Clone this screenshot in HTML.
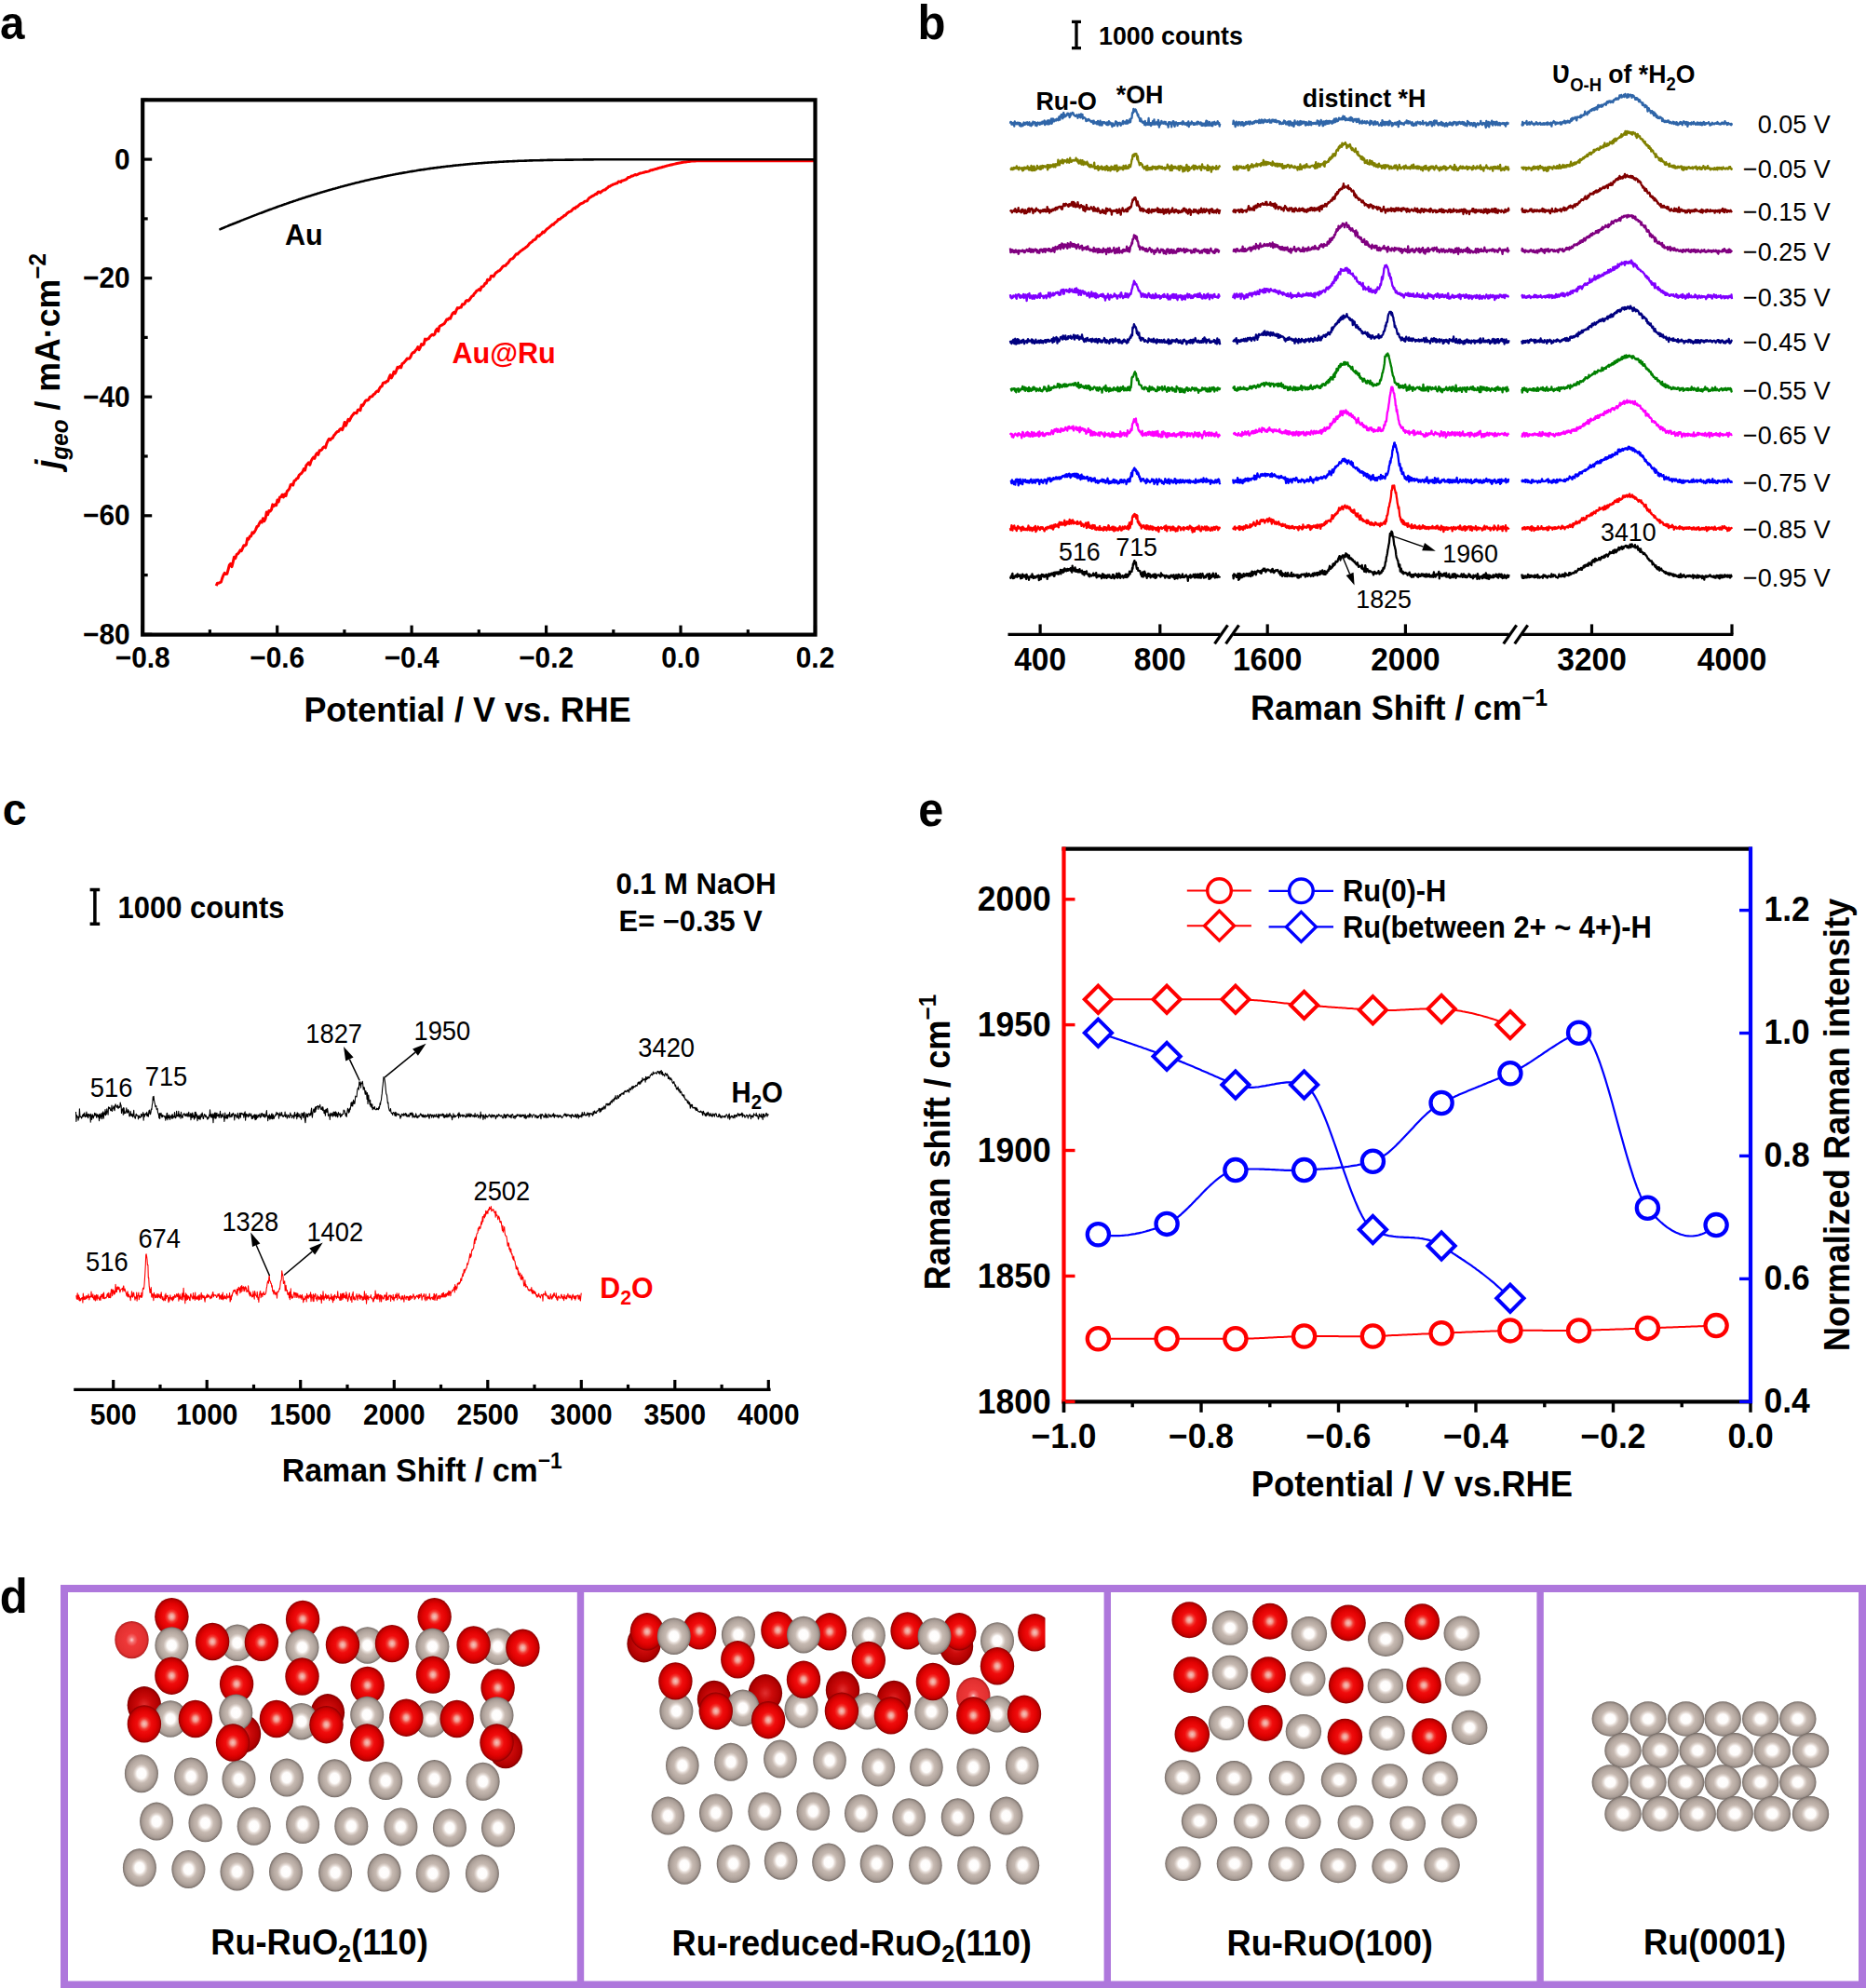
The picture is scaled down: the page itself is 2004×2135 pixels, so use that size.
<!DOCTYPE html>
<html><head><meta charset="utf-8"><title>Figure</title>
<style>html,body{margin:0;padding:0;background:#fff;} svg{display:block;}</style>
</head><body>
<svg width="2004" height="2135" viewBox="0 0 2004 2135" font-family="Liberation Sans, Arial, sans-serif">
<rect width="2004" height="2135" fill="#fff"/>
<defs>
<radialGradient id="gRu" cx="50%" cy="50%" r="50%">
<stop offset="0" stop-color="#ffffff"/><stop offset="0.27" stop-color="#fefcfb"/><stop offset="0.38" stop-color="#e2d8d2"/>
<stop offset="0.5" stop-color="#c6b9b1"/><stop offset="0.7" stop-color="#b8aba3"/><stop offset="0.86" stop-color="#a89c95"/><stop offset="0.95" stop-color="#8a7f79"/><stop offset="1" stop-color="#6e6560"/>
</radialGradient>
<radialGradient id="gRuB" cx="50%" cy="50%" r="50%">
<stop offset="0" stop-color="#f4f2f0"/><stop offset="0.3" stop-color="#e8e2de"/><stop offset="0.5" stop-color="#b8aea8"/>
<stop offset="0.85" stop-color="#9d938d"/><stop offset="1" stop-color="#736a66"/>
</radialGradient>
<radialGradient id="gO" cx="50%" cy="50%" r="50%">
<stop offset="0" stop-color="#f6c4bc"/><stop offset="0.14" stop-color="#f39a90"/><stop offset="0.28" stop-color="#f23a32"/><stop offset="0.42" stop-color="#f00c0c"/>
<stop offset="0.7" stop-color="#e00202"/><stop offset="0.88" stop-color="#c40000"/><stop offset="1" stop-color="#880000"/>
</radialGradient>
<radialGradient id="gOb" cx="50%" cy="50%" r="50%">
<stop offset="0" stop-color="#e03030"/><stop offset="0.4" stop-color="#cc0a0a"/><stop offset="0.85" stop-color="#b00000"/><stop offset="1" stop-color="#800000"/>
</radialGradient>
<radialGradient id="gOl" cx="50%" cy="50%" r="50%">
<stop offset="0" stop-color="#fbd0d0"/><stop offset="0.15" stop-color="#f47070"/><stop offset="0.35" stop-color="#ee3838"/>
<stop offset="0.85" stop-color="#e23030"/><stop offset="1" stop-color="#b02020"/>
</radialGradient>
<clipPath id="clipd2"><rect x="627" y="1710" width="495.5" height="420"/></clipPath>
</defs>
<ellipse cx="151.9" cy="1904.7" rx="18.0" ry="20.5" fill="url(#gRu)"/>
<ellipse cx="205.1" cy="1908.0" rx="18.0" ry="20.5" fill="url(#gRu)"/>
<ellipse cx="256.5" cy="1910.8" rx="18.0" ry="20.5" fill="url(#gRu)"/>
<ellipse cx="308.0" cy="1909.1" rx="18.0" ry="20.5" fill="url(#gRu)"/>
<ellipse cx="359.4" cy="1909.8" rx="18.0" ry="20.5" fill="url(#gRu)"/>
<ellipse cx="414.3" cy="1912.5" rx="18.0" ry="20.5" fill="url(#gRu)"/>
<ellipse cx="466.5" cy="1910.5" rx="18.0" ry="20.5" fill="url(#gRu)"/>
<ellipse cx="518.6" cy="1913.2" rx="18.0" ry="20.5" fill="url(#gRu)"/>
<ellipse cx="168.1" cy="1956.1" rx="18.0" ry="20.5" fill="url(#gRu)"/>
<ellipse cx="220.5" cy="1957.8" rx="18.0" ry="20.5" fill="url(#gRu)"/>
<ellipse cx="272.7" cy="1961.2" rx="18.0" ry="20.5" fill="url(#gRu)"/>
<ellipse cx="325.1" cy="1959.5" rx="18.0" ry="20.5" fill="url(#gRu)"/>
<ellipse cx="377.3" cy="1961.2" rx="18.0" ry="20.5" fill="url(#gRu)"/>
<ellipse cx="430.4" cy="1961.9" rx="18.0" ry="20.5" fill="url(#gRu)"/>
<ellipse cx="482.9" cy="1963.0" rx="18.0" ry="20.5" fill="url(#gRu)"/>
<ellipse cx="535.0" cy="1963.0" rx="18.0" ry="20.5" fill="url(#gRu)"/>
<ellipse cx="149.9" cy="2005.8" rx="18.0" ry="20.5" fill="url(#gRu)"/>
<ellipse cx="202.4" cy="2007.5" rx="18.0" ry="20.5" fill="url(#gRu)"/>
<ellipse cx="254.5" cy="2010.0" rx="18.0" ry="20.5" fill="url(#gRu)"/>
<ellipse cx="307.0" cy="2010.0" rx="18.0" ry="20.5" fill="url(#gRu)"/>
<ellipse cx="360.1" cy="2011.0" rx="18.0" ry="20.5" fill="url(#gRu)"/>
<ellipse cx="412.6" cy="2011.0" rx="18.0" ry="20.5" fill="url(#gRu)"/>
<ellipse cx="464.7" cy="2012.0" rx="18.0" ry="20.5" fill="url(#gRu)"/>
<ellipse cx="517.9" cy="2012.0" rx="18.0" ry="20.5" fill="url(#gRu)"/>
<ellipse cx="154.9" cy="1831.3" rx="18.2" ry="20.2" fill="url(#gOb)"/>
<ellipse cx="351.9" cy="1839.3" rx="18.2" ry="20.2" fill="url(#gOb)"/>
<ellipse cx="262.0" cy="1862.0" rx="18.2" ry="20.2" fill="url(#gOb)"/>
<ellipse cx="543.0" cy="1879.0" rx="18.2" ry="20.2" fill="url(#gOb)"/>
<ellipse cx="254.9" cy="1764.3" rx="18.0" ry="19.8" fill="url(#gRu)"/>
<ellipse cx="394.7" cy="1767.0" rx="18.0" ry="19.8" fill="url(#gRu)"/>
<ellipse cx="534.6" cy="1768.3" rx="18.0" ry="19.8" fill="url(#gRu)"/>
<ellipse cx="183.1" cy="1846.0" rx="18.0" ry="19.8" fill="url(#gRu)"/>
<ellipse cx="323.7" cy="1848.7" rx="18.0" ry="19.8" fill="url(#gRu)"/>
<ellipse cx="463.1" cy="1846.0" rx="18.0" ry="19.8" fill="url(#gRu)"/>
<ellipse cx="141.5" cy="1761.1" rx="18.2" ry="20.2" fill="url(#gOl)"/>
<ellipse cx="184.4" cy="1736.2" rx="18.2" ry="20.2" fill="url(#gO)"/>
<ellipse cx="466.6" cy="1736.2" rx="18.2" ry="20.2" fill="url(#gO)"/>
<ellipse cx="325.1" cy="1738.9" rx="18.2" ry="20.2" fill="url(#gO)"/>
<ellipse cx="228.1" cy="1763.0" rx="18.2" ry="20.2" fill="url(#gO)"/>
<ellipse cx="280.9" cy="1763.8" rx="18.2" ry="20.2" fill="url(#gO)"/>
<ellipse cx="421.0" cy="1765.1" rx="18.2" ry="20.2" fill="url(#gO)"/>
<ellipse cx="368.0" cy="1766.5" rx="18.2" ry="20.2" fill="url(#gO)"/>
<ellipse cx="508.6" cy="1766.5" rx="18.2" ry="20.2" fill="url(#gO)"/>
<ellipse cx="184.4" cy="1767.0" rx="18.0" ry="19.8" fill="url(#gRu)"/>
<ellipse cx="464.4" cy="1768.3" rx="18.0" ry="19.8" fill="url(#gRu)"/>
<ellipse cx="324.5" cy="1769.1" rx="18.0" ry="19.8" fill="url(#gRu)"/>
<ellipse cx="561.4" cy="1769.7" rx="18.2" ry="20.2" fill="url(#gO)"/>
<ellipse cx="465.0" cy="1798.6" rx="18.2" ry="20.2" fill="url(#gO)"/>
<ellipse cx="184.4" cy="1799.7" rx="18.2" ry="20.2" fill="url(#gO)"/>
<ellipse cx="324.5" cy="1800.5" rx="18.2" ry="20.2" fill="url(#gO)"/>
<ellipse cx="254.1" cy="1808.5" rx="18.2" ry="20.2" fill="url(#gO)"/>
<ellipse cx="394.7" cy="1809.9" rx="18.2" ry="20.2" fill="url(#gO)"/>
<ellipse cx="534.6" cy="1812.5" rx="18.2" ry="20.2" fill="url(#gO)"/>
<ellipse cx="253.3" cy="1839.3" rx="18.0" ry="19.8" fill="url(#gRu)"/>
<ellipse cx="394.2" cy="1841.5" rx="18.0" ry="19.8" fill="url(#gRu)"/>
<ellipse cx="533.5" cy="1842.0" rx="18.0" ry="19.8" fill="url(#gRu)"/>
<ellipse cx="436.3" cy="1844.7" rx="18.2" ry="20.2" fill="url(#gO)"/>
<ellipse cx="209.9" cy="1846.0" rx="18.2" ry="20.2" fill="url(#gO)"/>
<ellipse cx="296.9" cy="1846.0" rx="18.2" ry="20.2" fill="url(#gO)"/>
<ellipse cx="490.7" cy="1846.0" rx="18.2" ry="20.2" fill="url(#gO)"/>
<ellipse cx="154.9" cy="1851.4" rx="18.2" ry="20.2" fill="url(#gO)"/>
<ellipse cx="350.5" cy="1852.2" rx="18.2" ry="20.2" fill="url(#gO)"/>
<ellipse cx="250.0" cy="1871.5" rx="18.2" ry="20.2" fill="url(#gO)"/>
<ellipse cx="394.2" cy="1871.5" rx="18.2" ry="20.2" fill="url(#gO)"/>
<ellipse cx="533.5" cy="1871.5" rx="18.2" ry="20.2" fill="url(#gO)"/>
<g clip-path="url(#clipd2)">
<ellipse cx="732.8" cy="1896.1" rx="17.8" ry="20.5" fill="url(#gRu)"/>
<ellipse cx="784.9" cy="1892.2" rx="17.8" ry="20.5" fill="url(#gRu)"/>
<ellipse cx="837.9" cy="1889.0" rx="17.8" ry="20.5" fill="url(#gRu)"/>
<ellipse cx="891.0" cy="1890.6" rx="17.8" ry="20.5" fill="url(#gRu)"/>
<ellipse cx="943.4" cy="1898.0" rx="17.8" ry="20.5" fill="url(#gRu)"/>
<ellipse cx="994.9" cy="1898.0" rx="17.8" ry="20.5" fill="url(#gRu)"/>
<ellipse cx="1045.3" cy="1898.0" rx="17.8" ry="20.5" fill="url(#gRu)"/>
<ellipse cx="1097.7" cy="1896.1" rx="17.8" ry="20.5" fill="url(#gRu)"/>
<ellipse cx="717.4" cy="1950.1" rx="17.8" ry="20.5" fill="url(#gRu)"/>
<ellipse cx="768.8" cy="1946.9" rx="17.8" ry="20.5" fill="url(#gRu)"/>
<ellipse cx="821.2" cy="1945.3" rx="17.8" ry="20.5" fill="url(#gRu)"/>
<ellipse cx="873.3" cy="1945.3" rx="17.8" ry="20.5" fill="url(#gRu)"/>
<ellipse cx="924.8" cy="1947.5" rx="17.8" ry="20.5" fill="url(#gRu)"/>
<ellipse cx="976.2" cy="1951.7" rx="17.8" ry="20.5" fill="url(#gRu)"/>
<ellipse cx="1028.6" cy="1951.7" rx="17.8" ry="20.5" fill="url(#gRu)"/>
<ellipse cx="1080.7" cy="1950.1" rx="17.8" ry="20.5" fill="url(#gRu)"/>
<ellipse cx="735.0" cy="2003.2" rx="17.8" ry="20.5" fill="url(#gRu)"/>
<ellipse cx="787.5" cy="2001.5" rx="17.8" ry="20.5" fill="url(#gRu)"/>
<ellipse cx="838.6" cy="1998.3" rx="17.8" ry="20.5" fill="url(#gRu)"/>
<ellipse cx="890.0" cy="1999.9" rx="17.8" ry="20.5" fill="url(#gRu)"/>
<ellipse cx="941.5" cy="2001.5" rx="17.8" ry="20.5" fill="url(#gRu)"/>
<ellipse cx="993.9" cy="2003.2" rx="17.8" ry="20.5" fill="url(#gRu)"/>
<ellipse cx="1046.0" cy="2003.2" rx="17.8" ry="20.5" fill="url(#gRu)"/>
<ellipse cx="1098.4" cy="2003.2" rx="17.8" ry="20.5" fill="url(#gRu)"/>
<ellipse cx="691.6" cy="1765.2" rx="18.2" ry="20.2" fill="url(#gOb)"/>
<ellipse cx="1027.0" cy="1768.0" rx="18.2" ry="20.2" fill="url(#gOb)"/>
<ellipse cx="767.0" cy="1825.0" rx="18.2" ry="20.2" fill="url(#gOb)"/>
<ellipse cx="821.9" cy="1818.3" rx="18.2" ry="20.2" fill="url(#gOb)"/>
<ellipse cx="905.0" cy="1815.0" rx="18.2" ry="20.2" fill="url(#gOb)"/>
<ellipse cx="960.0" cy="1825.0" rx="18.2" ry="20.2" fill="url(#gOb)"/>
<ellipse cx="1045.3" cy="1821.5" rx="18.2" ry="20.2" fill="url(#gOl)"/>
<ellipse cx="792.9" cy="1755.6" rx="18.0" ry="19.8" fill="url(#gRu)"/>
<ellipse cx="932.8" cy="1756.2" rx="18.0" ry="19.8" fill="url(#gRu)"/>
<ellipse cx="1071.0" cy="1762.0" rx="18.0" ry="19.8" fill="url(#gRu)"/>
<ellipse cx="726.4" cy="1837.6" rx="18.0" ry="19.8" fill="url(#gRu)"/>
<ellipse cx="797.7" cy="1834.3" rx="18.0" ry="19.8" fill="url(#gRu)"/>
<ellipse cx="860.5" cy="1836.0" rx="18.0" ry="19.8" fill="url(#gRu)"/>
<ellipse cx="931.2" cy="1837.6" rx="18.0" ry="19.8" fill="url(#gRu)"/>
<ellipse cx="1000.3" cy="1838.2" rx="18.0" ry="19.8" fill="url(#gRu)"/>
<ellipse cx="1071.0" cy="1840.8" rx="18.0" ry="19.8" fill="url(#gRu)"/>
<ellipse cx="835.4" cy="1750.7" rx="18.2" ry="20.2" fill="url(#gO)"/>
<ellipse cx="751.1" cy="1751.4" rx="18.2" ry="20.2" fill="url(#gO)"/>
<ellipse cx="974.6" cy="1751.4" rx="18.2" ry="20.2" fill="url(#gO)"/>
<ellipse cx="694.9" cy="1752.3" rx="18.2" ry="20.2" fill="url(#gO)"/>
<ellipse cx="891.0" cy="1752.3" rx="18.2" ry="20.2" fill="url(#gO)"/>
<ellipse cx="1030.2" cy="1752.3" rx="18.2" ry="20.2" fill="url(#gO)"/>
<ellipse cx="1111.3" cy="1753.3" rx="18.2" ry="20.2" fill="url(#gO)"/>
<ellipse cx="863.0" cy="1755.6" rx="18.0" ry="19.8" fill="url(#gRu)"/>
<ellipse cx="723.8" cy="1757.2" rx="18.0" ry="19.8" fill="url(#gRu)"/>
<ellipse cx="1003.5" cy="1757.2" rx="18.0" ry="19.8" fill="url(#gRu)"/>
<ellipse cx="792.3" cy="1782.3" rx="18.2" ry="20.2" fill="url(#gO)"/>
<ellipse cx="932.8" cy="1782.9" rx="18.2" ry="20.2" fill="url(#gO)"/>
<ellipse cx="1071.0" cy="1789.3" rx="18.2" ry="20.2" fill="url(#gO)"/>
<ellipse cx="863.0" cy="1803.8" rx="18.2" ry="20.2" fill="url(#gO)"/>
<ellipse cx="725.4" cy="1805.4" rx="18.2" ry="20.2" fill="url(#gO)"/>
<ellipse cx="1001.9" cy="1806.0" rx="18.2" ry="20.2" fill="url(#gO)"/>
<ellipse cx="768.8" cy="1837.6" rx="18.2" ry="20.2" fill="url(#gO)"/>
<ellipse cx="903.9" cy="1837.6" rx="18.2" ry="20.2" fill="url(#gO)"/>
<ellipse cx="1100.0" cy="1840.8" rx="18.2" ry="20.2" fill="url(#gO)"/>
<ellipse cx="956.9" cy="1842.4" rx="18.2" ry="20.2" fill="url(#gO)"/>
<ellipse cx="1045.3" cy="1842.4" rx="18.2" ry="20.2" fill="url(#gO)"/>
<ellipse cx="825.1" cy="1847.2" rx="18.2" ry="20.2" fill="url(#gO)"/>
</g>
<ellipse cx="1270.0" cy="1908.9" rx="19.2" ry="18.6" fill="url(#gRu)"/>
<ellipse cx="1325.3" cy="1909.7" rx="19.2" ry="18.6" fill="url(#gRu)"/>
<ellipse cx="1381.9" cy="1909.7" rx="19.2" ry="18.6" fill="url(#gRu)"/>
<ellipse cx="1438.0" cy="1911.5" rx="19.2" ry="18.6" fill="url(#gRu)"/>
<ellipse cx="1492.5" cy="1912.8" rx="19.2" ry="18.6" fill="url(#gRu)"/>
<ellipse cx="1546.6" cy="1910.2" rx="19.2" ry="18.6" fill="url(#gRu)"/>
<ellipse cx="1288.0" cy="1955.8" rx="19.2" ry="18.6" fill="url(#gRu)"/>
<ellipse cx="1344.1" cy="1955.8" rx="19.2" ry="18.6" fill="url(#gRu)"/>
<ellipse cx="1399.4" cy="1956.5" rx="19.2" ry="18.6" fill="url(#gRu)"/>
<ellipse cx="1455.8" cy="1957.3" rx="19.2" ry="18.6" fill="url(#gRu)"/>
<ellipse cx="1511.8" cy="1958.3" rx="19.2" ry="18.6" fill="url(#gRu)"/>
<ellipse cx="1567.1" cy="1955.8" rx="19.2" ry="18.6" fill="url(#gRu)"/>
<ellipse cx="1270.5" cy="2001.5" rx="19.2" ry="18.6" fill="url(#gRu)"/>
<ellipse cx="1325.9" cy="2001.5" rx="19.2" ry="18.6" fill="url(#gRu)"/>
<ellipse cx="1381.4" cy="2002.0" rx="19.2" ry="18.6" fill="url(#gRu)"/>
<ellipse cx="1437.2" cy="2003.6" rx="19.2" ry="18.6" fill="url(#gRu)"/>
<ellipse cx="1492.5" cy="2004.1" rx="19.2" ry="18.6" fill="url(#gRu)"/>
<ellipse cx="1548.6" cy="2002.8" rx="19.2" ry="18.6" fill="url(#gRu)"/>
<ellipse cx="1321.0" cy="1748.2" rx="19.2" ry="18.6" fill="url(#gRu)"/>
<ellipse cx="1405.9" cy="1754.6" rx="19.2" ry="18.6" fill="url(#gRu)"/>
<ellipse cx="1488.2" cy="1760.3" rx="19.2" ry="18.6" fill="url(#gRu)"/>
<ellipse cx="1569.7" cy="1754.1" rx="19.2" ry="18.6" fill="url(#gRu)"/>
<ellipse cx="1321.0" cy="1796.3" rx="19.2" ry="18.6" fill="url(#gRu)"/>
<ellipse cx="1404.3" cy="1803.0" rx="19.2" ry="18.6" fill="url(#gRu)"/>
<ellipse cx="1487.9" cy="1810.7" rx="19.2" ry="18.6" fill="url(#gRu)"/>
<ellipse cx="1571.0" cy="1803.0" rx="19.2" ry="18.6" fill="url(#gRu)"/>
<ellipse cx="1317.1" cy="1850.5" rx="19.2" ry="18.6" fill="url(#gRu)"/>
<ellipse cx="1399.9" cy="1859.6" rx="19.2" ry="18.6" fill="url(#gRu)"/>
<ellipse cx="1489.5" cy="1861.4" rx="19.2" ry="18.6" fill="url(#gRu)"/>
<ellipse cx="1578.2" cy="1855.4" rx="19.2" ry="18.6" fill="url(#gRu)"/>
<ellipse cx="1277.2" cy="1739.7" rx="18.8" ry="19.5" fill="url(#gO)"/>
<ellipse cx="1363.9" cy="1741.2" rx="18.8" ry="19.5" fill="url(#gO)"/>
<ellipse cx="1448.0" cy="1743.0" rx="18.8" ry="19.5" fill="url(#gO)"/>
<ellipse cx="1527.3" cy="1741.7" rx="18.8" ry="19.5" fill="url(#gO)"/>
<ellipse cx="1279.0" cy="1798.8" rx="18.8" ry="19.5" fill="url(#gO)"/>
<ellipse cx="1362.1" cy="1798.8" rx="18.8" ry="19.5" fill="url(#gO)"/>
<ellipse cx="1445.7" cy="1809.9" rx="18.8" ry="19.5" fill="url(#gO)"/>
<ellipse cx="1529.1" cy="1809.9" rx="18.8" ry="19.5" fill="url(#gO)"/>
<ellipse cx="1280.3" cy="1862.6" rx="18.8" ry="19.5" fill="url(#gO)"/>
<ellipse cx="1358.8" cy="1850.5" rx="18.8" ry="19.5" fill="url(#gO)"/>
<ellipse cx="1444.4" cy="1865.2" rx="18.8" ry="19.5" fill="url(#gO)"/>
<ellipse cx="1535.0" cy="1864.7" rx="18.8" ry="19.5" fill="url(#gO)"/>
<ellipse cx="1729.3" cy="1846.0" rx="19.7" ry="18.8" fill="url(#gRu)"/>
<ellipse cx="1770.0" cy="1846.0" rx="19.7" ry="18.8" fill="url(#gRu)"/>
<ellipse cx="1810.6" cy="1846.0" rx="19.7" ry="18.8" fill="url(#gRu)"/>
<ellipse cx="1850.2" cy="1846.0" rx="19.7" ry="18.8" fill="url(#gRu)"/>
<ellipse cx="1890.7" cy="1846.0" rx="19.7" ry="18.8" fill="url(#gRu)"/>
<ellipse cx="1930.8" cy="1846.0" rx="19.7" ry="18.8" fill="url(#gRu)"/>
<ellipse cx="1743.0" cy="1879.9" rx="19.7" ry="18.8" fill="url(#gRu)"/>
<ellipse cx="1783.1" cy="1879.9" rx="19.7" ry="18.8" fill="url(#gRu)"/>
<ellipse cx="1823.2" cy="1879.9" rx="19.7" ry="18.8" fill="url(#gRu)"/>
<ellipse cx="1863.2" cy="1879.9" rx="19.7" ry="18.8" fill="url(#gRu)"/>
<ellipse cx="1903.3" cy="1879.9" rx="19.7" ry="18.8" fill="url(#gRu)"/>
<ellipse cx="1944.5" cy="1879.9" rx="19.7" ry="18.8" fill="url(#gRu)"/>
<ellipse cx="1729.3" cy="1914.0" rx="19.7" ry="18.8" fill="url(#gRu)"/>
<ellipse cx="1770.0" cy="1914.0" rx="19.7" ry="18.8" fill="url(#gRu)"/>
<ellipse cx="1810.6" cy="1914.0" rx="19.7" ry="18.8" fill="url(#gRu)"/>
<ellipse cx="1850.2" cy="1914.0" rx="19.7" ry="18.8" fill="url(#gRu)"/>
<ellipse cx="1890.7" cy="1914.0" rx="19.7" ry="18.8" fill="url(#gRu)"/>
<ellipse cx="1930.8" cy="1914.0" rx="19.7" ry="18.8" fill="url(#gRu)"/>
<ellipse cx="1743.0" cy="1947.9" rx="19.7" ry="18.8" fill="url(#gRu)"/>
<ellipse cx="1783.1" cy="1947.9" rx="19.7" ry="18.8" fill="url(#gRu)"/>
<ellipse cx="1823.2" cy="1947.9" rx="19.7" ry="18.8" fill="url(#gRu)"/>
<ellipse cx="1863.2" cy="1947.9" rx="19.7" ry="18.8" fill="url(#gRu)"/>
<ellipse cx="1903.3" cy="1947.9" rx="19.7" ry="18.8" fill="url(#gRu)"/>
<ellipse cx="1944.5" cy="1947.9" rx="19.7" ry="18.8" fill="url(#gRu)"/>
<rect x="69" y="1706" width="1931" height="425.5" fill="none" stroke="#AE77DC" stroke-width="8"/>
<line x1="623.5" y1="1706" x2="623.5" y2="2131" stroke="#AE77DC" stroke-width="7.4"/>
<line x1="1189.3" y1="1706" x2="1189.3" y2="2131" stroke="#AE77DC" stroke-width="7.4"/>
<line x1="1654.1" y1="1706" x2="1654.1" y2="2131" stroke="#AE77DC" stroke-width="7.4"/>
<text transform="translate(343.0,2099.2) scale(1.012,1.065)" font-size="35.8" font-weight="bold" text-anchor="middle">Ru-RuO<tspan font-size="25" dy="7">2</tspan><tspan dy="-7">(110)</tspan></text>
<text transform="translate(914.7,2099.6) scale(1.012,1.065)" font-size="35.8" font-weight="bold" text-anchor="middle">Ru-reduced-RuO<tspan font-size="25" dy="7">2</tspan><tspan dy="-7">(110)</tspan></text>
<text transform="translate(1428.2,2099.9) scale(1.012,1.065)" font-size="35.8" font-weight="bold" text-anchor="middle">Ru-RuO(100)</text>
<text transform="translate(1841.5,2099.0) scale(1.012,1.065)" font-size="35.8" font-weight="bold" text-anchor="middle">Ru(0001)</text>
<text transform="translate(-0.3,1732.2) scale(1.012,1.065)" font-size="48.5" font-weight="bold">d</text>
<polyline points="232.2,629.2 233.5,626.2 234.8,626.3 236.1,625.6 237.4,625.1 238.6,621.1 239.9,617.8 241.2,615.4 242.5,616.5 243.8,616.3 245.1,611.7 246.4,606.7 247.7,605.4 249.0,608.6 250.2,603.9 251.5,598.2 252.8,599.6 254.1,595.6 255.4,594.8 256.7,593.2 258.0,590.9 259.3,591.6 260.6,588.6 261.9,585.7 263.1,585.9 264.4,585.0 265.7,578.2 267.0,579.2 268.3,576.0 269.6,575.9 270.9,571.9 272.2,572.7 273.5,570.9 274.7,568.6 276.0,565.4 277.3,565.0 278.6,561.9 279.9,559.7 281.2,561.1 282.5,556.8 283.8,559.6 285.1,557.0 286.3,550.1 287.6,552.8 288.9,548.5 290.2,549.0 291.5,547.4 292.8,541.9 294.1,543.6 295.4,541.9 296.7,542.6 297.9,537.0 299.2,539.0 300.5,533.9 301.8,533.8 303.1,531.2 304.4,533.9 305.7,530.7 307.0,532.5 308.3,527.6 309.6,526.4 310.8,524.9 312.1,520.7 313.4,520.1 314.7,521.1 316.0,516.4 317.3,515.9 318.6,514.0 319.9,513.6 321.2,510.4 322.4,509.2 323.7,508.4 325.0,506.7 326.3,503.5 327.6,505.0 328.9,499.7 330.2,498.4 331.5,496.8 332.8,499.2 334.0,495.4 335.3,492.9 336.6,491.2 337.9,492.3 339.2,488.4 340.5,486.6 341.8,488.3 343.1,483.8 344.4,483.8 345.6,482.9 346.9,480.7 348.2,479.9 349.5,480.8 350.8,476.3 352.1,473.6 353.4,471.3 354.7,472.5 356.0,470.9 357.3,470.4 358.5,467.8 359.8,466.4 361.1,464.6 362.4,463.5 363.7,463.2 365.0,461.0 366.3,460.3 367.6,461.7 368.9,458.1 370.1,453.5 371.4,457.2 372.7,453.7 374.0,450.4 375.3,451.8 376.6,449.1 377.9,446.7 379.2,445.3 380.5,443.4 381.7,443.6 383.0,443.8 384.3,440.3 385.6,440.1 386.9,440.8 388.2,435.0 389.5,435.7 390.8,433.6 392.1,431.1 393.3,429.8 394.6,429.9 395.9,429.2 397.2,426.5 398.5,426.0 399.8,425.6 401.1,423.6 402.4,423.1 403.7,421.2 404.9,419.9 406.2,420.4 407.5,417.4 408.8,415.4 410.1,414.9 411.4,411.3 412.7,410.8 414.0,411.0 415.3,409.4 416.6,409.3 417.8,405.9 419.1,402.7 420.4,405.9 421.7,403.4 423.0,399.3 424.3,401.1 425.6,398.1 426.9,394.4 428.2,394.9 429.4,393.5 430.7,394.8 432.0,390.5 433.3,389.9 434.6,388.5 435.9,387.1 437.2,385.1 438.5,385.2 439.8,385.0 441.0,383.1 442.3,379.9 443.6,378.4 444.9,378.6 446.2,376.3 447.5,375.2 448.8,372.6 450.1,375.6 451.4,373.1 452.6,369.6 453.9,370.5 455.2,369.7 456.5,364.1 457.8,365.0 459.1,363.9 460.4,363.8 461.7,361.6 463.0,360.2 464.3,359.2 465.5,360.0 466.8,359.1 468.1,354.8 469.4,353.1 470.7,355.8 472.0,350.5 473.3,349.7 474.6,349.1 475.9,348.3 477.1,347.6 478.4,345.7 479.7,343.1 481.0,343.3 482.3,341.7 483.6,342.2 484.9,339.0 486.2,336.4 487.5,335.4 488.7,336.7 490.0,333.4 491.3,330.6 492.6,330.9 493.9,330.2 495.2,330.1 496.5,326.8 497.8,327.1 499.1,326.0 500.3,323.4 501.6,322.6 502.9,323.2 504.2,321.9 505.5,319.9 506.8,318.2 508.1,317.7 509.4,315.3 510.7,314.1 512.0,312.2 513.2,311.8 514.5,310.5 515.8,311.8 517.1,307.9 518.4,308.0 519.7,306.8 521.0,304.3 522.3,304.3 523.6,300.2 524.8,300.9 526.1,300.4 527.4,296.5 528.7,296.3 530.0,296.9 531.3,294.7 532.6,292.8 533.9,292.2 535.2,290.9 536.4,290.7 537.7,289.3 539.0,287.6 540.3,286.1 541.6,285.4 542.9,285.3 544.2,283.4 545.5,282.5 546.8,280.7 548.0,278.7 549.3,278.0 550.6,277.8 551.9,276.3 553.2,274.4 554.5,272.8 555.8,272.9 557.1,271.4 558.4,270.3 559.7,269.2 560.9,268.5 562.2,267.4 563.5,266.7 564.8,265.6 566.1,264.7 567.4,263.3 568.7,261.4 570.0,260.5 571.3,259.8 572.5,258.2 573.8,257.6 575.1,256.9 576.4,254.7 577.7,253.0 579.0,253.7 580.3,252.0 581.6,251.3 582.9,249.1 584.1,249.8 585.4,248.2 586.7,246.6 588.0,245.5 589.3,244.7 590.6,243.5 591.9,242.4 593.2,241.0 594.5,241.2 595.7,239.5 597.0,238.6 598.3,237.6 599.6,235.4 600.9,235.8 602.2,234.4 603.5,233.5 604.8,232.7 606.1,231.2 607.4,231.2 608.6,229.5 609.9,228.4 611.2,227.5 612.5,227.1 613.8,226.4 615.1,224.8 616.4,223.5 617.7,223.9 619.0,221.9 620.2,222.1 621.5,220.6 622.8,219.4 624.1,218.6 625.4,218.3 626.7,217.6 628.0,216.2 629.3,216.0 630.6,215.7 631.8,213.7 633.1,212.4 634.4,211.7 635.7,210.7 637.0,210.3 638.3,209.4 639.6,208.3 640.9,208.5 642.2,206.2 643.4,206.0 644.7,207.0 646.0,205.7 647.3,204.7 648.6,204.0 649.9,203.9 651.2,202.6 652.5,201.7 653.8,200.3 655.1,200.2 656.3,199.2 657.6,198.6 658.9,197.9 660.2,197.6 661.5,196.9 662.8,196.8 664.1,195.1 665.4,195.1 666.7,195.5 667.9,194.0 669.2,194.0 670.5,193.4 671.8,193.0 673.1,192.2 674.4,190.6 675.7,190.6 677.0,190.0 678.3,189.0 679.5,189.0 680.8,188.2 682.1,187.5 683.4,188.0 684.7,187.4 686.0,186.7 687.3,186.1 688.6,185.9 689.9,185.6 691.1,185.2 692.4,185.0 693.7,184.4 695.0,184.4 696.3,184.1 697.6,183.6 698.9,182.7 700.2,182.7 701.5,182.3 702.8,181.9 704.0,181.5 705.3,181.2 706.6,180.8 707.9,180.4 709.2,180.0 710.5,179.7 711.8,179.3 713.1,179.0 714.4,178.6 715.6,178.3 716.9,177.9 718.2,177.6 719.5,177.3 720.8,177.0 722.1,176.7 723.4,176.4 724.7,176.1 726.0,175.8 727.2,175.5 728.5,175.2 729.8,175.0 731.1,174.8 732.4,174.5 733.7,174.3 735.0,174.1 736.3,173.9 737.6,173.7 738.8,173.6 740.1,173.4 741.4,173.3 742.7,173.1 744.0,173.0 745.3,172.9 746.6,172.9 747.9,172.8 749.2,172.7 750.4,172.7 751.7,172.7 753.0,172.7 754.3,172.7 755.6,172.7 756.9,172.7 758.2,172.7 759.5,172.7 760.8,172.7 762.1,172.7 763.3,172.7 764.6,172.7 765.9,172.7 767.2,172.7 768.5,172.7 769.8,172.7 771.1,172.7 772.4,172.7 773.7,172.7 774.9,172.7 776.2,172.7 777.5,172.7 778.8,172.7 780.1,172.7 781.4,172.7 782.7,172.7 784.0,172.7 785.3,172.7 786.5,172.7 787.8,172.7 789.1,172.7 790.4,172.7 791.7,172.7 793.0,172.7 794.3,172.7 795.6,172.7 796.9,172.7 798.1,172.7 799.4,172.7 800.7,172.7 802.0,172.7 803.3,172.7 804.6,172.7 805.9,172.7 807.2,172.7 808.5,172.7 809.8,172.7 811.0,172.7 812.3,172.7 813.6,172.7 814.9,172.7 816.2,172.7 817.5,172.7 818.8,172.7 820.1,172.7 821.4,172.7 822.6,172.7 823.9,172.7 825.2,172.7 826.5,172.7 827.8,172.7 829.1,172.7 830.4,172.7 831.7,172.7 833.0,172.7 834.2,172.7 835.5,172.7 836.8,172.7 838.1,172.7 839.4,172.7 840.7,172.7 842.0,172.7 843.3,172.7 844.6,172.7 845.8,172.7 847.1,172.7 848.4,172.7 849.7,172.7 851.0,172.7 852.3,172.7 853.6,172.7 854.9,172.7 856.2,172.7 857.5,172.7 858.7,172.7 860.0,172.7 861.3,172.7 862.6,172.7 863.9,172.7 865.2,172.7 866.5,172.7 867.8,172.7 869.1,172.7 870.3,172.7 871.6,172.7 872.9,172.7 874.2,172.7 875.5,172.7" fill="none" stroke="#f00" stroke-width="3.0" stroke-linejoin="round"/>
<polyline points="235.4,246.6 236.7,246.1 238.0,245.5 239.2,245.0 240.5,244.5 241.8,243.9 243.1,243.4 244.4,242.9 245.7,242.3 246.9,241.8 248.2,241.3 249.5,240.8 250.8,240.2 252.1,239.7 253.4,239.2 254.6,238.7 255.9,238.2 257.2,237.7 258.5,237.1 259.8,236.6 261.1,236.1 262.3,235.6 263.6,235.1 264.9,234.6 266.2,234.1 267.5,233.6 268.8,233.1 270.0,232.6 271.3,232.1 272.6,231.6 273.9,231.1 275.2,230.6 276.4,230.1 277.7,229.6 279.0,229.1 280.3,228.7 281.6,228.2 282.9,227.7 284.1,227.2 285.4,226.7 286.7,226.3 288.0,225.8 289.3,225.3 290.6,224.8 291.8,224.4 293.1,223.9 294.4,223.4 295.7,223.0 297.0,222.5 298.3,222.0 299.5,221.6 300.8,221.1 302.1,220.7 303.4,220.2 304.7,219.8 306.0,219.3 307.2,218.9 308.5,218.4 309.8,218.0 311.1,217.5 312.4,217.1 313.6,216.7 314.9,216.2 316.2,215.8 317.5,215.4 318.8,214.9 320.1,214.5 321.3,214.1 322.6,213.7 323.9,213.3 325.2,212.8 326.5,212.4 327.8,212.0 329.0,211.6 330.3,211.2 331.6,210.8 332.9,210.4 334.2,210.0 335.5,209.6 336.7,209.2 338.0,208.8 339.3,208.4 340.6,208.0 341.9,207.6 343.2,207.2 344.4,206.8 345.7,206.4 347.0,206.1 348.3,205.7 349.6,205.3 350.8,204.9 352.1,204.6 353.4,204.2 354.7,203.8 356.0,203.5 357.3,203.1 358.5,202.7 359.8,202.4 361.1,202.0 362.4,201.7 363.7,201.3 365.0,201.0 366.2,200.6 367.5,200.3 368.8,199.9 370.1,199.6 371.4,199.2 372.7,198.9 373.9,198.6 375.2,198.2 376.5,197.9 377.8,197.6 379.1,197.2 380.4,196.9 381.6,196.6 382.9,196.3 384.2,196.0 385.5,195.7 386.8,195.3 388.0,195.0 389.3,194.7 390.6,194.4 391.9,194.1 393.2,193.8 394.5,193.5 395.7,193.2 397.0,192.9 398.3,192.6 399.6,192.3 400.9,192.1 402.2,191.8 403.4,191.5 404.7,191.2 406.0,190.9 407.3,190.7 408.6,190.4 409.9,190.1 411.1,189.9 412.4,189.6 413.7,189.3 415.0,189.1 416.3,188.8 417.6,188.5 418.8,188.3 420.1,188.0 421.4,187.8 422.7,187.5 424.0,187.3 425.2,187.0 426.5,186.8 427.8,186.6 429.1,186.3 430.4,186.1 431.7,185.9 432.9,185.6 434.2,185.4 435.5,185.2 436.8,185.0 438.1,184.7 439.4,184.5 440.6,184.3 441.9,184.1 443.2,183.9 444.5,183.7 445.8,183.5 447.1,183.3 448.3,183.0 449.6,182.8 450.9,182.6 452.2,182.4 453.5,182.3 454.8,182.1 456.0,181.9 457.3,181.7 458.6,181.5 459.9,181.3 461.2,181.1 462.4,180.9 463.7,180.8 465.0,180.6 466.3,180.4 467.6,180.3 468.9,180.1 470.1,179.9 471.4,179.7 472.7,179.6 474.0,179.4 475.3,179.3 476.6,179.1 477.8,179.0 479.1,178.8 480.4,178.6 481.7,178.5 483.0,178.4 484.3,178.2 485.5,178.1 486.8,177.9 488.1,177.8 489.4,177.6 490.7,177.5 492.0,177.4 493.2,177.2 494.5,177.1 495.8,177.0 497.1,176.9 498.4,176.7 499.6,176.6 500.9,176.5 502.2,176.4 503.5,176.3 504.8,176.1 506.1,176.0 507.3,175.9 508.6,175.8 509.9,175.7 511.2,175.6 512.5,175.5 513.8,175.4 515.0,175.3 516.3,175.2 517.6,175.1 518.9,175.0 520.2,174.9 521.5,174.8 522.7,174.7 524.0,174.6 525.3,174.5 526.6,174.5 527.9,174.4 529.2,174.3 530.4,174.2 531.7,174.1 533.0,174.1 534.3,174.0 535.6,173.9 536.8,173.8 538.1,173.8 539.4,173.7 540.7,173.6 542.0,173.5 543.3,173.5 544.5,173.4 545.8,173.4 547.1,173.3 548.4,173.2 549.7,173.2 551.0,173.1 552.2,173.1 553.5,173.0 554.8,173.0 556.1,172.9 557.4,172.8 558.7,172.8 559.9,172.7 561.2,172.7 562.5,172.7 563.8,172.6 565.1,172.6 566.4,172.5 567.6,172.5 568.9,172.4 570.2,172.4 571.5,172.4 572.8,172.3 574.1,172.3 575.3,172.3 576.6,172.2 577.9,172.2 579.2,172.2 580.5,172.1 581.7,172.1 583.0,172.1 584.3,172.0 585.6,172.0 586.9,172.0 588.2,171.9 589.4,171.9 590.7,171.9 592.0,171.9 593.3,171.9 594.6,171.8 595.9,171.8 597.1,171.8 598.4,171.8 599.7,171.7 601.0,171.7 602.3,171.7 603.6,171.7 604.8,171.7 606.1,171.7 607.4,171.6 608.7,171.6 610.0,171.6 611.3,171.6 612.5,171.6 613.8,171.6 615.1,171.6 616.4,171.5 617.7,171.5 618.9,171.5 620.2,171.5 621.5,171.5 622.8,171.5 624.1,171.5 625.4,171.5 626.6,171.4 627.9,171.4 629.2,171.4 630.5,171.4 631.8,171.4 633.1,171.4 634.3,171.4 635.6,171.4 636.9,171.4 638.2,171.3 639.5,171.3 640.8,171.3 642.0,171.3 643.3,171.3 644.6,171.3 645.9,171.3 647.2,171.3 648.5,171.3 649.7,171.3 651.0,171.3 652.3,171.3 653.6,171.3 654.9,171.3 656.1,171.2 657.4,171.2 658.7,171.2 660.0,171.2 661.3,171.2 662.6,171.2 663.8,171.2 665.1,171.2 666.4,171.2 667.7,171.2 669.0,171.2 670.3,171.2 671.5,171.2 672.8,171.2 674.1,171.2 675.4,171.2 676.7,171.2 678.0,171.2 679.2,171.2 680.5,171.2 681.8,171.2 683.1,171.2 684.4,171.2 685.7,171.2 686.9,171.2 688.2,171.2 689.5,171.2 690.8,171.2 692.1,171.2 693.3,171.2 694.6,171.2 695.9,171.2 697.2,171.2 698.5,171.2 699.8,171.2 701.0,171.2 702.3,171.2 703.6,171.2 704.9,171.2 706.2,171.2 707.5,171.2 708.7,171.2 710.0,171.2 711.3,171.2 712.6,171.2 713.9,171.2 715.2,171.2 716.4,171.2 717.7,171.2 719.0,171.2 720.3,171.2 721.6,171.2 722.9,171.2 724.1,171.2 725.4,171.2 726.7,171.2 728.0,171.2 729.3,171.2 730.5,171.2 731.8,171.2 733.1,171.2 734.4,171.2 735.7,171.2 737.0,171.2 738.2,171.2 739.5,171.2 740.8,171.2 742.1,171.2 743.4,171.2 744.7,171.2 745.9,171.2 747.2,171.2 748.5,171.2 749.8,171.2 751.1,171.2 752.4,171.2 753.6,171.2 754.9,171.2 756.2,171.2 757.5,171.2 758.8,171.2 760.1,171.2 761.3,171.2 762.6,171.2 763.9,171.2 765.2,171.2 766.5,171.2 767.7,171.2 769.0,171.2 770.3,171.2 771.6,171.2 772.9,171.2 774.2,171.2 775.4,171.2 776.7,171.2 778.0,171.2 779.3,171.2 780.6,171.2 781.9,171.2 783.1,171.2 784.4,171.2 785.7,171.2 787.0,171.2 788.3,171.2 789.6,171.2 790.8,171.2 792.1,171.2 793.4,171.2 794.7,171.2 796.0,171.2 797.3,171.2 798.5,171.2 799.8,171.2 801.1,171.2 802.4,171.2 803.7,171.2 804.9,171.2 806.2,171.2 807.5,171.2 808.8,171.2 810.1,171.2 811.4,171.2 812.6,171.2 813.9,171.2 815.2,171.2 816.5,171.2 817.8,171.2 819.1,171.2 820.3,171.2 821.6,171.2 822.9,171.2 824.2,171.2 825.5,171.2 826.8,171.2 828.0,171.2 829.3,171.2 830.6,171.2 831.9,171.2 833.2,171.2 834.5,171.2 835.7,171.2 837.0,171.2 838.3,171.2 839.6,171.2 840.9,171.2 842.1,171.2 843.4,171.2 844.7,171.2 846.0,171.2 847.3,171.2 848.6,171.2 849.8,171.2 851.1,171.2 852.4,171.2 853.7,171.2 855.0,171.2 856.3,171.2 857.5,171.2 858.8,171.2 860.1,171.2 861.4,171.2 862.7,171.2 864.0,171.2 865.2,171.2 866.5,171.2 867.8,171.2 869.1,171.2 870.4,171.2 871.7,171.2 872.9,171.2 874.2,171.2 875.5,171.2" fill="none" stroke="#000" stroke-width="2.6" stroke-linejoin="round"/>
<rect x="153.2" y="107.3" width="722.3" height="574.3" fill="none" stroke="#000" stroke-width="4.2"/>
<line x1="153.2" y1="681.6" x2="153.2" y2="671.6" stroke="#000" stroke-width="3.2"/>
<line x1="225.4" y1="681.6" x2="225.4" y2="676.1" stroke="#000" stroke-width="3.2"/>
<line x1="297.7" y1="681.6" x2="297.7" y2="671.6" stroke="#000" stroke-width="3.2"/>
<line x1="369.9" y1="681.6" x2="369.9" y2="676.1" stroke="#000" stroke-width="3.2"/>
<line x1="442.1" y1="681.6" x2="442.1" y2="671.6" stroke="#000" stroke-width="3.2"/>
<line x1="514.3" y1="681.6" x2="514.3" y2="676.1" stroke="#000" stroke-width="3.2"/>
<line x1="586.6" y1="681.6" x2="586.6" y2="671.6" stroke="#000" stroke-width="3.2"/>
<line x1="658.8" y1="681.6" x2="658.8" y2="676.1" stroke="#000" stroke-width="3.2"/>
<line x1="731.0" y1="681.6" x2="731.0" y2="671.6" stroke="#000" stroke-width="3.2"/>
<line x1="803.3" y1="681.6" x2="803.3" y2="676.1" stroke="#000" stroke-width="3.2"/>
<line x1="875.5" y1="681.6" x2="875.5" y2="671.6" stroke="#000" stroke-width="3.2"/>
<line x1="153.2" y1="681.3" x2="163.2" y2="681.3" stroke="#000" stroke-width="3.2"/>
<line x1="153.2" y1="617.6" x2="158.7" y2="617.6" stroke="#000" stroke-width="3.2"/>
<line x1="153.2" y1="553.8" x2="163.2" y2="553.8" stroke="#000" stroke-width="3.2"/>
<line x1="153.2" y1="490.0" x2="158.7" y2="490.0" stroke="#000" stroke-width="3.2"/>
<line x1="153.2" y1="426.2" x2="163.2" y2="426.2" stroke="#000" stroke-width="3.2"/>
<line x1="153.2" y1="362.4" x2="158.7" y2="362.4" stroke="#000" stroke-width="3.2"/>
<line x1="153.2" y1="298.7" x2="163.2" y2="298.7" stroke="#000" stroke-width="3.2"/>
<line x1="153.2" y1="234.9" x2="158.7" y2="234.9" stroke="#000" stroke-width="3.2"/>
<line x1="153.2" y1="171.1" x2="163.2" y2="171.1" stroke="#000" stroke-width="3.2"/>
<line x1="153.2" y1="107.3" x2="158.7" y2="107.3" stroke="#000" stroke-width="3.2"/>
<text transform="translate(153.2,717.2) scale(1.012,1.065)" font-size="29.5" font-weight="bold" text-anchor="middle">−0.8</text>
<text transform="translate(297.7,717.2) scale(1.012,1.065)" font-size="29.5" font-weight="bold" text-anchor="middle">−0.6</text>
<text transform="translate(442.1,717.2) scale(1.012,1.065)" font-size="29.5" font-weight="bold" text-anchor="middle">−0.4</text>
<text transform="translate(586.6,717.2) scale(1.012,1.065)" font-size="29.5" font-weight="bold" text-anchor="middle">−0.2</text>
<text transform="translate(731.0,717.2) scale(1.012,1.065)" font-size="29.5" font-weight="bold" text-anchor="middle">0.0</text>
<text transform="translate(875.5,717.2) scale(1.012,1.065)" font-size="29.5" font-weight="bold" text-anchor="middle">0.2</text>
<text transform="translate(139.6,691.9) scale(1.012,1.065)" font-size="29.5" font-weight="bold" text-anchor="end">−80</text>
<text transform="translate(139.6,564.4) scale(1.012,1.065)" font-size="29.5" font-weight="bold" text-anchor="end">−60</text>
<text transform="translate(139.6,436.8) scale(1.012,1.065)" font-size="29.5" font-weight="bold" text-anchor="end">−40</text>
<text transform="translate(139.6,309.3) scale(1.012,1.065)" font-size="29.5" font-weight="bold" text-anchor="end">−20</text>
<text transform="translate(139.6,181.7) scale(1.012,1.065)" font-size="29.5" font-weight="bold" text-anchor="end">0</text>
<text transform="translate(502.0,775.2) scale(1.012,1.065)" font-size="35.5" font-weight="bold" text-anchor="middle">Potential / V vs. RHE</text>
<text transform="translate(63.8,387.8) rotate(-90) scale(1.012,1.065)" text-anchor="middle" font-family="Liberation Sans, Arial, sans-serif" font-weight="bold" font-size="35.3"><tspan font-style="italic">j</tspan><tspan font-style="italic" font-size="24" dy="8.5">geo</tspan><tspan dy="-8.5"> / mA·cm</tspan><tspan font-size="24" dy="-14">−2</tspan></text>
<text transform="translate(306.0,262.9) scale(1.012,1.065)" font-size="30.2" font-weight="bold">Au</text>
<text transform="translate(485.5,389.9) scale(1.012,1.065)" font-size="30.2" font-weight="bold" fill="#f00">Au@Ru</text>
<text transform="translate(0.0,41.6) scale(1.012,1.065)" font-size="47" font-weight="bold">a</text>
<polyline points="1084.9,132.7 1085.4,130.8 1085.9,131.0 1086.4,133.5 1086.9,133.2 1087.4,133.6 1087.8,132.0 1088.3,132.9 1088.8,131.7 1089.3,135.5 1089.8,130.5 1090.3,132.9 1090.8,131.8 1091.3,133.0 1091.8,133.3 1092.3,132.1 1092.8,131.6 1093.2,133.1 1093.7,133.0 1094.2,131.8 1094.7,134.1 1095.2,135.0 1095.7,132.2 1096.2,133.8 1096.7,135.6 1097.2,134.0 1097.7,133.5 1098.2,134.5 1098.6,135.0 1099.1,132.7 1099.6,131.5 1100.1,133.1 1100.6,133.9 1101.1,132.2 1101.6,131.7 1102.1,133.2 1102.6,132.0 1103.1,131.3 1103.6,133.1 1104.0,134.0 1104.5,132.3 1105.0,132.4 1105.5,131.2 1106.0,134.6 1106.5,133.7 1107.0,134.0 1107.5,135.3 1108.0,132.6 1108.5,132.0 1109.0,133.8 1109.4,130.7 1109.9,131.5 1110.4,131.8 1110.9,132.1 1111.4,131.3 1111.9,134.6 1112.4,131.8 1112.9,131.8 1113.4,135.2 1113.9,132.1 1114.4,133.0 1114.8,131.5 1115.3,133.2 1115.8,132.6 1116.3,132.0 1116.8,133.8 1117.3,131.6 1117.8,132.6 1118.3,131.7 1118.8,133.1 1119.3,130.7 1119.8,131.4 1120.2,132.5 1120.7,131.2 1121.2,130.3 1121.7,129.4 1122.2,134.2 1122.7,130.6 1123.2,131.1 1123.7,131.9 1124.2,133.1 1124.7,129.7 1125.1,133.3 1125.6,130.5 1126.1,129.3 1126.6,133.4 1127.1,131.4 1127.6,132.7 1128.1,130.4 1128.6,128.4 1129.1,127.5 1129.6,132.8 1130.1,130.9 1130.5,128.9 1131.0,127.5 1131.5,129.0 1132.0,130.5 1132.5,128.7 1133.0,129.0 1133.5,129.1 1134.0,129.6 1134.5,127.8 1135.0,127.7 1135.5,128.0 1135.9,128.0 1136.4,129.3 1136.9,127.9 1137.4,125.3 1137.9,127.0 1138.4,128.6 1138.9,124.4 1139.4,125.3 1139.9,122.8 1140.4,125.5 1140.9,126.1 1141.3,127.3 1141.8,123.1 1142.3,121.0 1142.8,125.8 1143.3,125.3 1143.8,123.3 1144.3,125.2 1144.8,124.2 1145.3,124.2 1145.8,123.3 1146.3,121.8 1146.7,123.3 1147.2,121.8 1147.7,123.7 1148.2,122.5 1148.7,126.0 1149.2,125.0 1149.7,121.7 1150.2,123.7 1150.7,121.9 1151.2,122.0 1151.7,120.9 1152.1,121.7 1152.6,121.4 1153.1,123.1 1153.6,124.0 1154.1,124.2 1154.6,123.9 1155.1,124.9 1155.6,124.2 1156.1,123.7 1156.6,123.3 1157.1,124.4 1157.5,126.8 1158.0,124.3 1158.5,124.1 1159.0,123.0 1159.5,124.0 1160.0,125.9 1160.5,126.3 1161.0,122.5 1161.5,124.6 1162.0,123.2 1162.5,123.0 1162.9,127.5 1163.4,126.0 1163.9,126.1 1164.4,126.2 1164.9,126.5 1165.4,127.2 1165.9,127.5 1166.4,130.1 1166.9,128.4 1167.4,129.5 1167.9,128.4 1168.3,129.5 1168.8,128.1 1169.3,128.0 1169.8,128.9 1170.3,129.1 1170.8,129.6 1171.3,130.6 1171.8,130.3 1172.3,131.0 1172.8,129.9 1173.3,130.5 1173.7,129.9 1174.2,132.8 1174.7,129.7 1175.2,132.2 1175.7,132.3 1176.2,131.6 1176.7,132.2 1177.2,131.1 1177.7,132.5 1178.2,133.3 1178.7,133.0 1179.1,130.0 1179.6,131.9 1180.1,133.7 1180.6,132.1 1181.1,134.4 1181.6,129.6 1182.1,134.4 1182.6,131.6 1183.1,131.5 1183.6,134.5 1184.1,132.0 1184.5,131.0 1185.0,131.8 1185.5,132.1 1186.0,131.1 1186.5,132.3 1187.0,132.1 1187.5,132.8 1188.0,131.7 1188.5,134.0 1189.0,131.5 1189.5,133.4 1189.9,134.2 1190.4,132.1 1190.9,130.2 1191.4,131.3 1191.9,133.4 1192.4,131.7 1192.9,133.3 1193.4,132.9 1193.9,132.5 1194.4,136.0 1194.9,132.4 1195.3,134.2 1195.8,133.7 1196.3,134.8 1196.8,134.9 1197.3,134.0 1197.8,131.5 1198.3,130.2 1198.8,132.7 1199.3,131.1 1199.8,133.0 1200.2,135.4 1200.7,132.4 1201.2,132.0 1201.7,133.2 1202.2,132.2 1202.7,131.8 1203.2,133.8 1203.7,134.7 1204.2,132.9 1204.7,132.8 1205.2,133.0 1205.6,131.0 1206.1,129.9 1206.6,133.0 1207.1,131.4 1207.6,131.0 1208.1,131.3 1208.6,130.7 1209.1,132.8 1209.6,131.1 1210.1,129.1 1210.6,130.8 1211.0,132.7 1211.5,130.8 1212.0,129.6 1212.5,130.6 1213.0,131.5 1213.5,127.8 1214.0,131.1 1214.5,127.5 1215.0,126.9 1215.5,126.9 1216.0,121.6 1216.4,120.8 1216.9,121.1 1217.4,116.9 1217.9,117.5 1218.4,119.6 1218.9,118.2 1219.4,117.5 1219.9,118.0 1220.4,119.7 1220.9,121.1 1221.4,121.8 1221.8,124.0 1222.3,123.1 1222.8,125.7 1223.3,126.4 1223.8,126.9 1224.3,130.0 1224.8,130.2 1225.3,127.5 1225.8,129.7 1226.3,130.9 1226.8,130.3 1227.2,131.8 1227.7,130.9 1228.2,132.4 1228.7,131.2 1229.2,134.0 1229.7,129.9 1230.2,132.7 1230.7,134.3 1231.2,132.4 1231.7,132.6 1232.2,131.9 1232.6,133.8 1233.1,131.6 1233.6,127.0 1234.1,134.1 1234.6,131.8 1235.1,132.8 1235.6,132.1 1236.1,135.0 1236.6,134.1 1237.1,131.8 1237.6,132.5 1238.0,130.1 1238.5,133.5 1239.0,132.2 1239.5,128.3 1240.0,133.6 1240.5,133.8 1241.0,132.6 1241.5,132.6 1242.0,131.3 1242.5,132.4 1243.0,133.7 1243.4,132.3 1243.9,128.8 1244.4,130.8 1244.9,136.6 1245.4,132.8 1245.9,133.9 1246.4,131.7 1246.9,132.9 1247.4,129.8 1247.9,131.3 1248.4,131.4 1248.8,132.4 1249.3,132.7 1249.8,132.2 1250.3,130.8 1250.8,131.9 1251.3,133.2 1251.8,130.8 1252.3,132.4 1252.8,132.8 1253.3,133.8 1253.8,133.5 1254.2,133.6 1254.7,136.7 1255.2,131.2 1255.7,131.9 1256.2,133.0 1256.7,131.2 1257.2,132.1 1257.7,132.2 1258.2,136.3 1258.7,133.1 1259.2,131.9 1259.6,130.4 1260.1,130.1 1260.6,130.7 1261.1,134.4 1261.6,135.9 1262.1,131.9 1262.6,132.7 1263.1,131.3 1263.6,132.9 1264.1,132.4 1264.6,134.9 1265.0,132.1 1265.5,133.4 1266.0,132.2 1266.5,132.1 1267.0,132.9 1267.5,132.3 1268.0,132.8 1268.5,131.6 1269.0,132.0 1269.5,133.5 1270.0,133.6 1270.4,130.2 1270.9,132.9 1271.4,131.3 1271.9,132.2 1272.4,133.6 1272.9,133.8 1273.4,132.6 1273.9,132.4 1274.4,131.9 1274.9,134.6 1275.3,133.6 1275.8,132.9 1276.3,130.4 1276.8,136.2 1277.3,132.1 1277.8,133.5 1278.3,132.1 1278.8,133.5 1279.3,132.2 1279.8,130.5 1280.3,132.3 1280.7,132.1 1281.2,132.2 1281.7,133.9 1282.2,132.0 1282.7,133.1 1283.2,133.9 1283.7,132.8 1284.2,133.1 1284.7,131.7 1285.2,132.8 1285.7,133.5 1286.1,130.7 1286.6,131.3 1287.1,130.9 1287.6,131.9 1288.1,132.9 1288.6,133.4 1289.1,133.2 1289.6,131.4 1290.1,132.6 1290.6,134.9 1291.1,132.8 1291.5,134.8 1292.0,132.5 1292.5,134.5 1293.0,134.6 1293.5,132.6 1294.0,132.9 1294.5,135.2 1295.0,131.7 1295.5,129.6 1296.0,134.9 1296.5,130.1 1296.9,133.8 1297.4,133.5 1297.9,133.0 1298.4,134.9 1298.9,130.9 1299.4,132.1 1299.9,133.9 1300.4,133.2 1300.9,135.0 1301.4,133.3 1301.9,131.4 1302.3,135.3 1302.8,133.4 1303.3,132.6 1303.8,131.3 1304.3,130.8 1304.8,133.4 1305.3,133.9 1305.8,132.1 1306.3,133.3 1306.8,133.2 1307.3,131.2 1307.7,130.3 1308.2,132.4 1308.7,133.1 1309.2,132.0 1309.7,135.5 1310.2,132.8" fill="none" stroke="#2F65A8" stroke-width="2.3" stroke-linejoin="round"/>
<polyline points="1324.2,134.1 1324.7,129.6 1325.2,131.8 1325.7,132.6 1326.2,133.0 1326.7,136.0 1327.2,131.8 1327.7,130.6 1328.2,133.7 1328.7,131.8 1329.1,131.8 1329.6,134.7 1330.1,131.5 1330.6,130.9 1331.1,132.4 1331.6,132.7 1332.1,131.6 1332.6,134.6 1333.1,132.5 1333.6,131.2 1334.1,134.2 1334.6,131.2 1335.1,133.0 1335.6,135.2 1336.1,132.6 1336.6,133.7 1337.1,132.0 1337.6,133.9 1338.1,131.0 1338.5,133.2 1339.0,131.8 1339.5,133.0 1340.0,132.6 1340.5,130.6 1341.0,131.8 1341.5,132.5 1342.0,133.6 1342.5,130.4 1343.0,130.9 1343.5,132.2 1344.0,131.4 1344.5,133.0 1345.0,132.9 1345.5,132.6 1346.0,131.0 1346.5,131.0 1347.0,132.3 1347.4,130.3 1347.9,130.1 1348.4,130.9 1348.9,129.7 1349.4,131.3 1349.9,131.0 1350.4,130.2 1350.9,130.7 1351.4,129.6 1351.9,132.2 1352.4,128.6 1352.9,131.4 1353.4,130.6 1353.9,132.1 1354.4,129.4 1354.9,128.5 1355.4,128.7 1355.9,129.0 1356.4,132.0 1356.8,131.0 1357.3,130.5 1357.8,131.1 1358.3,128.4 1358.8,129.6 1359.3,129.8 1359.8,129.1 1360.3,131.0 1360.8,130.9 1361.3,130.9 1361.8,129.1 1362.3,129.3 1362.8,129.0 1363.3,128.4 1363.8,131.6 1364.3,130.6 1364.8,129.7 1365.3,131.7 1365.8,130.6 1366.2,128.7 1366.7,128.6 1367.2,128.7 1367.7,130.1 1368.2,130.5 1368.7,128.9 1369.2,130.8 1369.7,130.0 1370.2,128.7 1370.7,131.0 1371.2,131.4 1371.7,130.7 1372.2,130.0 1372.7,130.2 1373.2,130.7 1373.7,130.3 1374.2,133.1 1374.7,132.2 1375.1,131.0 1375.6,132.5 1376.1,133.1 1376.6,133.0 1377.1,132.7 1377.6,131.8 1378.1,132.9 1378.6,131.4 1379.1,129.5 1379.6,132.0 1380.1,130.2 1380.6,131.5 1381.1,133.4 1381.6,132.3 1382.1,133.3 1382.6,131.1 1383.1,133.6 1383.6,130.5 1384.1,131.5 1384.5,134.9 1385.0,131.3 1385.5,130.3 1386.0,133.4 1386.5,131.1 1387.0,134.7 1387.5,132.1 1388.0,134.6 1388.5,131.8 1389.0,134.8 1389.5,135.9 1390.0,132.0 1390.5,129.5 1391.0,133.3 1391.5,131.5 1392.0,132.4 1392.5,133.0 1393.0,131.8 1393.5,130.4 1393.9,134.2 1394.4,131.8 1394.9,132.1 1395.4,134.4 1395.9,130.5 1396.4,130.0 1396.9,133.8 1397.4,130.3 1397.9,132.5 1398.4,132.8 1398.9,130.6 1399.4,132.3 1399.9,132.2 1400.4,130.6 1400.9,130.9 1401.4,131.4 1401.9,134.4 1402.4,134.6 1402.9,131.1 1403.3,133.8 1403.8,132.4 1404.3,133.9 1404.8,132.8 1405.3,134.2 1405.8,130.4 1406.3,133.8 1406.8,132.7 1407.3,132.7 1407.8,130.9 1408.3,134.3 1408.8,132.5 1409.3,132.7 1409.8,131.8 1410.3,131.8 1410.8,133.0 1411.3,132.1 1411.8,132.9 1412.2,131.8 1412.7,132.5 1413.2,133.2 1413.7,132.4 1414.2,131.9 1414.7,129.4 1415.2,132.9 1415.7,131.9 1416.2,130.3 1416.7,134.9 1417.2,134.5 1417.7,133.7 1418.2,132.3 1418.7,128.9 1419.2,131.6 1419.7,130.5 1420.2,132.3 1420.7,135.2 1421.2,134.9 1421.6,130.5 1422.1,131.6 1422.6,133.5 1423.1,130.3 1423.6,133.7 1424.1,130.1 1424.6,129.6 1425.1,132.5 1425.6,132.8 1426.1,130.2 1426.6,132.7 1427.1,130.0 1427.6,132.6 1428.1,129.9 1428.6,130.8 1429.1,131.3 1429.6,131.8 1430.1,130.3 1430.6,132.9 1431.0,130.7 1431.5,130.7 1432.0,129.2 1432.5,131.6 1433.0,127.6 1433.5,130.1 1434.0,131.1 1434.5,127.7 1435.0,127.2 1435.5,129.5 1436.0,130.3 1436.5,128.9 1437.0,129.7 1437.5,129.1 1438.0,126.6 1438.5,128.0 1439.0,128.2 1439.5,127.8 1439.9,128.3 1440.4,127.0 1440.9,126.9 1441.4,128.4 1441.9,127.8 1442.4,124.7 1442.9,127.3 1443.4,128.0 1443.9,125.1 1444.4,127.8 1444.9,129.2 1445.4,127.0 1445.9,129.0 1446.4,128.5 1446.9,127.5 1447.4,128.2 1447.9,129.0 1448.4,128.8 1448.9,129.0 1449.3,126.7 1449.8,129.3 1450.3,129.2 1450.8,125.8 1451.3,129.3 1451.8,126.7 1452.3,127.1 1452.8,129.1 1453.3,130.8 1453.8,128.5 1454.3,128.3 1454.8,128.0 1455.3,129.3 1455.8,127.9 1456.3,127.8 1456.8,131.0 1457.3,127.9 1457.8,129.6 1458.3,130.7 1458.7,130.5 1459.2,127.7 1459.7,128.9 1460.2,132.6 1460.7,130.3 1461.2,130.7 1461.7,130.8 1462.2,131.3 1462.7,132.6 1463.2,129.7 1463.7,132.1 1464.2,131.4 1464.7,131.8 1465.2,132.0 1465.7,130.2 1466.2,130.7 1466.7,132.2 1467.2,132.6 1467.7,132.0 1468.1,130.2 1468.6,131.4 1469.1,131.3 1469.6,132.0 1470.1,132.0 1470.6,131.4 1471.1,134.2 1471.6,129.7 1472.1,132.9 1472.6,132.6 1473.1,130.2 1473.6,131.7 1474.1,131.9 1474.6,132.8 1475.1,134.1 1475.6,131.8 1476.1,130.5 1476.6,133.3 1477.0,130.4 1477.5,133.6 1478.0,133.1 1478.5,131.5 1479.0,132.2 1479.5,131.3 1480.0,133.2 1480.5,133.6 1481.0,134.7 1481.5,133.9 1482.0,133.7 1482.5,134.2 1483.0,132.0 1483.5,133.2 1484.0,135.0 1484.5,129.2 1485.0,133.5 1485.5,134.0 1486.0,130.8 1486.4,130.9 1486.9,133.9 1487.4,134.4 1487.9,133.8 1488.4,131.0 1488.9,132.9 1489.4,133.5 1489.9,132.5 1490.4,130.9 1490.9,134.3 1491.4,133.0 1491.9,134.3 1492.4,129.7 1492.9,130.2 1493.4,131.3 1493.9,132.7 1494.4,131.7 1494.9,135.3 1495.4,132.2 1495.8,134.3 1496.3,134.3 1496.8,133.5 1497.3,133.0 1497.8,131.8 1498.3,131.7 1498.8,132.2 1499.3,133.8 1499.8,131.7 1500.3,132.7 1500.8,131.1 1501.3,133.8 1501.8,136.2 1502.3,133.2 1502.8,129.8 1503.3,132.0 1503.8,132.9 1504.3,131.5 1504.8,132.0 1505.2,132.0 1505.7,133.3 1506.2,132.5 1506.7,132.4 1507.2,133.5 1507.7,134.1 1508.2,132.5 1508.7,131.4 1509.2,131.8 1509.7,132.0 1510.2,132.0 1510.7,129.3 1511.2,132.3 1511.7,131.3 1512.2,130.1 1512.7,132.6 1513.2,132.3 1513.7,131.3 1514.1,130.5 1514.6,132.3 1515.1,132.2 1515.6,132.5 1516.1,134.2 1516.6,131.2 1517.1,133.0 1517.6,134.9 1518.1,132.9 1518.6,134.9 1519.1,134.0 1519.6,132.7 1520.1,133.9 1520.6,131.3 1521.1,134.6 1521.6,132.3 1522.1,132.0 1522.6,130.8 1523.1,131.5 1523.5,132.4 1524.0,132.6 1524.5,132.8 1525.0,131.2 1525.5,133.5 1526.0,132.0 1526.5,132.8 1527.0,132.4 1527.5,133.0 1528.0,129.9 1528.5,133.5 1529.0,132.4 1529.5,132.3 1530.0,131.9 1530.5,132.1 1531.0,132.1 1531.5,131.4 1532.0,134.7 1532.5,132.7 1532.9,134.3 1533.4,132.4 1533.9,134.2 1534.4,133.9 1534.9,132.8 1535.4,130.9 1535.9,131.9 1536.4,132.3 1536.9,130.9 1537.4,133.9 1537.9,135.4 1538.4,133.3 1538.9,133.1 1539.4,131.1 1539.9,129.9 1540.4,134.4 1540.9,129.5 1541.4,130.7 1541.8,131.6 1542.3,132.2 1542.8,129.6 1543.3,132.6 1543.8,133.3 1544.3,132.5 1544.8,134.5 1545.3,132.1 1545.8,132.9 1546.3,132.3 1546.8,132.2 1547.3,134.1 1547.8,131.0 1548.3,134.0 1548.8,131.6 1549.3,134.8 1549.8,132.2 1550.3,133.8 1550.8,132.7 1551.2,133.6 1551.7,135.6 1552.2,134.2 1552.7,132.6 1553.2,131.9 1553.7,134.6 1554.2,135.5 1554.7,133.9 1555.2,133.0 1555.7,133.5 1556.2,133.8 1556.7,131.6 1557.2,131.5 1557.7,131.8 1558.2,133.9 1558.7,132.6 1559.2,133.0 1559.7,134.6 1560.2,131.6 1560.6,132.6 1561.1,133.4 1561.6,130.9 1562.1,131.7 1562.6,131.6 1563.1,131.2 1563.6,131.8 1564.1,134.4 1564.6,133.2 1565.1,131.4 1565.6,133.7 1566.1,132.7 1566.6,132.2 1567.1,130.9 1567.6,131.0 1568.1,131.6 1568.6,133.0 1569.1,131.5 1569.6,132.0 1570.0,132.9 1570.5,131.0 1571.0,132.1 1571.5,133.7 1572.0,131.1 1572.5,133.1 1573.0,132.0 1573.5,134.7 1574.0,132.8 1574.5,134.0 1575.0,134.0 1575.5,135.2 1576.0,130.0 1576.5,132.9 1577.0,132.4 1577.5,131.3 1578.0,132.9 1578.5,132.1 1578.9,134.5 1579.4,132.5 1579.9,133.3 1580.4,132.1 1580.9,132.5 1581.4,134.6 1581.9,135.2 1582.4,134.1 1582.9,131.8 1583.4,132.2 1583.9,132.2 1584.4,135.4 1584.9,136.2 1585.4,133.6 1585.9,133.2 1586.4,133.5 1586.9,132.3 1587.4,133.0 1587.9,134.3 1588.3,133.9 1588.8,132.6 1589.3,132.7 1589.8,132.9 1590.3,129.8 1590.8,133.1 1591.3,132.6 1591.8,134.1 1592.3,133.2 1592.8,132.1 1593.3,132.0 1593.8,133.0 1594.3,132.3 1594.8,132.7 1595.3,135.2 1595.8,137.0 1596.3,129.8 1596.8,131.7 1597.3,132.8 1597.7,135.0 1598.2,134.4 1598.7,131.0 1599.2,136.4 1599.7,133.2 1600.2,131.6 1600.7,132.6 1601.2,131.8 1601.7,132.9 1602.2,129.7 1602.7,134.1 1603.2,134.5 1603.7,132.4 1604.2,130.9 1604.7,132.8 1605.2,131.4 1605.7,133.5 1606.2,134.3 1606.6,131.0 1607.1,130.7 1607.6,130.8 1608.1,133.3 1608.6,134.3 1609.1,134.3 1609.6,133.1 1610.1,132.0 1610.6,132.1 1611.1,134.6 1611.6,132.5 1612.1,132.8 1612.6,132.7 1613.1,132.8 1613.6,133.0 1614.1,132.0 1614.6,132.6 1615.1,132.5 1615.6,133.7 1616.0,132.3 1616.5,132.9 1617.0,135.5 1617.5,132.1 1618.0,133.1 1618.5,131.6 1619.0,133.0 1619.5,132.9 1620.0,132.5 1620.5,132.8" fill="none" stroke="#2F65A8" stroke-width="2.3" stroke-linejoin="round"/>
<polyline points="1634.3,133.2 1634.8,134.6 1635.2,131.0 1635.7,134.4 1636.2,133.1 1636.7,132.1 1637.1,132.4 1637.6,132.2 1638.1,132.0 1638.5,131.5 1639.0,132.5 1639.5,129.9 1640.0,133.8 1640.4,132.6 1640.9,133.2 1641.4,133.3 1641.8,132.5 1642.3,131.3 1642.8,133.5 1643.3,133.5 1643.7,132.1 1644.2,132.3 1644.7,130.8 1645.1,131.8 1645.6,132.6 1646.1,133.1 1646.6,132.6 1647.0,133.0 1647.5,134.2 1648.0,132.8 1648.4,133.0 1648.9,133.0 1649.4,133.2 1649.8,131.1 1650.3,132.1 1650.8,131.9 1651.3,133.4 1651.7,133.8 1652.2,133.1 1652.7,132.5 1653.1,133.1 1653.6,133.0 1654.1,131.8 1654.6,132.5 1655.0,133.8 1655.5,133.2 1656.0,133.4 1656.4,132.6 1656.9,133.9 1657.4,132.9 1657.9,132.1 1658.3,132.7 1658.8,133.7 1659.3,133.4 1659.7,132.6 1660.2,132.2 1660.7,131.9 1661.2,132.9 1661.6,134.0 1662.1,131.3 1662.6,132.4 1663.0,132.3 1663.5,132.4 1664.0,133.7 1664.5,133.0 1664.9,132.4 1665.4,131.6 1665.9,132.5 1666.3,135.7 1666.8,132.8 1667.3,132.2 1667.8,131.2 1668.2,131.8 1668.7,130.0 1669.2,131.0 1669.6,131.1 1670.1,131.4 1670.6,133.7 1671.1,131.5 1671.5,131.7 1672.0,132.8 1672.5,131.6 1672.9,131.8 1673.4,132.6 1673.9,132.2 1674.4,132.3 1674.8,131.7 1675.3,132.3 1675.8,131.3 1676.2,133.7 1676.7,132.0 1677.2,133.4 1677.6,132.1 1678.1,131.0 1678.6,131.4 1679.1,131.5 1679.5,131.2 1680.0,129.6 1680.5,132.2 1680.9,130.1 1681.4,132.4 1681.9,131.2 1682.4,130.5 1682.8,131.4 1683.3,130.2 1683.8,129.6 1684.2,131.4 1684.7,130.1 1685.2,130.3 1685.7,131.7 1686.1,129.8 1686.6,130.2 1687.1,127.9 1687.5,130.0 1688.0,127.2 1688.5,129.3 1689.0,126.6 1689.4,127.9 1689.9,127.8 1690.4,127.2 1690.8,126.9 1691.3,126.2 1691.8,125.7 1692.3,127.5 1692.7,128.2 1693.2,129.4 1693.7,126.9 1694.1,125.5 1694.6,125.7 1695.1,125.7 1695.6,125.9 1696.0,126.0 1696.5,125.4 1697.0,124.5 1697.4,126.4 1697.9,123.6 1698.4,125.6 1698.9,124.0 1699.3,124.2 1699.8,123.7 1700.3,124.1 1700.7,124.0 1701.2,122.8 1701.7,123.4 1702.2,119.6 1702.6,122.2 1703.1,122.2 1703.6,121.8 1704.0,122.1 1704.5,123.2 1705.0,120.7 1705.4,119.9 1705.9,121.5 1706.4,119.7 1706.9,120.7 1707.3,119.2 1707.8,118.6 1708.3,118.2 1708.7,118.0 1709.2,119.0 1709.7,117.1 1710.2,118.2 1710.6,117.2 1711.1,116.6 1711.6,117.4 1712.0,118.2 1712.5,116.0 1713.0,117.6 1713.5,117.1 1713.9,117.1 1714.4,115.0 1714.9,115.8 1715.3,117.6 1715.8,114.5 1716.3,112.9 1716.8,113.0 1717.2,115.2 1717.7,114.3 1718.2,113.7 1718.6,113.1 1719.1,113.8 1719.6,114.7 1720.1,112.7 1720.5,112.6 1721.0,114.4 1721.5,113.2 1721.9,112.4 1722.4,112.5 1722.9,111.7 1723.4,111.3 1723.8,111.3 1724.3,111.8 1724.8,112.8 1725.2,110.6 1725.7,109.6 1726.2,108.9 1726.7,110.7 1727.1,110.4 1727.6,108.7 1728.1,108.5 1728.5,109.4 1729.0,108.8 1729.5,110.1 1730.0,108.5 1730.4,109.7 1730.9,108.7 1731.4,108.5 1731.8,108.6 1732.3,110.0 1732.8,108.5 1733.2,107.1 1733.7,107.2 1734.2,107.3 1734.7,106.3 1735.1,105.8 1735.6,105.4 1736.1,106.8 1736.5,105.7 1737.0,105.9 1737.5,106.2 1738.0,106.6 1738.4,105.0 1738.9,105.5 1739.4,102.3 1739.8,104.3 1740.3,104.3 1740.8,104.3 1741.3,101.8 1741.7,104.5 1742.2,103.5 1742.7,104.0 1743.1,103.2 1743.6,103.0 1744.1,101.7 1744.6,104.1 1745.0,102.6 1745.5,100.9 1746.0,103.0 1746.4,102.6 1746.9,103.2 1747.4,104.9 1747.9,102.4 1748.3,101.1 1748.8,102.8 1749.3,104.2 1749.7,102.2 1750.2,102.4 1750.7,101.6 1751.2,101.8 1751.6,103.0 1752.1,102.5 1752.6,104.9 1753.0,102.1 1753.5,103.2 1754.0,102.5 1754.5,102.7 1754.9,104.3 1755.4,104.4 1755.9,105.4 1756.3,106.9 1756.8,105.2 1757.3,105.2 1757.8,106.8 1758.2,105.3 1758.7,106.3 1759.2,106.3 1759.6,107.8 1760.1,109.2 1760.6,107.1 1761.1,107.6 1761.5,108.8 1762.0,109.5 1762.5,109.8 1762.9,110.0 1763.4,110.9 1763.9,112.8 1764.3,110.5 1764.8,113.2 1765.3,112.5 1765.8,112.9 1766.2,112.8 1766.7,115.2 1767.2,112.8 1767.6,113.8 1768.1,114.2 1768.6,114.1 1769.1,116.7 1769.5,119.5 1770.0,116.5 1770.5,116.0 1770.9,116.6 1771.4,118.7 1771.9,118.7 1772.4,118.8 1772.8,121.3 1773.3,120.6 1773.8,121.0 1774.2,119.2 1774.7,121.9 1775.2,120.1 1775.7,122.0 1776.1,124.1 1776.6,120.6 1777.1,124.2 1777.5,123.0 1778.0,122.2 1778.5,124.8 1779.0,125.9 1779.4,123.9 1779.9,125.2 1780.4,126.9 1780.8,127.0 1781.3,126.6 1781.8,125.6 1782.3,127.1 1782.7,126.4 1783.2,125.7 1783.7,126.4 1784.1,126.4 1784.6,126.9 1785.1,130.0 1785.6,127.3 1786.0,128.5 1786.5,129.1 1787.0,130.3 1787.4,131.0 1787.9,130.7 1788.4,129.8 1788.9,131.1 1789.3,130.9 1789.8,130.8 1790.3,129.7 1790.7,130.8 1791.2,130.8 1791.7,129.4 1792.1,131.2 1792.6,130.4 1793.1,132.2 1793.6,130.9 1794.0,131.2 1794.5,131.2 1795.0,132.0 1795.4,132.6 1795.9,132.0 1796.4,132.2 1796.9,130.8 1797.3,131.0 1797.8,133.1 1798.3,131.4 1798.7,132.5 1799.2,131.6 1799.7,132.6 1800.2,133.7 1800.6,131.2 1801.1,131.8 1801.6,133.5 1802.0,134.2 1802.5,132.9 1803.0,133.6 1803.5,132.8 1803.9,131.8 1804.4,131.0 1804.9,132.9 1805.3,131.2 1805.8,131.4 1806.3,133.0 1806.8,134.3 1807.2,131.8 1807.7,132.0 1808.2,130.3 1808.6,131.2 1809.1,131.9 1809.6,131.0 1810.1,133.7 1810.5,132.5 1811.0,133.0 1811.5,131.0 1811.9,132.2 1812.4,135.8 1812.9,131.4 1813.4,133.6 1813.8,132.0 1814.3,133.2 1814.8,132.5 1815.2,132.1 1815.7,132.6 1816.2,133.7 1816.7,131.4 1817.1,132.4 1817.6,132.8 1818.1,132.1 1818.5,133.3 1819.0,130.9 1819.5,132.5 1819.9,132.4 1820.4,132.4 1820.9,133.7 1821.4,133.9 1821.8,132.6 1822.3,132.4 1822.8,131.4 1823.2,132.3 1823.7,133.9 1824.2,132.2 1824.7,131.9 1825.1,131.8 1825.6,132.4 1826.1,134.0 1826.5,131.6 1827.0,133.5 1827.5,132.2 1828.0,134.4 1828.4,132.0 1828.9,133.6 1829.4,131.7 1829.8,131.0 1830.3,131.6 1830.8,133.9 1831.3,133.7 1831.7,133.7 1832.2,132.1 1832.7,132.4 1833.1,132.6 1833.6,132.5 1834.1,132.2 1834.6,132.1 1835.0,131.1 1835.5,132.8 1836.0,132.6 1836.4,134.6 1836.9,134.1 1837.4,133.5 1837.9,134.0 1838.3,132.6 1838.8,131.7 1839.3,133.2 1839.7,133.3 1840.2,133.3 1840.7,132.7 1841.2,133.3 1841.6,132.4 1842.1,132.5 1842.6,132.4 1843.0,132.0 1843.5,132.8 1844.0,132.7 1844.5,131.0 1844.9,132.8 1845.4,132.0 1845.9,132.7 1846.3,133.3 1846.8,133.3 1847.3,133.6 1847.7,132.8 1848.2,133.4 1848.7,133.2 1849.2,131.6 1849.6,132.9 1850.1,131.7 1850.6,132.5 1851.0,131.9 1851.5,133.4 1852.0,132.7 1852.5,130.2 1852.9,132.0 1853.4,131.8 1853.9,132.6 1854.3,131.9 1854.8,134.0 1855.3,133.7 1855.8,132.4 1856.2,132.0 1856.7,133.2 1857.2,133.0 1857.6,133.2 1858.1,133.0 1858.6,134.0 1859.1,134.2 1859.5,132.9 1860.0,134.5" fill="none" stroke="#2F65A8" stroke-width="2.3" stroke-linejoin="round"/>
<text transform="translate(1965.7,143.4) scale(1.012,1.065)" font-size="26.7" text-anchor="end">0.05 V</text>
<polyline points="1084.9,182.0 1085.4,181.6 1085.9,182.1 1086.4,180.3 1086.9,181.3 1087.4,180.7 1087.8,182.1 1088.3,181.7 1088.8,179.9 1089.3,180.1 1089.8,181.3 1090.3,180.1 1090.8,180.4 1091.3,180.4 1091.8,178.3 1092.3,181.2 1092.8,180.0 1093.2,180.0 1093.7,181.0 1094.2,182.3 1094.7,179.6 1095.2,180.3 1095.7,180.6 1096.2,180.6 1096.7,180.6 1097.2,181.9 1097.7,180.2 1098.2,183.3 1098.6,180.7 1099.1,182.8 1099.6,181.2 1100.1,179.6 1100.6,181.0 1101.1,181.4 1101.6,179.9 1102.1,181.0 1102.6,181.2 1103.1,181.2 1103.6,178.5 1104.0,179.7 1104.5,180.0 1105.0,182.4 1105.5,179.8 1106.0,182.5 1106.5,180.0 1107.0,182.3 1107.5,177.8 1108.0,183.1 1108.5,178.9 1109.0,179.5 1109.4,183.2 1109.9,181.0 1110.4,178.5 1110.9,179.0 1111.4,183.0 1111.9,181.3 1112.4,182.3 1112.9,182.1 1113.4,181.5 1113.9,177.9 1114.4,180.3 1114.8,180.8 1115.3,181.0 1115.8,179.5 1116.3,179.4 1116.8,181.7 1117.3,178.3 1117.8,181.9 1118.3,180.7 1118.8,179.6 1119.3,177.8 1119.8,180.7 1120.2,179.7 1120.7,178.2 1121.2,179.2 1121.7,178.4 1122.2,178.4 1122.7,179.5 1123.2,178.9 1123.7,178.4 1124.2,179.7 1124.7,177.2 1125.1,182.3 1125.6,180.7 1126.1,177.2 1126.6,178.5 1127.1,180.0 1127.6,178.4 1128.1,177.2 1128.6,179.5 1129.1,177.4 1129.6,178.6 1130.1,178.4 1130.5,178.2 1131.0,176.3 1131.5,179.4 1132.0,178.1 1132.5,176.5 1133.0,179.0 1133.5,179.4 1134.0,176.1 1134.5,176.7 1135.0,176.7 1135.5,176.1 1135.9,177.5 1136.4,171.7 1136.9,177.1 1137.4,176.1 1137.9,177.3 1138.4,175.7 1138.9,172.6 1139.4,174.6 1139.9,173.6 1140.4,174.9 1140.9,171.4 1141.3,173.6 1141.8,175.5 1142.3,172.3 1142.8,173.8 1143.3,172.2 1143.8,172.7 1144.3,172.4 1144.8,172.4 1145.3,173.8 1145.8,174.5 1146.3,170.8 1146.7,172.3 1147.2,171.6 1147.7,172.6 1148.2,174.8 1148.7,173.7 1149.2,169.7 1149.7,172.9 1150.2,172.2 1150.7,173.8 1151.2,172.4 1151.7,172.2 1152.1,172.0 1152.6,171.9 1153.1,172.7 1153.6,172.7 1154.1,172.0 1154.6,171.6 1155.1,172.4 1155.6,169.7 1156.1,172.1 1156.6,172.3 1157.1,173.6 1157.5,171.3 1158.0,174.5 1158.5,175.5 1159.0,174.7 1159.5,172.6 1160.0,175.3 1160.5,172.0 1161.0,174.1 1161.5,176.5 1162.0,174.8 1162.5,172.1 1162.9,176.1 1163.4,177.0 1163.9,174.6 1164.4,173.6 1164.9,174.2 1165.4,176.4 1165.9,175.8 1166.4,175.9 1166.9,174.8 1167.4,173.6 1167.9,177.1 1168.3,175.2 1168.8,177.8 1169.3,176.6 1169.8,179.0 1170.3,178.9 1170.8,177.4 1171.3,179.4 1171.8,177.0 1172.3,179.2 1172.8,178.4 1173.3,178.8 1173.7,179.3 1174.2,178.7 1174.7,177.5 1175.2,174.7 1175.7,181.0 1176.2,178.9 1176.7,179.7 1177.2,180.9 1177.7,179.2 1178.2,181.0 1178.7,179.9 1179.1,178.1 1179.6,182.9 1180.1,179.6 1180.6,179.4 1181.1,181.5 1181.6,179.4 1182.1,179.7 1182.6,180.7 1183.1,178.5 1183.6,182.2 1184.1,179.4 1184.5,180.7 1185.0,181.9 1185.5,180.7 1186.0,180.9 1186.5,179.3 1187.0,182.6 1187.5,180.8 1188.0,181.2 1188.5,178.2 1189.0,182.1 1189.5,179.0 1189.9,183.1 1190.4,180.1 1190.9,180.8 1191.4,180.0 1191.9,181.6 1192.4,183.4 1192.9,182.8 1193.4,178.7 1193.9,180.3 1194.4,181.8 1194.9,179.3 1195.3,181.7 1195.8,181.7 1196.3,182.3 1196.8,178.9 1197.3,177.7 1197.8,182.0 1198.3,180.2 1198.8,179.2 1199.3,177.5 1199.8,184.0 1200.2,180.3 1200.7,179.6 1201.2,182.7 1201.7,179.9 1202.2,180.2 1202.7,179.5 1203.2,181.3 1203.7,179.9 1204.2,181.3 1204.7,179.6 1205.2,180.2 1205.6,180.9 1206.1,182.4 1206.6,177.9 1207.1,178.7 1207.6,179.0 1208.1,181.2 1208.6,180.7 1209.1,177.7 1209.6,179.0 1210.1,181.2 1210.6,179.8 1211.0,179.5 1211.5,179.8 1212.0,180.7 1212.5,177.1 1213.0,177.6 1213.5,178.1 1214.0,179.3 1214.5,176.7 1215.0,174.4 1215.5,171.4 1216.0,171.2 1216.4,166.9 1216.9,166.3 1217.4,165.9 1217.9,167.9 1218.4,165.5 1218.9,166.3 1219.4,165.1 1219.9,165.4 1220.4,165.1 1220.9,168.4 1221.4,171.4 1221.8,167.6 1222.3,171.8 1222.8,173.7 1223.3,174.8 1223.8,177.3 1224.3,175.2 1224.8,176.3 1225.3,175.1 1225.8,176.3 1226.3,177.0 1226.8,176.8 1227.2,179.3 1227.7,179.8 1228.2,179.4 1228.7,181.3 1229.2,179.8 1229.7,180.1 1230.2,178.8 1230.7,179.8 1231.2,182.7 1231.7,179.9 1232.2,177.9 1232.6,182.7 1233.1,181.2 1233.6,180.1 1234.1,182.1 1234.6,181.0 1235.1,180.1 1235.6,182.1 1236.1,179.8 1236.6,179.7 1237.1,182.1 1237.6,180.3 1238.0,178.7 1238.5,180.6 1239.0,179.7 1239.5,179.4 1240.0,180.7 1240.5,179.0 1241.0,179.8 1241.5,181.8 1242.0,179.6 1242.5,179.2 1243.0,179.3 1243.4,181.4 1243.9,179.8 1244.4,178.5 1244.9,180.1 1245.4,178.7 1245.9,178.6 1246.4,180.5 1246.9,179.5 1247.4,180.9 1247.9,178.9 1248.4,180.6 1248.8,181.3 1249.3,180.5 1249.8,180.6 1250.3,179.9 1250.8,179.8 1251.3,182.2 1251.8,181.5 1252.3,180.0 1252.8,179.8 1253.3,180.4 1253.8,176.7 1254.2,178.9 1254.7,180.6 1255.2,179.5 1255.7,178.6 1256.2,180.0 1256.7,183.1 1257.2,180.4 1257.7,180.4 1258.2,177.4 1258.7,183.2 1259.2,178.3 1259.6,180.7 1260.1,179.2 1260.6,180.9 1261.1,180.3 1261.6,178.9 1262.1,180.4 1262.6,179.0 1263.1,180.6 1263.6,181.1 1264.1,180.8 1264.6,181.3 1265.0,180.7 1265.5,178.5 1266.0,182.2 1266.5,182.9 1267.0,180.5 1267.5,178.1 1268.0,179.0 1268.5,178.6 1269.0,178.7 1269.5,181.6 1270.0,180.3 1270.4,184.4 1270.9,181.4 1271.4,179.6 1271.9,182.8 1272.4,183.5 1272.9,182.4 1273.4,180.2 1273.9,178.8 1274.4,176.8 1274.9,178.4 1275.3,182.7 1275.8,183.9 1276.3,180.3 1276.8,179.0 1277.3,182.9 1277.8,181.3 1278.3,181.2 1278.8,180.4 1279.3,180.8 1279.8,179.7 1280.3,179.0 1280.7,180.4 1281.2,179.4 1281.7,177.6 1282.2,182.0 1282.7,182.0 1283.2,179.7 1283.7,177.8 1284.2,180.2 1284.7,178.9 1285.2,180.9 1285.7,179.1 1286.1,181.4 1286.6,179.5 1287.1,179.9 1287.6,179.9 1288.1,178.5 1288.6,178.9 1289.1,181.3 1289.6,179.2 1290.1,182.9 1290.6,179.0 1291.1,176.5 1291.5,179.7 1292.0,179.7 1292.5,180.3 1293.0,179.2 1293.5,181.1 1294.0,179.4 1294.5,180.8 1295.0,181.0 1295.5,180.2 1296.0,180.5 1296.5,182.9 1296.9,177.4 1297.4,180.2 1297.9,182.9 1298.4,178.8 1298.9,180.4 1299.4,180.1 1299.9,179.4 1300.4,181.7 1300.9,184.7 1301.4,180.5 1301.9,180.0 1302.3,178.9 1302.8,181.5 1303.3,180.8 1303.8,179.8 1304.3,180.9 1304.8,180.8 1305.3,180.0 1305.8,181.8 1306.3,178.1 1306.8,181.7 1307.3,180.3 1307.7,180.9 1308.2,181.4 1308.7,179.6 1309.2,178.9 1309.7,178.3 1310.2,179.6" fill="none" stroke="#808000" stroke-width="2.3" stroke-linejoin="round"/>
<polyline points="1324.2,180.8 1324.7,179.1 1325.2,182.1 1325.7,180.2 1326.2,179.5 1326.7,179.5 1327.2,181.7 1327.7,182.1 1328.2,178.0 1328.7,180.8 1329.1,182.3 1329.6,181.8 1330.1,180.1 1330.6,178.6 1331.1,180.1 1331.6,178.5 1332.1,179.8 1332.6,179.4 1333.1,178.7 1333.6,180.5 1334.1,179.5 1334.6,180.4 1335.1,180.7 1335.6,179.0 1336.1,180.8 1336.6,179.6 1337.1,180.7 1337.6,179.7 1338.1,180.2 1338.5,178.1 1339.0,179.3 1339.5,179.3 1340.0,177.1 1340.5,183.0 1341.0,180.6 1341.5,182.6 1342.0,179.0 1342.5,178.3 1343.0,177.9 1343.5,178.3 1344.0,179.7 1344.5,176.2 1345.0,178.0 1345.5,178.6 1346.0,179.6 1346.5,177.5 1347.0,178.5 1347.4,178.4 1347.9,177.4 1348.4,177.2 1348.9,178.5 1349.4,175.6 1349.9,178.4 1350.4,178.5 1350.9,176.5 1351.4,176.6 1351.9,176.5 1352.4,177.1 1352.9,176.3 1353.4,177.0 1353.9,178.3 1354.4,175.1 1354.9,177.3 1355.4,176.2 1355.9,174.8 1356.4,175.7 1356.8,172.0 1357.3,177.4 1357.8,176.5 1358.3,175.3 1358.8,173.6 1359.3,175.7 1359.8,177.2 1360.3,173.8 1360.8,176.5 1361.3,175.5 1361.8,174.1 1362.3,176.1 1362.8,175.9 1363.3,174.7 1363.8,175.6 1364.3,175.0 1364.8,176.7 1365.3,175.7 1365.8,177.0 1366.2,177.7 1366.7,173.4 1367.2,175.2 1367.7,174.7 1368.2,177.3 1368.7,176.1 1369.2,176.5 1369.7,178.2 1370.2,175.7 1370.7,177.5 1371.2,176.9 1371.7,178.8 1372.2,175.6 1372.7,176.0 1373.2,176.6 1373.7,178.4 1374.2,178.1 1374.7,175.9 1375.1,178.0 1375.6,177.4 1376.1,177.7 1376.6,179.4 1377.1,176.1 1377.6,180.8 1378.1,178.0 1378.6,178.5 1379.1,180.6 1379.6,178.1 1380.1,178.0 1380.6,178.7 1381.1,179.9 1381.6,178.3 1382.1,177.5 1382.6,178.7 1383.1,176.9 1383.6,178.0 1384.1,178.2 1384.5,177.5 1385.0,180.2 1385.5,180.0 1386.0,178.7 1386.5,178.8 1387.0,177.5 1387.5,178.0 1388.0,179.3 1388.5,179.3 1389.0,179.9 1389.5,180.0 1390.0,180.2 1390.5,178.4 1391.0,180.2 1391.5,180.1 1392.0,179.4 1392.5,180.3 1393.0,179.9 1393.5,182.5 1393.9,179.1 1394.4,180.0 1394.9,179.3 1395.4,179.1 1395.9,182.0 1396.4,176.4 1396.9,179.3 1397.4,179.3 1397.9,181.8 1398.4,178.6 1398.9,178.9 1399.4,179.9 1399.9,179.0 1400.4,177.7 1400.9,179.7 1401.4,180.4 1401.9,177.5 1402.4,178.9 1402.9,179.4 1403.3,176.2 1403.8,178.9 1404.3,179.3 1404.8,178.7 1405.3,179.5 1405.8,178.7 1406.3,178.8 1406.8,179.8 1407.3,179.2 1407.8,178.4 1408.3,178.3 1408.8,178.0 1409.3,177.7 1409.8,178.3 1410.3,177.9 1410.8,179.0 1411.3,178.8 1411.8,177.1 1412.2,180.9 1412.7,177.8 1413.2,174.1 1413.7,180.5 1414.2,176.1 1414.7,180.2 1415.2,177.4 1415.7,175.6 1416.2,175.7 1416.7,178.7 1417.2,179.1 1417.7,179.1 1418.2,176.2 1418.7,177.4 1419.2,176.8 1419.7,176.2 1420.2,175.9 1420.7,175.5 1421.2,175.8 1421.6,177.8 1422.1,173.6 1422.6,178.8 1423.1,173.3 1423.6,175.4 1424.1,174.6 1424.6,174.6 1425.1,174.1 1425.6,173.3 1426.1,173.2 1426.6,173.9 1427.1,170.9 1427.6,172.3 1428.1,169.3 1428.6,170.8 1429.1,171.0 1429.6,169.0 1430.1,167.9 1430.6,169.7 1431.0,168.2 1431.5,165.4 1432.0,168.0 1432.5,167.2 1433.0,165.2 1433.5,166.3 1434.0,167.3 1434.5,165.6 1435.0,162.3 1435.5,161.3 1436.0,160.7 1436.5,160.3 1437.0,161.7 1437.5,158.6 1438.0,157.4 1438.5,159.2 1439.0,156.5 1439.5,157.7 1439.9,156.5 1440.4,155.8 1440.9,157.8 1441.4,153.6 1441.9,156.4 1442.4,155.2 1442.9,155.5 1443.4,154.2 1443.9,154.2 1444.4,154.7 1444.9,153.0 1445.4,154.6 1445.9,155.6 1446.4,159.0 1446.9,155.9 1447.4,156.1 1447.9,157.2 1448.4,157.5 1448.9,155.9 1449.3,155.7 1449.8,155.0 1450.3,156.4 1450.8,159.3 1451.3,158.5 1451.8,161.1 1452.3,158.8 1452.8,159.8 1453.3,161.5 1453.8,161.4 1454.3,162.1 1454.8,163.1 1455.3,161.1 1455.8,159.3 1456.3,162.8 1456.8,163.0 1457.3,164.6 1457.8,165.8 1458.3,163.0 1458.7,166.8 1459.2,166.3 1459.7,167.4 1460.2,167.0 1460.7,168.3 1461.2,167.9 1461.7,170.7 1462.2,169.6 1462.7,168.1 1463.2,171.6 1463.7,171.6 1464.2,169.3 1464.7,170.9 1465.2,170.4 1465.7,175.0 1466.2,172.3 1466.7,174.4 1467.2,174.9 1467.7,172.8 1468.1,172.1 1468.6,175.9 1469.1,175.6 1469.6,175.2 1470.1,174.9 1470.6,176.7 1471.1,172.2 1471.6,174.6 1472.1,176.0 1472.6,176.4 1473.1,172.9 1473.6,173.2 1474.1,176.9 1474.6,176.0 1475.1,175.0 1475.6,178.3 1476.1,177.7 1476.6,175.3 1477.0,178.1 1477.5,177.8 1478.0,179.1 1478.5,178.5 1479.0,176.7 1479.5,178.8 1480.0,179.5 1480.5,178.7 1481.0,175.7 1481.5,177.8 1482.0,178.9 1482.5,178.0 1483.0,177.7 1483.5,178.2 1484.0,180.8 1484.5,178.1 1485.0,178.8 1485.5,177.5 1486.0,180.4 1486.4,177.3 1486.9,179.4 1487.4,181.0 1487.9,177.1 1488.4,179.5 1488.9,178.4 1489.4,179.1 1489.9,177.5 1490.4,177.6 1490.9,177.6 1491.4,178.1 1491.9,181.2 1492.4,181.3 1492.9,178.9 1493.4,180.4 1493.9,178.6 1494.4,179.0 1494.9,181.1 1495.4,180.7 1495.8,180.8 1496.3,180.5 1496.8,179.6 1497.3,178.5 1497.8,177.7 1498.3,180.7 1498.8,180.2 1499.3,177.4 1499.8,178.3 1500.3,179.2 1500.8,182.6 1501.3,180.9 1501.8,179.4 1502.3,180.4 1502.8,177.0 1503.3,179.5 1503.8,179.3 1504.3,181.1 1504.8,181.0 1505.2,180.5 1505.7,180.5 1506.2,180.0 1506.7,179.2 1507.2,179.4 1507.7,178.4 1508.2,181.5 1508.7,179.5 1509.2,179.5 1509.7,177.7 1510.2,180.1 1510.7,179.4 1511.2,180.9 1511.7,179.3 1512.2,179.3 1512.7,180.7 1513.2,180.4 1513.7,179.9 1514.1,179.1 1514.6,181.4 1515.1,178.7 1515.6,180.3 1516.1,177.4 1516.6,178.0 1517.1,180.5 1517.6,180.8 1518.1,176.7 1518.6,179.1 1519.1,179.2 1519.6,180.5 1520.1,180.2 1520.6,178.9 1521.1,179.2 1521.6,181.1 1522.1,178.4 1522.6,179.6 1523.1,181.3 1523.5,178.7 1524.0,180.3 1524.5,179.0 1525.0,180.8 1525.5,179.6 1526.0,182.2 1526.5,179.6 1527.0,182.1 1527.5,179.9 1528.0,183.4 1528.5,180.2 1529.0,179.2 1529.5,179.5 1530.0,178.5 1530.5,181.5 1531.0,178.1 1531.5,178.0 1532.0,181.7 1532.5,181.2 1532.9,180.9 1533.4,180.2 1533.9,179.9 1534.4,183.4 1534.9,179.4 1535.4,180.5 1535.9,181.5 1536.4,178.9 1536.9,180.6 1537.4,178.7 1537.9,179.5 1538.4,180.6 1538.9,178.7 1539.4,179.1 1539.9,180.9 1540.4,182.3 1540.9,180.9 1541.4,179.4 1541.8,180.5 1542.3,177.9 1542.8,179.9 1543.3,180.0 1543.8,179.7 1544.3,181.4 1544.8,180.4 1545.3,181.1 1545.8,183.3 1546.3,182.6 1546.8,179.3 1547.3,180.8 1547.8,180.4 1548.3,182.2 1548.8,181.0 1549.3,179.2 1549.8,180.2 1550.3,181.0 1550.8,178.3 1551.2,180.4 1551.7,180.7 1552.2,178.8 1552.7,182.6 1553.2,179.6 1553.7,181.8 1554.2,181.3 1554.7,181.2 1555.2,180.1 1555.7,180.2 1556.2,179.9 1556.7,180.0 1557.2,178.5 1557.7,178.1 1558.2,179.4 1558.7,179.3 1559.2,180.8 1559.7,181.8 1560.2,179.6 1560.6,180.3 1561.1,179.2 1561.6,182.7 1562.1,176.8 1562.6,182.0 1563.1,180.3 1563.6,179.0 1564.1,182.2 1564.6,181.1 1565.1,183.0 1565.6,182.2 1566.1,182.9 1566.6,180.2 1567.1,180.0 1567.6,180.8 1568.1,178.7 1568.6,178.5 1569.1,180.4 1569.6,180.7 1570.0,180.7 1570.5,181.0 1571.0,178.7 1571.5,180.1 1572.0,180.8 1572.5,180.7 1573.0,179.7 1573.5,180.9 1574.0,180.0 1574.5,180.4 1575.0,178.6 1575.5,178.9 1576.0,182.2 1576.5,180.6 1577.0,179.5 1577.5,181.0 1578.0,179.3 1578.5,180.0 1578.9,179.6 1579.4,180.5 1579.9,180.0 1580.4,179.7 1580.9,182.3 1581.4,181.6 1581.9,181.7 1582.4,178.2 1582.9,180.0 1583.4,179.9 1583.9,180.2 1584.4,181.1 1584.9,181.4 1585.4,179.3 1585.9,180.9 1586.4,178.3 1586.9,180.2 1587.4,180.3 1587.9,180.7 1588.3,180.5 1588.8,180.4 1589.3,178.4 1589.8,177.4 1590.3,181.9 1590.8,180.1 1591.3,179.5 1591.8,181.6 1592.3,181.3 1592.8,181.0 1593.3,183.6 1593.8,179.6 1594.3,180.5 1594.8,180.5 1595.3,180.3 1595.8,180.1 1596.3,177.4 1596.8,180.2 1597.3,179.3 1597.7,181.1 1598.2,180.0 1598.7,180.8 1599.2,180.6 1599.7,181.6 1600.2,181.5 1600.7,179.8 1601.2,179.5 1601.7,179.8 1602.2,181.3 1602.7,180.0 1603.2,183.7 1603.7,179.2 1604.2,180.5 1604.7,180.1 1605.2,178.9 1605.7,181.0 1606.2,179.2 1606.6,181.0 1607.1,179.7 1607.6,181.0 1608.1,180.0 1608.6,178.5 1609.1,181.3 1609.6,181.2 1610.1,180.9 1610.6,180.0 1611.1,176.9 1611.6,181.2 1612.1,183.1 1612.6,181.3 1613.1,182.5 1613.6,181.2 1614.1,180.4 1614.6,181.7 1615.1,181.3 1615.6,182.9 1616.0,180.2 1616.5,181.4 1617.0,179.0 1617.5,179.1 1618.0,181.6 1618.5,180.9 1619.0,180.4 1619.5,179.4 1620.0,182.6 1620.5,180.5" fill="none" stroke="#808000" stroke-width="2.3" stroke-linejoin="round"/>
<polyline points="1634.3,178.7 1634.8,180.7 1635.2,180.3 1635.7,180.6 1636.2,181.8 1636.7,179.6 1637.1,180.3 1637.6,180.4 1638.1,179.8 1638.5,179.8 1639.0,182.5 1639.5,180.1 1640.0,181.1 1640.4,180.4 1640.9,181.3 1641.4,181.4 1641.8,179.6 1642.3,180.6 1642.8,180.8 1643.3,180.8 1643.7,180.5 1644.2,180.6 1644.7,182.9 1645.1,181.4 1645.6,180.8 1646.1,179.8 1646.6,179.2 1647.0,181.5 1647.5,178.6 1648.0,180.4 1648.4,180.0 1648.9,181.1 1649.4,181.1 1649.8,179.1 1650.3,180.7 1650.8,180.6 1651.3,179.4 1651.7,178.8 1652.2,182.0 1652.7,180.7 1653.1,180.5 1653.6,178.7 1654.1,178.0 1654.6,180.6 1655.0,180.1 1655.5,179.6 1656.0,179.3 1656.4,180.8 1656.9,179.6 1657.4,181.2 1657.9,183.2 1658.3,181.9 1658.8,180.2 1659.3,179.7 1659.7,182.7 1660.2,182.3 1660.7,180.5 1661.2,183.8 1661.6,179.9 1662.1,179.4 1662.6,183.4 1663.0,179.6 1663.5,180.6 1664.0,179.0 1664.5,180.1 1664.9,180.6 1665.4,180.2 1665.9,179.4 1666.3,180.1 1666.8,180.2 1667.3,181.7 1667.8,179.8 1668.2,180.2 1668.7,178.4 1669.2,180.2 1669.6,180.3 1670.1,180.8 1670.6,179.4 1671.1,180.3 1671.5,180.8 1672.0,178.4 1672.5,178.2 1672.9,180.4 1673.4,180.9 1673.9,178.7 1674.4,180.7 1674.8,176.9 1675.3,179.9 1675.8,178.7 1676.2,180.9 1676.7,179.6 1677.2,178.4 1677.6,179.0 1678.1,179.9 1678.6,176.8 1679.1,178.5 1679.5,179.4 1680.0,179.7 1680.5,179.2 1680.9,177.5 1681.4,179.5 1681.9,178.6 1682.4,179.4 1682.8,177.2 1683.3,178.5 1683.8,177.3 1684.2,177.5 1684.7,178.5 1685.2,177.1 1685.7,176.7 1686.1,178.7 1686.6,176.6 1687.1,173.6 1687.5,177.3 1688.0,176.2 1688.5,178.0 1689.0,176.0 1689.4,176.9 1689.9,175.3 1690.4,175.9 1690.8,176.8 1691.3,174.3 1691.8,175.4 1692.3,176.0 1692.7,174.7 1693.2,175.5 1693.7,173.9 1694.1,174.1 1694.6,174.1 1695.1,172.8 1695.6,174.5 1696.0,172.0 1696.5,174.7 1697.0,170.8 1697.4,171.9 1697.9,172.1 1698.4,172.2 1698.9,170.7 1699.3,171.1 1699.8,170.8 1700.3,169.2 1700.7,170.4 1701.2,169.9 1701.7,168.9 1702.2,167.9 1702.6,168.9 1703.1,168.2 1703.6,168.0 1704.0,167.0 1704.5,165.9 1705.0,168.0 1705.4,166.9 1705.9,166.5 1706.4,165.5 1706.9,164.3 1707.3,165.5 1707.8,164.9 1708.3,163.7 1708.7,165.8 1709.2,165.0 1709.7,164.4 1710.2,163.6 1710.6,163.1 1711.1,163.5 1711.6,160.9 1712.0,163.1 1712.5,162.3 1713.0,160.7 1713.5,160.8 1713.9,161.3 1714.4,160.6 1714.9,159.9 1715.3,160.4 1715.8,159.5 1716.3,160.8 1716.8,159.6 1717.2,161.0 1717.7,160.0 1718.2,160.0 1718.6,157.4 1719.1,158.8 1719.6,157.8 1720.1,158.8 1720.5,157.8 1721.0,157.7 1721.5,158.0 1721.9,156.1 1722.4,158.4 1722.9,155.8 1723.4,153.5 1723.8,156.8 1724.3,155.7 1724.8,157.1 1725.2,155.3 1725.7,156.8 1726.2,154.1 1726.7,155.0 1727.1,156.1 1727.6,155.3 1728.1,155.4 1728.5,153.8 1729.0,152.4 1729.5,153.4 1730.0,153.9 1730.4,153.3 1730.9,152.1 1731.4,154.4 1731.8,151.1 1732.3,151.0 1732.8,153.6 1733.2,149.6 1733.7,152.2 1734.2,150.5 1734.7,148.7 1735.1,151.3 1735.6,151.2 1736.1,150.2 1736.5,149.9 1737.0,148.6 1737.5,148.7 1738.0,148.4 1738.4,148.1 1738.9,147.5 1739.4,147.9 1739.8,146.4 1740.3,146.5 1740.8,147.2 1741.3,144.1 1741.7,147.0 1742.2,144.7 1742.7,145.9 1743.1,144.5 1743.6,144.1 1744.1,143.6 1744.6,142.8 1745.0,144.9 1745.5,140.9 1746.0,143.3 1746.4,144.3 1746.9,144.7 1747.4,140.8 1747.9,141.4 1748.3,143.0 1748.8,142.1 1749.3,141.5 1749.7,142.7 1750.2,143.2 1750.7,142.8 1751.2,141.9 1751.6,142.7 1752.1,144.0 1752.6,142.1 1753.0,144.7 1753.5,143.8 1754.0,141.9 1754.5,143.0 1754.9,143.2 1755.4,143.5 1755.9,142.8 1756.3,144.1 1756.8,146.3 1757.3,144.3 1757.8,148.0 1758.2,147.2 1758.7,143.8 1759.2,144.7 1759.6,146.6 1760.1,146.6 1760.6,146.8 1761.1,146.3 1761.5,148.5 1762.0,149.1 1762.5,149.3 1762.9,149.0 1763.4,149.3 1763.9,150.5 1764.3,149.8 1764.8,152.1 1765.3,151.7 1765.8,152.8 1766.2,153.7 1766.7,152.0 1767.2,154.1 1767.6,155.4 1768.1,154.9 1768.6,156.5 1769.1,155.5 1769.5,155.8 1770.0,156.2 1770.5,158.9 1770.9,158.5 1771.4,157.1 1771.9,159.8 1772.4,158.8 1772.8,159.1 1773.3,162.7 1773.8,160.6 1774.2,161.6 1774.7,162.1 1775.2,161.8 1775.7,163.6 1776.1,164.5 1776.6,164.5 1777.1,166.0 1777.5,165.7 1778.0,168.8 1778.5,165.4 1779.0,168.2 1779.4,167.6 1779.9,168.3 1780.4,169.0 1780.8,169.4 1781.3,169.9 1781.8,172.1 1782.3,171.4 1782.7,170.0 1783.2,172.7 1783.7,173.1 1784.1,170.2 1784.6,171.5 1785.1,171.5 1785.6,173.5 1786.0,173.5 1786.5,173.3 1787.0,173.9 1787.4,174.8 1787.9,176.5 1788.4,176.0 1788.9,177.1 1789.3,174.2 1789.8,176.5 1790.3,176.5 1790.7,176.2 1791.2,176.7 1791.7,176.4 1792.1,177.8 1792.6,178.9 1793.1,175.7 1793.6,178.4 1794.0,178.4 1794.5,178.8 1795.0,178.7 1795.4,178.3 1795.9,177.7 1796.4,179.7 1796.9,178.4 1797.3,179.5 1797.8,177.7 1798.3,180.3 1798.7,179.0 1799.2,178.5 1799.7,180.7 1800.2,179.3 1800.6,179.3 1801.1,180.4 1801.6,179.8 1802.0,178.7 1802.5,179.5 1803.0,180.2 1803.5,180.1 1803.9,179.5 1804.4,178.7 1804.9,179.2 1805.3,179.3 1805.8,178.5 1806.3,181.7 1806.8,181.6 1807.2,182.5 1807.7,179.4 1808.2,182.6 1808.6,180.3 1809.1,179.5 1809.6,181.7 1810.1,181.0 1810.5,180.6 1811.0,179.7 1811.5,181.9 1811.9,180.1 1812.4,179.7 1812.9,180.3 1813.4,180.3 1813.8,179.2 1814.3,180.3 1814.8,180.5 1815.2,180.8 1815.7,179.9 1816.2,180.8 1816.7,179.9 1817.1,180.4 1817.6,179.4 1818.1,181.3 1818.5,180.5 1819.0,180.2 1819.5,180.1 1819.9,179.4 1820.4,180.2 1820.9,179.7 1821.4,178.6 1821.8,179.7 1822.3,181.6 1822.8,182.0 1823.2,179.9 1823.7,181.0 1824.2,180.3 1824.7,180.8 1825.1,179.3 1825.6,179.4 1826.1,181.7 1826.5,180.3 1827.0,180.9 1827.5,181.9 1828.0,179.9 1828.4,180.7 1828.9,180.1 1829.4,178.1 1829.8,179.3 1830.3,179.5 1830.8,181.0 1831.3,181.8 1831.7,179.3 1832.2,180.9 1832.7,180.6 1833.1,181.0 1833.6,180.5 1834.1,178.2 1834.6,180.9 1835.0,180.9 1835.5,180.4 1836.0,180.3 1836.4,181.8 1836.9,182.4 1837.4,181.2 1837.9,180.8 1838.3,181.4 1838.8,181.6 1839.3,181.5 1839.7,181.0 1840.2,180.7 1840.7,182.2 1841.2,181.2 1841.6,180.3 1842.1,180.7 1842.6,182.0 1843.0,181.0 1843.5,180.6 1844.0,179.9 1844.5,182.3 1844.9,179.9 1845.4,181.1 1845.9,180.4 1846.3,179.9 1846.8,181.5 1847.3,181.4 1847.7,180.7 1848.2,179.9 1848.7,181.2 1849.2,182.0 1849.6,181.3 1850.1,180.3 1850.6,179.5 1851.0,181.1 1851.5,181.0 1852.0,180.8 1852.5,180.8 1852.9,181.6 1853.4,181.1 1853.9,180.4 1854.3,180.5 1854.8,180.6 1855.3,181.6 1855.8,181.2 1856.2,181.4 1856.7,179.6 1857.2,179.2 1857.6,180.3 1858.1,179.1 1858.6,180.9 1859.1,180.9 1859.5,181.9 1860.0,180.4" fill="none" stroke="#808000" stroke-width="2.3" stroke-linejoin="round"/>
<text transform="translate(1965.7,191.2) scale(1.012,1.065)" font-size="26.7" text-anchor="end">−0.05 V</text>
<polyline points="1084.9,227.3 1085.4,226.5 1085.9,226.0 1086.4,227.0 1086.9,228.3 1087.4,226.7 1087.8,226.8 1088.3,226.6 1088.8,225.7 1089.3,227.0 1089.8,227.0 1090.3,224.2 1090.8,225.1 1091.3,226.8 1091.8,228.0 1092.3,227.3 1092.8,226.1 1093.2,225.4 1093.7,223.2 1094.2,227.0 1094.7,226.4 1095.2,227.1 1095.7,226.5 1096.2,227.2 1096.7,228.2 1097.2,225.1 1097.7,226.4 1098.2,224.8 1098.6,227.3 1099.1,226.2 1099.6,225.7 1100.1,229.3 1100.6,228.5 1101.1,225.5 1101.6,226.5 1102.1,229.2 1102.6,227.6 1103.1,228.1 1103.6,227.3 1104.0,224.4 1104.5,227.4 1105.0,223.7 1105.5,226.9 1106.0,227.6 1106.5,224.3 1107.0,225.2 1107.5,224.6 1108.0,223.8 1108.5,225.0 1109.0,224.8 1109.4,229.0 1109.9,227.7 1110.4,225.9 1110.9,226.2 1111.4,225.5 1111.9,227.2 1112.4,224.9 1112.9,223.6 1113.4,225.6 1113.9,225.2 1114.4,225.7 1114.8,225.1 1115.3,226.1 1115.8,227.1 1116.3,226.1 1116.8,226.2 1117.3,228.5 1117.8,225.9 1118.3,226.2 1118.8,225.9 1119.3,227.0 1119.8,225.5 1120.2,225.2 1120.7,227.1 1121.2,225.6 1121.7,224.9 1122.2,224.9 1122.7,227.2 1123.2,227.3 1123.7,225.8 1124.2,227.2 1124.7,222.1 1125.1,226.8 1125.6,226.7 1126.1,224.5 1126.6,226.1 1127.1,228.7 1127.6,225.4 1128.1,226.5 1128.6,225.8 1129.1,227.2 1129.6,226.1 1130.1,225.0 1130.5,224.7 1131.0,226.1 1131.5,225.4 1132.0,225.5 1132.5,223.9 1133.0,224.2 1133.5,225.6 1134.0,222.8 1134.5,224.6 1135.0,222.8 1135.5,224.6 1135.9,222.7 1136.4,223.1 1136.9,222.7 1137.4,221.9 1137.9,221.8 1138.4,222.1 1138.9,221.9 1139.4,223.8 1139.9,221.9 1140.4,224.8 1140.9,224.7 1141.3,221.8 1141.8,221.5 1142.3,218.9 1142.8,220.0 1143.3,219.2 1143.8,221.1 1144.3,219.9 1144.8,218.7 1145.3,219.5 1145.8,219.7 1146.3,219.9 1146.7,221.3 1147.2,221.2 1147.7,221.9 1148.2,219.2 1148.7,220.1 1149.2,220.7 1149.7,219.2 1150.2,220.5 1150.7,218.1 1151.2,216.9 1151.7,219.0 1152.1,220.7 1152.6,221.8 1153.1,216.9 1153.6,219.1 1154.1,221.5 1154.6,218.4 1155.1,222.4 1155.6,220.7 1156.1,220.5 1156.6,220.8 1157.1,222.0 1157.5,217.1 1158.0,221.2 1158.5,220.2 1159.0,220.8 1159.5,223.3 1160.0,222.0 1160.5,221.0 1161.0,220.1 1161.5,222.1 1162.0,221.3 1162.5,222.4 1162.9,221.3 1163.4,225.8 1163.9,221.6 1164.4,223.5 1164.9,223.6 1165.4,227.0 1165.9,224.6 1166.4,222.3 1166.9,220.0 1167.4,224.5 1167.9,224.6 1168.3,223.1 1168.8,223.5 1169.3,224.9 1169.8,224.5 1170.3,224.9 1170.8,223.6 1171.3,223.5 1171.8,222.2 1172.3,223.5 1172.8,224.0 1173.3,224.8 1173.7,223.8 1174.2,226.7 1174.7,222.2 1175.2,225.0 1175.7,223.5 1176.2,226.7 1176.7,224.2 1177.2,225.1 1177.7,226.0 1178.2,226.8 1178.7,227.2 1179.1,223.3 1179.6,224.2 1180.1,225.9 1180.6,225.8 1181.1,227.2 1181.6,228.8 1182.1,228.8 1182.6,227.1 1183.1,226.5 1183.6,228.0 1184.1,225.2 1184.5,225.6 1185.0,226.1 1185.5,228.9 1186.0,226.7 1186.5,226.4 1187.0,228.2 1187.5,229.6 1188.0,223.7 1188.5,225.6 1189.0,227.0 1189.5,224.2 1189.9,224.9 1190.4,225.8 1190.9,226.2 1191.4,225.4 1191.9,224.4 1192.4,226.4 1192.9,226.8 1193.4,225.7 1193.9,230.6 1194.4,226.4 1194.9,227.1 1195.3,226.5 1195.8,226.8 1196.3,226.0 1196.8,226.3 1197.3,226.4 1197.8,226.7 1198.3,225.8 1198.8,227.2 1199.3,225.0 1199.8,228.9 1200.2,226.2 1200.7,225.8 1201.2,228.3 1201.7,227.1 1202.2,224.5 1202.7,226.6 1203.2,227.7 1203.7,230.7 1204.2,225.9 1204.7,226.2 1205.2,225.5 1205.6,223.3 1206.1,226.3 1206.6,226.1 1207.1,227.2 1207.6,226.3 1208.1,226.2 1208.6,225.0 1209.1,225.3 1209.6,227.1 1210.1,226.6 1210.6,223.9 1211.0,227.1 1211.5,224.5 1212.0,223.1 1212.5,224.2 1213.0,224.4 1213.5,222.2 1214.0,223.0 1214.5,222.6 1215.0,221.7 1215.5,218.3 1216.0,217.3 1216.4,214.3 1216.9,215.3 1217.4,213.9 1217.9,213.3 1218.4,212.2 1218.9,214.0 1219.4,212.2 1219.9,213.9 1220.4,216.8 1220.9,220.7 1221.4,220.2 1221.8,216.5 1222.3,219.7 1222.8,220.3 1223.3,222.0 1223.8,221.6 1224.3,225.6 1224.8,226.3 1225.3,226.3 1225.8,224.2 1226.3,223.6 1226.8,224.2 1227.2,225.3 1227.7,227.2 1228.2,224.3 1228.7,226.0 1229.2,225.7 1229.7,225.9 1230.2,226.5 1230.7,226.9 1231.2,226.8 1231.7,227.9 1232.2,225.7 1232.6,226.3 1233.1,224.6 1233.6,228.8 1234.1,224.5 1234.6,226.3 1235.1,226.4 1235.6,227.4 1236.1,227.4 1236.6,228.4 1237.1,225.0 1237.6,226.6 1238.0,225.3 1238.5,225.1 1239.0,227.1 1239.5,226.7 1240.0,226.9 1240.5,224.9 1241.0,226.2 1241.5,226.1 1242.0,225.4 1242.5,226.5 1243.0,223.4 1243.4,227.8 1243.9,224.6 1244.4,224.4 1244.9,228.1 1245.4,225.2 1245.9,226.0 1246.4,225.2 1246.9,228.2 1247.4,226.1 1247.9,227.9 1248.4,226.9 1248.8,224.4 1249.3,226.7 1249.8,229.7 1250.3,228.5 1250.8,228.1 1251.3,225.0 1251.8,227.5 1252.3,228.8 1252.8,224.9 1253.3,226.1 1253.8,226.0 1254.2,227.7 1254.7,224.4 1255.2,226.7 1255.7,229.4 1256.2,228.2 1256.7,227.7 1257.2,226.8 1257.7,225.4 1258.2,227.6 1258.7,227.4 1259.2,223.3 1259.6,226.4 1260.1,227.3 1260.6,226.5 1261.1,228.3 1261.6,225.8 1262.1,225.1 1262.6,227.4 1263.1,225.1 1263.6,227.0 1264.1,226.1 1264.6,227.6 1265.0,227.7 1265.5,228.7 1266.0,226.2 1266.5,227.0 1267.0,226.9 1267.5,228.2 1268.0,228.2 1268.5,227.5 1269.0,225.9 1269.5,226.1 1270.0,227.5 1270.4,226.1 1270.9,224.0 1271.4,226.4 1271.9,223.6 1272.4,225.9 1272.9,224.6 1273.4,227.3 1273.9,224.9 1274.4,228.3 1274.9,226.2 1275.3,227.0 1275.8,229.5 1276.3,228.5 1276.8,224.9 1277.3,225.9 1277.8,224.7 1278.3,226.3 1278.8,230.8 1279.3,226.2 1279.8,227.4 1280.3,227.3 1280.7,227.2 1281.2,227.7 1281.7,228.0 1282.2,224.8 1282.7,225.9 1283.2,227.5 1283.7,227.2 1284.2,225.2 1284.7,226.0 1285.2,226.3 1285.7,228.4 1286.1,227.2 1286.6,228.2 1287.1,229.4 1287.6,225.3 1288.1,227.1 1288.6,227.2 1289.1,228.0 1289.6,225.5 1290.1,223.6 1290.6,225.7 1291.1,225.2 1291.5,228.4 1292.0,226.3 1292.5,226.3 1293.0,224.4 1293.5,226.6 1294.0,228.0 1294.5,226.7 1295.0,227.2 1295.5,224.5 1296.0,225.6 1296.5,226.1 1296.9,226.3 1297.4,225.4 1297.9,227.3 1298.4,227.9 1298.9,229.3 1299.4,224.9 1299.9,225.9 1300.4,225.7 1300.9,226.5 1301.4,224.2 1301.9,228.0 1302.3,224.9 1302.8,227.8 1303.3,227.3 1303.8,228.4 1304.3,226.5 1304.8,227.0 1305.3,226.0 1305.8,227.5 1306.3,228.6 1306.8,225.8 1307.3,224.7 1307.7,225.5 1308.2,226.7 1308.7,226.0 1309.2,229.1 1309.7,227.1 1310.2,224.9" fill="none" stroke="#800000" stroke-width="2.3" stroke-linejoin="round"/>
<polyline points="1324.2,225.8 1324.7,227.5 1325.2,225.3 1325.7,226.6 1326.2,225.4 1326.7,228.2 1327.2,227.0 1327.7,225.9 1328.2,225.9 1328.7,225.6 1329.1,226.3 1329.6,226.5 1330.1,225.6 1330.6,225.1 1331.1,228.1 1331.6,226.6 1332.1,226.4 1332.6,225.9 1333.1,224.7 1333.6,227.7 1334.1,225.2 1334.6,228.1 1335.1,226.8 1335.6,226.4 1336.1,226.1 1336.6,226.4 1337.1,226.2 1337.6,225.9 1338.1,225.7 1338.5,227.7 1339.0,227.0 1339.5,225.7 1340.0,224.3 1340.5,223.6 1341.0,221.1 1341.5,224.5 1342.0,225.6 1342.5,224.2 1343.0,223.4 1343.5,223.9 1344.0,225.4 1344.5,224.0 1345.0,223.7 1345.5,225.3 1346.0,224.9 1346.5,221.6 1347.0,225.9 1347.4,222.6 1347.9,223.0 1348.4,220.7 1348.9,221.5 1349.4,223.2 1349.9,220.3 1350.4,222.5 1350.9,219.0 1351.4,219.3 1351.9,221.3 1352.4,220.1 1352.9,220.7 1353.4,221.9 1353.9,219.2 1354.4,219.9 1354.9,219.2 1355.4,218.8 1355.9,218.2 1356.4,218.6 1356.8,219.9 1357.3,219.6 1357.8,219.1 1358.3,219.7 1358.8,219.8 1359.3,217.0 1359.8,218.7 1360.3,216.9 1360.8,220.3 1361.3,219.3 1361.8,219.8 1362.3,219.8 1362.8,219.7 1363.3,219.5 1363.8,220.0 1364.3,217.2 1364.8,218.7 1365.3,220.6 1365.8,220.4 1366.2,218.9 1366.7,219.2 1367.2,220.9 1367.7,219.0 1368.2,222.2 1368.7,221.1 1369.2,218.4 1369.7,224.1 1370.2,221.2 1370.7,219.8 1371.2,221.5 1371.7,222.4 1372.2,222.8 1372.7,224.5 1373.2,223.7 1373.7,222.0 1374.2,223.0 1374.7,222.5 1375.1,222.8 1375.6,222.4 1376.1,225.1 1376.6,223.5 1377.1,223.7 1377.6,223.8 1378.1,224.7 1378.6,226.5 1379.1,223.0 1379.6,222.9 1380.1,221.0 1380.6,223.3 1381.1,222.2 1381.6,223.7 1382.1,225.0 1382.6,224.0 1383.1,226.2 1383.6,224.5 1384.1,225.0 1384.5,226.3 1385.0,223.5 1385.5,223.7 1386.0,224.6 1386.5,224.2 1387.0,223.2 1387.5,225.5 1388.0,227.1 1388.5,226.6 1389.0,224.5 1389.5,225.2 1390.0,227.4 1390.5,223.8 1391.0,225.3 1391.5,223.5 1392.0,224.1 1392.5,226.1 1393.0,225.5 1393.5,226.5 1393.9,226.7 1394.4,226.0 1394.9,224.9 1395.4,223.8 1395.9,226.7 1396.4,224.7 1396.9,225.5 1397.4,225.8 1397.9,224.1 1398.4,226.0 1398.9,223.7 1399.4,225.9 1399.9,226.6 1400.4,224.5 1400.9,227.3 1401.4,226.9 1401.9,225.6 1402.4,225.3 1402.9,225.7 1403.3,227.8 1403.8,227.0 1404.3,224.6 1404.8,224.5 1405.3,226.5 1405.8,224.8 1406.3,224.8 1406.8,223.7 1407.3,226.0 1407.8,223.1 1408.3,225.3 1408.8,223.0 1409.3,223.6 1409.8,226.1 1410.3,225.1 1410.8,224.3 1411.3,223.3 1411.8,226.3 1412.2,225.1 1412.7,223.6 1413.2,223.7 1413.7,225.6 1414.2,225.3 1414.7,223.5 1415.2,225.3 1415.7,223.5 1416.2,222.5 1416.7,223.6 1417.2,226.9 1417.7,221.8 1418.2,221.7 1418.7,221.1 1419.2,221.7 1419.7,224.8 1420.2,220.6 1420.7,221.8 1421.2,220.8 1421.6,222.0 1422.1,221.8 1422.6,221.5 1423.1,218.9 1423.6,220.3 1424.1,220.6 1424.6,221.6 1425.1,219.0 1425.6,219.2 1426.1,218.7 1426.6,217.2 1427.1,217.1 1427.6,217.6 1428.1,216.8 1428.6,216.5 1429.1,215.2 1429.6,214.7 1430.1,214.8 1430.6,215.6 1431.0,212.8 1431.5,212.1 1432.0,214.1 1432.5,211.5 1433.0,211.9 1433.5,213.6 1434.0,210.2 1434.5,208.2 1435.0,209.7 1435.5,209.0 1436.0,206.1 1436.5,208.2 1437.0,207.4 1437.5,205.9 1438.0,204.1 1438.5,203.5 1439.0,204.4 1439.5,203.6 1439.9,202.6 1440.4,202.8 1440.9,203.0 1441.4,203.0 1441.9,200.3 1442.4,201.3 1442.9,197.2 1443.4,200.0 1443.9,201.7 1444.4,200.8 1444.9,200.4 1445.4,200.5 1445.9,200.5 1446.4,200.7 1446.9,201.7 1447.4,200.9 1447.9,199.2 1448.4,203.0 1448.9,203.2 1449.3,202.2 1449.8,201.9 1450.3,202.9 1450.8,202.8 1451.3,204.9 1451.8,205.6 1452.3,204.9 1452.8,205.4 1453.3,204.6 1453.8,205.3 1454.3,210.2 1454.8,207.3 1455.3,209.7 1455.8,212.1 1456.3,209.4 1456.8,210.6 1457.3,211.3 1457.8,213.0 1458.3,213.2 1458.7,212.6 1459.2,214.8 1459.7,213.5 1460.2,213.6 1460.7,214.4 1461.2,214.3 1461.7,215.2 1462.2,217.0 1462.7,217.3 1463.2,216.2 1463.7,215.5 1464.2,216.9 1464.7,218.1 1465.2,217.6 1465.7,220.5 1466.2,219.8 1466.7,219.3 1467.2,219.2 1467.7,219.9 1468.1,220.1 1468.6,221.5 1469.1,221.0 1469.6,220.2 1470.1,223.1 1470.6,222.5 1471.1,221.7 1471.6,219.5 1472.1,220.7 1472.6,219.8 1473.1,220.3 1473.6,222.8 1474.1,222.4 1474.6,224.0 1475.1,221.1 1475.6,221.9 1476.1,222.2 1476.6,222.2 1477.0,222.6 1477.5,223.0 1478.0,223.1 1478.5,222.0 1479.0,224.7 1479.5,225.1 1480.0,223.8 1480.5,222.4 1481.0,223.7 1481.5,224.3 1482.0,223.1 1482.5,224.1 1483.0,226.8 1483.5,225.7 1484.0,227.1 1484.5,224.8 1485.0,225.1 1485.5,224.0 1486.0,221.9 1486.4,225.5 1486.9,224.7 1487.4,225.3 1487.9,228.5 1488.4,225.8 1488.9,225.8 1489.4,224.6 1489.9,226.1 1490.4,226.7 1490.9,224.3 1491.4,225.2 1491.9,226.3 1492.4,226.1 1492.9,225.5 1493.4,224.1 1493.9,223.4 1494.4,226.9 1494.9,223.8 1495.4,225.2 1495.8,224.8 1496.3,224.1 1496.8,226.6 1497.3,224.3 1497.8,227.1 1498.3,226.0 1498.8,226.5 1499.3,223.3 1499.8,223.4 1500.3,224.5 1500.8,224.8 1501.3,226.2 1501.8,223.3 1502.3,223.8 1502.8,224.4 1503.3,225.7 1503.8,226.1 1504.3,225.7 1504.8,223.9 1505.2,226.9 1505.7,225.5 1506.2,223.6 1506.7,224.5 1507.2,223.4 1507.7,225.2 1508.2,225.2 1508.7,223.9 1509.2,224.9 1509.7,225.3 1510.2,226.4 1510.7,227.7 1511.2,223.8 1511.7,226.3 1512.2,226.8 1512.7,224.7 1513.2,227.0 1513.7,227.6 1514.1,226.6 1514.6,225.9 1515.1,225.5 1515.6,225.2 1516.1,224.6 1516.6,226.0 1517.1,225.4 1517.6,226.0 1518.1,226.7 1518.6,225.4 1519.1,225.4 1519.6,223.5 1520.1,225.1 1520.6,226.8 1521.1,225.2 1521.6,226.3 1522.1,223.9 1522.6,228.1 1523.1,226.8 1523.5,226.8 1524.0,225.8 1524.5,226.1 1525.0,228.0 1525.5,228.4 1526.0,225.8 1526.5,224.1 1527.0,224.1 1527.5,226.5 1528.0,225.4 1528.5,227.1 1529.0,227.9 1529.5,224.5 1530.0,225.2 1530.5,226.5 1531.0,226.5 1531.5,224.9 1532.0,225.6 1532.5,226.5 1532.9,225.7 1533.4,226.1 1533.9,226.6 1534.4,227.0 1534.9,224.9 1535.4,226.7 1535.9,227.6 1536.4,223.8 1536.9,224.5 1537.4,225.4 1537.9,226.2 1538.4,225.9 1538.9,228.0 1539.4,226.2 1539.9,225.8 1540.4,226.4 1540.9,225.6 1541.4,227.1 1541.8,225.9 1542.3,228.2 1542.8,226.2 1543.3,227.0 1543.8,227.9 1544.3,226.7 1544.8,226.2 1545.3,226.9 1545.8,225.0 1546.3,227.1 1546.8,225.0 1547.3,225.3 1547.8,227.0 1548.3,224.4 1548.8,228.0 1549.3,225.5 1549.8,226.1 1550.3,225.3 1550.8,228.2 1551.2,227.8 1551.7,227.3 1552.2,226.2 1552.7,226.1 1553.2,226.2 1553.7,226.6 1554.2,227.2 1554.7,228.0 1555.2,226.8 1555.7,225.6 1556.2,225.0 1556.7,226.9 1557.2,224.9 1557.7,228.0 1558.2,225.3 1558.7,227.7 1559.2,226.0 1559.7,227.5 1560.2,227.5 1560.6,227.0 1561.1,224.5 1561.6,227.2 1562.1,225.5 1562.6,226.1 1563.1,225.9 1563.6,225.9 1564.1,225.5 1564.6,227.9 1565.1,226.3 1565.6,225.9 1566.1,227.1 1566.6,225.9 1567.1,227.6 1567.6,225.4 1568.1,227.2 1568.6,226.7 1569.1,225.3 1569.6,225.0 1570.0,227.1 1570.5,227.2 1571.0,225.1 1571.5,230.0 1572.0,224.7 1572.5,224.7 1573.0,227.7 1573.5,224.8 1574.0,225.9 1574.5,225.8 1575.0,229.3 1575.5,227.0 1576.0,226.6 1576.5,226.9 1577.0,226.9 1577.5,226.7 1578.0,230.0 1578.5,226.6 1578.9,227.3 1579.4,226.5 1579.9,227.0 1580.4,226.4 1580.9,226.0 1581.4,224.1 1581.9,227.4 1582.4,224.2 1582.9,226.7 1583.4,227.5 1583.9,228.2 1584.4,225.3 1584.9,228.3 1585.4,225.2 1585.9,226.0 1586.4,227.1 1586.9,227.3 1587.4,225.8 1587.9,226.2 1588.3,225.5 1588.8,226.4 1589.3,227.1 1589.8,225.7 1590.3,227.9 1590.8,225.3 1591.3,226.4 1591.8,227.9 1592.3,227.7 1592.8,226.8 1593.3,228.7 1593.8,224.7 1594.3,225.2 1594.8,227.8 1595.3,226.6 1595.8,224.3 1596.3,225.9 1596.8,227.7 1597.3,229.2 1597.7,228.5 1598.2,224.9 1598.7,226.0 1599.2,228.1 1599.7,225.5 1600.2,226.9 1600.7,227.3 1601.2,227.1 1601.7,227.0 1602.2,224.3 1602.7,227.7 1603.2,227.0 1603.7,224.7 1604.2,224.5 1604.7,227.7 1605.2,223.8 1605.7,225.0 1606.2,228.4 1606.6,224.1 1607.1,228.4 1607.6,225.6 1608.1,227.9 1608.6,228.8 1609.1,225.4 1609.6,225.9 1610.1,226.6 1610.6,226.2 1611.1,226.6 1611.6,226.8 1612.1,227.8 1612.6,225.7 1613.1,226.4 1613.6,226.8 1614.1,227.2 1614.6,226.8 1615.1,228.4 1615.6,226.9 1616.0,227.7 1616.5,224.8 1617.0,227.7 1617.5,227.1 1618.0,226.5 1618.5,225.5 1619.0,225.9 1619.5,226.5 1620.0,223.7 1620.5,226.5" fill="none" stroke="#800000" stroke-width="2.3" stroke-linejoin="round"/>
<polyline points="1634.3,226.3 1634.8,223.9 1635.2,227.5 1635.7,225.6 1636.2,226.2 1636.7,227.9 1637.1,227.2 1637.6,225.8 1638.1,228.0 1638.5,226.8 1639.0,225.7 1639.5,226.8 1640.0,226.3 1640.4,227.3 1640.9,227.2 1641.4,227.2 1641.8,226.9 1642.3,226.0 1642.8,226.5 1643.3,224.6 1643.7,226.1 1644.2,226.3 1644.7,224.4 1645.1,226.7 1645.6,227.4 1646.1,226.4 1646.6,227.7 1647.0,226.1 1647.5,225.2 1648.0,226.0 1648.4,227.0 1648.9,226.7 1649.4,226.1 1649.8,225.4 1650.3,227.0 1650.8,227.0 1651.3,225.5 1651.7,226.4 1652.2,226.2 1652.7,226.1 1653.1,227.3 1653.6,226.7 1654.1,225.5 1654.6,226.7 1655.0,226.8 1655.5,226.3 1656.0,226.2 1656.4,224.0 1656.9,227.4 1657.4,226.4 1657.9,224.5 1658.3,226.5 1658.8,226.1 1659.3,228.0 1659.7,225.5 1660.2,225.6 1660.7,225.7 1661.2,226.7 1661.6,226.1 1662.1,226.5 1662.6,225.6 1663.0,226.5 1663.5,225.6 1664.0,227.7 1664.5,226.7 1664.9,229.2 1665.4,226.5 1665.9,225.6 1666.3,226.6 1666.8,224.0 1667.3,227.3 1667.8,226.6 1668.2,227.1 1668.7,226.7 1669.2,226.6 1669.6,227.6 1670.1,227.1 1670.6,224.0 1671.1,226.3 1671.5,225.1 1672.0,227.2 1672.5,226.0 1672.9,225.3 1673.4,225.9 1673.9,226.2 1674.4,225.8 1674.8,225.6 1675.3,224.7 1675.8,224.2 1676.2,226.7 1676.7,227.3 1677.2,225.4 1677.6,225.1 1678.1,224.3 1678.6,223.9 1679.1,225.5 1679.5,222.7 1680.0,224.3 1680.5,226.2 1680.9,223.4 1681.4,223.9 1681.9,223.8 1682.4,225.5 1682.8,224.1 1683.3,223.5 1683.8,223.7 1684.2,222.7 1684.7,221.9 1685.2,221.5 1685.7,221.6 1686.1,222.8 1686.6,220.7 1687.1,222.0 1687.5,221.2 1688.0,222.1 1688.5,223.0 1689.0,223.6 1689.4,221.0 1689.9,221.6 1690.4,220.7 1690.8,219.5 1691.3,221.7 1691.8,221.7 1692.3,219.4 1692.7,219.0 1693.2,219.4 1693.7,219.3 1694.1,220.1 1694.6,218.3 1695.1,218.7 1695.6,217.2 1696.0,216.4 1696.5,217.6 1697.0,216.3 1697.4,216.3 1697.9,215.4 1698.4,214.3 1698.9,214.8 1699.3,214.5 1699.8,214.1 1700.3,215.0 1700.7,214.2 1701.2,213.5 1701.7,212.3 1702.2,212.0 1702.6,210.7 1703.1,213.7 1703.6,212.3 1704.0,213.7 1704.5,212.2 1705.0,212.9 1705.4,209.8 1705.9,209.9 1706.4,211.4 1706.9,209.7 1707.3,209.0 1707.8,207.7 1708.3,208.3 1708.7,208.7 1709.2,208.6 1709.7,207.6 1710.2,207.7 1710.6,208.2 1711.1,208.6 1711.6,206.1 1712.0,207.6 1712.5,206.8 1713.0,205.5 1713.5,206.1 1713.9,204.7 1714.4,206.6 1714.9,204.5 1715.3,206.3 1715.8,206.3 1716.3,205.6 1716.8,204.2 1717.2,204.7 1717.7,205.2 1718.2,202.3 1718.6,204.3 1719.1,203.2 1719.6,202.6 1720.1,203.0 1720.5,202.0 1721.0,201.5 1721.5,202.0 1721.9,200.6 1722.4,202.0 1722.9,202.2 1723.4,200.7 1723.8,201.6 1724.3,200.0 1724.8,200.2 1725.2,200.3 1725.7,199.0 1726.2,198.8 1726.7,202.0 1727.1,199.1 1727.6,198.4 1728.1,197.8 1728.5,198.6 1729.0,198.9 1729.5,197.3 1730.0,196.5 1730.4,198.9 1730.9,198.1 1731.4,196.9 1731.8,198.6 1732.3,196.3 1732.8,194.6 1733.2,196.2 1733.7,194.7 1734.2,195.4 1734.7,193.8 1735.1,193.3 1735.6,192.4 1736.1,193.3 1736.5,192.0 1737.0,192.4 1737.5,193.0 1738.0,190.8 1738.4,192.6 1738.9,191.5 1739.4,189.0 1739.8,190.3 1740.3,191.8 1740.8,190.4 1741.3,191.1 1741.7,190.4 1742.2,191.6 1742.7,189.7 1743.1,191.3 1743.6,189.2 1744.1,189.0 1744.6,188.4 1745.0,186.9 1745.5,190.7 1746.0,190.2 1746.4,189.9 1746.9,189.4 1747.4,187.9 1747.9,189.1 1748.3,189.4 1748.8,190.0 1749.3,189.5 1749.7,189.4 1750.2,189.1 1750.7,190.5 1751.2,189.3 1751.6,188.8 1752.1,189.2 1752.6,191.0 1753.0,189.1 1753.5,189.3 1754.0,190.1 1754.5,191.9 1754.9,192.4 1755.4,191.2 1755.9,192.6 1756.3,193.2 1756.8,191.3 1757.3,191.7 1757.8,192.3 1758.2,192.1 1758.7,192.9 1759.2,195.4 1759.6,193.6 1760.1,195.0 1760.6,195.2 1761.1,194.6 1761.5,196.2 1762.0,195.6 1762.5,197.6 1762.9,198.6 1763.4,199.5 1763.9,199.4 1764.3,201.5 1764.8,200.5 1765.3,201.1 1765.8,202.1 1766.2,204.4 1766.7,204.9 1767.2,202.6 1767.6,204.8 1768.1,203.1 1768.6,205.7 1769.1,205.3 1769.5,207.6 1770.0,207.4 1770.5,207.6 1770.9,207.3 1771.4,206.8 1771.9,208.1 1772.4,211.0 1772.8,210.1 1773.3,210.8 1773.8,211.8 1774.2,211.2 1774.7,210.7 1775.2,213.2 1775.7,212.1 1776.1,212.4 1776.6,215.3 1777.1,212.9 1777.5,213.5 1778.0,215.3 1778.5,214.4 1779.0,216.2 1779.4,215.8 1779.9,216.7 1780.4,218.6 1780.8,217.8 1781.3,218.6 1781.8,219.3 1782.3,220.3 1782.7,220.3 1783.2,221.1 1783.7,219.0 1784.1,222.5 1784.6,220.7 1785.1,221.7 1785.6,222.6 1786.0,220.9 1786.5,222.7 1787.0,220.9 1787.4,222.5 1787.9,222.3 1788.4,222.9 1788.9,222.4 1789.3,222.3 1789.8,223.8 1790.3,223.6 1790.7,222.0 1791.2,224.5 1791.7,222.3 1792.1,224.6 1792.6,224.9 1793.1,226.2 1793.6,225.5 1794.0,226.5 1794.5,225.4 1795.0,224.3 1795.4,225.1 1795.9,225.8 1796.4,226.3 1796.9,226.0 1797.3,226.9 1797.8,226.8 1798.3,223.6 1798.7,225.4 1799.2,226.6 1799.7,225.1 1800.2,224.3 1800.6,226.5 1801.1,226.1 1801.6,227.3 1802.0,227.6 1802.5,224.7 1803.0,222.7 1803.5,226.9 1803.9,227.8 1804.4,224.8 1804.9,225.2 1805.3,225.8 1805.8,224.8 1806.3,226.7 1806.8,226.1 1807.2,225.6 1807.7,226.7 1808.2,225.9 1808.6,226.7 1809.1,226.0 1809.6,226.3 1810.1,228.4 1810.5,226.4 1811.0,227.9 1811.5,227.3 1811.9,228.2 1812.4,225.7 1812.9,226.8 1813.4,226.9 1813.8,225.3 1814.3,225.8 1814.8,226.8 1815.2,228.6 1815.7,225.9 1816.2,226.8 1816.7,226.9 1817.1,225.8 1817.6,227.2 1818.1,226.7 1818.5,225.7 1819.0,226.0 1819.5,227.2 1819.9,225.1 1820.4,225.4 1820.9,224.7 1821.4,226.6 1821.8,226.4 1822.3,225.5 1822.8,226.2 1823.2,226.5 1823.7,226.7 1824.2,226.9 1824.7,227.2 1825.1,227.2 1825.6,226.2 1826.1,226.9 1826.5,228.0 1827.0,226.5 1827.5,224.9 1828.0,225.2 1828.4,228.6 1828.9,227.4 1829.4,225.8 1829.8,226.5 1830.3,226.5 1830.8,226.7 1831.3,226.5 1831.7,227.6 1832.2,225.4 1832.7,227.6 1833.1,226.7 1833.6,225.1 1834.1,225.5 1834.6,226.6 1835.0,226.6 1835.5,227.2 1836.0,227.1 1836.4,226.8 1836.9,225.3 1837.4,227.0 1837.9,226.0 1838.3,226.2 1838.8,226.2 1839.3,226.9 1839.7,225.9 1840.2,226.4 1840.7,226.5 1841.2,227.1 1841.6,228.7 1842.1,225.9 1842.6,225.8 1843.0,227.1 1843.5,226.8 1844.0,226.3 1844.5,227.5 1844.9,225.9 1845.4,225.9 1845.9,225.7 1846.3,225.7 1846.8,228.5 1847.3,226.1 1847.7,227.0 1848.2,225.5 1848.7,225.5 1849.2,225.8 1849.6,226.7 1850.1,223.8 1850.6,226.6 1851.0,227.6 1851.5,225.6 1852.0,228.0 1852.5,224.7 1852.9,225.6 1853.4,225.2 1853.9,225.5 1854.3,226.2 1854.8,227.9 1855.3,227.2 1855.8,226.0 1856.2,226.8 1856.7,226.2 1857.2,227.2 1857.6,227.3 1858.1,226.3 1858.6,225.8 1859.1,226.6 1859.5,227.5 1860.0,228.2" fill="none" stroke="#800000" stroke-width="2.3" stroke-linejoin="round"/>
<text transform="translate(1965.7,237.2) scale(1.012,1.065)" font-size="26.7" text-anchor="end">−0.15 V</text>
<polyline points="1084.9,266.5 1085.4,271.1 1085.9,270.7 1086.4,270.5 1086.9,268.2 1087.4,270.5 1087.8,268.7 1088.3,269.0 1088.8,271.1 1089.3,269.2 1089.8,271.2 1090.3,269.7 1090.8,268.4 1091.3,269.8 1091.8,270.8 1092.3,270.1 1092.8,269.7 1093.2,269.0 1093.7,272.8 1094.2,272.1 1094.7,268.8 1095.2,269.6 1095.7,269.5 1096.2,269.2 1096.7,269.7 1097.2,270.1 1097.7,269.3 1098.2,268.5 1098.6,269.0 1099.1,269.5 1099.6,271.0 1100.1,269.2 1100.6,271.2 1101.1,270.5 1101.6,269.3 1102.1,269.3 1102.6,267.9 1103.1,268.2 1103.6,268.8 1104.0,270.0 1104.5,269.5 1105.0,269.8 1105.5,267.0 1106.0,268.8 1106.5,270.4 1107.0,270.7 1107.5,267.7 1108.0,270.7 1108.5,268.9 1109.0,269.2 1109.4,267.9 1109.9,270.7 1110.4,268.8 1110.9,269.2 1111.4,268.3 1111.9,267.5 1112.4,269.3 1112.9,269.7 1113.4,268.1 1113.9,271.4 1114.4,269.1 1114.8,270.8 1115.3,271.1 1115.8,271.6 1116.3,271.7 1116.8,268.1 1117.3,268.0 1117.8,269.1 1118.3,267.8 1118.8,269.2 1119.3,269.9 1119.8,270.7 1120.2,268.0 1120.7,267.9 1121.2,267.3 1121.7,270.2 1122.2,269.4 1122.7,270.9 1123.2,267.2 1123.7,267.8 1124.2,268.0 1124.7,268.7 1125.1,268.9 1125.6,269.1 1126.1,267.0 1126.6,269.4 1127.1,267.1 1127.6,267.9 1128.1,269.7 1128.6,270.2 1129.1,269.2 1129.6,268.0 1130.1,269.7 1130.5,266.8 1131.0,266.0 1131.5,266.7 1132.0,269.8 1132.5,270.7 1133.0,265.9 1133.5,264.9 1134.0,267.5 1134.5,266.1 1135.0,267.1 1135.5,267.5 1135.9,265.0 1136.4,267.1 1136.9,264.9 1137.4,263.5 1137.9,266.0 1138.4,263.0 1138.9,267.5 1139.4,264.1 1139.9,265.3 1140.4,261.5 1140.9,265.0 1141.3,266.0 1141.8,262.4 1142.3,266.9 1142.8,263.9 1143.3,265.5 1143.8,262.3 1144.3,264.3 1144.8,262.9 1145.3,264.1 1145.8,265.5 1146.3,266.9 1146.7,261.2 1147.2,263.4 1147.7,265.3 1148.2,264.0 1148.7,262.1 1149.2,265.7 1149.7,260.2 1150.2,263.8 1150.7,264.0 1151.2,261.6 1151.7,263.2 1152.1,264.9 1152.6,262.2 1153.1,262.9 1153.6,262.0 1154.1,265.0 1154.6,265.3 1155.1,262.9 1155.6,264.5 1156.1,267.1 1156.6,264.9 1157.1,263.2 1157.5,265.3 1158.0,262.5 1158.5,265.2 1159.0,264.7 1159.5,267.0 1160.0,266.0 1160.5,265.2 1161.0,264.2 1161.5,264.9 1162.0,263.8 1162.5,268.6 1162.9,265.6 1163.4,266.0 1163.9,267.4 1164.4,266.1 1164.9,267.2 1165.4,265.7 1165.9,266.9 1166.4,265.8 1166.9,268.0 1167.4,265.0 1167.9,266.4 1168.3,264.5 1168.8,267.4 1169.3,268.1 1169.8,267.2 1170.3,268.2 1170.8,269.2 1171.3,267.7 1171.8,268.0 1172.3,268.9 1172.8,268.6 1173.3,269.6 1173.7,268.0 1174.2,270.3 1174.7,265.9 1175.2,268.4 1175.7,267.2 1176.2,270.3 1176.7,268.2 1177.2,268.9 1177.7,267.4 1178.2,267.6 1178.7,271.3 1179.1,267.3 1179.6,271.1 1180.1,267.1 1180.6,269.1 1181.1,270.8 1181.6,268.1 1182.1,269.1 1182.6,270.6 1183.1,270.3 1183.6,268.5 1184.1,271.2 1184.5,270.5 1185.0,266.6 1185.5,270.4 1186.0,268.8 1186.5,268.7 1187.0,267.9 1187.5,268.1 1188.0,273.0 1188.5,270.1 1189.0,267.6 1189.5,270.5 1189.9,266.7 1190.4,269.0 1190.9,271.2 1191.4,268.6 1191.9,266.5 1192.4,270.4 1192.9,268.6 1193.4,270.7 1193.9,270.2 1194.4,269.2 1194.9,268.6 1195.3,268.9 1195.8,269.1 1196.3,265.9 1196.8,270.9 1197.3,272.1 1197.8,268.5 1198.3,269.1 1198.8,271.4 1199.3,266.8 1199.8,270.4 1200.2,271.4 1200.7,268.7 1201.2,268.4 1201.7,265.9 1202.2,271.5 1202.7,271.1 1203.2,269.7 1203.7,269.9 1204.2,269.3 1204.7,270.2 1205.2,271.5 1205.6,269.8 1206.1,268.1 1206.6,267.9 1207.1,270.0 1207.6,268.2 1208.1,268.4 1208.6,269.6 1209.1,269.4 1209.6,268.7 1210.1,264.6 1210.6,268.4 1211.0,269.8 1211.5,268.5 1212.0,268.9 1212.5,266.1 1213.0,270.5 1213.5,268.3 1214.0,264.6 1214.5,264.1 1215.0,263.3 1215.5,260.5 1216.0,261.6 1216.4,257.0 1216.9,257.2 1217.4,255.8 1217.9,252.3 1218.4,254.1 1218.9,253.9 1219.4,253.1 1219.9,256.6 1220.4,255.3 1220.9,254.2 1221.4,259.0 1221.8,258.6 1222.3,260.1 1222.8,264.2 1223.3,265.3 1223.8,264.2 1224.3,268.1 1224.8,265.6 1225.3,265.9 1225.8,266.0 1226.3,266.5 1226.8,265.5 1227.2,268.2 1227.7,265.9 1228.2,267.3 1228.7,267.5 1229.2,268.6 1229.7,267.1 1230.2,269.7 1230.7,267.6 1231.2,267.0 1231.7,269.7 1232.2,270.2 1232.6,269.9 1233.1,268.9 1233.6,268.4 1234.1,267.6 1234.6,266.2 1235.1,266.6 1235.6,268.6 1236.1,269.6 1236.6,270.8 1237.1,267.9 1237.6,268.3 1238.0,269.5 1238.5,269.4 1239.0,269.3 1239.5,272.9 1240.0,269.3 1240.5,268.7 1241.0,269.4 1241.5,270.8 1242.0,269.1 1242.5,268.5 1243.0,266.6 1243.4,267.7 1243.9,268.4 1244.4,269.3 1244.9,271.2 1245.4,270.0 1245.9,271.3 1246.4,269.4 1246.9,267.7 1247.4,267.8 1247.9,268.0 1248.4,269.3 1248.8,267.9 1249.3,269.7 1249.8,272.2 1250.3,269.1 1250.8,269.3 1251.3,271.9 1251.8,270.1 1252.3,272.9 1252.8,270.0 1253.3,267.6 1253.8,270.3 1254.2,267.4 1254.7,269.0 1255.2,270.4 1255.7,272.0 1256.2,268.3 1256.7,268.4 1257.2,271.6 1257.7,270.0 1258.2,267.8 1258.7,270.5 1259.2,268.8 1259.6,272.2 1260.1,270.7 1260.6,268.3 1261.1,271.1 1261.6,271.5 1262.1,271.4 1262.6,269.9 1263.1,271.7 1263.6,269.6 1264.1,268.6 1264.6,267.2 1265.0,270.0 1265.5,267.0 1266.0,268.6 1266.5,269.7 1267.0,268.6 1267.5,267.2 1268.0,267.2 1268.5,268.3 1269.0,269.5 1269.5,268.2 1270.0,269.1 1270.4,269.2 1270.9,269.0 1271.4,266.8 1271.9,271.2 1272.4,269.5 1272.9,271.0 1273.4,268.1 1273.9,267.8 1274.4,267.4 1274.9,269.9 1275.3,269.3 1275.8,268.3 1276.3,269.2 1276.8,269.0 1277.3,269.1 1277.8,269.0 1278.3,269.6 1278.8,268.8 1279.3,271.6 1279.8,270.0 1280.3,271.4 1280.7,269.6 1281.2,270.5 1281.7,268.6 1282.2,267.6 1282.7,271.2 1283.2,270.6 1283.7,268.9 1284.2,267.3 1284.7,268.3 1285.2,268.8 1285.7,269.5 1286.1,270.1 1286.6,268.9 1287.1,268.7 1287.6,269.2 1288.1,270.3 1288.6,271.8 1289.1,270.7 1289.6,270.0 1290.1,271.1 1290.6,269.0 1291.1,271.5 1291.5,269.9 1292.0,268.9 1292.5,268.2 1293.0,269.1 1293.5,267.7 1294.0,270.3 1294.5,270.6 1295.0,267.8 1295.5,270.7 1296.0,269.7 1296.5,272.0 1296.9,267.8 1297.4,268.4 1297.9,270.5 1298.4,272.0 1298.9,269.1 1299.4,269.0 1299.9,267.7 1300.4,266.7 1300.9,269.1 1301.4,269.8 1301.9,269.8 1302.3,269.9 1302.8,271.4 1303.3,270.8 1303.8,269.6 1304.3,271.9 1304.8,271.4 1305.3,267.7 1305.8,270.4 1306.3,268.3 1306.8,267.8 1307.3,269.4 1307.7,268.2 1308.2,269.7 1308.7,270.7 1309.2,269.6 1309.7,269.3 1310.2,269.3" fill="none" stroke="#800080" stroke-width="2.3" stroke-linejoin="round"/>
<polyline points="1324.2,269.2 1324.7,269.8 1325.2,267.8 1325.7,269.5 1326.2,269.8 1326.7,268.0 1327.2,270.5 1327.7,269.2 1328.2,267.2 1328.7,269.1 1329.1,267.3 1329.6,269.4 1330.1,269.7 1330.6,269.3 1331.1,269.8 1331.6,269.5 1332.1,269.5 1332.6,267.9 1333.1,268.4 1333.6,269.1 1334.1,269.8 1334.6,264.6 1335.1,269.0 1335.6,266.8 1336.1,270.1 1336.6,269.5 1337.1,266.9 1337.6,269.9 1338.1,269.7 1338.5,268.3 1339.0,269.1 1339.5,268.5 1340.0,267.8 1340.5,266.8 1341.0,267.6 1341.5,267.3 1342.0,265.9 1342.5,265.6 1343.0,267.8 1343.5,269.7 1344.0,268.4 1344.5,265.6 1345.0,267.5 1345.5,267.6 1346.0,267.2 1346.5,264.4 1347.0,266.2 1347.4,266.6 1347.9,266.9 1348.4,267.3 1348.9,262.0 1349.4,265.6 1349.9,265.2 1350.4,265.6 1350.9,263.7 1351.4,266.2 1351.9,267.3 1352.4,265.4 1352.9,264.0 1353.4,261.4 1353.9,264.3 1354.4,265.2 1354.9,264.2 1355.4,264.8 1355.9,264.7 1356.4,263.5 1356.8,263.1 1357.3,264.3 1357.8,261.9 1358.3,263.4 1358.8,263.1 1359.3,263.9 1359.8,262.7 1360.3,262.6 1360.8,262.2 1361.3,264.1 1361.8,262.3 1362.3,263.8 1362.8,263.0 1363.3,262.2 1363.8,261.2 1364.3,263.8 1364.8,264.8 1365.3,263.2 1365.8,261.9 1366.2,264.0 1366.7,260.5 1367.2,266.2 1367.7,261.9 1368.2,262.4 1368.7,262.6 1369.2,265.3 1369.7,262.6 1370.2,262.9 1370.7,263.0 1371.2,265.1 1371.7,265.2 1372.2,263.3 1372.7,264.7 1373.2,265.8 1373.7,266.6 1374.2,265.3 1374.7,267.5 1375.1,265.2 1375.6,265.8 1376.1,268.2 1376.6,265.7 1377.1,264.9 1377.6,266.2 1378.1,268.4 1378.6,267.6 1379.1,265.8 1379.6,268.7 1380.1,267.6 1380.6,265.8 1381.1,267.7 1381.6,268.2 1382.1,266.5 1382.6,265.5 1383.1,267.2 1383.6,269.5 1384.1,269.9 1384.5,268.2 1385.0,270.3 1385.5,268.1 1386.0,266.9 1386.5,271.6 1387.0,268.4 1387.5,267.8 1388.0,268.9 1388.5,267.7 1389.0,267.6 1389.5,266.9 1390.0,264.8 1390.5,267.9 1391.0,269.5 1391.5,269.7 1392.0,270.0 1392.5,267.4 1393.0,267.9 1393.5,267.8 1393.9,268.1 1394.4,266.3 1394.9,266.9 1395.4,267.0 1395.9,269.2 1396.4,268.8 1396.9,270.0 1397.4,269.2 1397.9,268.2 1398.4,269.9 1398.9,269.1 1399.4,265.6 1399.9,268.5 1400.4,270.2 1400.9,269.8 1401.4,268.3 1401.9,267.0 1402.4,268.2 1402.9,266.9 1403.3,267.6 1403.8,269.5 1404.3,266.6 1404.8,268.5 1405.3,265.4 1405.8,268.6 1406.3,268.0 1406.8,268.5 1407.3,268.1 1407.8,267.1 1408.3,267.9 1408.8,266.0 1409.3,267.0 1409.8,265.4 1410.3,267.3 1410.8,265.7 1411.3,265.7 1411.8,267.4 1412.2,263.8 1412.7,265.1 1413.2,266.2 1413.7,267.1 1414.2,266.9 1414.7,266.9 1415.2,266.2 1415.7,267.9 1416.2,266.2 1416.7,266.9 1417.2,263.8 1417.7,264.8 1418.2,263.5 1418.7,262.4 1419.2,264.7 1419.7,262.4 1420.2,264.4 1420.7,263.8 1421.2,265.6 1421.6,264.0 1422.1,262.0 1422.6,262.9 1423.1,263.7 1423.6,262.9 1424.1,263.5 1424.6,263.1 1425.1,263.7 1425.6,259.9 1426.1,259.5 1426.6,260.6 1427.1,261.8 1427.6,259.9 1428.1,256.4 1428.6,260.2 1429.1,258.6 1429.6,258.0 1430.1,255.7 1430.6,257.8 1431.0,255.2 1431.5,255.9 1432.0,254.6 1432.5,255.1 1433.0,252.1 1433.5,252.7 1434.0,252.1 1434.5,249.2 1435.0,249.4 1435.5,246.1 1436.0,247.9 1436.5,247.6 1437.0,246.8 1437.5,242.7 1438.0,244.0 1438.5,245.4 1439.0,244.0 1439.5,244.5 1439.9,242.4 1440.4,243.4 1440.9,243.1 1441.4,241.4 1441.9,239.9 1442.4,240.3 1442.9,240.2 1443.4,241.1 1443.9,244.2 1444.4,241.3 1444.9,241.5 1445.4,240.6 1445.9,239.2 1446.4,240.7 1446.9,244.2 1447.4,242.2 1447.9,242.8 1448.4,241.9 1448.9,243.3 1449.3,246.2 1449.8,245.3 1450.3,245.0 1450.8,247.7 1451.3,245.7 1451.8,246.5 1452.3,245.2 1452.8,247.3 1453.3,248.5 1453.8,248.4 1454.3,248.8 1454.8,248.1 1455.3,251.2 1455.8,253.5 1456.3,247.5 1456.8,250.7 1457.3,252.2 1457.8,249.6 1458.3,254.8 1458.7,254.9 1459.2,254.9 1459.7,254.2 1460.2,256.0 1460.7,254.9 1461.2,256.8 1461.7,255.1 1462.2,256.7 1462.7,259.9 1463.2,258.2 1463.7,260.1 1464.2,259.2 1464.7,259.4 1465.2,256.9 1465.7,260.5 1466.2,262.7 1466.7,260.8 1467.2,262.8 1467.7,259.2 1468.1,261.0 1468.6,260.1 1469.1,263.0 1469.6,264.1 1470.1,262.7 1470.6,265.1 1471.1,264.8 1471.6,264.8 1472.1,264.2 1472.6,266.2 1473.1,267.1 1473.6,262.7 1474.1,265.5 1474.6,265.2 1475.1,264.3 1475.6,264.7 1476.1,266.3 1476.6,266.2 1477.0,263.6 1477.5,264.2 1478.0,265.0 1478.5,263.9 1479.0,268.7 1479.5,266.1 1480.0,266.8 1480.5,269.0 1481.0,266.1 1481.5,265.8 1482.0,266.4 1482.5,269.2 1483.0,267.2 1483.5,266.7 1484.0,267.4 1484.5,266.7 1485.0,266.5 1485.5,265.3 1486.0,267.0 1486.4,263.8 1486.9,267.1 1487.4,267.0 1487.9,266.4 1488.4,267.6 1488.9,268.0 1489.4,266.0 1489.9,270.5 1490.4,270.0 1490.9,265.0 1491.4,266.8 1491.9,267.1 1492.4,267.4 1492.9,267.5 1493.4,269.1 1493.9,268.3 1494.4,269.3 1494.9,266.4 1495.4,267.1 1495.8,267.7 1496.3,267.5 1496.8,268.2 1497.3,269.6 1497.8,265.8 1498.3,267.3 1498.8,268.4 1499.3,267.4 1499.8,266.5 1500.3,266.6 1500.8,267.3 1501.3,267.1 1501.8,268.6 1502.3,266.5 1502.8,267.0 1503.3,267.0 1503.8,270.0 1504.3,267.5 1504.8,267.5 1505.2,267.3 1505.7,271.8 1506.2,270.9 1506.7,268.1 1507.2,269.7 1507.7,267.9 1508.2,268.6 1508.7,267.3 1509.2,269.2 1509.7,269.9 1510.2,267.8 1510.7,268.9 1511.2,270.1 1511.7,271.2 1512.2,264.4 1512.7,269.1 1513.2,268.9 1513.7,271.2 1514.1,270.0 1514.6,268.9 1515.1,268.2 1515.6,267.6 1516.1,269.7 1516.6,268.1 1517.1,267.2 1517.6,269.4 1518.1,268.8 1518.6,271.1 1519.1,269.8 1519.6,270.6 1520.1,267.9 1520.6,269.0 1521.1,266.7 1521.6,268.5 1522.1,267.7 1522.6,268.1 1523.1,268.5 1523.5,270.3 1524.0,266.6 1524.5,269.0 1525.0,271.3 1525.5,269.6 1526.0,270.3 1526.5,267.3 1527.0,267.5 1527.5,266.8 1528.0,266.0 1528.5,269.8 1529.0,271.4 1529.5,270.2 1530.0,268.4 1530.5,272.5 1531.0,269.7 1531.5,267.8 1532.0,270.1 1532.5,269.1 1532.9,270.2 1533.4,266.6 1533.9,266.3 1534.4,270.3 1534.9,270.1 1535.4,268.8 1535.9,268.0 1536.4,268.4 1536.9,268.1 1537.4,267.6 1537.9,267.3 1538.4,266.4 1538.9,268.7 1539.4,269.5 1539.9,269.0 1540.4,265.9 1540.9,267.7 1541.4,267.9 1541.8,267.1 1542.3,267.2 1542.8,265.7 1543.3,270.0 1543.8,268.6 1544.3,267.9 1544.8,267.8 1545.3,269.4 1545.8,271.1 1546.3,269.3 1546.8,269.8 1547.3,269.1 1547.8,267.4 1548.3,268.0 1548.8,270.5 1549.3,270.0 1549.8,268.7 1550.3,267.4 1550.8,269.1 1551.2,268.7 1551.7,271.0 1552.2,269.7 1552.7,270.1 1553.2,268.7 1553.7,269.4 1554.2,270.2 1554.7,270.5 1555.2,268.8 1555.7,269.9 1556.2,267.5 1556.7,268.9 1557.2,269.4 1557.7,267.9 1558.2,270.7 1558.7,267.9 1559.2,270.1 1559.7,268.1 1560.2,270.0 1560.6,270.4 1561.1,271.6 1561.6,269.1 1562.1,268.5 1562.6,271.0 1563.1,266.8 1563.6,269.2 1564.1,270.7 1564.6,266.5 1565.1,269.7 1565.6,267.2 1566.1,273.0 1566.6,266.3 1567.1,268.9 1567.6,269.2 1568.1,268.8 1568.6,270.7 1569.1,267.9 1569.6,268.6 1570.0,268.8 1570.5,270.0 1571.0,270.8 1571.5,268.7 1572.0,268.1 1572.5,269.0 1573.0,269.5 1573.5,269.9 1574.0,268.3 1574.5,267.3 1575.0,269.4 1575.5,270.4 1576.0,265.9 1576.5,271.3 1577.0,268.9 1577.5,269.4 1578.0,267.5 1578.5,269.4 1578.9,271.5 1579.4,270.8 1579.9,269.1 1580.4,269.3 1580.9,270.1 1581.4,270.0 1581.9,271.3 1582.4,271.2 1582.9,270.1 1583.4,270.2 1583.9,269.4 1584.4,270.8 1584.9,267.2 1585.4,271.6 1585.9,268.1 1586.4,268.5 1586.9,267.1 1587.4,267.4 1587.9,271.0 1588.3,268.8 1588.8,268.2 1589.3,268.0 1589.8,268.6 1590.3,270.0 1590.8,267.5 1591.3,269.4 1591.8,269.9 1592.3,269.0 1592.8,269.8 1593.3,270.1 1593.8,269.1 1594.3,265.7 1594.8,268.8 1595.3,269.1 1595.8,269.8 1596.3,268.8 1596.8,270.8 1597.3,268.6 1597.7,268.9 1598.2,269.1 1598.7,268.6 1599.2,269.5 1599.7,268.4 1600.2,268.5 1600.7,268.5 1601.2,269.2 1601.7,268.1 1602.2,269.5 1602.7,267.5 1603.2,269.4 1603.7,267.5 1604.2,268.9 1604.7,269.3 1605.2,270.6 1605.7,268.4 1606.2,268.8 1606.6,269.2 1607.1,268.7 1607.6,269.1 1608.1,270.5 1608.6,270.8 1609.1,268.4 1609.6,269.0 1610.1,267.2 1610.6,266.6 1611.1,268.1 1611.6,268.4 1612.1,268.5 1612.6,269.1 1613.1,270.1 1613.6,272.8 1614.1,268.2 1614.6,268.5 1615.1,269.2 1615.6,269.1 1616.0,268.0 1616.5,268.0 1617.0,269.0 1617.5,269.6 1618.0,268.5 1618.5,268.2 1619.0,266.3 1619.5,270.5 1620.0,268.6 1620.5,270.4" fill="none" stroke="#800080" stroke-width="2.3" stroke-linejoin="round"/>
<polyline points="1634.3,269.9 1634.8,267.0 1635.2,269.8 1635.7,269.5 1636.2,270.0 1636.7,268.5 1637.1,269.9 1637.6,271.1 1638.1,269.3 1638.5,268.6 1639.0,269.4 1639.5,269.3 1640.0,270.1 1640.4,270.4 1640.9,269.4 1641.4,270.6 1641.8,269.9 1642.3,270.4 1642.8,269.7 1643.3,268.6 1643.7,269.5 1644.2,268.3 1644.7,269.1 1645.1,269.6 1645.6,270.4 1646.1,269.3 1646.6,270.6 1647.0,268.7 1647.5,270.8 1648.0,270.9 1648.4,270.3 1648.9,271.2 1649.4,269.3 1649.8,270.2 1650.3,269.9 1650.8,268.8 1651.3,271.7 1651.7,269.7 1652.2,269.1 1652.7,268.4 1653.1,269.3 1653.6,270.1 1654.1,268.5 1654.6,268.5 1655.0,267.2 1655.5,267.2 1656.0,269.6 1656.4,268.0 1656.9,269.2 1657.4,270.5 1657.9,268.7 1658.3,268.1 1658.8,271.8 1659.3,268.0 1659.7,270.2 1660.2,267.7 1660.7,269.1 1661.2,269.2 1661.6,267.9 1662.1,269.7 1662.6,267.2 1663.0,270.3 1663.5,269.9 1664.0,270.4 1664.5,268.7 1664.9,269.4 1665.4,268.4 1665.9,268.1 1666.3,268.4 1666.8,268.1 1667.3,268.1 1667.8,269.3 1668.2,269.9 1668.7,270.1 1669.2,268.3 1669.6,269.6 1670.1,270.0 1670.6,269.9 1671.1,269.2 1671.5,268.7 1672.0,269.2 1672.5,269.9 1672.9,268.3 1673.4,271.1 1673.9,269.1 1674.4,267.6 1674.8,268.3 1675.3,267.3 1675.8,268.4 1676.2,267.8 1676.7,268.3 1677.2,268.7 1677.6,267.8 1678.1,267.1 1678.6,270.1 1679.1,268.8 1679.5,270.0 1680.0,268.7 1680.5,269.0 1680.9,268.0 1681.4,267.7 1681.9,266.3 1682.4,265.9 1682.8,267.9 1683.3,267.4 1683.8,266.1 1684.2,267.3 1684.7,266.9 1685.2,268.2 1685.7,265.4 1686.1,265.7 1686.6,266.8 1687.1,266.9 1687.5,266.5 1688.0,264.8 1688.5,265.5 1689.0,266.0 1689.4,264.9 1689.9,263.5 1690.4,262.8 1690.8,262.5 1691.3,263.5 1691.8,263.1 1692.3,262.8 1692.7,262.2 1693.2,262.0 1693.7,263.3 1694.1,262.8 1694.6,262.2 1695.1,260.8 1695.6,261.7 1696.0,261.7 1696.5,259.6 1697.0,258.8 1697.4,260.9 1697.9,259.8 1698.4,258.2 1698.9,259.5 1699.3,257.8 1699.8,259.9 1700.3,258.3 1700.7,257.1 1701.2,255.9 1701.7,256.2 1702.2,258.5 1702.6,258.1 1703.1,257.1 1703.6,255.0 1704.0,254.8 1704.5,254.1 1705.0,254.2 1705.4,255.2 1705.9,254.6 1706.4,254.8 1706.9,252.8 1707.3,254.6 1707.8,252.9 1708.3,252.4 1708.7,251.1 1709.2,252.9 1709.7,251.4 1710.2,252.5 1710.6,250.2 1711.1,251.3 1711.6,250.9 1712.0,251.3 1712.5,250.7 1713.0,250.5 1713.5,250.1 1713.9,248.1 1714.4,250.0 1714.9,248.5 1715.3,247.6 1715.8,249.4 1716.3,250.1 1716.8,247.2 1717.2,249.1 1717.7,248.0 1718.2,247.1 1718.6,246.4 1719.1,246.8 1719.6,247.0 1720.1,245.0 1720.5,245.5 1721.0,243.6 1721.5,246.2 1721.9,245.1 1722.4,244.8 1722.9,244.0 1723.4,244.1 1723.8,244.0 1724.3,241.8 1724.8,243.7 1725.2,242.9 1725.7,242.9 1726.2,243.4 1726.7,241.8 1727.1,244.2 1727.6,240.9 1728.1,243.3 1728.5,241.8 1729.0,241.1 1729.5,241.4 1730.0,241.2 1730.4,239.2 1730.9,237.7 1731.4,238.8 1731.8,239.4 1732.3,239.9 1732.8,239.7 1733.2,237.4 1733.7,237.4 1734.2,236.7 1734.7,236.7 1735.1,236.1 1735.6,237.8 1736.1,237.7 1736.5,237.6 1737.0,236.3 1737.5,236.2 1738.0,235.6 1738.4,236.7 1738.9,235.0 1739.4,234.1 1739.8,234.6 1740.3,237.1 1740.8,234.2 1741.3,234.3 1741.7,232.7 1742.2,233.6 1742.7,232.6 1743.1,233.4 1743.6,232.5 1744.1,231.7 1744.6,232.8 1745.0,232.0 1745.5,232.1 1746.0,231.5 1746.4,232.1 1746.9,231.4 1747.4,233.7 1747.9,232.0 1748.3,230.9 1748.8,231.1 1749.3,232.7 1749.7,232.6 1750.2,231.4 1750.7,231.5 1751.2,231.5 1751.6,232.0 1752.1,232.1 1752.6,231.3 1753.0,233.4 1753.5,234.0 1754.0,231.8 1754.5,233.8 1754.9,232.6 1755.4,234.3 1755.9,235.0 1756.3,232.6 1756.8,234.5 1757.3,236.2 1757.8,235.4 1758.2,235.7 1758.7,236.1 1759.2,236.2 1759.6,237.9 1760.1,237.5 1760.6,237.2 1761.1,237.5 1761.5,238.5 1762.0,239.9 1762.5,241.6 1762.9,238.6 1763.4,241.7 1763.9,241.6 1764.3,241.7 1764.8,241.8 1765.3,242.8 1765.8,244.2 1766.2,244.0 1766.7,242.4 1767.2,242.6 1767.6,245.9 1768.1,245.6 1768.6,248.6 1769.1,247.2 1769.5,247.3 1770.0,248.9 1770.5,247.3 1770.9,248.8 1771.4,249.7 1771.9,253.5 1772.4,252.0 1772.8,251.3 1773.3,253.0 1773.8,254.8 1774.2,254.2 1774.7,252.6 1775.2,254.0 1775.7,254.3 1776.1,255.5 1776.6,254.6 1777.1,259.5 1777.5,258.4 1778.0,255.7 1778.5,257.1 1779.0,258.3 1779.4,259.3 1779.9,261.2 1780.4,260.3 1780.8,260.4 1781.3,261.6 1781.8,259.7 1782.3,260.4 1782.7,262.1 1783.2,261.2 1783.7,262.5 1784.1,262.5 1784.6,263.6 1785.1,260.9 1785.6,265.2 1786.0,264.2 1786.5,263.2 1787.0,263.5 1787.4,266.4 1787.9,266.0 1788.4,265.4 1788.9,266.3 1789.3,266.4 1789.8,266.2 1790.3,266.3 1790.7,265.2 1791.2,268.2 1791.7,265.6 1792.1,267.1 1792.6,266.4 1793.1,267.5 1793.6,264.9 1794.0,269.2 1794.5,266.4 1795.0,268.1 1795.4,268.0 1795.9,266.5 1796.4,268.2 1796.9,267.2 1797.3,266.7 1797.8,268.9 1798.3,266.3 1798.7,267.2 1799.2,268.7 1799.7,268.3 1800.2,269.4 1800.6,268.4 1801.1,267.9 1801.6,267.8 1802.0,268.6 1802.5,269.4 1803.0,269.6 1803.5,269.9 1803.9,269.3 1804.4,268.5 1804.9,269.7 1805.3,269.8 1805.8,270.2 1806.3,268.6 1806.8,269.5 1807.2,270.9 1807.7,268.1 1808.2,268.2 1808.6,269.3 1809.1,269.7 1809.6,269.4 1810.1,270.3 1810.5,268.4 1811.0,268.0 1811.5,268.4 1811.9,269.2 1812.4,269.2 1812.9,268.9 1813.4,267.7 1813.8,270.2 1814.3,269.5 1814.8,270.1 1815.2,270.7 1815.7,269.1 1816.2,268.3 1816.7,270.5 1817.1,268.5 1817.6,268.8 1818.1,269.0 1818.5,268.1 1819.0,270.1 1819.5,267.9 1819.9,269.8 1820.4,268.9 1820.9,271.0 1821.4,268.5 1821.8,269.5 1822.3,270.1 1822.8,270.5 1823.2,269.3 1823.7,268.2 1824.2,269.0 1824.7,269.8 1825.1,270.3 1825.6,270.6 1826.1,269.8 1826.5,271.1 1827.0,269.9 1827.5,268.4 1828.0,269.6 1828.4,269.7 1828.9,270.1 1829.4,268.8 1829.8,268.9 1830.3,268.1 1830.8,270.2 1831.3,270.6 1831.7,270.1 1832.2,270.8 1832.7,269.6 1833.1,270.0 1833.6,270.4 1834.1,269.6 1834.6,268.5 1835.0,268.8 1835.5,270.2 1836.0,269.5 1836.4,269.2 1836.9,268.9 1837.4,269.9 1837.9,270.8 1838.3,269.2 1838.8,270.5 1839.3,269.9 1839.7,269.8 1840.2,268.6 1840.7,270.0 1841.2,269.4 1841.6,269.8 1842.1,270.1 1842.6,268.7 1843.0,270.0 1843.5,269.1 1844.0,269.3 1844.5,271.4 1844.9,271.2 1845.4,272.7 1845.9,269.2 1846.3,269.3 1846.8,270.1 1847.3,270.1 1847.7,269.9 1848.2,270.2 1848.7,269.6 1849.2,269.6 1849.6,270.4 1850.1,268.1 1850.6,268.5 1851.0,269.9 1851.5,267.4 1852.0,267.1 1852.5,268.3 1852.9,268.3 1853.4,270.1 1853.9,269.8 1854.3,271.1 1854.8,269.9 1855.3,268.6 1855.8,269.9 1856.2,271.2 1856.7,267.9 1857.2,267.6 1857.6,268.0 1858.1,271.1 1858.6,268.7 1859.1,270.4 1859.5,269.7 1860.0,268.8" fill="none" stroke="#800080" stroke-width="2.3" stroke-linejoin="round"/>
<text transform="translate(1965.7,280.1) scale(1.012,1.065)" font-size="26.7" text-anchor="end">−0.25 V</text>
<polyline points="1084.9,316.3 1085.4,319.4 1085.9,319.0 1086.4,320.4 1086.9,318.5 1087.4,319.9 1087.8,319.3 1088.3,317.4 1088.8,318.5 1089.3,318.4 1089.8,318.1 1090.3,317.4 1090.8,316.5 1091.3,320.2 1091.8,320.9 1092.3,317.8 1092.8,317.5 1093.2,316.5 1093.7,317.4 1094.2,316.0 1094.7,317.8 1095.2,319.5 1095.7,317.1 1096.2,319.8 1096.7,319.5 1097.2,317.9 1097.7,318.9 1098.2,317.2 1098.6,319.1 1099.1,315.9 1099.6,320.0 1100.1,317.5 1100.6,319.2 1101.1,316.5 1101.6,319.4 1102.1,317.4 1102.6,323.1 1103.1,319.6 1103.6,316.1 1104.0,318.2 1104.5,318.4 1105.0,317.2 1105.5,315.0 1106.0,320.1 1106.5,318.6 1107.0,319.2 1107.5,317.5 1108.0,319.5 1108.5,320.8 1109.0,320.7 1109.4,317.5 1109.9,318.2 1110.4,317.2 1110.9,320.8 1111.4,319.8 1111.9,319.2 1112.4,317.2 1112.9,317.8 1113.4,318.7 1113.9,319.9 1114.4,318.1 1114.8,319.1 1115.3,317.0 1115.8,315.8 1116.3,318.1 1116.8,319.9 1117.3,314.8 1117.8,317.3 1118.3,317.4 1118.8,318.0 1119.3,317.9 1119.8,318.0 1120.2,317.7 1120.7,320.2 1121.2,319.0 1121.7,318.1 1122.2,317.7 1122.7,317.6 1123.2,317.2 1123.7,320.4 1124.2,319.1 1124.7,318.6 1125.1,317.3 1125.6,317.7 1126.1,314.5 1126.6,317.9 1127.1,317.6 1127.6,319.4 1128.1,314.4 1128.6,316.8 1129.1,317.0 1129.6,317.6 1130.1,316.5 1130.5,317.0 1131.0,314.6 1131.5,317.4 1132.0,316.7 1132.5,316.7 1133.0,315.0 1133.5,315.2 1134.0,314.1 1134.5,314.6 1135.0,314.4 1135.5,315.0 1135.9,313.6 1136.4,314.0 1136.9,314.1 1137.4,316.8 1137.9,314.9 1138.4,315.1 1138.9,316.6 1139.4,311.9 1139.9,311.5 1140.4,311.9 1140.9,312.5 1141.3,311.0 1141.8,315.5 1142.3,311.0 1142.8,315.7 1143.3,312.4 1143.8,312.3 1144.3,311.6 1144.8,311.3 1145.3,311.1 1145.8,313.0 1146.3,312.9 1146.7,313.1 1147.2,311.6 1147.7,312.2 1148.2,314.0 1148.7,310.2 1149.2,313.2 1149.7,312.2 1150.2,312.6 1150.7,312.6 1151.2,310.7 1151.7,312.5 1152.1,313.6 1152.6,312.5 1153.1,313.1 1153.6,313.9 1154.1,310.4 1154.6,310.1 1155.1,314.0 1155.6,309.7 1156.1,309.4 1156.6,314.2 1157.1,311.6 1157.5,312.8 1158.0,311.3 1158.5,316.9 1159.0,311.9 1159.5,313.4 1160.0,312.4 1160.5,311.9 1161.0,316.8 1161.5,313.6 1162.0,313.7 1162.5,312.9 1162.9,312.3 1163.4,313.0 1163.9,315.4 1164.4,313.4 1164.9,315.7 1165.4,313.7 1165.9,315.2 1166.4,315.4 1166.9,315.1 1167.4,317.7 1167.9,316.0 1168.3,317.4 1168.8,314.5 1169.3,314.1 1169.8,318.2 1170.3,319.5 1170.8,316.0 1171.3,317.3 1171.8,318.0 1172.3,313.4 1172.8,317.4 1173.3,318.4 1173.7,317.4 1174.2,316.7 1174.7,314.9 1175.2,316.9 1175.7,319.2 1176.2,318.2 1176.7,314.9 1177.2,320.1 1177.7,317.7 1178.2,316.0 1178.7,317.4 1179.1,318.2 1179.6,319.2 1180.1,317.7 1180.6,317.2 1181.1,317.7 1181.6,316.6 1182.1,317.8 1182.6,316.2 1183.1,317.9 1183.6,316.9 1184.1,318.7 1184.5,315.7 1185.0,316.4 1185.5,317.3 1186.0,319.7 1186.5,318.0 1187.0,322.6 1187.5,318.8 1188.0,318.1 1188.5,319.6 1189.0,318.1 1189.5,317.4 1189.9,315.7 1190.4,318.3 1190.9,320.6 1191.4,321.8 1191.9,318.6 1192.4,317.1 1192.9,316.7 1193.4,318.2 1193.9,319.3 1194.4,319.4 1194.9,318.6 1195.3,318.2 1195.8,317.5 1196.3,318.2 1196.8,315.4 1197.3,318.1 1197.8,317.6 1198.3,316.8 1198.8,317.0 1199.3,319.3 1199.8,320.7 1200.2,320.2 1200.7,317.8 1201.2,317.4 1201.7,317.8 1202.2,317.1 1202.7,316.4 1203.2,319.4 1203.7,314.5 1204.2,314.3 1204.7,317.1 1205.2,318.4 1205.6,317.8 1206.1,320.2 1206.6,318.1 1207.1,319.3 1207.6,318.2 1208.1,318.5 1208.6,314.9 1209.1,319.1 1209.6,317.4 1210.1,318.3 1210.6,315.4 1211.0,316.0 1211.5,319.6 1212.0,318.6 1212.5,316.5 1213.0,317.4 1213.5,315.3 1214.0,315.0 1214.5,315.7 1215.0,313.3 1215.5,310.6 1216.0,309.7 1216.4,307.5 1216.9,305.3 1217.4,304.6 1217.9,301.6 1218.4,305.3 1218.9,303.2 1219.4,305.3 1219.9,304.8 1220.4,305.2 1220.9,306.6 1221.4,307.8 1221.8,308.8 1222.3,310.2 1222.8,312.3 1223.3,311.8 1223.8,312.3 1224.3,313.1 1224.8,314.6 1225.3,315.1 1225.8,318.9 1226.3,317.5 1226.8,316.9 1227.2,315.4 1227.7,315.3 1228.2,317.0 1228.7,319.0 1229.2,316.8 1229.7,316.1 1230.2,316.5 1230.7,318.7 1231.2,319.3 1231.7,319.1 1232.2,319.4 1232.6,316.4 1233.1,317.5 1233.6,314.8 1234.1,315.6 1234.6,316.5 1235.1,319.0 1235.6,317.1 1236.1,317.4 1236.6,320.1 1237.1,320.0 1237.6,319.2 1238.0,316.3 1238.5,318.7 1239.0,320.2 1239.5,318.1 1240.0,317.3 1240.5,320.0 1241.0,315.4 1241.5,319.3 1242.0,316.7 1242.5,317.3 1243.0,319.3 1243.4,318.4 1243.9,318.3 1244.4,318.8 1244.9,317.2 1245.4,318.2 1245.9,320.8 1246.4,318.2 1246.9,320.0 1247.4,318.7 1247.9,318.0 1248.4,318.5 1248.8,316.9 1249.3,318.5 1249.8,319.1 1250.3,316.0 1250.8,317.3 1251.3,318.6 1251.8,318.4 1252.3,319.0 1252.8,318.3 1253.3,319.8 1253.8,315.8 1254.2,316.6 1254.7,321.7 1255.2,319.8 1255.7,318.5 1256.2,319.3 1256.7,321.5 1257.2,317.4 1257.7,320.1 1258.2,317.4 1258.7,317.7 1259.2,316.2 1259.6,319.7 1260.1,315.8 1260.6,320.2 1261.1,316.2 1261.6,316.9 1262.1,317.8 1262.6,320.0 1263.1,316.1 1263.6,317.2 1264.1,320.9 1264.6,322.2 1265.0,319.4 1265.5,319.7 1266.0,317.4 1266.5,318.2 1267.0,318.0 1267.5,319.2 1268.0,317.0 1268.5,319.3 1269.0,320.6 1269.5,322.0 1270.0,317.7 1270.4,319.3 1270.9,321.0 1271.4,319.7 1271.9,319.0 1272.4,317.4 1272.9,321.6 1273.4,319.0 1273.9,317.4 1274.4,317.7 1274.9,317.2 1275.3,315.5 1275.8,319.7 1276.3,319.3 1276.8,316.9 1277.3,316.1 1277.8,317.9 1278.3,318.9 1278.8,320.1 1279.3,317.5 1279.8,317.9 1280.3,320.0 1280.7,319.2 1281.2,319.8 1281.7,317.5 1282.2,318.6 1282.7,316.6 1283.2,316.4 1283.7,317.9 1284.2,316.6 1284.7,316.9 1285.2,316.2 1285.7,319.1 1286.1,317.5 1286.6,315.7 1287.1,317.4 1287.6,319.0 1288.1,318.0 1288.6,315.0 1289.1,318.9 1289.6,319.3 1290.1,317.0 1290.6,318.9 1291.1,320.6 1291.5,320.7 1292.0,318.3 1292.5,319.3 1293.0,316.2 1293.5,319.2 1294.0,320.4 1294.5,319.5 1295.0,320.2 1295.5,316.6 1296.0,319.5 1296.5,316.1 1296.9,317.5 1297.4,315.4 1297.9,318.5 1298.4,317.1 1298.9,321.4 1299.4,319.0 1299.9,319.4 1300.4,316.6 1300.9,318.5 1301.4,317.3 1301.9,319.4 1302.3,320.2 1302.8,318.5 1303.3,316.4 1303.8,318.4 1304.3,316.0 1304.8,318.8 1305.3,318.8 1305.8,318.8 1306.3,318.7 1306.8,319.3 1307.3,318.7 1307.7,319.5 1308.2,319.8 1308.7,316.1 1309.2,317.0 1309.7,318.8 1310.2,319.2" fill="none" stroke="#8000FF" stroke-width="2.3" stroke-linejoin="round"/>
<polyline points="1324.2,320.2 1324.7,317.3 1325.2,319.0 1325.7,315.6 1326.2,320.4 1326.7,317.6 1327.2,316.5 1327.7,318.7 1328.2,315.3 1328.7,316.7 1329.1,316.7 1329.6,319.1 1330.1,316.6 1330.6,316.6 1331.1,317.7 1331.6,315.5 1332.1,317.4 1332.6,320.8 1333.1,317.3 1333.6,315.4 1334.1,318.4 1334.6,316.6 1335.1,318.4 1335.6,317.5 1336.1,321.0 1336.6,319.7 1337.1,317.7 1337.6,318.0 1338.1,319.6 1338.5,316.1 1339.0,316.5 1339.5,318.0 1340.0,319.5 1340.5,315.9 1341.0,317.2 1341.5,315.5 1342.0,314.8 1342.5,316.7 1343.0,316.4 1343.5,314.9 1344.0,316.2 1344.5,318.3 1345.0,314.7 1345.5,315.0 1346.0,316.0 1346.5,314.4 1347.0,315.4 1347.4,315.3 1347.9,313.5 1348.4,316.3 1348.9,316.4 1349.4,314.3 1349.9,315.7 1350.4,312.6 1350.9,314.6 1351.4,315.7 1351.9,313.8 1352.4,316.0 1352.9,311.1 1353.4,312.8 1353.9,311.7 1354.4,311.8 1354.9,312.1 1355.4,313.6 1355.9,311.1 1356.4,312.4 1356.8,312.9 1357.3,314.5 1357.8,310.0 1358.3,311.9 1358.8,312.1 1359.3,314.0 1359.8,310.2 1360.3,311.6 1360.8,310.1 1361.3,311.4 1361.8,312.5 1362.3,310.7 1362.8,313.5 1363.3,313.5 1363.8,311.6 1364.3,310.6 1364.8,310.2 1365.3,311.9 1365.8,312.0 1366.2,311.7 1366.7,312.3 1367.2,312.8 1367.7,311.6 1368.2,313.1 1368.7,312.8 1369.2,311.1 1369.7,312.5 1370.2,313.7 1370.7,312.2 1371.2,313.5 1371.7,312.6 1372.2,314.7 1372.7,314.8 1373.2,315.8 1373.7,312.6 1374.2,312.4 1374.7,312.9 1375.1,314.1 1375.6,314.5 1376.1,315.2 1376.6,314.3 1377.1,315.4 1377.6,316.7 1378.1,314.2 1378.6,314.4 1379.1,315.0 1379.6,315.9 1380.1,316.5 1380.6,316.0 1381.1,315.9 1381.6,317.8 1382.1,317.0 1382.6,317.9 1383.1,315.1 1383.6,318.4 1384.1,318.3 1384.5,318.0 1385.0,316.7 1385.5,318.2 1386.0,314.7 1386.5,316.1 1387.0,320.2 1387.5,316.9 1388.0,316.7 1388.5,318.9 1389.0,317.4 1389.5,317.2 1390.0,318.1 1390.5,317.5 1391.0,316.9 1391.5,318.0 1392.0,317.4 1392.5,318.9 1393.0,316.6 1393.5,318.2 1393.9,315.8 1394.4,314.7 1394.9,315.2 1395.4,318.0 1395.9,316.8 1396.4,317.7 1396.9,316.7 1397.4,318.4 1397.9,318.6 1398.4,317.4 1398.9,318.3 1399.4,315.7 1399.9,316.3 1400.4,316.8 1400.9,317.4 1401.4,317.4 1401.9,315.9 1402.4,317.0 1402.9,317.1 1403.3,314.6 1403.8,316.8 1404.3,317.3 1404.8,317.2 1405.3,315.2 1405.8,317.5 1406.3,317.4 1406.8,315.4 1407.3,315.2 1407.8,314.8 1408.3,317.8 1408.8,316.0 1409.3,317.3 1409.8,315.9 1410.3,318.5 1410.8,316.6 1411.3,314.9 1411.8,315.9 1412.2,319.3 1412.7,314.7 1413.2,315.5 1413.7,316.2 1414.2,315.7 1414.7,316.0 1415.2,314.0 1415.7,315.4 1416.2,317.3 1416.7,316.2 1417.2,312.8 1417.7,313.3 1418.2,313.6 1418.7,315.5 1419.2,313.5 1419.7,312.7 1420.2,313.7 1420.7,312.6 1421.2,311.8 1421.6,311.7 1422.1,312.1 1422.6,311.8 1423.1,313.7 1423.6,312.2 1424.1,310.3 1424.6,308.8 1425.1,310.4 1425.6,308.8 1426.1,309.7 1426.6,310.6 1427.1,308.2 1427.6,307.7 1428.1,308.9 1428.6,308.4 1429.1,306.6 1429.6,306.7 1430.1,304.8 1430.6,306.6 1431.0,303.1 1431.5,304.3 1432.0,302.3 1432.5,304.1 1433.0,300.1 1433.5,300.4 1434.0,297.1 1434.5,301.3 1435.0,300.8 1435.5,296.7 1436.0,295.7 1436.5,298.5 1437.0,294.7 1437.5,293.5 1438.0,292.2 1438.5,293.2 1439.0,294.7 1439.5,294.7 1439.9,288.8 1440.4,290.5 1440.9,289.3 1441.4,290.7 1441.9,290.2 1442.4,289.9 1442.9,290.7 1443.4,289.7 1443.9,290.8 1444.4,289.9 1444.9,288.0 1445.4,289.5 1445.9,290.6 1446.4,287.7 1446.9,288.5 1447.4,290.4 1447.9,293.0 1448.4,289.4 1448.9,289.8 1449.3,292.7 1449.8,290.5 1450.3,293.9 1450.8,293.7 1451.3,294.4 1451.8,294.1 1452.3,295.1 1452.8,293.6 1453.3,296.5 1453.8,296.0 1454.3,297.1 1454.8,297.4 1455.3,299.4 1455.8,298.9 1456.3,297.6 1456.8,298.9 1457.3,302.1 1457.8,301.6 1458.3,303.0 1458.7,303.1 1459.2,303.6 1459.7,304.8 1460.2,303.1 1460.7,303.1 1461.2,304.5 1461.7,305.8 1462.2,305.4 1462.7,307.1 1463.2,305.2 1463.7,303.9 1464.2,310.9 1464.7,307.2 1465.2,308.1 1465.7,308.2 1466.2,309.2 1466.7,311.1 1467.2,309.6 1467.7,310.3 1468.1,310.3 1468.6,310.4 1469.1,311.3 1469.6,307.9 1470.1,312.8 1470.6,311.9 1471.1,313.2 1471.6,312.0 1472.1,309.9 1472.6,312.1 1473.1,313.3 1473.6,314.1 1474.1,311.8 1474.6,313.5 1475.1,311.8 1475.6,313.6 1476.1,313.4 1476.6,312.8 1477.0,314.8 1477.5,311.0 1478.0,313.9 1478.5,312.1 1479.0,311.4 1479.5,308.5 1480.0,310.5 1480.5,309.4 1481.0,310.4 1481.5,309.0 1482.0,307.7 1482.5,304.9 1483.0,306.1 1483.5,302.6 1484.0,297.5 1484.5,300.4 1485.0,299.3 1485.5,295.3 1486.0,292.6 1486.4,288.1 1486.9,287.7 1487.4,285.2 1487.9,286.5 1488.4,285.0 1488.9,284.7 1489.4,286.7 1489.9,286.2 1490.4,288.2 1490.9,289.2 1491.4,293.2 1491.9,296.0 1492.4,293.6 1492.9,297.3 1493.4,299.5 1493.9,297.9 1494.4,301.7 1494.9,304.1 1495.4,307.1 1495.8,307.1 1496.3,308.5 1496.8,310.2 1497.3,309.0 1497.8,310.7 1498.3,311.6 1498.8,314.1 1499.3,314.4 1499.8,312.5 1500.3,314.0 1500.8,315.3 1501.3,314.5 1501.8,315.1 1502.3,315.9 1502.8,315.7 1503.3,314.6 1503.8,315.3 1504.3,317.0 1504.8,316.9 1505.2,315.7 1505.7,317.5 1506.2,316.1 1506.7,316.5 1507.2,318.1 1507.7,319.6 1508.2,317.6 1508.7,316.6 1509.2,316.6 1509.7,315.1 1510.2,316.7 1510.7,316.9 1511.2,316.4 1511.7,317.4 1512.2,314.7 1512.7,317.7 1513.2,318.1 1513.7,317.7 1514.1,315.5 1514.6,317.8 1515.1,318.1 1515.6,316.4 1516.1,315.7 1516.6,317.8 1517.1,316.3 1517.6,318.1 1518.1,315.5 1518.6,318.7 1519.1,317.7 1519.6,317.9 1520.1,318.6 1520.6,317.5 1521.1,316.6 1521.6,318.5 1522.1,315.0 1522.6,317.2 1523.1,317.1 1523.5,318.5 1524.0,317.6 1524.5,316.4 1525.0,318.9 1525.5,318.5 1526.0,318.7 1526.5,319.3 1527.0,316.8 1527.5,318.7 1528.0,315.5 1528.5,319.3 1529.0,318.1 1529.5,317.6 1530.0,319.0 1530.5,320.5 1531.0,318.6 1531.5,317.8 1532.0,319.0 1532.5,317.4 1532.9,320.2 1533.4,317.4 1533.9,315.1 1534.4,316.6 1534.9,316.5 1535.4,318.3 1535.9,318.4 1536.4,316.4 1536.9,318.3 1537.4,317.0 1537.9,319.1 1538.4,317.4 1538.9,317.7 1539.4,320.8 1539.9,318.1 1540.4,317.2 1540.9,317.2 1541.4,317.4 1541.8,316.3 1542.3,318.0 1542.8,318.9 1543.3,316.8 1543.8,315.2 1544.3,318.4 1544.8,316.0 1545.3,318.2 1545.8,319.9 1546.3,319.2 1546.8,319.1 1547.3,316.5 1547.8,317.9 1548.3,318.7 1548.8,317.8 1549.3,316.2 1549.8,318.1 1550.3,319.0 1550.8,317.6 1551.2,319.1 1551.7,317.4 1552.2,316.8 1552.7,317.8 1553.2,318.6 1553.7,317.9 1554.2,319.9 1554.7,316.0 1555.2,315.0 1555.7,318.1 1556.2,320.8 1556.7,319.0 1557.2,320.0 1557.7,320.5 1558.2,318.3 1558.7,318.3 1559.2,318.9 1559.7,316.7 1560.2,318.1 1560.6,319.4 1561.1,317.6 1561.6,319.8 1562.1,318.6 1562.6,319.2 1563.1,317.8 1563.6,318.5 1564.1,318.9 1564.6,317.8 1565.1,317.5 1565.6,317.8 1566.1,316.7 1566.6,319.5 1567.1,317.6 1567.6,316.0 1568.1,318.2 1568.6,321.1 1569.1,316.9 1569.6,318.4 1570.0,317.3 1570.5,317.8 1571.0,317.4 1571.5,316.6 1572.0,318.0 1572.5,317.2 1573.0,319.9 1573.5,319.4 1574.0,318.4 1574.5,316.1 1575.0,319.3 1575.5,318.7 1576.0,317.3 1576.5,318.9 1577.0,319.9 1577.5,320.8 1578.0,317.2 1578.5,319.7 1578.9,317.8 1579.4,317.6 1579.9,319.5 1580.4,317.7 1580.9,321.0 1581.4,318.4 1581.9,319.6 1582.4,317.9 1582.9,318.0 1583.4,318.0 1583.9,317.4 1584.4,319.1 1584.9,320.1 1585.4,319.9 1585.9,317.0 1586.4,319.6 1586.9,318.7 1587.4,317.8 1587.9,318.5 1588.3,319.6 1588.8,321.0 1589.3,317.0 1589.8,319.0 1590.3,320.4 1590.8,319.1 1591.3,318.2 1591.8,320.8 1592.3,318.1 1592.8,318.3 1593.3,317.7 1593.8,318.3 1594.3,319.6 1594.8,320.4 1595.3,318.6 1595.8,319.0 1596.3,316.3 1596.8,318.7 1597.3,317.8 1597.7,318.2 1598.2,320.6 1598.7,317.3 1599.2,318.9 1599.7,320.2 1600.2,317.8 1600.7,316.7 1601.2,318.5 1601.7,318.7 1602.2,319.2 1602.7,318.9 1603.2,316.9 1603.7,318.2 1604.2,317.8 1604.7,317.6 1605.2,322.2 1605.7,318.1 1606.2,317.6 1606.6,318.1 1607.1,320.3 1607.6,319.4 1608.1,317.5 1608.6,317.8 1609.1,317.8 1609.6,319.8 1610.1,318.0 1610.6,316.5 1611.1,318.3 1611.6,316.6 1612.1,317.2 1612.6,317.3 1613.1,319.2 1613.6,319.2 1614.1,319.2 1614.6,316.9 1615.1,316.7 1615.6,319.7 1616.0,320.0 1616.5,318.2 1617.0,316.7 1617.5,318.0 1618.0,317.6 1618.5,317.7 1619.0,317.6 1619.5,318.6 1620.0,317.8 1620.5,317.5" fill="none" stroke="#8000FF" stroke-width="2.3" stroke-linejoin="round"/>
<polyline points="1634.3,318.6 1634.8,316.9 1635.2,319.6 1635.7,318.9 1636.2,319.4 1636.7,317.5 1637.1,317.4 1637.6,319.3 1638.1,318.5 1638.5,319.0 1639.0,319.9 1639.5,319.3 1640.0,318.2 1640.4,318.0 1640.9,319.3 1641.4,318.5 1641.8,317.7 1642.3,317.2 1642.8,318.2 1643.3,319.3 1643.7,320.1 1644.2,318.5 1644.7,318.8 1645.1,319.1 1645.6,319.2 1646.1,319.1 1646.6,318.4 1647.0,317.8 1647.5,319.3 1648.0,316.7 1648.4,317.1 1648.9,318.8 1649.4,318.2 1649.8,317.0 1650.3,319.4 1650.8,319.1 1651.3,319.1 1651.7,319.5 1652.2,317.8 1652.7,318.7 1653.1,318.4 1653.6,318.4 1654.1,318.7 1654.6,317.0 1655.0,318.6 1655.5,319.3 1656.0,319.8 1656.4,319.1 1656.9,318.3 1657.4,318.3 1657.9,318.2 1658.3,318.9 1658.8,318.0 1659.3,318.0 1659.7,319.6 1660.2,318.0 1660.7,318.0 1661.2,318.7 1661.6,317.3 1662.1,318.3 1662.6,319.1 1663.0,317.4 1663.5,316.6 1664.0,319.5 1664.5,318.4 1664.9,317.4 1665.4,317.7 1665.9,317.3 1666.3,316.9 1666.8,320.0 1667.3,317.5 1667.8,319.8 1668.2,319.1 1668.7,319.2 1669.2,317.6 1669.6,319.7 1670.1,317.9 1670.6,319.5 1671.1,316.0 1671.5,318.4 1672.0,317.9 1672.5,319.0 1672.9,318.3 1673.4,316.4 1673.9,317.4 1674.4,318.7 1674.8,318.0 1675.3,317.6 1675.8,315.7 1676.2,317.4 1676.7,316.8 1677.2,316.1 1677.6,314.7 1678.1,316.3 1678.6,318.0 1679.1,317.8 1679.5,315.0 1680.0,316.2 1680.5,318.4 1680.9,316.9 1681.4,316.7 1681.9,316.4 1682.4,315.3 1682.8,315.2 1683.3,314.4 1683.8,317.4 1684.2,315.1 1684.7,315.4 1685.2,316.1 1685.7,314.0 1686.1,316.0 1686.6,315.9 1687.1,312.7 1687.5,313.7 1688.0,313.1 1688.5,312.4 1689.0,314.8 1689.4,311.9 1689.9,312.9 1690.4,312.3 1690.8,311.8 1691.3,311.7 1691.8,312.5 1692.3,311.8 1692.7,311.4 1693.2,310.2 1693.7,313.2 1694.1,309.3 1694.6,311.4 1695.1,308.0 1695.6,309.4 1696.0,307.9 1696.5,309.6 1697.0,307.3 1697.4,308.3 1697.9,308.0 1698.4,307.7 1698.9,310.3 1699.3,309.0 1699.8,308.8 1700.3,306.8 1700.7,306.8 1701.2,305.5 1701.7,305.6 1702.2,304.4 1702.6,306.1 1703.1,304.7 1703.6,305.2 1704.0,305.6 1704.5,305.9 1705.0,303.9 1705.4,304.4 1705.9,303.8 1706.4,303.9 1706.9,303.7 1707.3,299.5 1707.8,302.0 1708.3,303.1 1708.7,301.7 1709.2,301.2 1709.7,302.4 1710.2,299.6 1710.6,301.3 1711.1,299.6 1711.6,300.3 1712.0,300.4 1712.5,296.1 1713.0,299.7 1713.5,300.3 1713.9,299.1 1714.4,299.3 1714.9,297.0 1715.3,297.4 1715.8,298.8 1716.3,295.6 1716.8,297.3 1717.2,298.2 1717.7,295.5 1718.2,295.7 1718.6,297.2 1719.1,297.1 1719.6,295.9 1720.1,296.2 1720.5,294.7 1721.0,294.7 1721.5,296.0 1721.9,295.7 1722.4,294.6 1722.9,292.8 1723.4,294.5 1723.8,293.0 1724.3,294.0 1724.8,292.7 1725.2,293.5 1725.7,292.2 1726.2,293.3 1726.7,292.9 1727.1,289.9 1727.6,290.7 1728.1,292.6 1728.5,289.9 1729.0,291.0 1729.5,289.2 1730.0,291.7 1730.4,290.1 1730.9,290.2 1731.4,290.2 1731.8,290.4 1732.3,286.9 1732.8,288.6 1733.2,288.7 1733.7,289.7 1734.2,286.6 1734.7,286.3 1735.1,287.4 1735.6,288.3 1736.1,286.1 1736.5,286.4 1737.0,287.6 1737.5,283.7 1738.0,284.8 1738.4,286.3 1738.9,285.9 1739.4,284.0 1739.8,283.3 1740.3,283.7 1740.8,283.6 1741.3,284.2 1741.7,281.6 1742.2,283.7 1742.7,283.0 1743.1,282.7 1743.6,283.2 1744.1,282.0 1744.6,281.1 1745.0,284.8 1745.5,282.7 1746.0,281.1 1746.4,280.9 1746.9,282.7 1747.4,281.5 1747.9,282.0 1748.3,282.1 1748.8,282.9 1749.3,281.2 1749.7,281.1 1750.2,280.8 1750.7,282.2 1751.2,282.5 1751.6,281.6 1752.1,279.5 1752.6,283.3 1753.0,283.3 1753.5,281.7 1754.0,284.8 1754.5,286.5 1754.9,283.2 1755.4,283.1 1755.9,283.5 1756.3,284.1 1756.8,284.3 1757.3,286.5 1757.8,285.1 1758.2,287.6 1758.7,288.6 1759.2,287.6 1759.6,289.1 1760.1,289.4 1760.6,289.4 1761.1,289.6 1761.5,289.6 1762.0,291.2 1762.5,291.3 1762.9,291.4 1763.4,291.6 1763.9,291.8 1764.3,292.0 1764.8,293.1 1765.3,293.4 1765.8,293.8 1766.2,295.0 1766.7,295.4 1767.2,297.0 1767.6,296.4 1768.1,296.2 1768.6,298.4 1769.1,297.0 1769.5,299.4 1770.0,298.3 1770.5,298.3 1770.9,300.3 1771.4,301.5 1771.9,301.2 1772.4,302.5 1772.8,303.6 1773.3,302.1 1773.8,305.6 1774.2,303.3 1774.7,305.5 1775.2,304.3 1775.7,306.2 1776.1,304.3 1776.6,307.1 1777.1,309.3 1777.5,304.5 1778.0,307.9 1778.5,308.5 1779.0,308.8 1779.4,309.5 1779.9,309.3 1780.4,310.7 1780.8,308.1 1781.3,311.4 1781.8,310.4 1782.3,310.0 1782.7,311.9 1783.2,311.1 1783.7,312.9 1784.1,313.6 1784.6,313.7 1785.1,312.1 1785.6,312.4 1786.0,314.6 1786.5,312.9 1787.0,315.1 1787.4,314.2 1787.9,313.9 1788.4,316.9 1788.9,314.4 1789.3,315.5 1789.8,316.9 1790.3,314.9 1790.7,315.5 1791.2,315.6 1791.7,316.4 1792.1,316.9 1792.6,317.7 1793.1,316.7 1793.6,317.7 1794.0,317.2 1794.5,316.4 1795.0,316.1 1795.4,316.6 1795.9,316.9 1796.4,317.5 1796.9,316.4 1797.3,316.2 1797.8,318.0 1798.3,318.0 1798.7,318.6 1799.2,318.0 1799.7,318.2 1800.2,315.8 1800.6,316.5 1801.1,319.3 1801.6,317.2 1802.0,318.2 1802.5,319.8 1803.0,317.8 1803.5,318.8 1803.9,317.8 1804.4,317.6 1804.9,318.8 1805.3,316.7 1805.8,318.1 1806.3,319.1 1806.8,319.9 1807.2,316.0 1807.7,319.1 1808.2,318.3 1808.6,318.1 1809.1,317.5 1809.6,319.7 1810.1,320.9 1810.5,318.3 1811.0,319.9 1811.5,318.7 1811.9,316.3 1812.4,319.1 1812.9,317.8 1813.4,319.6 1813.8,315.4 1814.3,318.9 1814.8,318.1 1815.2,318.6 1815.7,319.1 1816.2,317.4 1816.7,318.7 1817.1,319.4 1817.6,319.1 1818.1,318.8 1818.5,318.4 1819.0,318.4 1819.5,319.4 1819.9,319.1 1820.4,316.4 1820.9,318.8 1821.4,317.2 1821.8,319.0 1822.3,318.2 1822.8,319.2 1823.2,320.6 1823.7,319.1 1824.2,317.7 1824.7,317.3 1825.1,317.5 1825.6,319.2 1826.1,318.9 1826.5,319.8 1827.0,318.3 1827.5,317.8 1828.0,318.4 1828.4,319.4 1828.9,318.2 1829.4,318.5 1829.8,318.1 1830.3,318.8 1830.8,318.4 1831.3,319.3 1831.7,319.5 1832.2,321.2 1832.7,318.4 1833.1,318.4 1833.6,319.6 1834.1,317.0 1834.6,317.4 1835.0,316.8 1835.5,318.7 1836.0,318.8 1836.4,318.2 1836.9,317.6 1837.4,317.0 1837.9,319.5 1838.3,318.7 1838.8,320.6 1839.3,318.8 1839.7,317.6 1840.2,317.9 1840.7,316.2 1841.2,317.9 1841.6,319.0 1842.1,319.3 1842.6,318.3 1843.0,316.9 1843.5,319.8 1844.0,319.5 1844.5,318.5 1844.9,318.9 1845.4,317.6 1845.9,319.0 1846.3,318.5 1846.8,318.6 1847.3,318.3 1847.7,317.2 1848.2,319.9 1848.7,320.3 1849.2,320.1 1849.6,318.9 1850.1,318.4 1850.6,318.0 1851.0,318.2 1851.5,318.4 1852.0,320.4 1852.5,319.2 1852.9,318.1 1853.4,319.8 1853.9,319.1 1854.3,319.0 1854.8,318.1 1855.3,319.5 1855.8,320.3 1856.2,318.9 1856.7,318.9 1857.2,317.7 1857.6,319.2 1858.1,318.8 1858.6,319.1 1859.1,319.1 1859.5,316.4 1860.0,321.1" fill="none" stroke="#8000FF" stroke-width="2.3" stroke-linejoin="round"/>
<text transform="translate(1965.7,329.1) scale(1.012,1.065)" font-size="26.7" text-anchor="end">−0.35 V</text>
<polyline points="1084.9,365.8 1085.4,367.9 1085.9,366.6 1086.4,369.0 1086.9,366.4 1087.4,367.9 1087.8,365.9 1088.3,364.7 1088.8,368.5 1089.3,369.1 1089.8,365.0 1090.3,363.8 1090.8,366.7 1091.3,369.7 1091.8,369.0 1092.3,365.3 1092.8,364.1 1093.2,366.9 1093.7,368.7 1094.2,365.0 1094.7,368.7 1095.2,367.7 1095.7,367.6 1096.2,367.6 1096.7,365.9 1097.2,368.1 1097.7,366.5 1098.2,365.1 1098.6,365.1 1099.1,364.7 1099.6,367.2 1100.1,369.2 1100.6,366.4 1101.1,366.3 1101.6,366.3 1102.1,367.2 1102.6,366.0 1103.1,368.2 1103.6,365.5 1104.0,364.1 1104.5,366.5 1105.0,366.6 1105.5,365.7 1106.0,365.8 1106.5,365.8 1107.0,366.3 1107.5,367.1 1108.0,364.3 1108.5,368.4 1109.0,365.0 1109.4,367.9 1109.9,365.9 1110.4,368.0 1110.9,368.9 1111.4,368.1 1111.9,368.1 1112.4,364.6 1112.9,367.5 1113.4,367.6 1113.9,368.0 1114.4,366.6 1114.8,366.6 1115.3,365.8 1115.8,367.6 1116.3,368.3 1116.8,366.6 1117.3,365.3 1117.8,365.4 1118.3,368.0 1118.8,367.2 1119.3,366.0 1119.8,367.3 1120.2,368.5 1120.7,366.1 1121.2,366.9 1121.7,365.9 1122.2,365.1 1122.7,367.0 1123.2,367.9 1123.7,367.3 1124.2,365.0 1124.7,366.0 1125.1,364.9 1125.6,366.5 1126.1,364.9 1126.6,366.6 1127.1,366.8 1127.6,365.8 1128.1,365.9 1128.6,366.0 1129.1,365.5 1129.6,364.1 1130.1,366.4 1130.5,368.0 1131.0,364.7 1131.5,362.5 1132.0,363.6 1132.5,366.8 1133.0,364.3 1133.5,363.2 1134.0,363.4 1134.5,362.0 1135.0,363.3 1135.5,368.6 1135.9,363.5 1136.4,365.4 1136.9,365.5 1137.4,366.6 1137.9,365.8 1138.4,364.4 1138.9,362.1 1139.4,362.0 1139.9,362.6 1140.4,361.6 1140.9,363.9 1141.3,364.5 1141.8,360.3 1142.3,362.4 1142.8,363.5 1143.3,361.8 1143.8,363.9 1144.3,360.4 1144.8,364.6 1145.3,363.4 1145.8,362.8 1146.3,362.7 1146.7,364.2 1147.2,361.1 1147.7,361.4 1148.2,362.2 1148.7,361.4 1149.2,362.9 1149.7,360.7 1150.2,363.0 1150.7,363.7 1151.2,362.4 1151.7,362.4 1152.1,361.6 1152.6,361.2 1153.1,359.7 1153.6,364.2 1154.1,364.6 1154.6,361.9 1155.1,360.4 1155.6,360.9 1156.1,362.6 1156.6,362.9 1157.1,363.0 1157.5,360.1 1158.0,363.0 1158.5,362.3 1159.0,364.7 1159.5,361.6 1160.0,363.3 1160.5,363.6 1161.0,363.7 1161.5,363.6 1162.0,359.5 1162.5,362.7 1162.9,362.7 1163.4,364.9 1163.9,365.9 1164.4,367.1 1164.9,364.9 1165.4,363.9 1165.9,363.9 1166.4,366.5 1166.9,363.5 1167.4,365.4 1167.9,363.0 1168.3,365.1 1168.8,364.8 1169.3,366.0 1169.8,366.0 1170.3,365.1 1170.8,364.3 1171.3,364.2 1171.8,366.4 1172.3,367.2 1172.8,364.9 1173.3,363.7 1173.7,366.3 1174.2,366.3 1174.7,366.4 1175.2,365.3 1175.7,364.4 1176.2,367.2 1176.7,365.3 1177.2,363.9 1177.7,365.1 1178.2,367.2 1178.7,368.2 1179.1,366.1 1179.6,364.2 1180.1,365.0 1180.6,364.1 1181.1,366.7 1181.6,366.1 1182.1,367.4 1182.6,365.5 1183.1,366.6 1183.6,367.5 1184.1,366.9 1184.5,365.5 1185.0,365.1 1185.5,365.2 1186.0,363.0 1186.5,365.3 1187.0,367.7 1187.5,364.8 1188.0,367.6 1188.5,368.0 1189.0,365.3 1189.5,367.2 1189.9,366.4 1190.4,367.1 1190.9,366.7 1191.4,368.9 1191.9,365.1 1192.4,364.6 1192.9,366.7 1193.4,364.6 1193.9,365.1 1194.4,364.6 1194.9,364.2 1195.3,368.1 1195.8,365.2 1196.3,366.6 1196.8,365.2 1197.3,366.7 1197.8,363.3 1198.3,363.9 1198.8,366.3 1199.3,365.7 1199.8,366.0 1200.2,365.9 1200.7,364.9 1201.2,367.7 1201.7,368.3 1202.2,364.6 1202.7,365.7 1203.2,366.9 1203.7,367.2 1204.2,368.3 1204.7,366.6 1205.2,368.6 1205.6,365.9 1206.1,365.7 1206.6,367.0 1207.1,364.6 1207.6,364.9 1208.1,365.7 1208.6,367.0 1209.1,366.8 1209.6,367.2 1210.1,368.6 1210.6,365.6 1211.0,364.5 1211.5,367.5 1212.0,364.6 1212.5,365.2 1213.0,364.2 1213.5,362.7 1214.0,361.5 1214.5,362.8 1215.0,359.3 1215.5,359.3 1216.0,360.4 1216.4,351.7 1216.9,352.6 1217.4,351.5 1217.9,348.1 1218.4,349.4 1218.9,351.2 1219.4,350.8 1219.9,351.7 1220.4,353.6 1220.9,358.0 1221.4,355.6 1221.8,358.5 1222.3,359.8 1222.8,359.3 1223.3,357.3 1223.8,363.1 1224.3,361.7 1224.8,364.9 1225.3,365.7 1225.8,364.4 1226.3,362.9 1226.8,364.2 1227.2,364.4 1227.7,363.3 1228.2,364.5 1228.7,366.2 1229.2,366.9 1229.7,366.0 1230.2,365.2 1230.7,366.2 1231.2,366.2 1231.7,366.7 1232.2,367.1 1232.6,367.7 1233.1,367.2 1233.6,363.4 1234.1,364.5 1234.6,364.1 1235.1,365.9 1235.6,366.3 1236.1,365.0 1236.6,366.7 1237.1,364.5 1237.6,366.0 1238.0,365.1 1238.5,367.4 1239.0,363.6 1239.5,366.0 1240.0,365.3 1240.5,367.4 1241.0,367.3 1241.5,365.3 1242.0,368.7 1242.5,364.5 1243.0,367.2 1243.4,365.0 1243.9,367.3 1244.4,366.4 1244.9,366.3 1245.4,365.1 1245.9,367.6 1246.4,365.6 1246.9,366.0 1247.4,365.3 1247.9,367.6 1248.4,366.4 1248.8,367.5 1249.3,367.0 1249.8,364.9 1250.3,364.7 1250.8,367.8 1251.3,366.7 1251.8,366.6 1252.3,367.8 1252.8,367.0 1253.3,368.0 1253.8,365.7 1254.2,367.9 1254.7,364.4 1255.2,369.3 1255.7,365.7 1256.2,365.6 1256.7,367.4 1257.2,369.0 1257.7,366.3 1258.2,368.3 1258.7,364.9 1259.2,366.4 1259.6,366.5 1260.1,366.4 1260.6,365.4 1261.1,366.6 1261.6,365.7 1262.1,366.0 1262.6,367.3 1263.1,364.9 1263.6,364.2 1264.1,364.9 1264.6,366.4 1265.0,365.6 1265.5,368.1 1266.0,367.7 1266.5,367.8 1267.0,367.4 1267.5,365.4 1268.0,367.8 1268.5,367.5 1269.0,368.8 1269.5,367.6 1270.0,369.0 1270.4,365.3 1270.9,366.8 1271.4,365.2 1271.9,364.6 1272.4,365.9 1272.9,366.1 1273.4,366.4 1273.9,367.2 1274.4,369.7 1274.9,366.3 1275.3,367.6 1275.8,368.0 1276.3,367.4 1276.8,366.6 1277.3,365.6 1277.8,368.0 1278.3,368.4 1278.8,365.0 1279.3,365.8 1279.8,365.4 1280.3,367.0 1280.7,368.6 1281.2,364.7 1281.7,364.8 1282.2,367.5 1282.7,366.0 1283.2,365.0 1283.7,363.0 1284.2,364.9 1284.7,365.8 1285.2,366.9 1285.7,367.2 1286.1,366.7 1286.6,367.5 1287.1,365.7 1287.6,366.4 1288.1,366.9 1288.6,368.0 1289.1,366.4 1289.6,367.0 1290.1,366.0 1290.6,367.9 1291.1,365.6 1291.5,366.7 1292.0,363.8 1292.5,367.7 1293.0,363.7 1293.5,362.4 1294.0,366.6 1294.5,363.6 1295.0,364.9 1295.5,368.3 1296.0,367.3 1296.5,365.0 1296.9,366.0 1297.4,365.2 1297.9,365.9 1298.4,364.4 1298.9,366.8 1299.4,368.0 1299.9,367.4 1300.4,366.5 1300.9,367.8 1301.4,366.5 1301.9,366.8 1302.3,366.9 1302.8,366.5 1303.3,367.0 1303.8,365.0 1304.3,366.3 1304.8,365.4 1305.3,368.6 1305.8,366.4 1306.3,367.2 1306.8,369.3 1307.3,363.5 1307.7,368.4 1308.2,365.3 1308.7,365.4 1309.2,364.8 1309.7,367.1 1310.2,370.2" fill="none" stroke="#000080" stroke-width="2.3" stroke-linejoin="round"/>
<polyline points="1324.2,365.5 1324.7,366.4 1325.2,365.4 1325.7,366.4 1326.2,364.6 1326.7,365.5 1327.2,366.6 1327.7,363.1 1328.2,366.9 1328.7,369.0 1329.1,365.9 1329.6,365.5 1330.1,365.3 1330.6,366.7 1331.1,366.0 1331.6,367.0 1332.1,366.4 1332.6,365.0 1333.1,366.5 1333.6,364.8 1334.1,366.0 1334.6,365.5 1335.1,366.0 1335.6,364.0 1336.1,365.3 1336.6,366.4 1337.1,365.1 1337.6,363.7 1338.1,364.8 1338.5,366.4 1339.0,365.9 1339.5,366.1 1340.0,362.9 1340.5,364.3 1341.0,363.3 1341.5,363.2 1342.0,364.6 1342.5,362.6 1343.0,364.0 1343.5,363.3 1344.0,366.1 1344.5,363.5 1345.0,363.7 1345.5,364.0 1346.0,362.5 1346.5,364.3 1347.0,362.8 1347.4,365.5 1347.9,362.3 1348.4,362.8 1348.9,359.4 1349.4,361.2 1349.9,360.5 1350.4,364.8 1350.9,361.4 1351.4,362.2 1351.9,358.8 1352.4,359.0 1352.9,359.9 1353.4,359.7 1353.9,359.6 1354.4,359.6 1354.9,358.5 1355.4,358.5 1355.9,359.3 1356.4,359.9 1356.8,356.7 1357.3,359.3 1357.8,359.6 1358.3,355.5 1358.8,358.3 1359.3,358.6 1359.8,360.1 1360.3,359.6 1360.8,356.5 1361.3,358.6 1361.8,356.7 1362.3,359.6 1362.8,357.2 1363.3,358.1 1363.8,358.9 1364.3,360.7 1364.8,356.8 1365.3,358.4 1365.8,358.7 1366.2,357.6 1366.7,360.2 1367.2,357.2 1367.7,358.1 1368.2,358.6 1368.7,358.7 1369.2,360.5 1369.7,360.1 1370.2,359.4 1370.7,360.9 1371.2,358.6 1371.7,359.5 1372.2,359.0 1372.7,362.9 1373.2,359.2 1373.7,362.0 1374.2,362.5 1374.7,362.1 1375.1,360.1 1375.6,361.5 1376.1,361.8 1376.6,361.2 1377.1,361.3 1377.6,361.4 1378.1,361.8 1378.6,362.8 1379.1,362.7 1379.6,365.2 1380.1,363.8 1380.6,366.6 1381.1,364.0 1381.6,363.9 1382.1,365.1 1382.6,364.9 1383.1,363.0 1383.6,364.9 1384.1,364.6 1384.5,362.2 1385.0,364.3 1385.5,363.6 1386.0,364.3 1386.5,364.2 1387.0,363.6 1387.5,365.4 1388.0,364.2 1388.5,365.8 1389.0,365.8 1389.5,364.5 1390.0,366.1 1390.5,368.7 1391.0,365.7 1391.5,363.7 1392.0,366.7 1392.5,364.7 1393.0,365.9 1393.5,367.4 1393.9,365.9 1394.4,368.4 1394.9,363.9 1395.4,366.0 1395.9,365.0 1396.4,365.5 1396.9,367.4 1397.4,366.0 1397.9,363.9 1398.4,364.4 1398.9,365.9 1399.4,366.4 1399.9,365.5 1400.4,367.1 1400.9,365.1 1401.4,367.5 1401.9,366.3 1402.4,364.2 1402.9,365.3 1403.3,366.1 1403.8,365.0 1404.3,365.5 1404.8,364.8 1405.3,363.7 1405.8,365.2 1406.3,367.2 1406.8,364.5 1407.3,366.0 1407.8,363.5 1408.3,363.6 1408.8,364.9 1409.3,364.2 1409.8,366.6 1410.3,366.9 1410.8,365.0 1411.3,364.1 1411.8,362.7 1412.2,365.3 1412.7,365.5 1413.2,365.3 1413.7,365.1 1414.2,363.8 1414.7,365.8 1415.2,362.9 1415.7,365.4 1416.2,360.7 1416.7,363.6 1417.2,363.2 1417.7,365.3 1418.2,362.7 1418.7,365.3 1419.2,361.6 1419.7,363.3 1420.2,362.0 1420.7,361.4 1421.2,360.6 1421.6,359.8 1422.1,359.9 1422.6,360.1 1423.1,361.5 1423.6,361.9 1424.1,359.1 1424.6,359.3 1425.1,360.0 1425.6,359.1 1426.1,357.4 1426.6,357.0 1427.1,358.5 1427.6,358.9 1428.1,359.2 1428.6,356.8 1429.1,356.1 1429.6,356.9 1430.1,353.2 1430.6,351.6 1431.0,354.4 1431.5,351.9 1432.0,352.3 1432.5,350.8 1433.0,350.6 1433.5,350.3 1434.0,348.3 1434.5,347.9 1435.0,348.6 1435.5,346.8 1436.0,347.5 1436.5,346.1 1437.0,344.6 1437.5,344.1 1438.0,346.1 1438.5,342.7 1439.0,344.4 1439.5,342.1 1439.9,340.9 1440.4,343.3 1440.9,342.3 1441.4,339.6 1441.9,339.9 1442.4,342.7 1442.9,338.7 1443.4,340.6 1443.9,341.3 1444.4,339.5 1444.9,340.7 1445.4,339.9 1445.9,339.8 1446.4,337.2 1446.9,339.4 1447.4,340.5 1447.9,341.0 1448.4,341.0 1448.9,341.2 1449.3,343.0 1449.8,341.9 1450.3,343.9 1450.8,344.2 1451.3,344.0 1451.8,343.1 1452.3,343.9 1452.8,349.2 1453.3,344.4 1453.8,346.4 1454.3,346.9 1454.8,345.6 1455.3,349.0 1455.8,349.9 1456.3,351.6 1456.8,351.1 1457.3,349.1 1457.8,351.7 1458.3,352.5 1458.7,351.2 1459.2,353.4 1459.7,353.6 1460.2,354.1 1460.7,353.1 1461.2,354.9 1461.7,355.1 1462.2,355.1 1462.7,357.7 1463.2,356.0 1463.7,358.4 1464.2,358.0 1464.7,357.5 1465.2,357.1 1465.7,357.9 1466.2,356.5 1466.7,358.1 1467.2,357.8 1467.7,359.4 1468.1,359.9 1468.6,357.2 1469.1,361.7 1469.6,358.4 1470.1,361.0 1470.6,359.5 1471.1,362.2 1471.6,360.1 1472.1,360.5 1472.6,363.8 1473.1,362.0 1473.6,360.6 1474.1,360.2 1474.6,361.3 1475.1,362.5 1475.6,361.9 1476.1,363.6 1476.6,363.3 1477.0,361.8 1477.5,362.2 1478.0,361.3 1478.5,362.0 1479.0,361.5 1479.5,362.4 1480.0,361.5 1480.5,359.1 1481.0,363.4 1481.5,361.9 1482.0,362.5 1482.5,361.1 1483.0,360.9 1483.5,362.2 1484.0,360.5 1484.5,359.9 1485.0,359.6 1485.5,358.3 1486.0,355.9 1486.4,355.8 1486.9,355.5 1487.4,353.3 1487.9,349.3 1488.4,350.7 1488.9,346.4 1489.4,346.5 1489.9,345.4 1490.4,341.9 1490.9,338.4 1491.4,337.2 1491.9,336.2 1492.4,335.1 1492.9,334.8 1493.4,335.0 1493.9,334.9 1494.4,338.3 1494.9,335.9 1495.4,337.7 1495.8,339.8 1496.3,340.7 1496.8,344.6 1497.3,345.9 1497.8,351.2 1498.3,349.5 1498.8,352.1 1499.3,352.4 1499.8,353.6 1500.3,356.3 1500.8,358.9 1501.3,358.0 1501.8,358.3 1502.3,359.0 1502.8,361.5 1503.3,362.6 1503.8,362.3 1504.3,363.7 1504.8,365.5 1505.2,362.6 1505.7,362.8 1506.2,362.7 1506.7,364.9 1507.2,364.0 1507.7,365.6 1508.2,366.1 1508.7,363.7 1509.2,366.8 1509.7,365.0 1510.2,361.6 1510.7,363.1 1511.2,363.9 1511.7,364.0 1512.2,365.1 1512.7,365.7 1513.2,362.4 1513.7,365.3 1514.1,365.8 1514.6,364.3 1515.1,365.2 1515.6,363.5 1516.1,366.0 1516.6,366.3 1517.1,365.8 1517.6,363.3 1518.1,364.2 1518.6,365.1 1519.1,365.3 1519.6,365.0 1520.1,366.7 1520.6,364.8 1521.1,366.1 1521.6,365.2 1522.1,365.5 1522.6,365.2 1523.1,366.2 1523.5,364.4 1524.0,365.2 1524.5,366.6 1525.0,365.1 1525.5,366.1 1526.0,365.2 1526.5,364.6 1527.0,366.3 1527.5,365.8 1528.0,365.7 1528.5,365.7 1529.0,363.2 1529.5,365.3 1530.0,367.3 1530.5,365.7 1531.0,366.5 1531.5,362.7 1532.0,366.7 1532.5,367.3 1532.9,364.9 1533.4,366.5 1533.9,366.4 1534.4,366.2 1534.9,366.8 1535.4,366.4 1535.9,368.7 1536.4,366.1 1536.9,365.1 1537.4,363.6 1537.9,365.9 1538.4,364.9 1538.9,366.9 1539.4,364.1 1539.9,363.1 1540.4,365.6 1540.9,366.4 1541.4,365.9 1541.8,364.0 1542.3,367.6 1542.8,364.4 1543.3,367.3 1543.8,367.1 1544.3,365.7 1544.8,365.2 1545.3,364.8 1545.8,364.2 1546.3,367.5 1546.8,366.0 1547.3,365.1 1547.8,365.7 1548.3,364.6 1548.8,366.0 1549.3,366.5 1549.8,368.9 1550.3,368.5 1550.8,365.1 1551.2,367.6 1551.7,365.7 1552.2,365.3 1552.7,366.3 1553.2,364.8 1553.7,367.0 1554.2,365.4 1554.7,366.3 1555.2,368.0 1555.7,368.7 1556.2,366.4 1556.7,364.1 1557.2,364.7 1557.7,365.6 1558.2,365.2 1558.7,365.0 1559.2,366.5 1559.7,364.5 1560.2,365.9 1560.6,366.8 1561.1,361.3 1561.6,365.3 1562.1,366.4 1562.6,365.2 1563.1,367.8 1563.6,367.8 1564.1,363.8 1564.6,365.4 1565.1,367.6 1565.6,368.3 1566.1,366.4 1566.6,367.6 1567.1,364.6 1567.6,368.7 1568.1,364.7 1568.6,367.6 1569.1,367.9 1569.6,366.2 1570.0,367.9 1570.5,367.0 1571.0,367.0 1571.5,369.4 1572.0,367.8 1572.5,365.9 1573.0,369.0 1573.5,368.1 1574.0,367.5 1574.5,365.1 1575.0,365.1 1575.5,364.4 1576.0,367.6 1576.5,365.3 1577.0,366.0 1577.5,368.0 1578.0,365.7 1578.5,366.4 1578.9,367.2 1579.4,367.8 1579.9,368.5 1580.4,365.7 1580.9,365.8 1581.4,366.7 1581.9,366.9 1582.4,367.1 1582.9,365.4 1583.4,366.1 1583.9,368.7 1584.4,366.3 1584.9,365.8 1585.4,367.2 1585.9,367.0 1586.4,367.2 1586.9,365.6 1587.4,366.9 1587.9,366.4 1588.3,366.3 1588.8,364.4 1589.3,368.3 1589.8,363.4 1590.3,368.0 1590.8,366.7 1591.3,367.5 1591.8,366.2 1592.3,365.7 1592.8,363.4 1593.3,364.9 1593.8,367.3 1594.3,366.1 1594.8,366.3 1595.3,367.3 1595.8,365.6 1596.3,366.1 1596.8,367.0 1597.3,367.3 1597.7,365.5 1598.2,366.6 1598.7,364.9 1599.2,365.3 1599.7,368.0 1600.2,369.1 1600.7,366.4 1601.2,367.3 1601.7,367.8 1602.2,367.4 1602.7,364.5 1603.2,366.7 1603.7,364.0 1604.2,365.4 1604.7,368.7 1605.2,365.8 1605.7,364.5 1606.2,368.7 1606.6,368.1 1607.1,366.6 1607.6,367.1 1608.1,364.2 1608.6,367.6 1609.1,364.2 1609.6,368.3 1610.1,367.5 1610.6,366.0 1611.1,365.8 1611.6,366.2 1612.1,364.3 1612.6,364.1 1613.1,363.9 1613.6,366.6 1614.1,365.3 1614.6,366.8 1615.1,364.6 1615.6,369.5 1616.0,367.3 1616.5,366.7 1617.0,367.1 1617.5,364.4 1618.0,368.2 1618.5,367.5 1619.0,368.0 1619.5,366.5 1620.0,367.6 1620.5,365.2" fill="none" stroke="#000080" stroke-width="2.3" stroke-linejoin="round"/>
<polyline points="1634.3,365.7 1634.8,368.7 1635.2,368.7 1635.7,365.8 1636.2,366.2 1636.7,368.2 1637.1,366.6 1637.6,367.8 1638.1,365.8 1638.5,367.9 1639.0,367.2 1639.5,366.1 1640.0,366.5 1640.4,365.5 1640.9,366.2 1641.4,368.1 1641.8,366.4 1642.3,367.7 1642.8,365.1 1643.3,365.0 1643.7,365.4 1644.2,364.4 1644.7,365.8 1645.1,365.1 1645.6,365.6 1646.1,365.7 1646.6,365.7 1647.0,366.3 1647.5,364.8 1648.0,367.7 1648.4,368.2 1648.9,367.4 1649.4,365.0 1649.8,366.9 1650.3,367.4 1650.8,367.4 1651.3,366.1 1651.7,366.6 1652.2,365.4 1652.7,366.9 1653.1,365.7 1653.6,367.4 1654.1,366.0 1654.6,363.5 1655.0,366.8 1655.5,366.7 1656.0,365.6 1656.4,367.5 1656.9,367.0 1657.4,367.1 1657.9,366.3 1658.3,367.9 1658.8,365.1 1659.3,366.4 1659.7,366.3 1660.2,366.7 1660.7,366.5 1661.2,368.8 1661.6,365.2 1662.1,367.4 1662.6,365.6 1663.0,366.6 1663.5,366.7 1664.0,365.9 1664.5,364.7 1664.9,366.5 1665.4,367.0 1665.9,365.9 1666.3,368.8 1666.8,367.2 1667.3,367.3 1667.8,366.7 1668.2,367.7 1668.7,365.4 1669.2,366.5 1669.6,366.1 1670.1,366.2 1670.6,366.5 1671.1,366.8 1671.5,364.8 1672.0,365.2 1672.5,364.5 1672.9,366.1 1673.4,365.6 1673.9,365.5 1674.4,366.1 1674.8,365.8 1675.3,367.3 1675.8,366.8 1676.2,366.5 1676.7,366.6 1677.2,365.0 1677.6,365.0 1678.1,364.8 1678.6,365.4 1679.1,364.1 1679.5,364.1 1680.0,364.3 1680.5,365.1 1680.9,363.1 1681.4,365.7 1681.9,366.1 1682.4,365.6 1682.8,363.0 1683.3,364.0 1683.8,364.5 1684.2,366.1 1684.7,363.8 1685.2,364.5 1685.7,365.4 1686.1,362.0 1686.6,362.9 1687.1,361.4 1687.5,362.6 1688.0,361.8 1688.5,362.9 1689.0,361.4 1689.4,362.2 1689.9,361.0 1690.4,361.2 1690.8,362.2 1691.3,360.9 1691.8,360.5 1692.3,361.1 1692.7,360.3 1693.2,359.0 1693.7,358.4 1694.1,359.3 1694.6,361.4 1695.1,358.1 1695.6,356.7 1696.0,358.5 1696.5,358.9 1697.0,357.4 1697.4,357.2 1697.9,356.3 1698.4,357.5 1698.9,354.8 1699.3,355.3 1699.8,357.0 1700.3,354.6 1700.7,355.5 1701.2,354.3 1701.7,354.4 1702.2,354.4 1702.6,353.8 1703.1,354.2 1703.6,354.2 1704.0,353.4 1704.5,353.1 1705.0,352.2 1705.4,352.1 1705.9,353.6 1706.4,350.8 1706.9,351.4 1707.3,350.2 1707.8,350.1 1708.3,350.2 1708.7,349.6 1709.2,351.3 1709.7,348.0 1710.2,347.4 1710.6,348.4 1711.1,349.2 1711.6,347.8 1712.0,348.5 1712.5,346.3 1713.0,348.1 1713.5,348.6 1713.9,348.0 1714.4,347.6 1714.9,345.9 1715.3,346.4 1715.8,345.9 1716.3,346.2 1716.8,344.3 1717.2,345.4 1717.7,345.0 1718.2,343.4 1718.6,344.4 1719.1,345.0 1719.6,344.5 1720.1,342.9 1720.5,343.4 1721.0,344.3 1721.5,342.2 1721.9,344.6 1722.4,345.0 1722.9,343.6 1723.4,344.3 1723.8,342.4 1724.3,341.9 1724.8,342.0 1725.2,342.0 1725.7,342.3 1726.2,340.0 1726.7,342.7 1727.1,339.7 1727.6,340.0 1728.1,340.0 1728.5,339.3 1729.0,341.0 1729.5,338.2 1730.0,338.4 1730.4,337.5 1730.9,340.4 1731.4,337.9 1731.8,338.0 1732.3,339.9 1732.8,337.6 1733.2,336.9 1733.7,337.5 1734.2,336.0 1734.7,335.6 1735.1,336.3 1735.6,335.9 1736.1,334.5 1736.5,336.0 1737.0,334.2 1737.5,333.1 1738.0,334.2 1738.4,333.6 1738.9,333.6 1739.4,332.6 1739.8,334.7 1740.3,334.6 1740.8,333.5 1741.3,333.1 1741.7,331.2 1742.2,330.6 1742.7,331.2 1743.1,330.4 1743.6,331.8 1744.1,331.8 1744.6,332.6 1745.0,329.8 1745.5,330.3 1746.0,330.8 1746.4,332.0 1746.9,331.6 1747.4,330.0 1747.9,330.4 1748.3,329.3 1748.8,330.2 1749.3,331.1 1749.7,331.6 1750.2,330.5 1750.7,328.9 1751.2,328.6 1751.6,331.4 1752.1,330.3 1752.6,331.7 1753.0,330.8 1753.5,334.1 1754.0,332.1 1754.5,333.5 1754.9,330.4 1755.4,332.5 1755.9,332.0 1756.3,332.7 1756.8,334.3 1757.3,332.7 1757.8,332.6 1758.2,333.8 1758.7,333.9 1759.2,333.7 1759.6,334.6 1760.1,335.7 1760.6,337.7 1761.1,337.3 1761.5,337.7 1762.0,336.7 1762.5,336.6 1762.9,338.4 1763.4,337.9 1763.9,341.8 1764.3,339.6 1764.8,341.6 1765.3,340.0 1765.8,340.2 1766.2,340.9 1766.7,341.8 1767.2,342.0 1767.6,341.9 1768.1,344.8 1768.6,343.2 1769.1,345.7 1769.5,347.3 1770.0,345.8 1770.5,346.2 1770.9,347.2 1771.4,348.7 1771.9,348.0 1772.4,349.4 1772.8,347.3 1773.3,349.9 1773.8,350.3 1774.2,351.8 1774.7,351.2 1775.2,350.6 1775.7,353.5 1776.1,353.6 1776.6,355.7 1777.1,354.3 1777.5,353.1 1778.0,356.3 1778.5,356.0 1779.0,356.8 1779.4,356.7 1779.9,357.6 1780.4,357.6 1780.8,358.8 1781.3,357.8 1781.8,357.5 1782.3,358.0 1782.7,361.0 1783.2,358.2 1783.7,359.1 1784.1,359.0 1784.6,361.3 1785.1,361.3 1785.6,360.3 1786.0,359.5 1786.5,362.5 1787.0,361.5 1787.4,361.6 1787.9,362.6 1788.4,362.1 1788.9,363.2 1789.3,361.6 1789.8,364.7 1790.3,363.0 1790.7,364.0 1791.2,363.7 1791.7,364.7 1792.1,367.0 1792.6,362.6 1793.1,363.6 1793.6,364.0 1794.0,364.6 1794.5,364.4 1795.0,365.1 1795.4,364.8 1795.9,363.6 1796.4,365.7 1796.9,366.0 1797.3,363.4 1797.8,365.8 1798.3,365.2 1798.7,365.7 1799.2,365.0 1799.7,365.0 1800.2,365.6 1800.6,366.7 1801.1,366.8 1801.6,365.8 1802.0,364.1 1802.5,367.7 1803.0,366.1 1803.5,365.6 1803.9,366.6 1804.4,365.9 1804.9,366.3 1805.3,365.4 1805.8,364.6 1806.3,366.5 1806.8,366.0 1807.2,365.8 1807.7,366.1 1808.2,366.3 1808.6,368.5 1809.1,366.3 1809.6,367.4 1810.1,366.8 1810.5,366.0 1811.0,365.9 1811.5,366.9 1811.9,366.9 1812.4,366.7 1812.9,367.5 1813.4,364.9 1813.8,364.8 1814.3,366.7 1814.8,364.9 1815.2,365.7 1815.7,367.6 1816.2,365.6 1816.7,365.9 1817.1,366.4 1817.6,368.0 1818.1,367.1 1818.5,368.8 1819.0,366.6 1819.5,366.8 1819.9,367.7 1820.4,367.8 1820.9,365.2 1821.4,368.1 1821.8,365.8 1822.3,366.5 1822.8,365.3 1823.2,368.2 1823.7,366.5 1824.2,365.3 1824.7,366.7 1825.1,368.0 1825.6,368.5 1826.1,367.3 1826.5,365.6 1827.0,365.1 1827.5,366.5 1828.0,365.7 1828.4,365.6 1828.9,366.0 1829.4,367.4 1829.8,365.9 1830.3,367.6 1830.8,366.5 1831.3,365.8 1831.7,365.5 1832.2,366.7 1832.7,365.4 1833.1,365.1 1833.6,365.6 1834.1,366.6 1834.6,366.3 1835.0,366.5 1835.5,366.5 1836.0,365.8 1836.4,365.5 1836.9,366.5 1837.4,365.8 1837.9,366.3 1838.3,366.4 1838.8,367.5 1839.3,366.2 1839.7,366.7 1840.2,366.3 1840.7,365.6 1841.2,365.8 1841.6,365.8 1842.1,367.1 1842.6,368.1 1843.0,366.9 1843.5,366.6 1844.0,366.4 1844.5,365.2 1844.9,366.3 1845.4,365.1 1845.9,367.0 1846.3,367.6 1846.8,365.7 1847.3,367.7 1847.7,368.1 1848.2,367.1 1848.7,366.2 1849.2,365.5 1849.6,366.6 1850.1,365.7 1850.6,366.6 1851.0,368.2 1851.5,367.7 1852.0,368.2 1852.5,366.8 1852.9,368.6 1853.4,368.0 1853.9,367.4 1854.3,365.7 1854.8,366.0 1855.3,367.0 1855.8,366.4 1856.2,366.8 1856.7,363.9 1857.2,368.2 1857.6,368.6 1858.1,368.5 1858.6,368.0 1859.1,366.9 1859.5,365.7 1860.0,366.8" fill="none" stroke="#000080" stroke-width="2.3" stroke-linejoin="round"/>
<text transform="translate(1965.7,377.2) scale(1.012,1.065)" font-size="26.7" text-anchor="end">−0.45 V</text>
<polyline points="1084.9,418.6 1085.4,418.4 1085.9,417.9 1086.4,419.5 1086.9,417.3 1087.4,418.3 1087.8,417.9 1088.3,417.5 1088.8,417.4 1089.3,417.1 1089.8,419.5 1090.3,417.6 1090.8,420.5 1091.3,421.2 1091.8,418.8 1092.3,417.7 1092.8,417.6 1093.2,417.8 1093.7,417.1 1094.2,420.8 1094.7,419.0 1095.2,418.6 1095.7,419.4 1096.2,417.8 1096.7,417.4 1097.2,417.8 1097.7,418.1 1098.2,415.0 1098.6,418.2 1099.1,418.2 1099.6,416.5 1100.1,415.7 1100.6,419.5 1101.1,419.7 1101.6,416.3 1102.1,416.7 1102.6,417.0 1103.1,418.6 1103.6,417.3 1104.0,420.2 1104.5,419.9 1105.0,416.0 1105.5,420.0 1106.0,418.5 1106.5,417.3 1107.0,417.8 1107.5,419.8 1108.0,419.1 1108.5,417.4 1109.0,418.8 1109.4,415.9 1109.9,418.4 1110.4,415.6 1110.9,418.2 1111.4,416.5 1111.9,417.6 1112.4,418.1 1112.9,420.1 1113.4,417.4 1113.9,418.1 1114.4,417.7 1114.8,418.9 1115.3,419.5 1115.8,419.5 1116.3,418.3 1116.8,416.8 1117.3,418.6 1117.8,419.7 1118.3,419.3 1118.8,419.7 1119.3,420.4 1119.8,418.6 1120.2,418.9 1120.7,418.5 1121.2,415.3 1121.7,416.6 1122.2,415.8 1122.7,417.8 1123.2,417.4 1123.7,418.9 1124.2,420.2 1124.7,419.9 1125.1,418.1 1125.6,416.9 1126.1,414.3 1126.6,417.5 1127.1,419.5 1127.6,417.8 1128.1,416.5 1128.6,418.8 1129.1,417.8 1129.6,416.3 1130.1,416.8 1130.5,416.2 1131.0,416.7 1131.5,416.7 1132.0,414.6 1132.5,415.2 1133.0,416.0 1133.5,415.5 1134.0,416.2 1134.5,416.1 1135.0,415.3 1135.5,415.5 1135.9,412.1 1136.4,415.2 1136.9,414.8 1137.4,412.3 1137.9,416.5 1138.4,414.9 1138.9,413.2 1139.4,414.5 1139.9,414.8 1140.4,415.8 1140.9,414.5 1141.3,415.4 1141.8,412.8 1142.3,413.4 1142.8,414.5 1143.3,412.3 1143.8,415.3 1144.3,415.0 1144.8,412.6 1145.3,413.2 1145.8,415.2 1146.3,414.5 1146.7,413.8 1147.2,414.3 1147.7,413.0 1148.2,413.4 1148.7,412.6 1149.2,413.3 1149.7,412.7 1150.2,413.8 1150.7,412.6 1151.2,412.7 1151.7,412.2 1152.1,412.7 1152.6,413.8 1153.1,413.3 1153.6,411.5 1154.1,413.7 1154.6,413.3 1155.1,411.2 1155.6,412.6 1156.1,412.6 1156.6,414.9 1157.1,415.0 1157.5,413.4 1158.0,410.9 1158.5,416.5 1159.0,416.5 1159.5,413.4 1160.0,413.9 1160.5,415.8 1161.0,413.2 1161.5,414.4 1162.0,415.4 1162.5,415.0 1162.9,415.7 1163.4,414.7 1163.9,416.2 1164.4,416.9 1164.9,416.4 1165.4,415.0 1165.9,414.1 1166.4,416.7 1166.9,417.3 1167.4,415.6 1167.9,414.5 1168.3,416.7 1168.8,414.2 1169.3,417.5 1169.8,414.5 1170.3,415.6 1170.8,419.0 1171.3,416.0 1171.8,417.2 1172.3,417.2 1172.8,418.0 1173.3,417.1 1173.7,418.1 1174.2,417.0 1174.7,415.8 1175.2,415.4 1175.7,415.9 1176.2,416.2 1176.7,416.9 1177.2,417.8 1177.7,419.2 1178.2,416.2 1178.7,418.3 1179.1,417.5 1179.6,419.7 1180.1,417.2 1180.6,415.9 1181.1,418.0 1181.6,416.6 1182.1,418.1 1182.6,417.7 1183.1,418.6 1183.6,421.7 1184.1,417.5 1184.5,417.3 1185.0,417.2 1185.5,415.6 1186.0,416.7 1186.5,417.4 1187.0,419.0 1187.5,414.0 1188.0,420.0 1188.5,418.6 1189.0,418.8 1189.5,416.6 1189.9,417.6 1190.4,417.3 1190.9,420.5 1191.4,418.8 1191.9,416.6 1192.4,418.8 1192.9,419.8 1193.4,417.8 1193.9,418.9 1194.4,418.1 1194.9,417.6 1195.3,419.4 1195.8,418.1 1196.3,416.2 1196.8,418.4 1197.3,418.3 1197.8,418.8 1198.3,417.6 1198.8,417.3 1199.3,419.2 1199.8,417.8 1200.2,415.6 1200.7,420.3 1201.2,416.6 1201.7,416.7 1202.2,420.1 1202.7,420.3 1203.2,418.7 1203.7,416.0 1204.2,418.8 1204.7,417.8 1205.2,417.7 1205.6,417.9 1206.1,415.0 1206.6,417.4 1207.1,419.4 1207.6,417.3 1208.1,416.7 1208.6,419.1 1209.1,417.3 1209.6,418.3 1210.1,419.2 1210.6,418.5 1211.0,416.0 1211.5,417.2 1212.0,419.0 1212.5,415.3 1213.0,416.3 1213.5,419.4 1214.0,415.8 1214.5,416.4 1215.0,412.5 1215.5,405.9 1216.0,404.8 1216.4,405.1 1216.9,404.6 1217.4,403.3 1217.9,401.7 1218.4,400.2 1218.9,399.2 1219.4,401.7 1219.9,401.0 1220.4,404.2 1220.9,408.3 1221.4,406.3 1221.8,406.6 1222.3,408.5 1222.8,409.0 1223.3,412.9 1223.8,413.0 1224.3,413.4 1224.8,413.6 1225.3,413.9 1225.8,413.9 1226.3,416.2 1226.8,417.5 1227.2,416.9 1227.7,416.8 1228.2,417.4 1228.7,418.2 1229.2,415.8 1229.7,415.7 1230.2,415.8 1230.7,416.2 1231.2,416.6 1231.7,418.0 1232.2,418.0 1232.6,417.1 1233.1,420.2 1233.6,417.2 1234.1,420.4 1234.6,415.0 1235.1,416.8 1235.6,418.6 1236.1,417.8 1236.6,418.5 1237.1,415.6 1237.6,416.2 1238.0,417.7 1238.5,418.5 1239.0,417.0 1239.5,417.5 1240.0,417.9 1240.5,418.6 1241.0,420.1 1241.5,419.8 1242.0,418.9 1242.5,420.2 1243.0,419.3 1243.4,415.4 1243.9,417.9 1244.4,417.0 1244.9,418.8 1245.4,416.1 1245.9,417.8 1246.4,416.8 1246.9,416.4 1247.4,417.4 1247.9,415.2 1248.4,419.3 1248.8,418.5 1249.3,417.3 1249.8,418.1 1250.3,417.4 1250.8,414.9 1251.3,418.4 1251.8,417.6 1252.3,418.8 1252.8,419.2 1253.3,420.8 1253.8,417.4 1254.2,416.1 1254.7,418.0 1255.2,416.3 1255.7,419.9 1256.2,418.3 1256.7,418.3 1257.2,417.0 1257.7,418.0 1258.2,417.3 1258.7,416.0 1259.2,419.7 1259.6,418.2 1260.1,417.5 1260.6,419.0 1261.1,417.6 1261.6,420.6 1262.1,419.5 1262.6,418.5 1263.1,420.7 1263.6,415.0 1264.1,415.5 1264.6,416.3 1265.0,416.9 1265.5,416.8 1266.0,418.5 1266.5,418.4 1267.0,421.0 1267.5,416.8 1268.0,418.4 1268.5,420.9 1269.0,419.3 1269.5,417.4 1270.0,420.4 1270.4,418.9 1270.9,421.2 1271.4,418.8 1271.9,418.3 1272.4,421.6 1272.9,419.3 1273.4,417.5 1273.9,418.7 1274.4,416.1 1274.9,416.9 1275.3,416.5 1275.8,419.9 1276.3,419.5 1276.8,417.7 1277.3,417.4 1277.8,418.9 1278.3,418.5 1278.8,419.6 1279.3,418.9 1279.8,417.6 1280.3,416.1 1280.7,417.4 1281.2,416.9 1281.7,418.1 1282.2,417.4 1282.7,416.8 1283.2,419.5 1283.7,416.8 1284.2,417.3 1284.7,416.7 1285.2,417.5 1285.7,419.1 1286.1,418.8 1286.6,418.1 1287.1,421.8 1287.6,419.4 1288.1,419.1 1288.6,419.0 1289.1,419.6 1289.6,419.7 1290.1,418.6 1290.6,419.1 1291.1,416.3 1291.5,418.2 1292.0,418.3 1292.5,417.0 1293.0,418.3 1293.5,418.3 1294.0,416.6 1294.5,416.8 1295.0,418.5 1295.5,420.1 1296.0,419.1 1296.5,417.4 1296.9,420.5 1297.4,418.7 1297.9,418.3 1298.4,420.3 1298.9,416.5 1299.4,418.6 1299.9,420.4 1300.4,419.6 1300.9,417.6 1301.4,416.3 1301.9,417.8 1302.3,417.9 1302.8,418.5 1303.3,415.9 1303.8,416.4 1304.3,420.5 1304.8,418.2 1305.3,417.4 1305.8,418.5 1306.3,417.6 1306.8,417.3 1307.3,419.5 1307.7,416.4 1308.2,418.0 1308.7,416.7 1309.2,417.8 1309.7,418.3 1310.2,416.3" fill="none" stroke="#008000" stroke-width="2.3" stroke-linejoin="round"/>
<polyline points="1324.2,417.5 1324.7,416.0 1325.2,417.2 1325.7,415.2 1326.2,418.9 1326.7,417.8 1327.2,418.9 1327.7,419.3 1328.2,417.7 1328.7,419.7 1329.1,418.0 1329.6,416.2 1330.1,417.1 1330.6,418.5 1331.1,418.1 1331.6,416.8 1332.1,415.7 1332.6,418.0 1333.1,417.5 1333.6,417.0 1334.1,417.8 1334.6,417.1 1335.1,417.1 1335.6,415.8 1336.1,418.1 1336.6,417.2 1337.1,416.8 1337.6,418.1 1338.1,417.5 1338.5,417.1 1339.0,418.8 1339.5,417.5 1340.0,418.2 1340.5,417.4 1341.0,417.5 1341.5,417.1 1342.0,415.5 1342.5,414.8 1343.0,415.2 1343.5,417.1 1344.0,415.5 1344.5,417.4 1345.0,415.0 1345.5,414.6 1346.0,415.9 1346.5,415.2 1347.0,414.1 1347.4,414.1 1347.9,415.6 1348.4,415.6 1348.9,416.7 1349.4,414.8 1349.9,415.0 1350.4,414.1 1350.9,413.3 1351.4,415.6 1351.9,414.6 1352.4,414.0 1352.9,415.4 1353.4,413.5 1353.9,413.8 1354.4,412.6 1354.9,412.1 1355.4,411.9 1355.9,413.0 1356.4,412.3 1356.8,412.2 1357.3,411.1 1357.8,414.6 1358.3,412.6 1358.8,413.2 1359.3,412.0 1359.8,410.8 1360.3,411.8 1360.8,411.9 1361.3,413.0 1361.8,411.7 1362.3,411.8 1362.8,413.4 1363.3,411.4 1363.8,412.8 1364.3,414.9 1364.8,412.5 1365.3,411.7 1365.8,411.9 1366.2,412.4 1366.7,412.7 1367.2,411.9 1367.7,412.1 1368.2,415.2 1368.7,414.0 1369.2,413.1 1369.7,413.4 1370.2,412.4 1370.7,412.3 1371.2,413.5 1371.7,414.3 1372.2,411.8 1372.7,415.2 1373.2,414.4 1373.7,411.9 1374.2,413.8 1374.7,413.9 1375.1,414.8 1375.6,413.4 1376.1,411.4 1376.6,414.8 1377.1,415.6 1377.6,414.0 1378.1,413.2 1378.6,415.2 1379.1,416.8 1379.6,415.5 1380.1,417.0 1380.6,414.9 1381.1,416.4 1381.6,415.6 1382.1,416.3 1382.6,415.4 1383.1,419.0 1383.6,416.2 1384.1,416.4 1384.5,416.3 1385.0,418.6 1385.5,415.1 1386.0,417.7 1386.5,416.3 1387.0,417.6 1387.5,417.2 1388.0,417.6 1388.5,419.1 1389.0,417.9 1389.5,415.4 1390.0,418.5 1390.5,417.0 1391.0,419.3 1391.5,415.8 1392.0,418.9 1392.5,418.6 1393.0,417.3 1393.5,416.5 1393.9,418.8 1394.4,417.3 1394.9,416.5 1395.4,417.1 1395.9,418.1 1396.4,416.5 1396.9,415.7 1397.4,414.2 1397.9,415.5 1398.4,419.2 1398.9,415.4 1399.4,415.7 1399.9,416.6 1400.4,416.1 1400.9,415.5 1401.4,417.2 1401.9,418.4 1402.4,417.2 1402.9,416.0 1403.3,417.5 1403.8,417.6 1404.3,418.3 1404.8,416.0 1405.3,418.0 1405.8,416.9 1406.3,417.5 1406.8,414.9 1407.3,415.2 1407.8,413.6 1408.3,417.3 1408.8,417.6 1409.3,416.0 1409.8,418.0 1410.3,416.8 1410.8,415.3 1411.3,416.0 1411.8,414.9 1412.2,416.8 1412.7,416.4 1413.2,415.9 1413.7,414.6 1414.2,414.1 1414.7,413.9 1415.2,415.2 1415.7,416.1 1416.2,415.6 1416.7,414.9 1417.2,416.8 1417.7,415.8 1418.2,416.7 1418.7,414.0 1419.2,413.9 1419.7,415.1 1420.2,412.5 1420.7,413.4 1421.2,413.4 1421.6,412.2 1422.1,412.3 1422.6,413.8 1423.1,413.0 1423.6,413.6 1424.1,410.7 1424.6,411.3 1425.1,409.6 1425.6,411.2 1426.1,411.4 1426.6,408.1 1427.1,408.0 1427.6,410.4 1428.1,406.7 1428.6,408.4 1429.1,405.1 1429.6,405.8 1430.1,406.6 1430.6,405.6 1431.0,404.8 1431.5,407.7 1432.0,402.5 1432.5,403.1 1433.0,401.1 1433.5,404.9 1434.0,399.7 1434.5,399.9 1435.0,400.6 1435.5,396.0 1436.0,396.7 1436.5,398.3 1437.0,397.4 1437.5,395.0 1438.0,392.8 1438.5,393.8 1439.0,394.4 1439.5,391.0 1439.9,393.5 1440.4,390.6 1440.9,391.0 1441.4,391.6 1441.9,391.9 1442.4,391.6 1442.9,390.8 1443.4,388.9 1443.9,390.7 1444.4,391.8 1444.9,389.0 1445.4,389.5 1445.9,390.9 1446.4,389.6 1446.9,391.2 1447.4,389.4 1447.9,392.1 1448.4,393.2 1448.9,393.2 1449.3,392.9 1449.8,393.3 1450.3,394.6 1450.8,395.0 1451.3,396.5 1451.8,396.0 1452.3,393.8 1452.8,396.6 1453.3,398.2 1453.8,398.3 1454.3,399.0 1454.8,398.7 1455.3,400.1 1455.8,398.1 1456.3,401.2 1456.8,401.0 1457.3,399.4 1457.8,401.8 1458.3,400.7 1458.7,403.0 1459.2,402.3 1459.7,401.0 1460.2,405.4 1460.7,404.0 1461.2,406.5 1461.7,405.7 1462.2,406.9 1462.7,406.3 1463.2,408.4 1463.7,409.9 1464.2,406.9 1464.7,407.9 1465.2,406.7 1465.7,408.5 1466.2,408.9 1466.7,410.5 1467.2,411.4 1467.7,409.8 1468.1,411.7 1468.6,408.7 1469.1,408.9 1469.6,410.3 1470.1,409.6 1470.6,411.5 1471.1,412.3 1471.6,408.7 1472.1,412.2 1472.6,410.5 1473.1,413.2 1473.6,411.8 1474.1,411.4 1474.6,414.7 1475.1,414.5 1475.6,413.6 1476.1,413.2 1476.6,412.7 1477.0,413.7 1477.5,413.6 1478.0,413.9 1478.5,413.8 1479.0,411.8 1479.5,412.7 1480.0,413.1 1480.5,412.8 1481.0,411.7 1481.5,412.1 1482.0,408.9 1482.5,407.6 1483.0,408.5 1483.5,406.0 1484.0,404.1 1484.5,400.6 1485.0,400.4 1485.5,397.5 1486.0,395.9 1486.4,393.2 1486.9,390.2 1487.4,382.6 1487.9,383.0 1488.4,382.0 1488.9,380.6 1489.4,382.1 1489.9,381.3 1490.4,379.5 1490.9,381.5 1491.4,381.5 1491.9,384.7 1492.4,386.1 1492.9,388.9 1493.4,390.6 1493.9,393.2 1494.4,394.6 1494.9,398.8 1495.4,400.6 1495.8,403.1 1496.3,404.0 1496.8,405.0 1497.3,407.0 1497.8,410.9 1498.3,410.4 1498.8,411.2 1499.3,411.8 1499.8,412.9 1500.3,413.2 1500.8,412.0 1501.3,412.9 1501.8,412.2 1502.3,416.4 1502.8,416.0 1503.3,416.5 1503.8,413.8 1504.3,414.3 1504.8,416.1 1505.2,416.2 1505.7,415.3 1506.2,414.1 1506.7,413.9 1507.2,416.8 1507.7,414.9 1508.2,416.3 1508.7,414.1 1509.2,412.9 1509.7,415.6 1510.2,415.6 1510.7,419.7 1511.2,415.7 1511.7,418.7 1512.2,417.3 1512.7,415.5 1513.2,418.7 1513.7,413.6 1514.1,417.4 1514.6,415.7 1515.1,417.5 1515.6,415.9 1516.1,417.6 1516.6,417.0 1517.1,419.9 1517.6,415.7 1518.1,416.1 1518.6,417.5 1519.1,417.4 1519.6,418.5 1520.1,418.0 1520.6,416.8 1521.1,416.7 1521.6,416.2 1522.1,415.7 1522.6,415.9 1523.1,416.7 1523.5,416.8 1524.0,417.5 1524.5,415.7 1525.0,418.2 1525.5,418.3 1526.0,416.9 1526.5,419.2 1527.0,417.7 1527.5,419.3 1528.0,418.5 1528.5,412.9 1529.0,419.5 1529.5,416.1 1530.0,418.2 1530.5,418.9 1531.0,419.4 1531.5,416.7 1532.0,418.0 1532.5,417.5 1532.9,415.4 1533.4,419.3 1533.9,420.3 1534.4,417.3 1534.9,415.8 1535.4,417.3 1535.9,415.7 1536.4,416.1 1536.9,417.1 1537.4,418.5 1537.9,417.4 1538.4,416.1 1538.9,416.9 1539.4,417.6 1539.9,417.1 1540.4,417.6 1540.9,416.5 1541.4,417.9 1541.8,415.5 1542.3,417.1 1542.8,417.4 1543.3,419.9 1543.8,420.4 1544.3,417.9 1544.8,418.2 1545.3,415.2 1545.8,418.6 1546.3,418.9 1546.8,416.6 1547.3,420.3 1547.8,417.6 1548.3,419.4 1548.8,421.3 1549.3,420.0 1549.8,417.9 1550.3,417.8 1550.8,418.1 1551.2,419.0 1551.7,417.7 1552.2,417.4 1552.7,417.7 1553.2,415.7 1553.7,416.6 1554.2,419.0 1554.7,418.7 1555.2,419.0 1555.7,417.6 1556.2,416.5 1556.7,415.8 1557.2,417.6 1557.7,418.6 1558.2,419.2 1558.7,420.0 1559.2,415.6 1559.7,418.3 1560.2,418.5 1560.6,415.5 1561.1,418.7 1561.6,418.0 1562.1,417.3 1562.6,420.2 1563.1,419.6 1563.6,413.7 1564.1,417.4 1564.6,420.4 1565.1,418.6 1565.6,418.0 1566.1,417.1 1566.6,418.0 1567.1,419.4 1567.6,417.9 1568.1,416.4 1568.6,418.7 1569.1,419.4 1569.6,419.3 1570.0,420.9 1570.5,416.3 1571.0,417.5 1571.5,418.0 1572.0,417.7 1572.5,416.3 1573.0,418.4 1573.5,419.6 1574.0,416.5 1574.5,420.9 1575.0,418.4 1575.5,416.4 1576.0,415.9 1576.5,418.0 1577.0,418.0 1577.5,418.1 1578.0,418.3 1578.5,418.1 1578.9,416.1 1579.4,417.3 1579.9,415.7 1580.4,417.2 1580.9,418.4 1581.4,418.3 1581.9,415.1 1582.4,418.7 1582.9,416.6 1583.4,419.2 1583.9,417.2 1584.4,418.4 1584.9,418.5 1585.4,419.1 1585.9,418.9 1586.4,417.7 1586.9,416.2 1587.4,417.5 1587.9,419.1 1588.3,417.4 1588.8,421.2 1589.3,418.1 1589.8,415.1 1590.3,421.1 1590.8,418.4 1591.3,416.7 1591.8,415.5 1592.3,416.3 1592.8,418.5 1593.3,415.8 1593.8,415.9 1594.3,418.4 1594.8,417.9 1595.3,419.1 1595.8,418.4 1596.3,416.2 1596.8,419.5 1597.3,416.4 1597.7,417.5 1598.2,417.5 1598.7,418.7 1599.2,417.0 1599.7,418.2 1600.2,418.2 1600.7,420.1 1601.2,417.9 1601.7,418.5 1602.2,416.9 1602.7,417.8 1603.2,418.1 1603.7,418.7 1604.2,418.8 1604.7,419.0 1605.2,417.1 1605.7,419.9 1606.2,419.9 1606.6,417.7 1607.1,416.2 1607.6,417.6 1608.1,418.3 1608.6,415.3 1609.1,417.6 1609.6,418.8 1610.1,417.8 1610.6,416.7 1611.1,418.5 1611.6,417.0 1612.1,418.5 1612.6,417.9 1613.1,417.7 1613.6,421.3 1614.1,416.5 1614.6,417.3 1615.1,417.5 1615.6,417.9 1616.0,418.4 1616.5,416.3 1617.0,418.1 1617.5,417.0 1618.0,420.3 1618.5,415.6 1619.0,417.9 1619.5,417.8 1620.0,419.5 1620.5,419.3" fill="none" stroke="#008000" stroke-width="2.3" stroke-linejoin="round"/>
<polyline points="1634.3,417.9 1634.8,421.6 1635.2,417.0 1635.7,419.0 1636.2,419.1 1636.7,418.3 1637.1,416.4 1637.6,418.1 1638.1,417.2 1638.5,419.6 1639.0,418.9 1639.5,417.4 1640.0,419.5 1640.4,421.0 1640.9,419.0 1641.4,418.7 1641.8,418.6 1642.3,417.6 1642.8,417.7 1643.3,418.8 1643.7,417.8 1644.2,418.4 1644.7,418.2 1645.1,419.3 1645.6,417.7 1646.1,418.7 1646.6,417.1 1647.0,419.7 1647.5,417.2 1648.0,419.5 1648.4,417.9 1648.9,419.4 1649.4,419.2 1649.8,417.6 1650.3,419.9 1650.8,417.4 1651.3,416.2 1651.7,417.6 1652.2,419.8 1652.7,417.6 1653.1,418.4 1653.6,418.1 1654.1,418.3 1654.6,417.2 1655.0,416.5 1655.5,417.9 1656.0,416.8 1656.4,418.7 1656.9,415.8 1657.4,419.2 1657.9,419.3 1658.3,418.6 1658.8,417.4 1659.3,417.2 1659.7,419.8 1660.2,417.9 1660.7,417.8 1661.2,415.6 1661.6,418.5 1662.1,419.6 1662.6,419.8 1663.0,418.3 1663.5,417.6 1664.0,417.9 1664.5,418.2 1664.9,418.9 1665.4,418.1 1665.9,418.0 1666.3,415.5 1666.8,418.1 1667.3,419.1 1667.8,418.4 1668.2,418.2 1668.7,420.1 1669.2,418.0 1669.6,417.7 1670.1,417.8 1670.6,418.9 1671.1,418.1 1671.5,417.5 1672.0,416.9 1672.5,417.4 1672.9,419.0 1673.4,417.0 1673.9,416.0 1674.4,417.8 1674.8,420.1 1675.3,416.6 1675.8,416.3 1676.2,417.3 1676.7,417.7 1677.2,416.0 1677.6,416.3 1678.1,417.0 1678.6,417.1 1679.1,416.7 1679.5,415.7 1680.0,416.6 1680.5,417.8 1680.9,417.1 1681.4,416.3 1681.9,415.9 1682.4,416.8 1682.8,415.3 1683.3,416.6 1683.8,414.9 1684.2,414.0 1684.7,414.7 1685.2,415.3 1685.7,414.7 1686.1,417.3 1686.6,413.5 1687.1,415.7 1687.5,415.7 1688.0,415.0 1688.5,415.4 1689.0,414.2 1689.4,414.3 1689.9,413.9 1690.4,412.5 1690.8,413.0 1691.3,413.8 1691.8,413.2 1692.3,413.6 1692.7,411.6 1693.2,413.5 1693.7,412.5 1694.1,410.2 1694.6,411.9 1695.1,411.2 1695.6,410.6 1696.0,412.5 1696.5,410.4 1697.0,409.3 1697.4,409.8 1697.9,409.1 1698.4,410.3 1698.9,409.1 1699.3,409.2 1699.8,408.6 1700.3,409.6 1700.7,408.6 1701.2,407.2 1701.7,408.0 1702.2,406.5 1702.6,405.3 1703.1,406.2 1703.6,406.1 1704.0,405.2 1704.5,406.5 1705.0,405.8 1705.4,406.0 1705.9,405.5 1706.4,402.7 1706.9,404.8 1707.3,403.8 1707.8,403.8 1708.3,403.6 1708.7,403.2 1709.2,402.8 1709.7,402.0 1710.2,402.3 1710.6,401.3 1711.1,401.6 1711.6,401.5 1712.0,401.1 1712.5,399.0 1713.0,401.6 1713.5,400.3 1713.9,399.2 1714.4,399.1 1714.9,400.3 1715.3,400.2 1715.8,398.9 1716.3,397.5 1716.8,397.7 1717.2,398.2 1717.7,398.3 1718.2,397.9 1718.6,397.6 1719.1,398.6 1719.6,398.4 1720.1,396.8 1720.5,394.7 1721.0,396.1 1721.5,397.8 1721.9,396.9 1722.4,395.7 1722.9,396.4 1723.4,395.0 1723.8,395.7 1724.3,395.5 1724.8,395.8 1725.2,393.9 1725.7,393.7 1726.2,393.4 1726.7,392.9 1727.1,393.5 1727.6,391.9 1728.1,393.8 1728.5,391.9 1729.0,392.8 1729.5,392.6 1730.0,392.5 1730.4,391.0 1730.9,391.1 1731.4,390.0 1731.8,391.7 1732.3,390.3 1732.8,391.2 1733.2,389.5 1733.7,388.3 1734.2,390.3 1734.7,388.1 1735.1,389.8 1735.6,387.1 1736.1,388.1 1736.5,387.5 1737.0,388.8 1737.5,385.9 1738.0,387.3 1738.4,387.4 1738.9,385.7 1739.4,387.1 1739.8,386.4 1740.3,386.2 1740.8,386.4 1741.3,384.3 1741.7,383.5 1742.2,385.8 1742.7,383.2 1743.1,383.4 1743.6,384.7 1744.1,383.5 1744.6,382.0 1745.0,384.4 1745.5,384.2 1746.0,384.4 1746.4,381.3 1746.9,382.3 1747.4,383.9 1747.9,383.2 1748.3,382.3 1748.8,383.2 1749.3,381.8 1749.7,382.8 1750.2,381.7 1750.7,382.6 1751.2,382.7 1751.6,383.6 1752.1,382.7 1752.6,382.4 1753.0,384.8 1753.5,382.8 1754.0,382.3 1754.5,382.8 1754.9,383.5 1755.4,384.3 1755.9,385.3 1756.3,385.4 1756.8,385.2 1757.3,386.1 1757.8,385.3 1758.2,386.2 1758.7,386.3 1759.2,385.2 1759.6,386.5 1760.1,386.4 1760.6,389.1 1761.1,387.4 1761.5,389.1 1762.0,387.2 1762.5,390.6 1762.9,390.4 1763.4,389.3 1763.9,388.6 1764.3,392.5 1764.8,391.8 1765.3,392.8 1765.8,391.1 1766.2,391.1 1766.7,393.3 1767.2,393.3 1767.6,395.3 1768.1,396.3 1768.6,395.2 1769.1,396.7 1769.5,396.1 1770.0,397.6 1770.5,396.7 1770.9,398.6 1771.4,399.0 1771.9,398.6 1772.4,399.9 1772.8,399.3 1773.3,401.7 1773.8,402.6 1774.2,401.3 1774.7,402.2 1775.2,403.8 1775.7,404.8 1776.1,404.9 1776.6,404.7 1777.1,405.4 1777.5,406.7 1778.0,406.9 1778.5,406.1 1779.0,406.0 1779.4,406.0 1779.9,408.6 1780.4,409.3 1780.8,408.2 1781.3,409.4 1781.8,408.8 1782.3,409.0 1782.7,410.6 1783.2,410.7 1783.7,412.4 1784.1,412.7 1784.6,410.9 1785.1,409.9 1785.6,413.8 1786.0,413.9 1786.5,413.2 1787.0,412.4 1787.4,415.1 1787.9,413.5 1788.4,412.5 1788.9,416.2 1789.3,415.4 1789.8,413.8 1790.3,413.6 1790.7,415.6 1791.2,414.2 1791.7,414.3 1792.1,416.7 1792.6,415.7 1793.1,416.3 1793.6,416.2 1794.0,415.8 1794.5,417.2 1795.0,418.1 1795.4,417.7 1795.9,417.8 1796.4,416.8 1796.9,415.8 1797.3,417.3 1797.8,417.6 1798.3,417.5 1798.7,416.4 1799.2,417.3 1799.7,417.2 1800.2,417.9 1800.6,417.4 1801.1,417.8 1801.6,416.4 1802.0,417.5 1802.5,416.4 1803.0,417.2 1803.5,417.4 1803.9,419.4 1804.4,418.0 1804.9,418.7 1805.3,416.9 1805.8,417.5 1806.3,417.5 1806.8,418.1 1807.2,416.7 1807.7,419.9 1808.2,417.3 1808.6,418.4 1809.1,419.0 1809.6,418.7 1810.1,418.1 1810.5,417.8 1811.0,417.1 1811.5,418.8 1811.9,418.8 1812.4,417.2 1812.9,417.1 1813.4,419.1 1813.8,418.8 1814.3,417.9 1814.8,418.5 1815.2,417.5 1815.7,418.9 1816.2,418.8 1816.7,415.3 1817.1,417.1 1817.6,416.7 1818.1,417.8 1818.5,418.8 1819.0,417.1 1819.5,416.7 1819.9,418.4 1820.4,418.5 1820.9,417.7 1821.4,418.3 1821.8,419.7 1822.3,417.6 1822.8,417.4 1823.2,419.9 1823.7,416.5 1824.2,419.3 1824.7,419.4 1825.1,419.1 1825.6,418.3 1826.1,418.3 1826.5,419.9 1827.0,418.2 1827.5,417.9 1828.0,419.0 1828.4,420.5 1828.9,419.4 1829.4,419.0 1829.8,417.6 1830.3,418.8 1830.8,417.9 1831.3,415.5 1831.7,418.3 1832.2,418.5 1832.7,417.4 1833.1,417.1 1833.6,417.0 1834.1,418.2 1834.6,419.5 1835.0,420.2 1835.5,419.1 1836.0,418.6 1836.4,419.5 1836.9,419.8 1837.4,418.7 1837.9,418.8 1838.3,418.9 1838.8,416.5 1839.3,417.4 1839.7,419.6 1840.2,417.4 1840.7,418.5 1841.2,419.1 1841.6,418.9 1842.1,415.7 1842.6,418.5 1843.0,419.2 1843.5,418.5 1844.0,417.6 1844.5,418.2 1844.9,418.6 1845.4,419.3 1845.9,419.0 1846.3,419.7 1846.8,418.3 1847.3,417.9 1847.7,417.9 1848.2,418.4 1848.7,417.0 1849.2,417.9 1849.6,417.7 1850.1,419.4 1850.6,418.7 1851.0,418.8 1851.5,417.3 1852.0,418.4 1852.5,418.5 1852.9,418.5 1853.4,416.8 1853.9,418.8 1854.3,419.1 1854.8,418.1 1855.3,418.4 1855.8,416.9 1856.2,417.1 1856.7,418.0 1857.2,418.4 1857.6,418.2 1858.1,416.9 1858.6,417.8 1859.1,417.6 1859.5,420.6 1860.0,419.4" fill="none" stroke="#008000" stroke-width="2.3" stroke-linejoin="round"/>
<text transform="translate(1965.7,428.8) scale(1.012,1.065)" font-size="26.7" text-anchor="end">−0.55 V</text>
<polyline points="1084.9,466.9 1085.4,465.8 1085.9,465.7 1086.4,466.5 1086.9,469.2 1087.4,466.5 1087.8,467.9 1088.3,469.8 1088.8,468.0 1089.3,467.3 1089.8,466.5 1090.3,465.6 1090.8,466.5 1091.3,466.7 1091.8,467.5 1092.3,466.8 1092.8,468.3 1093.2,465.7 1093.7,466.7 1094.2,465.2 1094.7,465.9 1095.2,467.2 1095.7,466.8 1096.2,466.7 1096.7,466.6 1097.2,470.4 1097.7,468.0 1098.2,463.9 1098.6,466.5 1099.1,464.6 1099.6,467.4 1100.1,468.9 1100.6,467.1 1101.1,467.2 1101.6,467.8 1102.1,464.9 1102.6,464.6 1103.1,467.6 1103.6,463.8 1104.0,465.3 1104.5,468.3 1105.0,465.1 1105.5,466.1 1106.0,466.6 1106.5,468.9 1107.0,466.0 1107.5,467.7 1108.0,464.0 1108.5,468.1 1109.0,468.8 1109.4,465.9 1109.9,468.3 1110.4,464.4 1110.9,467.9 1111.4,465.5 1111.9,468.0 1112.4,467.3 1112.9,466.3 1113.4,467.5 1113.9,465.5 1114.4,467.5 1114.8,464.4 1115.3,465.2 1115.8,468.8 1116.3,463.5 1116.8,465.9 1117.3,467.6 1117.8,465.9 1118.3,466.1 1118.8,465.1 1119.3,465.0 1119.8,464.5 1120.2,468.0 1120.7,465.8 1121.2,467.0 1121.7,468.3 1122.2,467.2 1122.7,467.5 1123.2,465.4 1123.7,466.3 1124.2,465.3 1124.7,465.9 1125.1,465.5 1125.6,464.9 1126.1,466.7 1126.6,465.6 1127.1,465.6 1127.6,466.0 1128.1,466.6 1128.6,464.6 1129.1,464.0 1129.6,462.2 1130.1,464.4 1130.5,464.2 1131.0,466.1 1131.5,464.4 1132.0,462.4 1132.5,461.2 1133.0,463.2 1133.5,461.4 1134.0,461.2 1134.5,460.4 1135.0,462.2 1135.5,464.0 1135.9,462.7 1136.4,461.0 1136.9,463.5 1137.4,462.5 1137.9,463.5 1138.4,463.0 1138.9,464.1 1139.4,460.2 1139.9,462.7 1140.4,461.4 1140.9,460.6 1141.3,461.7 1141.8,462.7 1142.3,461.8 1142.8,462.4 1143.3,460.5 1143.8,461.5 1144.3,458.8 1144.8,460.9 1145.3,459.5 1145.8,461.5 1146.3,462.6 1146.7,460.5 1147.2,458.5 1147.7,458.4 1148.2,458.0 1148.7,460.3 1149.2,460.2 1149.7,459.5 1150.2,460.1 1150.7,458.8 1151.2,458.4 1151.7,458.3 1152.1,460.8 1152.6,457.6 1153.1,462.5 1153.6,460.3 1154.1,460.6 1154.6,460.0 1155.1,460.4 1155.6,458.5 1156.1,461.3 1156.6,459.2 1157.1,462.1 1157.5,460.6 1158.0,460.1 1158.5,459.4 1159.0,462.6 1159.5,464.2 1160.0,458.7 1160.5,462.7 1161.0,461.9 1161.5,461.9 1162.0,459.8 1162.5,460.9 1162.9,460.4 1163.4,460.4 1163.9,461.7 1164.4,462.9 1164.9,460.8 1165.4,461.5 1165.9,462.6 1166.4,465.9 1166.9,464.2 1167.4,462.9 1167.9,464.4 1168.3,462.5 1168.8,460.1 1169.3,463.9 1169.8,463.7 1170.3,463.1 1170.8,461.9 1171.3,467.7 1171.8,465.4 1172.3,462.8 1172.8,465.0 1173.3,467.5 1173.7,464.4 1174.2,467.2 1174.7,464.0 1175.2,464.0 1175.7,466.0 1176.2,467.3 1176.7,464.9 1177.2,466.2 1177.7,466.2 1178.2,466.7 1178.7,466.6 1179.1,467.4 1179.6,464.8 1180.1,464.4 1180.6,467.3 1181.1,468.0 1181.6,465.1 1182.1,464.3 1182.6,465.4 1183.1,464.6 1183.6,465.1 1184.1,466.2 1184.5,466.7 1185.0,467.5 1185.5,466.5 1186.0,469.0 1186.5,464.3 1187.0,468.0 1187.5,466.0 1188.0,465.9 1188.5,466.6 1189.0,466.5 1189.5,467.6 1189.9,467.1 1190.4,465.4 1190.9,465.5 1191.4,468.4 1191.9,466.6 1192.4,469.1 1192.9,466.6 1193.4,466.4 1193.9,468.5 1194.4,464.4 1194.9,468.5 1195.3,464.7 1195.8,468.9 1196.3,465.5 1196.8,469.3 1197.3,467.2 1197.8,468.4 1198.3,466.1 1198.8,467.7 1199.3,466.8 1199.8,466.2 1200.2,467.9 1200.7,467.4 1201.2,466.1 1201.7,467.9 1202.2,465.9 1202.7,469.1 1203.2,463.5 1203.7,464.8 1204.2,468.6 1204.7,467.6 1205.2,466.9 1205.6,465.6 1206.1,465.3 1206.6,464.8 1207.1,464.6 1207.6,467.9 1208.1,466.0 1208.6,466.4 1209.1,465.2 1209.6,466.3 1210.1,468.6 1210.6,466.6 1211.0,462.1 1211.5,465.6 1212.0,463.6 1212.5,465.2 1213.0,465.1 1213.5,464.0 1214.0,463.6 1214.5,461.0 1215.0,461.6 1215.5,462.0 1216.0,456.2 1216.4,454.8 1216.9,454.3 1217.4,452.4 1217.9,450.2 1218.4,450.7 1218.9,453.0 1219.4,450.3 1219.9,449.5 1220.4,454.2 1220.9,456.9 1221.4,455.1 1221.8,455.8 1222.3,460.2 1222.8,462.2 1223.3,462.9 1223.8,462.5 1224.3,464.1 1224.8,463.8 1225.3,464.3 1225.8,466.5 1226.3,464.1 1226.8,462.8 1227.2,468.1 1227.7,465.7 1228.2,466.2 1228.7,466.8 1229.2,465.7 1229.7,467.4 1230.2,464.8 1230.7,466.5 1231.2,467.6 1231.7,465.6 1232.2,466.1 1232.6,464.2 1233.1,466.1 1233.6,466.9 1234.1,463.6 1234.6,466.1 1235.1,465.9 1235.6,464.3 1236.1,467.3 1236.6,466.6 1237.1,467.6 1237.6,463.7 1238.0,467.8 1238.5,468.2 1239.0,468.2 1239.5,464.0 1240.0,465.1 1240.5,467.6 1241.0,467.7 1241.5,463.3 1242.0,467.6 1242.5,466.6 1243.0,467.7 1243.4,463.0 1243.9,467.7 1244.4,468.7 1244.9,466.4 1245.4,466.3 1245.9,467.1 1246.4,467.7 1246.9,469.4 1247.4,468.0 1247.9,464.0 1248.4,469.1 1248.8,464.8 1249.3,463.4 1249.8,464.7 1250.3,466.1 1250.8,464.8 1251.3,464.8 1251.8,468.6 1252.3,465.8 1252.8,468.1 1253.3,469.7 1253.8,465.2 1254.2,467.8 1254.7,466.3 1255.2,468.5 1255.7,465.2 1256.2,465.8 1256.7,467.1 1257.2,468.0 1257.7,467.7 1258.2,466.4 1258.7,467.6 1259.2,468.2 1259.6,465.8 1260.1,466.2 1260.6,465.2 1261.1,465.4 1261.6,468.4 1262.1,466.5 1262.6,468.0 1263.1,468.7 1263.6,466.5 1264.1,467.1 1264.6,466.1 1265.0,467.3 1265.5,465.7 1266.0,466.9 1266.5,466.3 1267.0,465.2 1267.5,464.2 1268.0,467.2 1268.5,469.6 1269.0,469.0 1269.5,464.9 1270.0,464.1 1270.4,465.4 1270.9,464.5 1271.4,467.2 1271.9,467.4 1272.4,464.8 1272.9,465.5 1273.4,465.8 1273.9,465.7 1274.4,466.7 1274.9,469.0 1275.3,465.0 1275.8,466.2 1276.3,467.7 1276.8,467.3 1277.3,465.4 1277.8,467.6 1278.3,468.3 1278.8,466.1 1279.3,465.4 1279.8,465.3 1280.3,465.4 1280.7,466.2 1281.2,466.9 1281.7,469.4 1282.2,466.8 1282.7,467.5 1283.2,464.2 1283.7,467.3 1284.2,466.1 1284.7,465.4 1285.2,468.2 1285.7,468.3 1286.1,464.8 1286.6,464.9 1287.1,469.0 1287.6,466.5 1288.1,464.7 1288.6,467.8 1289.1,466.6 1289.6,466.5 1290.1,467.1 1290.6,467.4 1291.1,470.5 1291.5,468.3 1292.0,467.2 1292.5,466.4 1293.0,464.1 1293.5,463.1 1294.0,464.7 1294.5,466.4 1295.0,468.2 1295.5,466.9 1296.0,465.1 1296.5,466.9 1296.9,466.3 1297.4,464.8 1297.9,468.0 1298.4,467.7 1298.9,464.5 1299.4,465.8 1299.9,465.2 1300.4,466.2 1300.9,468.1 1301.4,464.7 1301.9,467.2 1302.3,465.9 1302.8,465.8 1303.3,465.9 1303.8,468.2 1304.3,465.9 1304.8,468.5 1305.3,466.1 1305.8,467.2 1306.3,464.4 1306.8,467.5 1307.3,466.8 1307.7,466.8 1308.2,469.4 1308.7,467.0 1309.2,466.7 1309.7,467.8 1310.2,466.9" fill="none" stroke="#FF00FF" stroke-width="2.3" stroke-linejoin="round"/>
<polyline points="1324.2,466.1 1324.7,465.9 1325.2,465.7 1325.7,465.1 1326.2,464.9 1326.7,466.8 1327.2,466.0 1327.7,466.4 1328.2,467.0 1328.7,467.0 1329.1,467.7 1329.6,466.1 1330.1,465.1 1330.6,466.8 1331.1,466.9 1331.6,467.4 1332.1,467.9 1332.6,467.6 1333.1,465.9 1333.6,468.3 1334.1,464.0 1334.6,465.0 1335.1,466.0 1335.6,466.8 1336.1,464.8 1336.6,466.3 1337.1,463.3 1337.6,466.0 1338.1,465.1 1338.5,466.7 1339.0,464.2 1339.5,464.9 1340.0,464.8 1340.5,463.2 1341.0,466.4 1341.5,467.6 1342.0,467.6 1342.5,465.9 1343.0,465.3 1343.5,465.3 1344.0,464.1 1344.5,463.2 1345.0,465.4 1345.5,462.8 1346.0,464.9 1346.5,465.4 1347.0,463.0 1347.4,462.7 1347.9,462.8 1348.4,464.9 1348.9,461.7 1349.4,462.8 1349.9,464.2 1350.4,463.0 1350.9,462.7 1351.4,462.9 1351.9,463.4 1352.4,460.4 1352.9,463.1 1353.4,461.8 1353.9,462.3 1354.4,461.8 1354.9,464.1 1355.4,459.3 1355.9,459.9 1356.4,461.8 1356.8,460.2 1357.3,461.5 1357.8,460.5 1358.3,461.6 1358.8,463.4 1359.3,462.1 1359.8,462.1 1360.3,462.2 1360.8,463.9 1361.3,461.6 1361.8,460.6 1362.3,460.8 1362.8,462.4 1363.3,459.2 1363.8,461.7 1364.3,461.0 1364.8,461.8 1365.3,462.6 1365.8,461.4 1366.2,462.9 1366.7,463.2 1367.2,464.3 1367.7,461.7 1368.2,461.3 1368.7,462.2 1369.2,462.7 1369.7,462.6 1370.2,461.4 1370.7,463.2 1371.2,462.8 1371.7,462.4 1372.2,463.1 1372.7,462.6 1373.2,462.3 1373.7,463.7 1374.2,461.0 1374.7,464.4 1375.1,463.7 1375.6,463.4 1376.1,463.9 1376.6,465.4 1377.1,464.1 1377.6,465.4 1378.1,464.5 1378.6,463.7 1379.1,463.6 1379.6,464.6 1380.1,465.3 1380.6,462.1 1381.1,465.0 1381.6,462.6 1382.1,466.0 1382.6,464.8 1383.1,463.1 1383.6,466.3 1384.1,466.8 1384.5,464.1 1385.0,463.3 1385.5,464.3 1386.0,464.9 1386.5,466.1 1387.0,465.0 1387.5,464.4 1388.0,466.0 1388.5,467.6 1389.0,464.2 1389.5,467.1 1390.0,467.3 1390.5,466.2 1391.0,464.3 1391.5,467.3 1392.0,465.6 1392.5,463.3 1393.0,465.2 1393.5,466.0 1393.9,466.7 1394.4,467.7 1394.9,463.9 1395.4,467.4 1395.9,465.5 1396.4,464.4 1396.9,466.4 1397.4,465.9 1397.9,464.3 1398.4,465.4 1398.9,464.1 1399.4,464.1 1399.9,463.7 1400.4,467.3 1400.9,465.1 1401.4,465.4 1401.9,465.7 1402.4,467.6 1402.9,465.6 1403.3,463.8 1403.8,464.2 1404.3,466.2 1404.8,465.4 1405.3,465.4 1405.8,464.2 1406.3,466.1 1406.8,466.0 1407.3,466.9 1407.8,464.1 1408.3,462.7 1408.8,464.5 1409.3,464.2 1409.8,463.9 1410.3,466.3 1410.8,464.0 1411.3,462.8 1411.8,463.4 1412.2,464.9 1412.7,465.5 1413.2,465.3 1413.7,462.9 1414.2,465.1 1414.7,464.1 1415.2,463.8 1415.7,464.4 1416.2,465.0 1416.7,463.2 1417.2,464.6 1417.7,464.0 1418.2,461.9 1418.7,462.3 1419.2,465.8 1419.7,464.3 1420.2,461.7 1420.7,463.7 1421.2,461.3 1421.6,460.7 1422.1,460.5 1422.6,459.3 1423.1,462.9 1423.6,462.1 1424.1,461.3 1424.6,461.0 1425.1,458.9 1425.6,459.1 1426.1,460.4 1426.6,459.5 1427.1,460.1 1427.6,458.6 1428.1,459.4 1428.6,454.8 1429.1,455.7 1429.6,456.7 1430.1,455.9 1430.6,454.2 1431.0,454.7 1431.5,452.5 1432.0,453.3 1432.5,450.0 1433.0,451.5 1433.5,453.2 1434.0,452.4 1434.5,451.2 1435.0,447.7 1435.5,449.7 1436.0,447.5 1436.5,449.9 1437.0,446.8 1437.5,448.2 1438.0,446.9 1438.5,445.7 1439.0,447.0 1439.5,441.7 1439.9,445.7 1440.4,444.5 1440.9,441.3 1441.4,442.0 1441.9,446.0 1442.4,442.1 1442.9,441.2 1443.4,443.7 1443.9,442.4 1444.4,443.4 1444.9,443.4 1445.4,440.4 1445.9,441.5 1446.4,443.9 1446.9,444.6 1447.4,442.3 1447.9,443.3 1448.4,444.3 1448.9,443.9 1449.3,446.2 1449.8,445.8 1450.3,446.2 1450.8,444.1 1451.3,446.1 1451.8,447.8 1452.3,447.9 1452.8,446.0 1453.3,447.4 1453.8,449.0 1454.3,449.3 1454.8,448.3 1455.3,450.1 1455.8,450.5 1456.3,451.6 1456.8,454.3 1457.3,450.9 1457.8,452.3 1458.3,451.5 1458.7,449.0 1459.2,453.9 1459.7,453.1 1460.2,454.7 1460.7,455.6 1461.2,456.1 1461.7,455.9 1462.2,455.8 1462.7,454.0 1463.2,456.1 1463.7,457.7 1464.2,456.0 1464.7,458.8 1465.2,457.0 1465.7,457.9 1466.2,459.2 1466.7,458.2 1467.2,457.6 1467.7,458.5 1468.1,461.9 1468.6,462.0 1469.1,460.2 1469.6,460.6 1470.1,462.3 1470.6,459.7 1471.1,460.2 1471.6,459.4 1472.1,460.8 1472.6,459.1 1473.1,462.3 1473.6,462.0 1474.1,460.8 1474.6,461.3 1475.1,463.8 1475.6,463.0 1476.1,461.3 1476.6,461.9 1477.0,463.1 1477.5,462.6 1478.0,462.4 1478.5,462.5 1479.0,461.7 1479.5,461.4 1480.0,463.2 1480.5,459.2 1481.0,461.7 1481.5,462.2 1482.0,459.5 1482.5,461.8 1483.0,463.1 1483.5,463.1 1484.0,461.8 1484.5,461.5 1485.0,462.5 1485.5,460.2 1486.0,460.0 1486.4,456.4 1486.9,456.4 1487.4,456.7 1487.9,452.7 1488.4,452.3 1488.9,452.5 1489.4,447.5 1489.9,442.8 1490.4,441.5 1490.9,439.1 1491.4,434.8 1491.9,432.1 1492.4,427.1 1492.9,424.2 1493.4,422.1 1493.9,418.3 1494.4,415.6 1494.9,416.7 1495.4,415.8 1495.8,417.3 1496.3,420.2 1496.8,422.0 1497.3,422.7 1497.8,427.0 1498.3,429.2 1498.8,435.5 1499.3,435.6 1499.8,441.8 1500.3,439.9 1500.8,444.6 1501.3,446.3 1501.8,450.6 1502.3,451.8 1502.8,454.9 1503.3,456.3 1503.8,456.2 1504.3,458.1 1504.8,459.1 1505.2,459.8 1505.7,458.6 1506.2,459.6 1506.7,459.0 1507.2,462.2 1507.7,463.0 1508.2,462.3 1508.7,461.9 1509.2,464.9 1509.7,462.4 1510.2,463.8 1510.7,463.0 1511.2,463.3 1511.7,464.2 1512.2,465.0 1512.7,464.4 1513.2,462.8 1513.7,466.5 1514.1,464.1 1514.6,464.6 1515.1,464.8 1515.6,464.3 1516.1,464.1 1516.6,464.7 1517.1,463.1 1517.6,465.2 1518.1,462.1 1518.6,467.4 1519.1,462.9 1519.6,465.5 1520.1,466.6 1520.6,466.3 1521.1,465.8 1521.6,465.0 1522.1,465.3 1522.6,463.6 1523.1,465.5 1523.5,465.7 1524.0,465.8 1524.5,464.7 1525.0,465.3 1525.5,463.5 1526.0,466.2 1526.5,465.9 1527.0,466.1 1527.5,466.5 1528.0,466.1 1528.5,466.7 1529.0,468.5 1529.5,467.9 1530.0,467.2 1530.5,469.1 1531.0,466.9 1531.5,465.0 1532.0,465.5 1532.5,468.0 1532.9,467.9 1533.4,466.7 1533.9,467.0 1534.4,465.3 1534.9,465.8 1535.4,465.7 1535.9,466.4 1536.4,464.9 1536.9,465.8 1537.4,462.7 1537.9,465.1 1538.4,465.8 1538.9,466.3 1539.4,466.7 1539.9,467.3 1540.4,465.8 1540.9,465.3 1541.4,464.0 1541.8,465.6 1542.3,464.8 1542.8,465.6 1543.3,466.3 1543.8,465.3 1544.3,465.3 1544.8,466.3 1545.3,466.4 1545.8,466.2 1546.3,468.7 1546.8,465.7 1547.3,467.9 1547.8,463.1 1548.3,466.3 1548.8,465.7 1549.3,465.6 1549.8,468.3 1550.3,464.1 1550.8,466.9 1551.2,464.6 1551.7,464.3 1552.2,464.9 1552.7,469.8 1553.2,467.5 1553.7,466.7 1554.2,467.7 1554.7,466.1 1555.2,464.0 1555.7,464.5 1556.2,466.6 1556.7,467.5 1557.2,465.1 1557.7,465.1 1558.2,466.5 1558.7,467.2 1559.2,464.1 1559.7,463.9 1560.2,464.5 1560.6,465.1 1561.1,466.7 1561.6,465.8 1562.1,467.6 1562.6,464.1 1563.1,467.6 1563.6,467.2 1564.1,466.5 1564.6,466.4 1565.1,464.3 1565.6,465.1 1566.1,467.2 1566.6,465.8 1567.1,465.8 1567.6,464.2 1568.1,468.3 1568.6,466.9 1569.1,467.6 1569.6,466.0 1570.0,465.0 1570.5,466.5 1571.0,463.3 1571.5,467.5 1572.0,466.0 1572.5,467.1 1573.0,468.1 1573.5,466.8 1574.0,466.2 1574.5,467.2 1575.0,467.1 1575.5,466.3 1576.0,467.2 1576.5,465.0 1577.0,465.5 1577.5,466.2 1578.0,464.9 1578.5,469.2 1578.9,467.5 1579.4,464.6 1579.9,467.4 1580.4,465.0 1580.9,465.7 1581.4,466.1 1581.9,466.5 1582.4,467.8 1582.9,468.3 1583.4,468.6 1583.9,465.7 1584.4,466.3 1584.9,465.9 1585.4,467.8 1585.9,466.3 1586.4,464.9 1586.9,467.3 1587.4,467.0 1587.9,466.8 1588.3,463.6 1588.8,464.8 1589.3,463.8 1589.8,462.8 1590.3,466.7 1590.8,465.9 1591.3,469.5 1591.8,466.2 1592.3,467.0 1592.8,466.3 1593.3,466.2 1593.8,469.2 1594.3,465.9 1594.8,467.0 1595.3,468.1 1595.8,467.2 1596.3,465.4 1596.8,467.3 1597.3,464.6 1597.7,465.8 1598.2,466.5 1598.7,467.7 1599.2,467.6 1599.7,465.0 1600.2,466.5 1600.7,466.2 1601.2,466.2 1601.7,465.4 1602.2,465.5 1602.7,467.0 1603.2,466.1 1603.7,466.8 1604.2,465.8 1604.7,468.5 1605.2,466.8 1605.7,464.8 1606.2,468.2 1606.6,467.4 1607.1,466.3 1607.6,468.2 1608.1,466.5 1608.6,466.2 1609.1,465.5 1609.6,466.3 1610.1,466.2 1610.6,467.1 1611.1,466.2 1611.6,466.2 1612.1,465.9 1612.6,465.6 1613.1,465.6 1613.6,465.6 1614.1,466.2 1614.6,466.4 1615.1,467.2 1615.6,465.7 1616.0,464.9 1616.5,467.2 1617.0,465.7 1617.5,466.7 1618.0,466.8 1618.5,467.9 1619.0,466.9 1619.5,465.7 1620.0,465.9 1620.5,465.4" fill="none" stroke="#FF00FF" stroke-width="2.3" stroke-linejoin="round"/>
<polyline points="1634.3,467.4 1634.8,468.9 1635.2,466.0 1635.7,466.7 1636.2,466.0 1636.7,464.8 1637.1,465.6 1637.6,468.8 1638.1,467.2 1638.5,467.0 1639.0,465.1 1639.5,467.5 1640.0,467.0 1640.4,465.6 1640.9,468.5 1641.4,467.3 1641.8,468.1 1642.3,467.8 1642.8,466.2 1643.3,466.7 1643.7,466.9 1644.2,466.8 1644.7,467.2 1645.1,466.8 1645.6,466.2 1646.1,467.5 1646.6,466.5 1647.0,467.2 1647.5,465.7 1648.0,465.4 1648.4,466.0 1648.9,465.6 1649.4,467.1 1649.8,467.0 1650.3,466.4 1650.8,466.9 1651.3,466.0 1651.7,466.8 1652.2,467.9 1652.7,467.7 1653.1,466.4 1653.6,464.2 1654.1,466.5 1654.6,468.2 1655.0,466.4 1655.5,467.3 1656.0,468.0 1656.4,463.9 1656.9,464.2 1657.4,466.6 1657.9,466.6 1658.3,466.9 1658.8,465.7 1659.3,465.7 1659.7,465.5 1660.2,467.7 1660.7,466.8 1661.2,465.7 1661.6,466.4 1662.1,468.1 1662.6,466.5 1663.0,465.5 1663.5,468.7 1664.0,464.9 1664.5,466.6 1664.9,465.0 1665.4,465.5 1665.9,466.1 1666.3,466.5 1666.8,466.6 1667.3,467.1 1667.8,466.2 1668.2,466.0 1668.7,467.9 1669.2,467.0 1669.6,468.7 1670.1,467.9 1670.6,467.1 1671.1,465.7 1671.5,466.2 1672.0,466.1 1672.5,466.6 1672.9,467.3 1673.4,465.2 1673.9,465.3 1674.4,467.2 1674.8,466.3 1675.3,465.5 1675.8,466.9 1676.2,466.6 1676.7,465.3 1677.2,465.5 1677.6,464.6 1678.1,465.8 1678.6,464.8 1679.1,464.8 1679.5,463.3 1680.0,465.9 1680.5,465.1 1680.9,466.0 1681.4,464.2 1681.9,464.0 1682.4,462.9 1682.8,464.7 1683.3,463.5 1683.8,464.0 1684.2,462.4 1684.7,463.9 1685.2,464.0 1685.7,462.8 1686.1,463.6 1686.6,464.1 1687.1,465.0 1687.5,462.6 1688.0,461.6 1688.5,462.6 1689.0,461.5 1689.4,462.7 1689.9,461.3 1690.4,461.0 1690.8,462.1 1691.3,462.9 1691.8,461.5 1692.3,461.0 1692.7,460.1 1693.2,462.6 1693.7,458.9 1694.1,459.5 1694.6,460.1 1695.1,460.7 1695.6,460.0 1696.0,458.7 1696.5,458.4 1697.0,458.2 1697.4,459.9 1697.9,458.5 1698.4,457.8 1698.9,457.7 1699.3,457.8 1699.8,456.7 1700.3,455.4 1700.7,457.6 1701.2,454.8 1701.7,456.7 1702.2,456.4 1702.6,456.1 1703.1,454.0 1703.6,454.0 1704.0,453.1 1704.5,454.7 1705.0,454.8 1705.4,451.2 1705.9,452.5 1706.4,455.2 1706.9,453.5 1707.3,452.1 1707.8,450.4 1708.3,449.6 1708.7,452.3 1709.2,450.3 1709.7,450.9 1710.2,450.7 1710.6,450.6 1711.1,451.1 1711.6,450.5 1712.0,449.7 1712.5,448.6 1713.0,450.2 1713.5,447.1 1713.9,448.7 1714.4,447.2 1714.9,448.8 1715.3,448.8 1715.8,446.2 1716.3,446.5 1716.8,448.8 1717.2,446.1 1717.7,448.0 1718.2,445.7 1718.6,445.1 1719.1,445.7 1719.6,445.8 1720.1,445.4 1720.5,445.1 1721.0,445.6 1721.5,444.1 1721.9,445.0 1722.4,445.9 1722.9,443.6 1723.4,441.9 1723.8,442.4 1724.3,443.4 1724.8,443.8 1725.2,443.3 1725.7,441.2 1726.2,441.5 1726.7,443.0 1727.1,441.6 1727.6,440.1 1728.1,441.3 1728.5,441.0 1729.0,441.4 1729.5,442.3 1730.0,439.5 1730.4,439.4 1730.9,439.1 1731.4,438.3 1731.8,439.4 1732.3,439.5 1732.8,438.3 1733.2,439.8 1733.7,440.2 1734.2,438.3 1734.7,438.3 1735.1,438.3 1735.6,437.1 1736.1,436.1 1736.5,437.3 1737.0,438.4 1737.5,437.8 1738.0,436.7 1738.4,435.8 1738.9,435.3 1739.4,434.5 1739.8,432.7 1740.3,435.5 1740.8,433.2 1741.3,434.2 1741.7,433.6 1742.2,433.9 1742.7,432.2 1743.1,432.3 1743.6,431.4 1744.1,430.6 1744.6,433.9 1745.0,432.5 1745.5,431.3 1746.0,431.1 1746.4,431.4 1746.9,432.5 1747.4,429.7 1747.9,432.6 1748.3,430.6 1748.8,432.0 1749.3,431.8 1749.7,430.6 1750.2,432.3 1750.7,430.7 1751.2,431.5 1751.6,432.7 1752.1,431.8 1752.6,431.5 1753.0,431.2 1753.5,430.9 1754.0,433.6 1754.5,433.2 1754.9,433.3 1755.4,434.2 1755.9,431.0 1756.3,433.7 1756.8,433.8 1757.3,434.2 1757.8,435.0 1758.2,433.5 1758.7,434.6 1759.2,435.7 1759.6,435.7 1760.1,435.4 1760.6,435.9 1761.1,435.7 1761.5,435.7 1762.0,437.9 1762.5,438.9 1762.9,438.8 1763.4,438.7 1763.9,439.9 1764.3,439.5 1764.8,441.5 1765.3,440.8 1765.8,440.9 1766.2,442.6 1766.7,441.6 1767.2,441.2 1767.6,446.5 1768.1,444.7 1768.6,444.6 1769.1,444.2 1769.5,446.5 1770.0,445.9 1770.5,445.2 1770.9,446.8 1771.4,448.2 1771.9,448.8 1772.4,448.5 1772.8,448.8 1773.3,449.4 1773.8,450.3 1774.2,453.0 1774.7,452.2 1775.2,452.2 1775.7,452.2 1776.1,452.3 1776.6,453.9 1777.1,453.1 1777.5,452.7 1778.0,454.2 1778.5,454.4 1779.0,456.0 1779.4,457.0 1779.9,455.9 1780.4,456.5 1780.8,456.2 1781.3,458.0 1781.8,459.0 1782.3,459.4 1782.7,458.5 1783.2,461.1 1783.7,458.1 1784.1,460.2 1784.6,460.1 1785.1,460.7 1785.6,459.1 1786.0,462.3 1786.5,460.5 1787.0,461.1 1787.4,460.6 1787.9,461.2 1788.4,463.3 1788.9,464.1 1789.3,464.9 1789.8,463.3 1790.3,462.7 1790.7,463.2 1791.2,463.9 1791.7,463.2 1792.1,465.3 1792.6,462.8 1793.1,462.7 1793.6,463.1 1794.0,463.7 1794.5,462.8 1795.0,466.2 1795.4,465.9 1795.9,464.9 1796.4,465.1 1796.9,465.5 1797.3,464.7 1797.8,465.7 1798.3,463.8 1798.7,465.4 1799.2,468.0 1799.7,466.1 1800.2,466.5 1800.6,467.3 1801.1,464.9 1801.6,466.9 1802.0,467.9 1802.5,466.4 1803.0,464.2 1803.5,466.1 1803.9,464.2 1804.4,465.5 1804.9,464.3 1805.3,465.5 1805.8,465.7 1806.3,469.3 1806.8,467.8 1807.2,467.8 1807.7,466.7 1808.2,465.5 1808.6,465.7 1809.1,465.9 1809.6,468.5 1810.1,467.6 1810.5,466.7 1811.0,466.0 1811.5,466.4 1811.9,467.5 1812.4,468.1 1812.9,465.6 1813.4,467.6 1813.8,466.8 1814.3,466.6 1814.8,466.2 1815.2,467.4 1815.7,467.9 1816.2,466.9 1816.7,467.6 1817.1,466.5 1817.6,468.2 1818.1,467.1 1818.5,468.0 1819.0,464.5 1819.5,468.5 1819.9,467.2 1820.4,467.0 1820.9,467.3 1821.4,468.0 1821.8,467.7 1822.3,466.9 1822.8,465.2 1823.2,465.3 1823.7,464.8 1824.2,467.2 1824.7,466.4 1825.1,465.3 1825.6,466.0 1826.1,466.3 1826.5,466.5 1827.0,465.7 1827.5,467.1 1828.0,466.2 1828.4,467.4 1828.9,465.8 1829.4,466.0 1829.8,466.6 1830.3,467.9 1830.8,466.7 1831.3,464.9 1831.7,467.2 1832.2,466.3 1832.7,468.4 1833.1,467.7 1833.6,466.6 1834.1,465.7 1834.6,465.8 1835.0,467.2 1835.5,464.7 1836.0,469.5 1836.4,468.2 1836.9,465.5 1837.4,465.3 1837.9,464.9 1838.3,467.5 1838.8,468.1 1839.3,468.2 1839.7,467.6 1840.2,466.2 1840.7,467.1 1841.2,467.1 1841.6,466.0 1842.1,466.9 1842.6,466.5 1843.0,465.1 1843.5,467.4 1844.0,466.5 1844.5,467.4 1844.9,465.9 1845.4,467.9 1845.9,467.6 1846.3,466.0 1846.8,468.7 1847.3,464.8 1847.7,466.0 1848.2,466.8 1848.7,467.0 1849.2,466.1 1849.6,466.2 1850.1,467.7 1850.6,466.5 1851.0,467.5 1851.5,467.2 1852.0,466.7 1852.5,466.6 1852.9,467.0 1853.4,466.7 1853.9,467.1 1854.3,467.0 1854.8,465.0 1855.3,465.2 1855.8,467.6 1856.2,468.9 1856.7,465.8 1857.2,464.7 1857.6,466.9 1858.1,466.2 1858.6,466.6 1859.1,466.3 1859.5,467.1 1860.0,466.6" fill="none" stroke="#FF00FF" stroke-width="2.3" stroke-linejoin="round"/>
<text transform="translate(1965.7,477.2) scale(1.012,1.065)" font-size="26.7" text-anchor="end">−0.65 V</text>
<polyline points="1084.9,517.4 1085.4,517.4 1085.9,516.7 1086.4,519.1 1086.9,515.4 1087.4,516.8 1087.8,516.7 1088.3,518.0 1088.8,520.0 1089.3,517.2 1089.8,517.7 1090.3,520.6 1090.8,515.3 1091.3,514.8 1091.8,517.4 1092.3,516.3 1092.8,514.8 1093.2,516.1 1093.7,521.3 1094.2,515.2 1094.7,519.8 1095.2,517.7 1095.7,514.7 1096.2,518.2 1096.7,519.3 1097.2,517.2 1097.7,517.5 1098.2,520.2 1098.6,514.9 1099.1,517.1 1099.6,517.3 1100.1,517.0 1100.6,516.9 1101.1,515.1 1101.6,517.4 1102.1,518.0 1102.6,516.4 1103.1,516.7 1103.6,516.1 1104.0,518.4 1104.5,516.4 1105.0,516.2 1105.5,518.6 1106.0,516.3 1106.5,517.1 1107.0,515.0 1107.5,514.6 1108.0,516.6 1108.5,518.7 1109.0,517.1 1109.4,518.4 1109.9,518.2 1110.4,515.2 1110.9,516.2 1111.4,517.5 1111.9,518.6 1112.4,516.7 1112.9,515.0 1113.4,516.1 1113.9,516.7 1114.4,516.6 1114.8,514.9 1115.3,515.7 1115.8,516.6 1116.3,520.0 1116.8,515.8 1117.3,516.5 1117.8,516.9 1118.3,515.1 1118.8,517.9 1119.3,516.3 1119.8,516.5 1120.2,518.8 1120.7,516.9 1121.2,516.4 1121.7,514.9 1122.2,515.7 1122.7,516.4 1123.2,515.2 1123.7,519.4 1124.2,516.9 1124.7,517.3 1125.1,515.4 1125.6,513.5 1126.1,514.9 1126.6,514.4 1127.1,514.6 1127.6,513.3 1128.1,517.2 1128.6,514.8 1129.1,516.7 1129.6,516.0 1130.1,514.1 1130.5,513.8 1131.0,515.1 1131.5,513.2 1132.0,514.7 1132.5,514.7 1133.0,514.4 1133.5,514.2 1134.0,512.4 1134.5,512.4 1135.0,514.4 1135.5,514.0 1135.9,514.2 1136.4,512.6 1136.9,512.7 1137.4,512.4 1137.9,514.5 1138.4,512.3 1138.9,513.5 1139.4,514.0 1139.9,512.2 1140.4,512.6 1140.9,511.3 1141.3,511.1 1141.8,511.7 1142.3,510.8 1142.8,511.0 1143.3,511.4 1143.8,512.3 1144.3,509.6 1144.8,509.6 1145.3,509.3 1145.8,512.1 1146.3,512.0 1146.7,510.2 1147.2,509.2 1147.7,510.3 1148.2,508.7 1148.7,511.7 1149.2,509.4 1149.7,513.0 1150.2,511.4 1150.7,511.7 1151.2,509.3 1151.7,511.1 1152.1,510.2 1152.6,509.0 1153.1,511.2 1153.6,509.0 1154.1,511.8 1154.6,508.6 1155.1,512.0 1155.6,512.3 1156.1,510.1 1156.6,508.8 1157.1,513.5 1157.5,509.6 1158.0,509.5 1158.5,510.8 1159.0,513.4 1159.5,513.0 1160.0,511.0 1160.5,515.0 1161.0,510.4 1161.5,509.6 1162.0,514.2 1162.5,514.1 1162.9,511.6 1163.4,513.8 1163.9,511.9 1164.4,513.7 1164.9,514.0 1165.4,513.6 1165.9,512.6 1166.4,512.8 1166.9,513.9 1167.4,512.0 1167.9,511.9 1168.3,513.1 1168.8,516.4 1169.3,515.5 1169.8,515.0 1170.3,514.1 1170.8,513.0 1171.3,515.9 1171.8,513.3 1172.3,517.0 1172.8,514.9 1173.3,516.1 1173.7,515.9 1174.2,513.9 1174.7,516.3 1175.2,515.7 1175.7,513.4 1176.2,515.6 1176.7,518.1 1177.2,517.7 1177.7,516.9 1178.2,515.9 1178.7,515.9 1179.1,518.8 1179.6,518.1 1180.1,518.3 1180.6,516.5 1181.1,516.0 1181.6,516.9 1182.1,515.9 1182.6,516.9 1183.1,516.5 1183.6,514.6 1184.1,515.6 1184.5,517.5 1185.0,517.2 1185.5,515.1 1186.0,516.8 1186.5,517.8 1187.0,516.2 1187.5,518.7 1188.0,516.5 1188.5,517.6 1189.0,516.4 1189.5,513.6 1189.9,516.5 1190.4,518.4 1190.9,519.4 1191.4,516.7 1191.9,517.3 1192.4,518.8 1192.9,517.7 1193.4,516.9 1193.9,518.5 1194.4,517.1 1194.9,516.2 1195.3,517.9 1195.8,515.0 1196.3,518.2 1196.8,518.5 1197.3,515.3 1197.8,517.5 1198.3,517.9 1198.8,518.2 1199.3,516.2 1199.8,517.8 1200.2,517.6 1200.7,519.5 1201.2,518.9 1201.7,517.4 1202.2,518.9 1202.7,517.6 1203.2,515.3 1203.7,516.7 1204.2,515.2 1204.7,518.2 1205.2,515.9 1205.6,517.4 1206.1,515.6 1206.6,518.3 1207.1,516.5 1207.6,515.3 1208.1,516.3 1208.6,516.2 1209.1,516.9 1209.6,520.0 1210.1,517.7 1210.6,517.4 1211.0,514.9 1211.5,515.9 1212.0,517.3 1212.5,514.2 1213.0,514.6 1213.5,517.1 1214.0,512.1 1214.5,512.5 1215.0,507.8 1215.5,509.0 1216.0,511.3 1216.4,505.6 1216.9,505.3 1217.4,504.9 1217.9,503.0 1218.4,502.5 1218.9,504.3 1219.4,505.7 1219.9,504.3 1220.4,505.6 1220.9,508.9 1221.4,506.3 1221.8,509.6 1222.3,507.5 1222.8,509.0 1223.3,512.2 1223.8,511.5 1224.3,514.9 1224.8,513.6 1225.3,517.1 1225.8,516.4 1226.3,515.2 1226.8,514.5 1227.2,514.3 1227.7,514.1 1228.2,514.4 1228.7,516.7 1229.2,516.3 1229.7,517.1 1230.2,516.2 1230.7,519.0 1231.2,517.6 1231.7,514.4 1232.2,516.2 1232.6,517.5 1233.1,515.5 1233.6,516.2 1234.1,516.7 1234.6,517.2 1235.1,518.1 1235.6,516.7 1236.1,516.5 1236.6,516.7 1237.1,514.5 1237.6,516.7 1238.0,516.3 1238.5,514.9 1239.0,515.5 1239.5,519.8 1240.0,516.9 1240.5,518.3 1241.0,517.9 1241.5,515.4 1242.0,514.5 1242.5,516.2 1243.0,520.3 1243.4,517.6 1243.9,517.3 1244.4,517.6 1244.9,514.5 1245.4,516.2 1245.9,515.9 1246.4,516.8 1246.9,515.6 1247.4,517.1 1247.9,518.8 1248.4,516.9 1248.8,517.9 1249.3,519.2 1249.8,519.8 1250.3,517.8 1250.8,517.3 1251.3,514.2 1251.8,517.9 1252.3,518.0 1252.8,517.1 1253.3,515.8 1253.8,518.8 1254.2,517.3 1254.7,515.1 1255.2,514.5 1255.7,518.1 1256.2,519.5 1256.7,517.2 1257.2,517.3 1257.7,515.4 1258.2,515.7 1258.7,516.9 1259.2,518.2 1259.6,516.5 1260.1,518.3 1260.6,518.4 1261.1,517.1 1261.6,514.1 1262.1,514.4 1262.6,514.8 1263.1,519.4 1263.6,516.1 1264.1,518.1 1264.6,516.3 1265.0,515.7 1265.5,516.0 1266.0,518.0 1266.5,518.5 1267.0,515.9 1267.5,515.1 1268.0,518.1 1268.5,518.3 1269.0,517.2 1269.5,517.8 1270.0,515.6 1270.4,515.4 1270.9,515.8 1271.4,517.9 1271.9,518.3 1272.4,517.5 1272.9,516.8 1273.4,515.7 1273.9,516.4 1274.4,517.5 1274.9,516.1 1275.3,515.8 1275.8,517.2 1276.3,518.4 1276.8,516.3 1277.3,515.5 1277.8,515.9 1278.3,518.5 1278.8,516.3 1279.3,516.8 1279.8,517.3 1280.3,517.2 1280.7,517.7 1281.2,517.9 1281.7,516.5 1282.2,517.0 1282.7,516.8 1283.2,518.6 1283.7,516.6 1284.2,514.6 1284.7,518.5 1285.2,516.8 1285.7,517.0 1286.1,516.5 1286.6,515.9 1287.1,517.8 1287.6,515.6 1288.1,516.0 1288.6,517.4 1289.1,516.0 1289.6,515.1 1290.1,514.8 1290.6,517.2 1291.1,515.7 1291.5,516.9 1292.0,518.0 1292.5,513.4 1293.0,515.3 1293.5,515.7 1294.0,517.2 1294.5,516.5 1295.0,517.5 1295.5,514.0 1296.0,517.6 1296.5,516.7 1296.9,515.5 1297.4,517.0 1297.9,515.5 1298.4,516.4 1298.9,516.9 1299.4,516.8 1299.9,519.8 1300.4,515.5 1300.9,516.0 1301.4,516.3 1301.9,516.6 1302.3,518.4 1302.8,516.8 1303.3,518.2 1303.8,517.7 1304.3,518.6 1304.8,517.4 1305.3,515.4 1305.8,516.3 1306.3,518.3 1306.8,518.2 1307.3,515.3 1307.7,517.3 1308.2,515.7 1308.7,514.5 1309.2,515.4 1309.7,518.5 1310.2,520.2" fill="none" stroke="#0000FF" stroke-width="2.3" stroke-linejoin="round"/>
<polyline points="1324.2,514.7 1324.7,518.5 1325.2,518.6 1325.7,517.4 1326.2,517.2 1326.7,515.9 1327.2,517.6 1327.7,517.8 1328.2,515.6 1328.7,517.9 1329.1,513.1 1329.6,518.4 1330.1,516.5 1330.6,515.0 1331.1,516.5 1331.6,518.6 1332.1,516.5 1332.6,515.0 1333.1,517.3 1333.6,518.4 1334.1,516.3 1334.6,519.0 1335.1,515.5 1335.6,515.1 1336.1,515.8 1336.6,517.4 1337.1,514.4 1337.6,514.0 1338.1,514.1 1338.5,516.1 1339.0,514.8 1339.5,516.3 1340.0,513.6 1340.5,515.7 1341.0,516.6 1341.5,515.2 1342.0,514.0 1342.5,514.7 1343.0,514.7 1343.5,515.6 1344.0,514.0 1344.5,514.1 1345.0,513.7 1345.5,513.9 1346.0,513.6 1346.5,514.4 1347.0,510.7 1347.4,515.1 1347.9,512.4 1348.4,511.0 1348.9,514.6 1349.4,514.4 1349.9,511.0 1350.4,508.4 1350.9,510.2 1351.4,511.9 1351.9,512.0 1352.4,511.8 1352.9,512.6 1353.4,511.6 1353.9,509.4 1354.4,510.8 1354.9,509.8 1355.4,509.0 1355.9,510.8 1356.4,510.3 1356.8,509.5 1357.3,510.7 1357.8,509.4 1358.3,508.6 1358.8,509.3 1359.3,511.5 1359.8,508.9 1360.3,509.5 1360.8,509.2 1361.3,510.7 1361.8,509.1 1362.3,509.4 1362.8,510.0 1363.3,510.3 1363.8,509.6 1364.3,511.9 1364.8,509.2 1365.3,510.3 1365.8,508.4 1366.2,512.2 1366.7,510.6 1367.2,509.7 1367.7,509.9 1368.2,510.9 1368.7,509.3 1369.2,511.3 1369.7,510.2 1370.2,511.1 1370.7,511.5 1371.2,512.4 1371.7,512.4 1372.2,512.5 1372.7,511.5 1373.2,512.9 1373.7,513.6 1374.2,511.7 1374.7,512.5 1375.1,512.1 1375.6,512.9 1376.1,511.0 1376.6,512.4 1377.1,513.1 1377.6,513.1 1378.1,512.6 1378.6,513.8 1379.1,513.2 1379.6,514.5 1380.1,512.4 1380.6,514.8 1381.1,518.9 1381.6,513.9 1382.1,515.3 1382.6,515.2 1383.1,514.2 1383.6,518.8 1384.1,517.6 1384.5,515.6 1385.0,517.2 1385.5,514.7 1386.0,514.9 1386.5,516.2 1387.0,514.6 1387.5,518.3 1388.0,515.9 1388.5,514.7 1389.0,514.1 1389.5,515.2 1390.0,514.0 1390.5,515.4 1391.0,516.2 1391.5,515.6 1392.0,512.9 1392.5,513.2 1393.0,515.5 1393.5,515.4 1393.9,515.4 1394.4,517.9 1394.9,516.7 1395.4,515.9 1395.9,517.0 1396.4,516.3 1396.9,517.6 1397.4,516.2 1397.9,514.8 1398.4,516.0 1398.9,515.0 1399.4,516.2 1399.9,517.0 1400.4,515.8 1400.9,518.3 1401.4,516.9 1401.9,516.4 1402.4,516.6 1402.9,515.4 1403.3,516.9 1403.8,514.7 1404.3,514.8 1404.8,515.6 1405.3,516.6 1405.8,517.2 1406.3,514.9 1406.8,516.0 1407.3,512.2 1407.8,514.5 1408.3,513.8 1408.8,516.7 1409.3,515.6 1409.8,516.1 1410.3,518.5 1410.8,515.0 1411.3,515.8 1411.8,515.6 1412.2,514.7 1412.7,513.8 1413.2,514.3 1413.7,512.7 1414.2,515.7 1414.7,513.7 1415.2,515.7 1415.7,514.9 1416.2,513.1 1416.7,513.7 1417.2,513.9 1417.7,513.8 1418.2,513.1 1418.7,512.2 1419.2,512.9 1419.7,514.1 1420.2,512.3 1420.7,513.2 1421.2,512.6 1421.6,512.6 1422.1,511.3 1422.6,512.0 1423.1,512.5 1423.6,513.6 1424.1,513.2 1424.6,510.8 1425.1,511.7 1425.6,509.5 1426.1,510.2 1426.6,509.5 1427.1,509.5 1427.6,505.8 1428.1,507.4 1428.6,507.6 1429.1,506.9 1429.6,510.4 1430.1,508.0 1430.6,504.8 1431.0,504.2 1431.5,506.3 1432.0,507.5 1432.5,506.0 1433.0,503.1 1433.5,503.4 1434.0,501.2 1434.5,502.3 1435.0,501.1 1435.5,500.2 1436.0,500.4 1436.5,500.3 1437.0,499.9 1437.5,498.8 1438.0,498.0 1438.5,496.3 1439.0,497.0 1439.5,497.3 1439.9,497.6 1440.4,496.8 1440.9,494.9 1441.4,495.0 1441.9,493.1 1442.4,494.8 1442.9,495.1 1443.4,492.6 1443.9,493.2 1444.4,492.9 1444.9,496.1 1445.4,494.7 1445.9,494.4 1446.4,494.6 1446.9,498.1 1447.4,495.2 1447.9,495.6 1448.4,494.4 1448.9,496.4 1449.3,496.3 1449.8,497.0 1450.3,498.5 1450.8,496.7 1451.3,495.5 1451.8,499.6 1452.3,496.8 1452.8,497.0 1453.3,501.4 1453.8,501.7 1454.3,501.5 1454.8,502.1 1455.3,502.3 1455.8,503.2 1456.3,502.7 1456.8,502.1 1457.3,502.1 1457.8,503.8 1458.3,505.3 1458.7,503.7 1459.2,504.0 1459.7,506.2 1460.2,505.1 1460.7,507.4 1461.2,507.3 1461.7,506.6 1462.2,507.5 1462.7,506.1 1463.2,508.0 1463.7,507.8 1464.2,507.0 1464.7,510.8 1465.2,508.3 1465.7,507.9 1466.2,509.9 1466.7,508.5 1467.2,511.6 1467.7,511.6 1468.1,512.4 1468.6,508.8 1469.1,512.2 1469.6,510.6 1470.1,513.7 1470.6,510.5 1471.1,513.6 1471.6,513.0 1472.1,515.6 1472.6,514.0 1473.1,511.3 1473.6,514.5 1474.1,510.7 1474.6,510.0 1475.1,513.2 1475.6,514.9 1476.1,513.7 1476.6,512.9 1477.0,516.0 1477.5,514.2 1478.0,513.2 1478.5,512.9 1479.0,516.0 1479.5,513.6 1480.0,513.5 1480.5,512.1 1481.0,513.2 1481.5,512.2 1482.0,512.9 1482.5,514.7 1483.0,509.9 1483.5,512.6 1484.0,513.1 1484.5,513.8 1485.0,511.1 1485.5,513.0 1486.0,512.1 1486.4,512.4 1486.9,512.6 1487.4,514.1 1487.9,512.3 1488.4,508.7 1488.9,510.0 1489.4,510.3 1489.9,509.6 1490.4,508.3 1490.9,506.2 1491.4,504.2 1491.9,500.1 1492.4,499.4 1492.9,495.2 1493.4,497.0 1493.9,492.3 1494.4,491.7 1494.9,489.2 1495.4,483.4 1495.8,483.6 1496.3,479.1 1496.8,479.0 1497.3,475.6 1497.8,475.5 1498.3,479.9 1498.8,477.9 1499.3,480.6 1499.8,481.9 1500.3,485.5 1500.8,485.6 1501.3,488.4 1501.8,492.3 1502.3,496.7 1502.8,500.1 1503.3,497.8 1503.8,500.9 1504.3,504.9 1504.8,505.9 1505.2,502.7 1505.7,509.0 1506.2,508.2 1506.7,507.9 1507.2,507.4 1507.7,510.8 1508.2,511.2 1508.7,513.9 1509.2,512.2 1509.7,513.2 1510.2,515.0 1510.7,515.3 1511.2,512.3 1511.7,512.8 1512.2,510.8 1512.7,515.0 1513.2,517.4 1513.7,512.0 1514.1,514.0 1514.6,512.6 1515.1,516.0 1515.6,515.6 1516.1,513.1 1516.6,516.3 1517.1,515.4 1517.6,515.4 1518.1,514.2 1518.6,514.1 1519.1,516.6 1519.6,514.3 1520.1,515.9 1520.6,515.8 1521.1,515.5 1521.6,514.4 1522.1,515.9 1522.6,515.1 1523.1,516.8 1523.5,517.7 1524.0,517.3 1524.5,515.5 1525.0,515.8 1525.5,515.7 1526.0,517.7 1526.5,517.0 1527.0,515.9 1527.5,515.1 1528.0,515.4 1528.5,516.5 1529.0,517.0 1529.5,518.1 1530.0,516.8 1530.5,514.6 1531.0,516.5 1531.5,516.9 1532.0,515.8 1532.5,512.5 1532.9,516.8 1533.4,517.5 1533.9,518.5 1534.4,519.0 1534.9,515.7 1535.4,515.9 1535.9,517.1 1536.4,515.8 1536.9,515.6 1537.4,517.4 1537.9,516.0 1538.4,515.2 1538.9,518.4 1539.4,516.6 1539.9,516.3 1540.4,518.8 1540.9,513.2 1541.4,515.0 1541.8,513.9 1542.3,518.4 1542.8,516.5 1543.3,514.9 1543.8,517.1 1544.3,513.7 1544.8,517.9 1545.3,516.5 1545.8,517.0 1546.3,518.7 1546.8,516.8 1547.3,516.5 1547.8,518.0 1548.3,517.2 1548.8,515.2 1549.3,515.4 1549.8,515.9 1550.3,515.6 1550.8,514.8 1551.2,516.8 1551.7,517.5 1552.2,516.4 1552.7,516.4 1553.2,517.4 1553.7,516.3 1554.2,516.2 1554.7,515.2 1555.2,517.8 1555.7,514.9 1556.2,516.8 1556.7,518.5 1557.2,515.1 1557.7,515.9 1558.2,516.4 1558.7,518.1 1559.2,515.5 1559.7,518.0 1560.2,518.1 1560.6,516.7 1561.1,515.4 1561.6,516.6 1562.1,516.5 1562.6,517.9 1563.1,515.4 1563.6,517.1 1564.1,515.8 1564.6,512.9 1565.1,516.4 1565.6,518.1 1566.1,518.6 1566.6,518.0 1567.1,518.0 1567.6,516.3 1568.1,514.9 1568.6,516.7 1569.1,517.1 1569.6,515.9 1570.0,517.8 1570.5,517.0 1571.0,515.5 1571.5,515.1 1572.0,517.2 1572.5,517.2 1573.0,517.4 1573.5,516.3 1574.0,514.7 1574.5,516.6 1575.0,518.3 1575.5,515.3 1576.0,515.3 1576.5,515.2 1577.0,515.6 1577.5,517.2 1578.0,518.1 1578.5,516.0 1578.9,517.1 1579.4,516.6 1579.9,515.0 1580.4,519.2 1580.9,519.0 1581.4,518.7 1581.9,517.7 1582.4,516.9 1582.9,516.3 1583.4,517.9 1583.9,515.2 1584.4,517.2 1584.9,515.8 1585.4,514.6 1585.9,515.3 1586.4,517.2 1586.9,516.9 1587.4,516.1 1587.9,515.7 1588.3,518.3 1588.8,518.3 1589.3,517.6 1589.8,515.3 1590.3,516.5 1590.8,516.9 1591.3,518.7 1591.8,518.7 1592.3,516.3 1592.8,518.2 1593.3,515.5 1593.8,518.0 1594.3,516.6 1594.8,515.8 1595.3,516.1 1595.8,516.8 1596.3,513.9 1596.8,516.9 1597.3,516.2 1597.7,517.3 1598.2,515.4 1598.7,515.2 1599.2,515.2 1599.7,516.4 1600.2,515.5 1600.7,518.2 1601.2,517.3 1601.7,515.9 1602.2,519.8 1602.7,519.0 1603.2,515.9 1603.7,516.6 1604.2,517.2 1604.7,517.1 1605.2,514.8 1605.7,516.2 1606.2,517.3 1606.6,518.8 1607.1,516.7 1607.6,518.4 1608.1,517.1 1608.6,517.9 1609.1,515.1 1609.6,517.8 1610.1,516.9 1610.6,514.9 1611.1,519.8 1611.6,517.5 1612.1,519.0 1612.6,514.7 1613.1,516.3 1613.6,516.9 1614.1,516.6 1614.6,515.8 1615.1,516.1 1615.6,516.7 1616.0,515.5 1616.5,516.3 1617.0,514.2 1617.5,518.3 1618.0,517.3 1618.5,515.8 1619.0,515.7 1619.5,517.5 1620.0,515.0 1620.5,515.5" fill="none" stroke="#0000FF" stroke-width="2.3" stroke-linejoin="round"/>
<polyline points="1634.3,515.2 1634.8,517.2 1635.2,515.7 1635.7,517.0 1636.2,516.6 1636.7,516.2 1637.1,517.4 1637.6,517.3 1638.1,515.1 1638.5,517.9 1639.0,516.4 1639.5,515.6 1640.0,515.4 1640.4,517.1 1640.9,518.0 1641.4,515.8 1641.8,517.5 1642.3,517.0 1642.8,517.7 1643.3,518.4 1643.7,517.6 1644.2,517.2 1644.7,518.8 1645.1,515.5 1645.6,517.3 1646.1,515.3 1646.6,515.8 1647.0,517.6 1647.5,517.0 1648.0,517.4 1648.4,517.0 1648.9,516.9 1649.4,516.6 1649.8,516.5 1650.3,516.8 1650.8,517.6 1651.3,518.6 1651.7,516.8 1652.2,517.2 1652.7,516.3 1653.1,517.6 1653.6,516.7 1654.1,518.0 1654.6,516.6 1655.0,517.2 1655.5,516.5 1656.0,514.3 1656.4,516.1 1656.9,517.1 1657.4,516.6 1657.9,516.9 1658.3,517.0 1658.8,516.9 1659.3,516.9 1659.7,516.9 1660.2,515.9 1660.7,515.9 1661.2,515.1 1661.6,516.4 1662.1,516.4 1662.6,514.4 1663.0,518.3 1663.5,516.6 1664.0,516.3 1664.5,516.2 1664.9,517.5 1665.4,517.2 1665.9,518.2 1666.3,517.3 1666.8,518.7 1667.3,515.9 1667.8,516.9 1668.2,517.7 1668.7,515.2 1669.2,516.6 1669.6,517.6 1670.1,516.1 1670.6,517.1 1671.1,518.5 1671.5,516.4 1672.0,514.9 1672.5,518.2 1672.9,516.8 1673.4,515.6 1673.9,516.0 1674.4,515.3 1674.8,516.4 1675.3,514.8 1675.8,516.0 1676.2,516.1 1676.7,515.5 1677.2,516.1 1677.6,516.1 1678.1,516.2 1678.6,516.4 1679.1,516.3 1679.5,516.8 1680.0,514.8 1680.5,514.9 1680.9,517.1 1681.4,515.5 1681.9,514.9 1682.4,515.8 1682.8,514.2 1683.3,515.1 1683.8,514.4 1684.2,515.2 1684.7,513.9 1685.2,513.8 1685.7,511.5 1686.1,512.1 1686.6,513.3 1687.1,513.2 1687.5,513.0 1688.0,512.7 1688.5,514.9 1689.0,512.6 1689.4,511.7 1689.9,512.1 1690.4,513.1 1690.8,513.2 1691.3,513.3 1691.8,509.6 1692.3,510.3 1692.7,509.4 1693.2,510.8 1693.7,511.0 1694.1,511.6 1694.6,509.4 1695.1,510.9 1695.6,510.0 1696.0,507.8 1696.5,507.2 1697.0,508.6 1697.4,507.2 1697.9,507.7 1698.4,507.0 1698.9,508.5 1699.3,506.6 1699.8,506.4 1700.3,505.9 1700.7,505.7 1701.2,505.6 1701.7,504.9 1702.2,505.9 1702.6,504.5 1703.1,505.4 1703.6,504.1 1704.0,504.4 1704.5,504.3 1705.0,503.9 1705.4,503.6 1705.9,501.9 1706.4,503.1 1706.9,501.8 1707.3,501.3 1707.8,499.3 1708.3,500.3 1708.7,501.9 1709.2,501.9 1709.7,500.3 1710.2,499.7 1710.6,500.5 1711.1,498.6 1711.6,501.2 1712.0,501.1 1712.5,499.6 1713.0,497.9 1713.5,497.4 1713.9,498.0 1714.4,496.3 1714.9,497.1 1715.3,497.5 1715.8,495.5 1716.3,496.5 1716.8,497.4 1717.2,496.0 1717.7,497.2 1718.2,494.8 1718.6,495.9 1719.1,497.2 1719.6,493.9 1720.1,494.6 1720.5,495.3 1721.0,494.4 1721.5,493.6 1721.9,494.1 1722.4,493.6 1722.9,492.6 1723.4,493.8 1723.8,493.2 1724.3,491.1 1724.8,493.0 1725.2,493.2 1725.7,492.2 1726.2,491.0 1726.7,492.6 1727.1,491.8 1727.6,491.9 1728.1,489.3 1728.5,489.5 1729.0,490.2 1729.5,489.1 1730.0,491.4 1730.4,490.5 1730.9,489.2 1731.4,487.9 1731.8,490.4 1732.3,488.3 1732.8,488.7 1733.2,488.4 1733.7,487.7 1734.2,488.7 1734.7,485.9 1735.1,487.6 1735.6,486.4 1736.1,487.6 1736.5,486.9 1737.0,487.7 1737.5,484.2 1738.0,482.7 1738.4,485.1 1738.9,484.5 1739.4,482.6 1739.8,485.0 1740.3,483.9 1740.8,484.6 1741.3,482.8 1741.7,483.0 1742.2,482.1 1742.7,482.0 1743.1,483.9 1743.6,483.3 1744.1,482.3 1744.6,481.8 1745.0,482.3 1745.5,481.5 1746.0,481.2 1746.4,482.3 1746.9,481.8 1747.4,482.2 1747.9,482.9 1748.3,480.6 1748.8,479.8 1749.3,481.8 1749.7,479.9 1750.2,480.1 1750.7,482.3 1751.2,482.2 1751.6,482.5 1752.1,481.1 1752.6,480.8 1753.0,482.8 1753.5,484.0 1754.0,482.6 1754.5,481.6 1754.9,482.7 1755.4,483.3 1755.9,485.3 1756.3,483.3 1756.8,484.5 1757.3,484.5 1757.8,484.7 1758.2,485.6 1758.7,486.5 1759.2,485.8 1759.6,485.8 1760.1,485.0 1760.6,487.4 1761.1,488.6 1761.5,486.1 1762.0,487.4 1762.5,489.7 1762.9,489.7 1763.4,489.8 1763.9,489.0 1764.3,490.9 1764.8,490.0 1765.3,491.7 1765.8,493.2 1766.2,492.8 1766.7,495.2 1767.2,494.7 1767.6,494.0 1768.1,496.0 1768.6,496.0 1769.1,497.5 1769.5,496.8 1770.0,499.0 1770.5,498.2 1770.9,497.7 1771.4,499.5 1771.9,498.6 1772.4,499.6 1772.8,499.9 1773.3,501.8 1773.8,501.6 1774.2,503.1 1774.7,503.3 1775.2,503.6 1775.7,503.0 1776.1,502.4 1776.6,505.8 1777.1,503.4 1777.5,507.7 1778.0,507.9 1778.5,504.5 1779.0,505.5 1779.4,506.9 1779.9,507.3 1780.4,507.9 1780.8,510.5 1781.3,507.9 1781.8,509.5 1782.3,511.5 1782.7,509.2 1783.2,509.3 1783.7,509.0 1784.1,509.6 1784.6,511.2 1785.1,510.5 1785.6,511.5 1786.0,511.6 1786.5,510.2 1787.0,512.6 1787.4,515.0 1787.9,513.2 1788.4,514.5 1788.9,514.2 1789.3,511.9 1789.8,513.1 1790.3,514.5 1790.7,514.1 1791.2,513.1 1791.7,514.1 1792.1,512.7 1792.6,515.6 1793.1,514.5 1793.6,514.7 1794.0,515.9 1794.5,514.8 1795.0,514.5 1795.4,514.1 1795.9,517.4 1796.4,515.4 1796.9,515.0 1797.3,514.5 1797.8,515.4 1798.3,515.8 1798.7,516.6 1799.2,514.5 1799.7,516.1 1800.2,514.6 1800.6,516.1 1801.1,515.9 1801.6,517.1 1802.0,517.7 1802.5,516.1 1803.0,516.6 1803.5,515.1 1803.9,517.9 1804.4,517.8 1804.9,515.5 1805.3,517.5 1805.8,517.7 1806.3,518.8 1806.8,517.6 1807.2,516.1 1807.7,515.8 1808.2,518.7 1808.6,516.5 1809.1,517.8 1809.6,517.6 1810.1,516.3 1810.5,517.1 1811.0,516.6 1811.5,516.3 1811.9,516.3 1812.4,516.6 1812.9,516.1 1813.4,517.4 1813.8,517.9 1814.3,517.8 1814.8,516.9 1815.2,517.8 1815.7,516.8 1816.2,517.1 1816.7,515.5 1817.1,517.9 1817.6,515.8 1818.1,516.3 1818.5,514.7 1819.0,517.6 1819.5,516.4 1819.9,517.5 1820.4,517.3 1820.9,516.7 1821.4,516.0 1821.8,515.5 1822.3,517.3 1822.8,517.7 1823.2,516.8 1823.7,515.8 1824.2,516.4 1824.7,516.3 1825.1,516.0 1825.6,516.9 1826.1,516.3 1826.5,514.9 1827.0,516.4 1827.5,517.6 1828.0,517.3 1828.4,517.2 1828.9,516.6 1829.4,516.3 1829.8,518.5 1830.3,517.7 1830.8,517.3 1831.3,518.0 1831.7,519.0 1832.2,518.2 1832.7,515.9 1833.1,518.3 1833.6,515.4 1834.1,516.9 1834.6,516.8 1835.0,515.1 1835.5,515.0 1836.0,518.2 1836.4,516.0 1836.9,516.4 1837.4,517.7 1837.9,517.3 1838.3,517.9 1838.8,515.3 1839.3,514.3 1839.7,518.4 1840.2,517.8 1840.7,517.1 1841.2,517.9 1841.6,515.9 1842.1,516.7 1842.6,517.2 1843.0,518.7 1843.5,518.6 1844.0,517.0 1844.5,518.9 1844.9,516.2 1845.4,517.5 1845.9,516.0 1846.3,516.7 1846.8,516.4 1847.3,516.6 1847.7,517.6 1848.2,517.6 1848.7,517.4 1849.2,516.8 1849.6,516.2 1850.1,517.2 1850.6,515.6 1851.0,517.4 1851.5,518.1 1852.0,517.7 1852.5,517.6 1852.9,515.5 1853.4,516.1 1853.9,516.6 1854.3,517.0 1854.8,516.7 1855.3,518.2 1855.8,514.5 1856.2,516.4 1856.7,515.9 1857.2,515.8 1857.6,517.0 1858.1,517.1 1858.6,517.9 1859.1,517.0 1859.5,517.1 1860.0,518.8" fill="none" stroke="#0000FF" stroke-width="2.3" stroke-linejoin="round"/>
<text transform="translate(1965.7,527.6) scale(1.012,1.065)" font-size="26.7" text-anchor="end">−0.75 V</text>
<polyline points="1084.9,567.1 1085.4,569.2 1085.9,567.7 1086.4,564.1 1086.9,565.0 1087.4,569.6 1087.8,567.2 1088.3,566.9 1088.8,565.2 1089.3,564.5 1089.8,567.4 1090.3,568.2 1090.8,566.9 1091.3,566.7 1091.8,570.1 1092.3,567.0 1092.8,568.0 1093.2,565.0 1093.7,566.6 1094.2,567.1 1094.7,566.2 1095.2,567.7 1095.7,567.2 1096.2,567.0 1096.7,570.1 1097.2,566.2 1097.7,566.0 1098.2,566.4 1098.6,565.8 1099.1,569.1 1099.6,567.1 1100.1,567.7 1100.6,567.8 1101.1,569.2 1101.6,568.8 1102.1,567.6 1102.6,569.0 1103.1,568.0 1103.6,569.2 1104.0,566.8 1104.5,564.5 1105.0,566.9 1105.5,567.6 1106.0,569.5 1106.5,568.5 1107.0,566.5 1107.5,567.2 1108.0,567.8 1108.5,570.2 1109.0,569.1 1109.4,566.9 1109.9,568.9 1110.4,566.3 1110.9,567.3 1111.4,568.9 1111.9,564.8 1112.4,571.1 1112.9,568.1 1113.4,569.6 1113.9,567.9 1114.4,566.6 1114.8,565.5 1115.3,566.8 1115.8,567.7 1116.3,567.0 1116.8,569.1 1117.3,567.5 1117.8,566.1 1118.3,566.8 1118.8,566.2 1119.3,567.8 1119.8,566.3 1120.2,567.3 1120.7,568.4 1121.2,569.3 1121.7,570.4 1122.2,568.3 1122.7,567.6 1123.2,566.6 1123.7,568.0 1124.2,568.5 1124.7,566.2 1125.1,565.9 1125.6,565.8 1126.1,565.9 1126.6,567.2 1127.1,565.6 1127.6,565.5 1128.1,564.7 1128.6,566.4 1129.1,567.4 1129.6,564.3 1130.1,564.3 1130.5,565.8 1131.0,568.6 1131.5,566.6 1132.0,563.7 1132.5,566.1 1133.0,565.7 1133.5,563.2 1134.0,564.5 1134.5,564.5 1135.0,565.4 1135.5,563.7 1135.9,563.8 1136.4,562.9 1136.9,566.3 1137.4,561.8 1137.9,560.7 1138.4,562.5 1138.9,563.6 1139.4,561.2 1139.9,560.9 1140.4,563.6 1140.9,562.6 1141.3,562.0 1141.8,563.5 1142.3,562.2 1142.8,560.5 1143.3,558.8 1143.8,564.3 1144.3,560.6 1144.8,563.5 1145.3,562.2 1145.8,560.2 1146.3,562.6 1146.7,560.5 1147.2,561.6 1147.7,559.8 1148.2,562.8 1148.7,557.9 1149.2,562.1 1149.7,561.7 1150.2,562.5 1150.7,558.8 1151.2,560.1 1151.7,560.6 1152.1,558.5 1152.6,562.4 1153.1,562.1 1153.6,560.4 1154.1,562.0 1154.6,561.4 1155.1,561.3 1155.6,561.5 1156.1,560.8 1156.6,562.9 1157.1,559.9 1157.5,561.5 1158.0,562.7 1158.5,562.5 1159.0,561.5 1159.5,562.2 1160.0,561.4 1160.5,560.2 1161.0,562.5 1161.5,564.9 1162.0,562.3 1162.5,562.7 1162.9,562.9 1163.4,563.5 1163.9,565.7 1164.4,563.9 1164.9,563.5 1165.4,564.1 1165.9,561.7 1166.4,561.7 1166.9,567.1 1167.4,561.6 1167.9,566.3 1168.3,565.4 1168.8,560.9 1169.3,562.7 1169.8,563.8 1170.3,566.8 1170.8,565.2 1171.3,564.8 1171.8,567.0 1172.3,565.2 1172.8,567.8 1173.3,563.9 1173.7,566.1 1174.2,567.3 1174.7,564.2 1175.2,565.1 1175.7,564.2 1176.2,568.5 1176.7,567.4 1177.2,566.7 1177.7,569.0 1178.2,566.6 1178.7,566.7 1179.1,567.2 1179.6,567.0 1180.1,569.1 1180.6,566.1 1181.1,565.0 1181.6,569.0 1182.1,568.8 1182.6,567.1 1183.1,568.9 1183.6,568.5 1184.1,567.8 1184.5,569.2 1185.0,569.7 1185.5,565.9 1186.0,568.8 1186.5,566.1 1187.0,568.5 1187.5,566.4 1188.0,568.1 1188.5,569.6 1189.0,566.7 1189.5,567.6 1189.9,568.4 1190.4,564.2 1190.9,564.8 1191.4,569.1 1191.9,567.6 1192.4,568.0 1192.9,568.7 1193.4,566.7 1193.9,566.3 1194.4,565.8 1194.9,569.1 1195.3,566.6 1195.8,565.6 1196.3,570.4 1196.8,567.9 1197.3,568.6 1197.8,566.4 1198.3,569.5 1198.8,567.5 1199.3,567.7 1199.8,568.5 1200.2,567.4 1200.7,569.7 1201.2,569.1 1201.7,568.7 1202.2,566.2 1202.7,565.3 1203.2,567.7 1203.7,567.9 1204.2,569.6 1204.7,569.4 1205.2,567.0 1205.6,565.7 1206.1,567.8 1206.6,568.2 1207.1,568.0 1207.6,566.2 1208.1,565.2 1208.6,567.0 1209.1,567.5 1209.6,566.5 1210.1,567.7 1210.6,566.8 1211.0,564.9 1211.5,565.7 1212.0,568.5 1212.5,563.0 1213.0,561.3 1213.5,567.0 1214.0,564.8 1214.5,562.1 1215.0,559.9 1215.5,562.8 1216.0,555.9 1216.4,554.6 1216.9,553.5 1217.4,553.1 1217.9,554.9 1218.4,551.8 1218.9,553.6 1219.4,552.5 1219.9,554.6 1220.4,556.9 1220.9,553.2 1221.4,553.7 1221.8,560.8 1222.3,559.4 1222.8,562.4 1223.3,560.6 1223.8,563.9 1224.3,562.6 1224.8,564.7 1225.3,563.5 1225.8,567.6 1226.3,564.6 1226.8,565.3 1227.2,565.2 1227.7,565.8 1228.2,564.2 1228.7,564.5 1229.2,567.4 1229.7,566.5 1230.2,567.8 1230.7,567.4 1231.2,564.2 1231.7,568.3 1232.2,565.6 1232.6,564.5 1233.1,565.9 1233.6,565.3 1234.1,568.5 1234.6,567.6 1235.1,568.3 1235.6,565.0 1236.1,567.2 1236.6,568.2 1237.1,567.2 1237.6,565.5 1238.0,569.1 1238.5,566.0 1239.0,567.0 1239.5,567.5 1240.0,566.7 1240.5,568.2 1241.0,568.7 1241.5,569.4 1242.0,566.8 1242.5,569.4 1243.0,568.1 1243.4,568.5 1243.9,566.0 1244.4,571.2 1244.9,567.9 1245.4,567.3 1245.9,567.0 1246.4,567.4 1246.9,566.1 1247.4,567.5 1247.9,568.0 1248.4,567.0 1248.8,566.9 1249.3,567.0 1249.8,566.8 1250.3,565.7 1250.8,565.3 1251.3,569.0 1251.8,568.6 1252.3,564.4 1252.8,568.0 1253.3,570.4 1253.8,567.6 1254.2,566.8 1254.7,565.7 1255.2,566.8 1255.7,566.5 1256.2,567.1 1256.7,565.8 1257.2,569.7 1257.7,567.3 1258.2,567.0 1258.7,567.1 1259.2,565.7 1259.6,569.2 1260.1,565.6 1260.6,566.2 1261.1,569.1 1261.6,567.7 1262.1,567.5 1262.6,570.6 1263.1,567.4 1263.6,568.3 1264.1,568.3 1264.6,570.2 1265.0,567.0 1265.5,565.5 1266.0,565.5 1266.5,565.7 1267.0,566.8 1267.5,566.1 1268.0,569.4 1268.5,568.2 1269.0,567.7 1269.5,567.4 1270.0,568.2 1270.4,567.6 1270.9,566.2 1271.4,569.3 1271.9,566.6 1272.4,567.6 1272.9,566.9 1273.4,567.2 1273.9,567.0 1274.4,567.9 1274.9,566.0 1275.3,565.9 1275.8,566.5 1276.3,568.6 1276.8,567.8 1277.3,567.1 1277.8,564.6 1278.3,566.4 1278.8,566.7 1279.3,565.8 1279.8,569.3 1280.3,566.6 1280.7,571.7 1281.2,568.2 1281.7,567.3 1282.2,569.6 1282.7,570.9 1283.2,569.5 1283.7,566.9 1284.2,567.0 1284.7,567.0 1285.2,567.8 1285.7,566.0 1286.1,566.7 1286.6,568.3 1287.1,567.5 1287.6,564.7 1288.1,568.3 1288.6,569.2 1289.1,569.5 1289.6,570.4 1290.1,569.4 1290.6,565.6 1291.1,566.6 1291.5,566.8 1292.0,566.4 1292.5,568.5 1293.0,568.1 1293.5,567.4 1294.0,565.5 1294.5,568.2 1295.0,569.5 1295.5,568.8 1296.0,565.4 1296.5,567.7 1296.9,569.3 1297.4,567.1 1297.9,566.4 1298.4,568.7 1298.9,568.5 1299.4,569.0 1299.9,569.9 1300.4,568.1 1300.9,566.5 1301.4,566.7 1301.9,567.7 1302.3,569.6 1302.8,567.4 1303.3,566.1 1303.8,566.0 1304.3,568.3 1304.8,568.9 1305.3,566.1 1305.8,567.4 1306.3,565.5 1306.8,566.2 1307.3,565.9 1307.7,567.5 1308.2,569.2 1308.7,566.9 1309.2,567.9 1309.7,566.6 1310.2,567.8" fill="none" stroke="#FF0000" stroke-width="2.3" stroke-linejoin="round"/>
<polyline points="1324.2,566.5 1324.7,568.1 1325.2,567.1 1325.7,566.0 1326.2,565.4 1326.7,568.8 1327.2,566.8 1327.7,566.8 1328.2,566.9 1328.7,567.1 1329.1,566.9 1329.6,567.6 1330.1,566.4 1330.6,565.2 1331.1,569.1 1331.6,565.1 1332.1,568.6 1332.6,567.4 1333.1,568.0 1333.6,565.9 1334.1,567.0 1334.6,565.9 1335.1,569.1 1335.6,566.6 1336.1,565.3 1336.6,566.4 1337.1,567.6 1337.6,566.1 1338.1,564.0 1338.5,564.7 1339.0,564.3 1339.5,566.9 1340.0,565.6 1340.5,566.2 1341.0,565.6 1341.5,566.4 1342.0,566.0 1342.5,563.2 1343.0,566.3 1343.5,563.7 1344.0,564.6 1344.5,565.0 1345.0,563.1 1345.5,563.6 1346.0,561.9 1346.5,560.8 1347.0,562.4 1347.4,563.5 1347.9,563.6 1348.4,564.8 1348.9,562.3 1349.4,563.0 1349.9,559.2 1350.4,562.5 1350.9,562.4 1351.4,562.6 1351.9,561.3 1352.4,561.7 1352.9,563.0 1353.4,559.1 1353.9,559.8 1354.4,558.1 1354.9,559.2 1355.4,559.9 1355.9,558.5 1356.4,559.6 1356.8,558.0 1357.3,559.3 1357.8,558.9 1358.3,561.5 1358.8,559.6 1359.3,558.6 1359.8,558.8 1360.3,559.0 1360.8,557.4 1361.3,557.3 1361.8,560.5 1362.3,558.8 1362.8,558.3 1363.3,556.3 1363.8,558.6 1364.3,559.7 1364.8,559.3 1365.3,557.7 1365.8,562.6 1366.2,558.3 1366.7,558.2 1367.2,560.1 1367.7,558.5 1368.2,561.1 1368.7,561.7 1369.2,562.6 1369.7,560.9 1370.2,560.3 1370.7,560.9 1371.2,563.0 1371.7,561.4 1372.2,560.9 1372.7,561.3 1373.2,560.2 1373.7,563.6 1374.2,562.0 1374.7,562.9 1375.1,562.8 1375.6,563.8 1376.1,563.2 1376.6,565.2 1377.1,564.4 1377.6,562.6 1378.1,564.8 1378.6,564.6 1379.1,563.9 1379.6,563.8 1380.1,563.1 1380.6,565.8 1381.1,565.2 1381.6,566.7 1382.1,564.6 1382.6,565.2 1383.1,565.2 1383.6,566.9 1384.1,564.8 1384.5,567.3 1385.0,567.4 1385.5,566.6 1386.0,567.1 1386.5,565.3 1387.0,566.0 1387.5,567.1 1388.0,564.9 1388.5,565.4 1389.0,566.6 1389.5,567.4 1390.0,567.8 1390.5,566.1 1391.0,566.5 1391.5,566.1 1392.0,566.0 1392.5,566.2 1393.0,567.4 1393.5,566.1 1393.9,566.6 1394.4,569.4 1394.9,567.2 1395.4,565.1 1395.9,566.1 1396.4,567.1 1396.9,567.2 1397.4,566.1 1397.9,567.1 1398.4,568.5 1398.9,568.3 1399.4,563.5 1399.9,566.9 1400.4,566.4 1400.9,566.2 1401.4,566.0 1401.9,565.5 1402.4,566.3 1402.9,566.9 1403.3,566.6 1403.8,566.4 1404.3,564.2 1404.8,564.1 1405.3,565.3 1405.8,564.0 1406.3,566.8 1406.8,567.1 1407.3,569.0 1407.8,565.0 1408.3,565.5 1408.8,567.6 1409.3,565.2 1409.8,566.3 1410.3,565.5 1410.8,564.5 1411.3,564.9 1411.8,565.7 1412.2,566.1 1412.7,564.3 1413.2,566.9 1413.7,565.0 1414.2,564.1 1414.7,563.4 1415.2,567.1 1415.7,564.3 1416.2,565.2 1416.7,565.1 1417.2,563.5 1417.7,564.2 1418.2,567.8 1418.7,563.3 1419.2,565.5 1419.7,563.2 1420.2,564.5 1420.7,564.5 1421.2,563.3 1421.6,562.5 1422.1,564.1 1422.6,561.1 1423.1,563.1 1423.6,561.6 1424.1,559.6 1424.6,562.0 1425.1,560.9 1425.6,560.0 1426.1,559.4 1426.6,558.9 1427.1,559.6 1427.6,559.3 1428.1,558.7 1428.6,559.1 1429.1,560.3 1429.6,557.1 1430.1,557.0 1430.6,553.2 1431.0,556.6 1431.5,557.0 1432.0,555.7 1432.5,555.1 1433.0,553.2 1433.5,553.8 1434.0,551.9 1434.5,552.8 1435.0,552.1 1435.5,550.6 1436.0,550.1 1436.5,551.4 1437.0,548.5 1437.5,548.8 1438.0,545.5 1438.5,547.7 1439.0,546.5 1439.5,547.6 1439.9,545.3 1440.4,546.3 1440.9,545.0 1441.4,543.8 1441.9,546.4 1442.4,547.1 1442.9,544.6 1443.4,544.1 1443.9,543.5 1444.4,542.6 1444.9,544.8 1445.4,544.8 1445.9,545.8 1446.4,544.1 1446.9,543.4 1447.4,545.2 1447.9,544.2 1448.4,546.3 1448.9,546.5 1449.3,544.6 1449.8,545.0 1450.3,546.9 1450.8,548.7 1451.3,547.5 1451.8,549.7 1452.3,548.0 1452.8,549.6 1453.3,550.7 1453.8,550.1 1454.3,547.3 1454.8,550.2 1455.3,550.7 1455.8,553.3 1456.3,551.4 1456.8,554.7 1457.3,553.9 1457.8,553.3 1458.3,551.3 1458.7,555.4 1459.2,554.2 1459.7,555.7 1460.2,558.1 1460.7,555.3 1461.2,553.4 1461.7,555.9 1462.2,558.3 1462.7,557.8 1463.2,557.3 1463.7,559.6 1464.2,558.4 1464.7,559.7 1465.2,559.3 1465.7,560.1 1466.2,559.8 1466.7,559.6 1467.2,561.3 1467.7,558.6 1468.1,562.2 1468.6,560.4 1469.1,558.8 1469.6,559.6 1470.1,561.9 1470.6,561.2 1471.1,563.2 1471.6,561.7 1472.1,563.6 1472.6,561.0 1473.1,562.2 1473.6,563.6 1474.1,561.9 1474.6,563.7 1475.1,562.8 1475.6,564.2 1476.1,564.0 1476.6,562.2 1477.0,561.0 1477.5,561.3 1478.0,562.2 1478.5,563.3 1479.0,562.5 1479.5,563.7 1480.0,563.7 1480.5,563.9 1481.0,562.4 1481.5,563.2 1482.0,565.3 1482.5,563.1 1483.0,561.8 1483.5,562.6 1484.0,563.9 1484.5,562.9 1485.0,562.7 1485.5,561.3 1486.0,561.4 1486.4,562.0 1486.9,560.0 1487.4,562.8 1487.9,562.0 1488.4,557.6 1488.9,559.8 1489.4,553.9 1489.9,553.7 1490.4,551.9 1490.9,548.2 1491.4,544.6 1491.9,544.2 1492.4,540.7 1492.9,539.2 1493.4,536.3 1493.9,533.1 1494.4,526.7 1494.9,526.3 1495.4,521.6 1495.8,523.6 1496.3,522.7 1496.8,521.6 1497.3,521.4 1497.8,525.4 1498.3,526.8 1498.8,529.5 1499.3,528.9 1499.8,533.5 1500.3,536.3 1500.8,540.6 1501.3,542.7 1501.8,546.1 1502.3,544.6 1502.8,550.0 1503.3,554.6 1503.8,555.4 1504.3,558.4 1504.8,558.7 1505.2,560.6 1505.7,557.9 1506.2,560.7 1506.7,562.7 1507.2,559.2 1507.7,563.0 1508.2,560.6 1508.7,563.6 1509.2,563.5 1509.7,563.1 1510.2,562.1 1510.7,564.3 1511.2,562.5 1511.7,565.8 1512.2,562.0 1512.7,564.5 1513.2,564.9 1513.7,565.4 1514.1,564.9 1514.6,564.6 1515.1,565.1 1515.6,567.3 1516.1,563.1 1516.6,566.5 1517.1,566.9 1517.6,567.1 1518.1,564.9 1518.6,566.9 1519.1,566.3 1519.6,564.0 1520.1,564.9 1520.6,566.1 1521.1,567.4 1521.6,566.3 1522.1,565.6 1522.6,567.5 1523.1,567.2 1523.5,565.5 1524.0,566.7 1524.5,564.5 1525.0,568.1 1525.5,567.1 1526.0,567.5 1526.5,566.1 1527.0,567.4 1527.5,565.3 1528.0,564.1 1528.5,566.6 1529.0,566.0 1529.5,567.3 1530.0,565.2 1530.5,567.7 1531.0,566.8 1531.5,566.1 1532.0,568.0 1532.5,565.8 1532.9,567.0 1533.4,566.3 1533.9,567.2 1534.4,568.3 1534.9,565.9 1535.4,566.5 1535.9,566.6 1536.4,567.3 1536.9,566.1 1537.4,567.4 1537.9,566.6 1538.4,564.8 1538.9,567.3 1539.4,566.3 1539.9,567.4 1540.4,566.5 1540.9,567.2 1541.4,565.9 1541.8,567.7 1542.3,567.4 1542.8,564.9 1543.3,566.7 1543.8,564.7 1544.3,567.2 1544.8,568.3 1545.3,567.0 1545.8,566.4 1546.3,567.2 1546.8,568.8 1547.3,569.2 1547.8,564.7 1548.3,568.1 1548.8,566.4 1549.3,565.8 1549.8,565.9 1550.3,571.1 1550.8,569.1 1551.2,568.8 1551.7,566.3 1552.2,567.8 1552.7,568.8 1553.2,566.4 1553.7,566.2 1554.2,567.1 1554.7,568.9 1555.2,566.7 1555.7,568.3 1556.2,567.4 1556.7,566.8 1557.2,566.9 1557.7,567.5 1558.2,567.3 1558.7,566.3 1559.2,567.0 1559.7,570.4 1560.2,568.2 1560.6,567.2 1561.1,565.9 1561.6,567.9 1562.1,568.0 1562.6,566.6 1563.1,568.6 1563.6,566.4 1564.1,568.0 1564.6,567.0 1565.1,566.8 1565.6,566.7 1566.1,565.8 1566.6,567.5 1567.1,568.2 1567.6,567.2 1568.1,564.5 1568.6,565.8 1569.1,568.5 1569.6,568.8 1570.0,567.5 1570.5,569.1 1571.0,568.9 1571.5,565.8 1572.0,565.9 1572.5,566.0 1573.0,565.1 1573.5,569.8 1574.0,567.0 1574.5,568.1 1575.0,565.9 1575.5,568.5 1576.0,566.7 1576.5,566.1 1577.0,566.0 1577.5,565.2 1578.0,565.3 1578.5,567.1 1578.9,569.2 1579.4,566.7 1579.9,565.3 1580.4,565.7 1580.9,569.8 1581.4,568.5 1581.9,566.4 1582.4,566.5 1582.9,567.1 1583.4,567.1 1583.9,568.3 1584.4,566.6 1584.9,565.0 1585.4,567.1 1585.9,569.4 1586.4,568.2 1586.9,566.6 1587.4,566.5 1587.9,568.2 1588.3,568.4 1588.8,567.0 1589.3,566.9 1589.8,567.1 1590.3,567.3 1590.8,567.3 1591.3,568.2 1591.8,569.7 1592.3,568.9 1592.8,567.8 1593.3,566.3 1593.8,568.5 1594.3,564.6 1594.8,567.5 1595.3,568.3 1595.8,566.3 1596.3,565.7 1596.8,565.4 1597.3,566.2 1597.7,566.6 1598.2,567.7 1598.7,567.1 1599.2,566.9 1599.7,568.2 1600.2,566.7 1600.7,569.7 1601.2,568.2 1601.7,567.9 1602.2,567.2 1602.7,566.7 1603.2,566.8 1603.7,566.9 1604.2,569.2 1604.7,564.5 1605.2,568.0 1605.7,565.7 1606.2,567.0 1606.6,567.1 1607.1,567.7 1607.6,567.4 1608.1,569.4 1608.6,567.8 1609.1,564.5 1609.6,566.5 1610.1,568.1 1610.6,567.9 1611.1,568.0 1611.6,567.6 1612.1,565.7 1612.6,566.7 1613.1,568.0 1613.6,570.2 1614.1,565.2 1614.6,565.9 1615.1,567.4 1615.6,566.9 1616.0,567.9 1616.5,568.2 1617.0,564.2 1617.5,570.4 1618.0,567.7 1618.5,566.8 1619.0,566.7 1619.5,567.3 1620.0,567.7 1620.5,566.9" fill="none" stroke="#FF0000" stroke-width="2.3" stroke-linejoin="round"/>
<polyline points="1634.3,568.6 1634.8,568.6 1635.2,566.9 1635.7,568.3 1636.2,566.8 1636.7,566.4 1637.1,566.1 1637.6,566.3 1638.1,568.5 1638.5,567.4 1639.0,567.5 1639.5,566.4 1640.0,567.8 1640.4,566.1 1640.9,567.3 1641.4,566.2 1641.8,567.4 1642.3,567.4 1642.8,568.6 1643.3,567.9 1643.7,565.9 1644.2,566.0 1644.7,569.8 1645.1,565.1 1645.6,565.8 1646.1,568.2 1646.6,566.7 1647.0,566.6 1647.5,570.0 1648.0,567.6 1648.4,567.3 1648.9,567.7 1649.4,568.9 1649.8,567.6 1650.3,566.9 1650.8,567.1 1651.3,568.6 1651.7,565.2 1652.2,568.6 1652.7,568.1 1653.1,567.0 1653.6,568.0 1654.1,568.1 1654.6,568.0 1655.0,567.6 1655.5,565.1 1656.0,567.8 1656.4,568.0 1656.9,568.6 1657.4,567.3 1657.9,566.9 1658.3,568.3 1658.8,567.9 1659.3,567.1 1659.7,568.0 1660.2,568.3 1660.7,566.7 1661.2,566.2 1661.6,567.8 1662.1,569.5 1662.6,567.0 1663.0,569.0 1663.5,565.5 1664.0,567.1 1664.5,566.7 1664.9,567.1 1665.4,566.4 1665.9,566.6 1666.3,566.9 1666.8,567.1 1667.3,568.8 1667.8,566.6 1668.2,567.5 1668.7,567.0 1669.2,566.3 1669.6,568.0 1670.1,568.0 1670.6,566.3 1671.1,567.8 1671.5,567.6 1672.0,567.5 1672.5,566.4 1672.9,567.3 1673.4,566.7 1673.9,565.5 1674.4,566.3 1674.8,566.3 1675.3,566.8 1675.8,567.1 1676.2,568.1 1676.7,566.8 1677.2,565.4 1677.6,564.6 1678.1,567.0 1678.6,566.3 1679.1,565.7 1679.5,565.9 1680.0,566.5 1680.5,568.3 1680.9,566.4 1681.4,566.5 1681.9,566.0 1682.4,565.7 1682.8,566.2 1683.3,565.1 1683.8,565.9 1684.2,566.5 1684.7,564.6 1685.2,564.9 1685.7,564.3 1686.1,563.5 1686.6,565.9 1687.1,564.5 1687.5,565.3 1688.0,563.7 1688.5,565.1 1689.0,566.2 1689.4,562.1 1689.9,564.3 1690.4,563.5 1690.8,562.4 1691.3,561.7 1691.8,562.2 1692.3,562.5 1692.7,560.0 1693.2,562.0 1693.7,562.3 1694.1,560.9 1694.6,561.6 1695.1,560.4 1695.6,561.3 1696.0,559.7 1696.5,561.5 1697.0,559.5 1697.4,558.7 1697.9,558.9 1698.4,558.8 1698.9,556.3 1699.3,558.2 1699.8,558.7 1700.3,557.6 1700.7,556.0 1701.2,557.6 1701.7,558.5 1702.2,556.8 1702.6,557.5 1703.1,556.2 1703.6,557.2 1704.0,553.8 1704.5,555.1 1705.0,554.1 1705.4,554.4 1705.9,553.4 1706.4,554.1 1706.9,554.0 1707.3,554.2 1707.8,553.6 1708.3,551.9 1708.7,551.4 1709.2,552.7 1709.7,553.4 1710.2,550.7 1710.6,552.2 1711.1,551.8 1711.6,551.1 1712.0,549.5 1712.5,549.9 1713.0,550.3 1713.5,551.2 1713.9,549.5 1714.4,548.1 1714.9,548.8 1715.3,548.0 1715.8,548.4 1716.3,548.5 1716.8,547.8 1717.2,547.8 1717.7,545.1 1718.2,547.1 1718.6,547.1 1719.1,546.8 1719.6,546.4 1720.1,546.1 1720.5,545.3 1721.0,545.1 1721.5,545.5 1721.9,547.5 1722.4,544.5 1722.9,544.8 1723.4,543.4 1723.8,547.0 1724.3,543.6 1724.8,546.4 1725.2,543.9 1725.7,544.1 1726.2,542.6 1726.7,545.3 1727.1,542.3 1727.6,544.5 1728.1,543.0 1728.5,543.0 1729.0,541.5 1729.5,542.3 1730.0,541.5 1730.4,542.1 1730.9,541.6 1731.4,541.6 1731.8,540.2 1732.3,541.0 1732.8,541.1 1733.2,539.1 1733.7,539.1 1734.2,537.7 1734.7,539.1 1735.1,537.9 1735.6,539.1 1736.1,537.2 1736.5,536.4 1737.0,536.2 1737.5,539.1 1738.0,538.3 1738.4,538.8 1738.9,535.5 1739.4,535.1 1739.8,536.4 1740.3,536.7 1740.8,536.2 1741.3,536.3 1741.7,535.7 1742.2,535.7 1742.7,533.9 1743.1,532.4 1743.6,534.4 1744.1,533.3 1744.6,532.4 1745.0,532.3 1745.5,533.8 1746.0,532.9 1746.4,532.0 1746.9,532.1 1747.4,531.7 1747.9,533.7 1748.3,533.0 1748.8,532.1 1749.3,533.1 1749.7,530.8 1750.2,530.4 1750.7,533.8 1751.2,533.6 1751.6,533.1 1752.1,532.8 1752.6,532.0 1753.0,531.4 1753.5,534.2 1754.0,533.6 1754.5,532.9 1754.9,534.5 1755.4,533.6 1755.9,535.7 1756.3,534.2 1756.8,535.0 1757.3,534.7 1757.8,536.5 1758.2,536.5 1758.7,536.6 1759.2,537.8 1759.6,538.7 1760.1,538.3 1760.6,537.0 1761.1,538.1 1761.5,538.1 1762.0,538.8 1762.5,537.4 1762.9,540.1 1763.4,540.2 1763.9,539.7 1764.3,540.9 1764.8,541.3 1765.3,541.5 1765.8,543.5 1766.2,544.2 1766.7,544.2 1767.2,543.1 1767.6,542.0 1768.1,546.2 1768.6,545.3 1769.1,548.3 1769.5,546.9 1770.0,546.9 1770.5,547.7 1770.9,549.6 1771.4,549.2 1771.9,547.7 1772.4,549.7 1772.8,551.1 1773.3,550.7 1773.8,552.2 1774.2,552.4 1774.7,552.8 1775.2,553.0 1775.7,553.8 1776.1,553.4 1776.6,555.8 1777.1,556.0 1777.5,554.4 1778.0,556.2 1778.5,556.4 1779.0,557.1 1779.4,557.6 1779.9,558.6 1780.4,557.8 1780.8,558.3 1781.3,559.6 1781.8,559.0 1782.3,558.3 1782.7,561.7 1783.2,559.1 1783.7,561.0 1784.1,561.2 1784.6,560.8 1785.1,560.6 1785.6,561.5 1786.0,561.4 1786.5,563.5 1787.0,563.8 1787.4,563.8 1787.9,563.3 1788.4,564.2 1788.9,564.5 1789.3,562.9 1789.8,564.0 1790.3,565.4 1790.7,563.0 1791.2,563.2 1791.7,563.4 1792.1,567.1 1792.6,566.2 1793.1,566.2 1793.6,565.1 1794.0,564.8 1794.5,565.0 1795.0,566.3 1795.4,564.7 1795.9,563.8 1796.4,565.8 1796.9,564.9 1797.3,566.0 1797.8,568.8 1798.3,567.0 1798.7,566.8 1799.2,565.9 1799.7,565.7 1800.2,567.2 1800.6,567.7 1801.1,567.6 1801.6,566.9 1802.0,567.1 1802.5,566.8 1803.0,565.9 1803.5,568.1 1803.9,565.1 1804.4,567.4 1804.9,565.8 1805.3,567.1 1805.8,566.6 1806.3,567.9 1806.8,566.3 1807.2,567.3 1807.7,568.7 1808.2,567.6 1808.6,568.2 1809.1,566.7 1809.6,567.9 1810.1,566.5 1810.5,566.6 1811.0,566.8 1811.5,567.9 1811.9,566.3 1812.4,567.5 1812.9,567.6 1813.4,566.4 1813.8,567.9 1814.3,566.2 1814.8,566.6 1815.2,566.8 1815.7,567.5 1816.2,568.0 1816.7,567.0 1817.1,568.6 1817.6,567.2 1818.1,568.4 1818.5,566.3 1819.0,567.4 1819.5,566.5 1819.9,568.5 1820.4,567.5 1820.9,568.1 1821.4,567.7 1821.8,568.7 1822.3,566.6 1822.8,568.3 1823.2,567.0 1823.7,567.0 1824.2,566.1 1824.7,566.9 1825.1,569.2 1825.6,568.3 1826.1,568.7 1826.5,568.8 1827.0,568.6 1827.5,566.8 1828.0,566.8 1828.4,567.2 1828.9,568.6 1829.4,568.0 1829.8,566.9 1830.3,567.2 1830.8,568.7 1831.3,567.4 1831.7,567.4 1832.2,566.0 1832.7,567.8 1833.1,570.2 1833.6,567.2 1834.1,566.4 1834.6,569.1 1835.0,566.6 1835.5,566.3 1836.0,567.3 1836.4,568.0 1836.9,567.4 1837.4,567.8 1837.9,567.2 1838.3,566.2 1838.8,567.3 1839.3,568.0 1839.7,566.7 1840.2,567.8 1840.7,569.0 1841.2,567.2 1841.6,565.6 1842.1,567.9 1842.6,567.3 1843.0,568.9 1843.5,567.6 1844.0,567.8 1844.5,567.2 1844.9,567.4 1845.4,567.6 1845.9,566.7 1846.3,568.1 1846.8,568.5 1847.3,566.4 1847.7,566.9 1848.2,568.4 1848.7,568.7 1849.2,568.6 1849.6,565.2 1850.1,566.7 1850.6,567.2 1851.0,566.7 1851.5,566.9 1852.0,565.0 1852.5,566.8 1852.9,566.9 1853.4,567.7 1853.9,566.5 1854.3,567.1 1854.8,567.3 1855.3,570.2 1855.8,567.7 1856.2,568.4 1856.7,566.7 1857.2,569.5 1857.6,568.1 1858.1,568.6 1858.6,567.4 1859.1,567.3 1859.5,567.0 1860.0,568.1" fill="none" stroke="#FF0000" stroke-width="2.3" stroke-linejoin="round"/>
<text transform="translate(1965.7,578.1) scale(1.012,1.065)" font-size="26.7" text-anchor="end">−0.85 V</text>
<polyline points="1084.9,619.4 1085.4,620.8 1085.9,618.7 1086.4,619.9 1086.9,617.2 1087.4,615.9 1087.8,621.2 1088.3,619.1 1088.8,620.8 1089.3,620.7 1089.8,618.7 1090.3,618.3 1090.8,619.4 1091.3,617.7 1091.8,618.9 1092.3,619.8 1092.8,616.5 1093.2,618.1 1093.7,618.9 1094.2,617.8 1094.7,617.7 1095.2,619.2 1095.7,617.4 1096.2,621.3 1096.7,620.7 1097.2,618.7 1097.7,620.8 1098.2,616.7 1098.6,619.0 1099.1,617.5 1099.6,618.8 1100.1,619.6 1100.6,619.3 1101.1,617.7 1101.6,619.4 1102.1,621.8 1102.6,616.9 1103.1,619.5 1103.6,619.4 1104.0,619.2 1104.5,620.4 1105.0,622.8 1105.5,619.8 1106.0,619.9 1106.5,618.7 1107.0,618.8 1107.5,619.6 1108.0,620.1 1108.5,616.5 1109.0,618.3 1109.4,619.0 1109.9,621.0 1110.4,619.8 1110.9,618.9 1111.4,620.5 1111.9,620.1 1112.4,620.4 1112.9,619.3 1113.4,618.5 1113.9,619.2 1114.4,619.3 1114.8,618.4 1115.3,617.7 1115.8,623.1 1116.3,620.3 1116.8,619.3 1117.3,618.3 1117.8,622.1 1118.3,619.4 1118.8,616.9 1119.3,618.8 1119.8,618.5 1120.2,617.3 1120.7,617.6 1121.2,619.6 1121.7,618.2 1122.2,619.5 1122.7,617.7 1123.2,617.3 1123.7,616.9 1124.2,617.7 1124.7,621.9 1125.1,618.2 1125.6,619.2 1126.1,616.9 1126.6,616.2 1127.1,617.3 1127.6,618.4 1128.1,616.9 1128.6,616.3 1129.1,615.7 1129.6,615.7 1130.1,617.5 1130.5,616.7 1131.0,616.8 1131.5,615.0 1132.0,618.8 1132.5,618.7 1133.0,614.7 1133.5,614.6 1134.0,615.0 1134.5,616.1 1135.0,614.3 1135.5,615.7 1135.9,616.4 1136.4,614.3 1136.9,616.7 1137.4,614.5 1137.9,615.1 1138.4,614.5 1138.9,611.9 1139.4,616.3 1139.9,613.7 1140.4,612.3 1140.9,612.6 1141.3,613.1 1141.8,614.8 1142.3,611.4 1142.8,613.8 1143.3,610.3 1143.8,613.0 1144.3,611.4 1144.8,611.4 1145.3,613.3 1145.8,612.6 1146.3,610.8 1146.7,612.9 1147.2,611.1 1147.7,612.6 1148.2,611.2 1148.7,611.8 1149.2,611.7 1149.7,610.1 1150.2,613.2 1150.7,613.4 1151.2,614.7 1151.7,607.6 1152.1,612.6 1152.6,610.4 1153.1,612.6 1153.6,612.8 1154.1,613.4 1154.6,609.3 1155.1,613.5 1155.6,613.9 1156.1,611.9 1156.6,611.8 1157.1,612.2 1157.5,614.3 1158.0,612.9 1158.5,611.9 1159.0,614.3 1159.5,611.1 1160.0,614.3 1160.5,613.0 1161.0,613.5 1161.5,614.4 1162.0,612.6 1162.5,616.3 1162.9,614.6 1163.4,616.4 1163.9,614.2 1164.4,617.6 1164.9,614.2 1165.4,616.2 1165.9,614.1 1166.4,616.2 1166.9,613.4 1167.4,616.2 1167.9,616.5 1168.3,617.0 1168.8,616.9 1169.3,618.6 1169.8,616.4 1170.3,619.3 1170.8,617.0 1171.3,617.8 1171.8,617.7 1172.3,618.5 1172.8,617.8 1173.3,617.7 1173.7,617.3 1174.2,615.6 1174.7,618.2 1175.2,616.8 1175.7,616.6 1176.2,616.8 1176.7,618.4 1177.2,615.2 1177.7,620.3 1178.2,619.1 1178.7,617.9 1179.1,619.3 1179.6,618.2 1180.1,617.5 1180.6,618.6 1181.1,619.0 1181.6,617.9 1182.1,619.1 1182.6,619.5 1183.1,621.2 1183.6,617.8 1184.1,616.3 1184.5,620.2 1185.0,619.7 1185.5,616.9 1186.0,620.6 1186.5,620.3 1187.0,618.1 1187.5,618.8 1188.0,617.9 1188.5,620.9 1189.0,617.8 1189.5,619.9 1189.9,617.3 1190.4,617.7 1190.9,619.7 1191.4,617.3 1191.9,619.2 1192.4,620.4 1192.9,619.5 1193.4,620.9 1193.9,619.3 1194.4,620.3 1194.9,617.2 1195.3,620.4 1195.8,617.1 1196.3,617.8 1196.8,621.3 1197.3,619.1 1197.8,619.3 1198.3,619.8 1198.8,619.2 1199.3,616.0 1199.8,619.1 1200.2,620.6 1200.7,620.2 1201.2,619.6 1201.7,615.6 1202.2,619.6 1202.7,616.7 1203.2,620.9 1203.7,619.5 1204.2,619.4 1204.7,619.4 1205.2,618.3 1205.6,618.1 1206.1,618.9 1206.6,620.6 1207.1,618.4 1207.6,618.7 1208.1,617.6 1208.6,619.8 1209.1,616.6 1209.6,617.9 1210.1,620.1 1210.6,617.0 1211.0,619.5 1211.5,619.0 1212.0,618.1 1212.5,617.0 1213.0,613.7 1213.5,616.7 1214.0,614.8 1214.5,613.9 1215.0,613.6 1215.5,613.9 1216.0,609.8 1216.4,610.9 1216.9,605.5 1217.4,606.6 1217.9,603.2 1218.4,602.1 1218.9,605.0 1219.4,603.8 1219.9,603.9 1220.4,608.2 1220.9,610.8 1221.4,609.9 1221.8,609.8 1222.3,612.8 1222.8,612.4 1223.3,613.0 1223.8,613.1 1224.3,613.2 1224.8,614.9 1225.3,617.2 1225.8,616.9 1226.3,619.2 1226.8,616.2 1227.2,614.4 1227.7,619.5 1228.2,617.0 1228.7,616.8 1229.2,613.6 1229.7,615.1 1230.2,618.7 1230.7,616.7 1231.2,617.1 1231.7,620.9 1232.2,618.1 1232.6,618.8 1233.1,616.0 1233.6,618.8 1234.1,617.8 1234.6,616.4 1235.1,617.1 1235.6,620.4 1236.1,618.6 1236.6,618.1 1237.1,617.9 1237.6,619.0 1238.0,617.3 1238.5,619.7 1239.0,619.3 1239.5,616.6 1240.0,619.1 1240.5,620.8 1241.0,616.7 1241.5,620.6 1242.0,619.8 1242.5,618.4 1243.0,617.6 1243.4,617.7 1243.9,617.3 1244.4,617.6 1244.9,617.9 1245.4,618.7 1245.9,619.2 1246.4,619.6 1246.9,615.5 1247.4,617.5 1247.9,618.4 1248.4,617.1 1248.8,618.0 1249.3,617.9 1249.8,618.5 1250.3,618.0 1250.8,618.6 1251.3,620.7 1251.8,618.5 1252.3,617.9 1252.8,618.8 1253.3,619.2 1253.8,618.5 1254.2,618.9 1254.7,620.5 1255.2,618.9 1255.7,619.9 1256.2,620.7 1256.7,618.3 1257.2,618.5 1257.7,617.6 1258.2,619.3 1258.7,618.2 1259.2,618.7 1259.6,618.0 1260.1,620.0 1260.6,617.5 1261.1,619.9 1261.6,621.8 1262.1,619.0 1262.6,621.1 1263.1,617.5 1263.6,620.7 1264.1,618.8 1264.6,621.3 1265.0,618.4 1265.5,616.9 1266.0,619.4 1266.5,617.2 1267.0,619.1 1267.5,620.5 1268.0,619.3 1268.5,620.1 1269.0,618.1 1269.5,618.1 1270.0,616.5 1270.4,620.1 1270.9,619.1 1271.4,619.8 1271.9,620.1 1272.4,619.4 1272.9,618.1 1273.4,618.0 1273.9,617.4 1274.4,619.4 1274.9,619.2 1275.3,619.6 1275.8,623.9 1276.3,618.9 1276.8,618.9 1277.3,619.7 1277.8,618.7 1278.3,617.4 1278.8,620.7 1279.3,618.4 1279.8,619.9 1280.3,619.2 1280.7,619.2 1281.2,619.3 1281.7,616.8 1282.2,619.1 1282.7,619.3 1283.2,620.5 1283.7,616.6 1284.2,618.3 1284.7,618.9 1285.2,620.2 1285.7,619.4 1286.1,616.6 1286.6,620.2 1287.1,620.4 1287.6,616.9 1288.1,620.4 1288.6,617.9 1289.1,616.2 1289.6,620.7 1290.1,620.4 1290.6,617.1 1291.1,617.0 1291.5,616.0 1292.0,618.6 1292.5,618.7 1293.0,620.6 1293.5,619.3 1294.0,619.0 1294.5,618.5 1295.0,620.2 1295.5,619.3 1296.0,617.5 1296.5,616.6 1296.9,618.1 1297.4,617.7 1297.9,616.7 1298.4,621.8 1298.9,616.2 1299.4,619.0 1299.9,621.4 1300.4,618.5 1300.9,617.9 1301.4,619.8 1301.9,617.2 1302.3,617.6 1302.8,615.6 1303.3,619.0 1303.8,618.9 1304.3,619.6 1304.8,620.5 1305.3,618.4 1305.8,615.8 1306.3,619.8 1306.8,620.1 1307.3,618.7 1307.7,620.0 1308.2,618.2 1308.7,619.3 1309.2,619.7 1309.7,619.7 1310.2,618.9" fill="none" stroke="#000000" stroke-width="2.3" stroke-linejoin="round"/>
<polyline points="1324.2,616.9 1324.7,621.3 1325.2,616.3 1325.7,618.3 1326.2,616.9 1326.7,617.6 1327.2,617.9 1327.7,619.8 1328.2,619.8 1328.7,617.6 1329.1,617.9 1329.6,615.9 1330.1,622.8 1330.6,619.4 1331.1,622.0 1331.6,615.9 1332.1,619.4 1332.6,620.4 1333.1,617.6 1333.6,617.4 1334.1,620.0 1334.6,619.2 1335.1,618.5 1335.6,616.2 1336.1,619.1 1336.6,618.1 1337.1,616.7 1337.6,617.8 1338.1,618.4 1338.5,617.6 1339.0,616.0 1339.5,617.6 1340.0,616.2 1340.5,618.7 1341.0,617.7 1341.5,618.0 1342.0,615.7 1342.5,618.4 1343.0,619.0 1343.5,616.1 1344.0,615.1 1344.5,613.6 1345.0,618.4 1345.5,617.7 1346.0,614.2 1346.5,614.9 1347.0,616.2 1347.4,615.1 1347.9,613.8 1348.4,614.3 1348.9,617.3 1349.4,614.8 1349.9,614.3 1350.4,612.9 1350.9,612.6 1351.4,613.9 1351.9,613.2 1352.4,614.2 1352.9,614.7 1353.4,613.1 1353.9,615.2 1354.4,615.9 1354.9,614.8 1355.4,612.1 1355.9,612.7 1356.4,612.8 1356.8,610.6 1357.3,612.0 1357.8,612.8 1358.3,610.7 1358.8,612.3 1359.3,614.3 1359.8,613.0 1360.3,612.9 1360.8,611.8 1361.3,612.3 1361.8,611.5 1362.3,612.1 1362.8,612.5 1363.3,612.6 1363.8,612.5 1364.3,612.8 1364.8,614.3 1365.3,613.5 1365.8,611.8 1366.2,614.1 1366.7,611.0 1367.2,612.4 1367.7,613.2 1368.2,615.2 1368.7,613.5 1369.2,613.8 1369.7,612.8 1370.2,612.1 1370.7,612.5 1371.2,613.0 1371.7,613.0 1372.2,612.0 1372.7,613.5 1373.2,613.8 1373.7,615.5 1374.2,614.8 1374.7,614.3 1375.1,617.5 1375.6,612.9 1376.1,615.8 1376.6,614.8 1377.1,618.8 1377.6,615.8 1378.1,617.6 1378.6,616.4 1379.1,617.9 1379.6,618.0 1380.1,618.9 1380.6,615.1 1381.1,617.9 1381.6,618.5 1382.1,619.1 1382.6,617.4 1383.1,615.2 1383.6,617.5 1384.1,618.6 1384.5,617.7 1385.0,618.5 1385.5,618.0 1386.0,618.7 1386.5,615.9 1387.0,614.9 1387.5,618.3 1388.0,619.1 1388.5,617.6 1389.0,617.8 1389.5,616.7 1390.0,618.7 1390.5,618.2 1391.0,618.0 1391.5,618.3 1392.0,617.5 1392.5,617.4 1393.0,617.5 1393.5,620.4 1393.9,617.4 1394.4,617.8 1394.9,620.6 1395.4,618.0 1395.9,619.0 1396.4,618.2 1396.9,619.6 1397.4,617.0 1397.9,617.2 1398.4,616.7 1398.9,617.4 1399.4,617.3 1399.9,617.2 1400.4,616.4 1400.9,617.9 1401.4,616.8 1401.9,619.5 1402.4,616.9 1402.9,618.1 1403.3,615.7 1403.8,617.1 1404.3,618.9 1404.8,617.2 1405.3,618.3 1405.8,616.2 1406.3,617.6 1406.8,617.8 1407.3,617.6 1407.8,619.0 1408.3,617.4 1408.8,617.8 1409.3,617.3 1409.8,616.0 1410.3,618.9 1410.8,617.4 1411.3,615.3 1411.8,617.4 1412.2,617.6 1412.7,616.8 1413.2,615.4 1413.7,616.8 1414.2,615.3 1414.7,618.1 1415.2,614.9 1415.7,616.9 1416.2,615.6 1416.7,615.0 1417.2,617.1 1417.7,613.5 1418.2,615.6 1418.7,616.3 1419.2,613.5 1419.7,614.5 1420.2,612.4 1420.7,615.1 1421.2,616.6 1421.6,614.2 1422.1,616.8 1422.6,613.2 1423.1,613.9 1423.6,616.8 1424.1,613.7 1424.6,614.4 1425.1,615.3 1425.6,613.8 1426.1,613.3 1426.6,611.7 1427.1,612.8 1427.6,609.5 1428.1,607.8 1428.6,609.5 1429.1,610.9 1429.6,609.4 1430.1,608.9 1430.6,609.6 1431.0,608.3 1431.5,605.7 1432.0,607.9 1432.5,605.1 1433.0,606.1 1433.5,606.5 1434.0,605.0 1434.5,602.9 1435.0,603.6 1435.5,603.7 1436.0,602.6 1436.5,603.1 1437.0,600.9 1437.5,599.4 1438.0,598.7 1438.5,597.2 1439.0,598.2 1439.5,601.5 1439.9,597.7 1440.4,599.6 1440.9,598.0 1441.4,598.1 1441.9,596.3 1442.4,596.8 1442.9,597.2 1443.4,596.4 1443.9,598.5 1444.4,597.8 1444.9,595.8 1445.4,594.3 1445.9,597.5 1446.4,595.2 1446.9,597.4 1447.4,595.8 1447.9,599.2 1448.4,597.5 1448.9,596.6 1449.3,600.0 1449.8,598.8 1450.3,600.4 1450.8,600.0 1451.3,599.5 1451.8,600.8 1452.3,601.6 1452.8,601.0 1453.3,602.6 1453.8,602.6 1454.3,603.5 1454.8,602.7 1455.3,604.4 1455.8,605.1 1456.3,605.5 1456.8,606.3 1457.3,604.6 1457.8,604.3 1458.3,606.2 1458.7,608.0 1459.2,608.9 1459.7,607.8 1460.2,608.2 1460.7,608.0 1461.2,608.5 1461.7,608.0 1462.2,610.2 1462.7,606.9 1463.2,611.1 1463.7,610.5 1464.2,610.6 1464.7,611.7 1465.2,613.8 1465.7,609.9 1466.2,607.1 1466.7,610.3 1467.2,614.4 1467.7,612.3 1468.1,612.8 1468.6,611.2 1469.1,612.8 1469.6,613.4 1470.1,614.3 1470.6,612.9 1471.1,614.1 1471.6,613.4 1472.1,613.4 1472.6,614.0 1473.1,614.3 1473.6,614.7 1474.1,614.5 1474.6,616.3 1475.1,617.4 1475.6,615.0 1476.1,613.9 1476.6,615.4 1477.0,615.9 1477.5,614.8 1478.0,616.2 1478.5,616.2 1479.0,615.5 1479.5,614.8 1480.0,614.9 1480.5,613.1 1481.0,615.1 1481.5,616.5 1482.0,615.8 1482.5,615.1 1483.0,614.3 1483.5,615.3 1484.0,612.7 1484.5,612.2 1485.0,613.3 1485.5,610.0 1486.0,610.8 1486.4,610.7 1486.9,608.8 1487.4,607.4 1487.9,603.3 1488.4,603.2 1488.9,598.4 1489.4,596.8 1489.9,594.4 1490.4,590.5 1490.9,588.2 1491.4,585.2 1491.9,583.1 1492.4,577.3 1492.9,572.9 1493.4,575.6 1493.9,573.2 1494.4,570.7 1494.9,571.1 1495.4,572.7 1495.8,576.7 1496.3,577.0 1496.8,581.2 1497.3,585.3 1497.8,586.4 1498.3,589.1 1498.8,590.6 1499.3,595.9 1499.8,598.9 1500.3,599.7 1500.8,601.5 1501.3,602.1 1501.8,605.6 1502.3,608.3 1502.8,608.9 1503.3,606.4 1503.8,613.7 1504.3,612.1 1504.8,610.6 1505.2,613.3 1505.7,615.2 1506.2,615.2 1506.7,613.8 1507.2,616.4 1507.7,615.1 1508.2,615.6 1508.7,615.0 1509.2,615.0 1509.7,615.1 1510.2,616.0 1510.7,615.5 1511.2,616.6 1511.7,617.8 1512.2,616.9 1512.7,616.1 1513.2,615.7 1513.7,614.6 1514.1,617.5 1514.6,618.5 1515.1,618.5 1515.6,617.0 1516.1,619.9 1516.6,619.2 1517.1,617.1 1517.6,617.1 1518.1,619.5 1518.6,616.8 1519.1,617.5 1519.6,616.7 1520.1,616.3 1520.6,617.9 1521.1,617.7 1521.6,617.2 1522.1,619.2 1522.6,617.1 1523.1,619.9 1523.5,616.4 1524.0,617.2 1524.5,618.8 1525.0,618.0 1525.5,618.7 1526.0,617.5 1526.5,616.4 1527.0,618.3 1527.5,617.7 1528.0,616.5 1528.5,618.2 1529.0,616.9 1529.5,619.1 1530.0,618.4 1530.5,617.1 1531.0,616.6 1531.5,619.7 1532.0,618.3 1532.5,616.5 1532.9,617.7 1533.4,619.2 1533.9,617.7 1534.4,618.9 1534.9,616.6 1535.4,619.3 1535.9,619.6 1536.4,618.1 1536.9,618.3 1537.4,618.3 1537.9,619.5 1538.4,617.4 1538.9,618.6 1539.4,619.8 1539.9,614.4 1540.4,617.7 1540.9,619.1 1541.4,617.3 1541.8,619.6 1542.3,616.9 1542.8,616.6 1543.3,617.5 1543.8,617.1 1544.3,616.9 1544.8,615.7 1545.3,613.8 1545.8,621.4 1546.3,617.5 1546.8,618.4 1547.3,616.0 1547.8,618.1 1548.3,617.7 1548.8,618.8 1549.3,616.9 1549.8,617.4 1550.3,618.2 1550.8,616.0 1551.2,615.7 1551.7,617.7 1552.2,618.5 1552.7,619.2 1553.2,615.5 1553.7,619.5 1554.2,617.9 1554.7,619.4 1555.2,619.5 1555.7,619.5 1556.2,616.5 1556.7,619.0 1557.2,620.7 1557.7,619.8 1558.2,620.4 1558.7,619.1 1559.2,619.2 1559.7,616.6 1560.2,619.7 1560.6,620.1 1561.1,618.3 1561.6,616.1 1562.1,619.0 1562.6,619.5 1563.1,616.7 1563.6,620.8 1564.1,618.6 1564.6,619.1 1565.1,617.7 1565.6,618.0 1566.1,618.8 1566.6,619.1 1567.1,618.6 1567.6,619.0 1568.1,619.3 1568.6,618.6 1569.1,618.4 1569.6,616.4 1570.0,618.1 1570.5,619.8 1571.0,618.3 1571.5,619.5 1572.0,616.3 1572.5,618.2 1573.0,619.4 1573.5,619.9 1574.0,617.8 1574.5,619.8 1575.0,620.3 1575.5,618.8 1576.0,619.8 1576.5,618.7 1577.0,618.3 1577.5,616.4 1578.0,616.8 1578.5,617.0 1578.9,619.6 1579.4,618.0 1579.9,619.9 1580.4,619.4 1580.9,619.4 1581.4,620.3 1581.9,621.3 1582.4,617.6 1582.9,618.6 1583.4,619.8 1583.9,618.4 1584.4,619.1 1584.9,617.8 1585.4,619.2 1585.9,618.1 1586.4,621.8 1586.9,616.2 1587.4,617.8 1587.9,619.6 1588.3,620.3 1588.8,621.7 1589.3,619.4 1589.8,619.7 1590.3,619.2 1590.8,619.2 1591.3,618.7 1591.8,621.2 1592.3,621.2 1592.8,617.7 1593.3,618.9 1593.8,617.2 1594.3,620.4 1594.8,619.3 1595.3,620.4 1595.8,615.4 1596.3,621.2 1596.8,620.3 1597.3,618.3 1597.7,617.4 1598.2,621.6 1598.7,620.1 1599.2,621.8 1599.7,617.7 1600.2,618.0 1600.7,619.1 1601.2,620.3 1601.7,618.9 1602.2,619.1 1602.7,618.5 1603.2,620.3 1603.7,617.3 1604.2,620.2 1604.7,619.5 1605.2,619.2 1605.7,617.7 1606.2,618.9 1606.6,616.6 1607.1,617.2 1607.6,619.6 1608.1,617.5 1608.6,620.3 1609.1,620.6 1609.6,616.6 1610.1,618.1 1610.6,616.6 1611.1,619.0 1611.6,619.5 1612.1,619.8 1612.6,616.6 1613.1,617.9 1613.6,621.0 1614.1,620.1 1614.6,619.9 1615.1,620.6 1615.6,617.5 1616.0,619.1 1616.5,618.0 1617.0,618.6 1617.5,621.1 1618.0,619.6 1618.5,620.2 1619.0,617.6 1619.5,618.3 1620.0,619.7 1620.5,617.0" fill="none" stroke="#000000" stroke-width="2.3" stroke-linejoin="round"/>
<polyline points="1634.3,616.5 1634.8,620.0 1635.2,620.9 1635.7,618.7 1636.2,618.5 1636.7,620.9 1637.1,620.3 1637.6,619.9 1638.1,618.4 1638.5,618.7 1639.0,620.4 1639.5,620.0 1640.0,620.2 1640.4,619.0 1640.9,616.9 1641.4,617.5 1641.8,618.1 1642.3,620.2 1642.8,617.9 1643.3,619.8 1643.7,619.8 1644.2,617.9 1644.7,619.2 1645.1,618.2 1645.6,618.4 1646.1,619.6 1646.6,618.8 1647.0,618.4 1647.5,619.1 1648.0,620.2 1648.4,617.7 1648.9,619.6 1649.4,619.8 1649.8,619.5 1650.3,618.0 1650.8,618.8 1651.3,617.1 1651.7,620.5 1652.2,619.4 1652.7,618.9 1653.1,619.3 1653.6,620.5 1654.1,620.0 1654.6,619.6 1655.0,619.5 1655.5,619.2 1656.0,619.3 1656.4,620.1 1656.9,620.7 1657.4,617.6 1657.9,617.4 1658.3,618.9 1658.8,617.9 1659.3,618.0 1659.7,618.0 1660.2,619.6 1660.7,618.8 1661.2,619.4 1661.6,620.6 1662.1,620.3 1662.6,618.7 1663.0,618.9 1663.5,618.4 1664.0,618.8 1664.5,618.7 1664.9,618.6 1665.4,619.9 1665.9,619.6 1666.3,616.5 1666.8,618.4 1667.3,617.5 1667.8,619.3 1668.2,618.7 1668.7,617.3 1669.2,618.4 1669.6,618.1 1670.1,617.7 1670.6,618.7 1671.1,619.9 1671.5,619.9 1672.0,619.9 1672.5,620.0 1672.9,620.6 1673.4,619.7 1673.9,619.1 1674.4,616.7 1674.8,619.2 1675.3,618.2 1675.8,618.4 1676.2,618.3 1676.7,619.3 1677.2,617.5 1677.6,618.5 1678.1,616.8 1678.6,617.6 1679.1,619.1 1679.5,616.8 1680.0,618.9 1680.5,619.3 1680.9,615.3 1681.4,616.7 1681.9,616.1 1682.4,617.5 1682.8,617.4 1683.3,617.9 1683.8,617.3 1684.2,617.3 1684.7,618.1 1685.2,615.1 1685.7,617.3 1686.1,615.2 1686.6,617.2 1687.1,615.7 1687.5,616.6 1688.0,616.0 1688.5,615.5 1689.0,615.7 1689.4,615.1 1689.9,615.1 1690.4,615.6 1690.8,614.5 1691.3,614.2 1691.8,613.2 1692.3,614.1 1692.7,614.8 1693.2,614.0 1693.7,613.2 1694.1,613.1 1694.6,611.9 1695.1,610.8 1695.6,611.7 1696.0,611.5 1696.5,611.0 1697.0,611.7 1697.4,611.0 1697.9,610.0 1698.4,609.9 1698.9,611.9 1699.3,610.2 1699.8,610.0 1700.3,609.3 1700.7,607.7 1701.2,607.4 1701.7,609.4 1702.2,606.8 1702.6,608.5 1703.1,606.8 1703.6,607.1 1704.0,607.2 1704.5,607.7 1705.0,605.6 1705.4,605.6 1705.9,607.6 1706.4,604.4 1706.9,605.6 1707.3,604.6 1707.8,605.7 1708.3,604.7 1708.7,604.5 1709.2,607.1 1709.7,602.4 1710.2,603.0 1710.6,603.5 1711.1,601.2 1711.6,601.3 1712.0,601.3 1712.5,603.5 1713.0,600.0 1713.5,601.4 1713.9,600.0 1714.4,602.2 1714.9,601.2 1715.3,601.7 1715.8,601.2 1716.3,601.3 1716.8,601.2 1717.2,599.1 1717.7,599.9 1718.2,599.9 1718.6,601.3 1719.1,599.0 1719.6,600.1 1720.1,597.8 1720.5,598.9 1721.0,597.9 1721.5,598.4 1721.9,598.8 1722.4,599.0 1722.9,596.6 1723.4,597.2 1723.8,598.2 1724.3,596.7 1724.8,595.6 1725.2,596.3 1725.7,595.4 1726.2,596.4 1726.7,597.7 1727.1,596.9 1727.6,595.7 1728.1,594.9 1728.5,594.0 1729.0,592.7 1729.5,594.4 1730.0,594.1 1730.4,593.1 1730.9,593.4 1731.4,593.7 1731.8,593.1 1732.3,591.3 1732.8,592.7 1733.2,594.1 1733.7,590.6 1734.2,592.0 1734.7,590.4 1735.1,592.0 1735.6,593.2 1736.1,591.5 1736.5,592.1 1737.0,590.2 1737.5,589.9 1738.0,590.3 1738.4,587.9 1738.9,590.5 1739.4,590.4 1739.8,588.7 1740.3,587.9 1740.8,588.3 1741.3,588.9 1741.7,587.0 1742.2,589.8 1742.7,588.8 1743.1,587.7 1743.6,589.0 1744.1,587.0 1744.6,587.3 1745.0,586.9 1745.5,586.4 1746.0,585.9 1746.4,586.1 1746.9,586.1 1747.4,588.0 1747.9,586.3 1748.3,586.9 1748.8,586.6 1749.3,588.5 1749.7,587.0 1750.2,586.3 1750.7,584.6 1751.2,587.2 1751.6,587.8 1752.1,586.0 1752.6,584.4 1753.0,585.5 1753.5,586.7 1754.0,586.2 1754.5,587.4 1754.9,586.6 1755.4,587.3 1755.9,585.2 1756.3,588.3 1756.8,587.2 1757.3,587.6 1757.8,588.4 1758.2,588.4 1758.7,586.5 1759.2,590.6 1759.6,589.3 1760.1,588.9 1760.6,591.2 1761.1,591.9 1761.5,592.7 1762.0,589.5 1762.5,591.3 1762.9,592.9 1763.4,593.3 1763.9,593.5 1764.3,593.3 1764.8,595.0 1765.3,593.9 1765.8,594.3 1766.2,594.1 1766.7,595.5 1767.2,595.8 1767.6,596.6 1768.1,596.4 1768.6,597.4 1769.1,598.8 1769.5,599.6 1770.0,600.1 1770.5,600.0 1770.9,601.4 1771.4,601.2 1771.9,602.4 1772.4,602.0 1772.8,602.7 1773.3,602.9 1773.8,602.4 1774.2,604.0 1774.7,606.3 1775.2,604.4 1775.7,605.4 1776.1,605.7 1776.6,606.5 1777.1,607.6 1777.5,608.7 1778.0,607.3 1778.5,607.4 1779.0,610.3 1779.4,609.5 1779.9,611.3 1780.4,611.5 1780.8,609.2 1781.3,610.7 1781.8,609.4 1782.3,612.8 1782.7,611.4 1783.2,610.9 1783.7,611.3 1784.1,610.6 1784.6,612.4 1785.1,612.6 1785.6,612.9 1786.0,612.9 1786.5,613.6 1787.0,614.2 1787.4,614.6 1787.9,614.0 1788.4,615.3 1788.9,615.9 1789.3,614.3 1789.8,615.7 1790.3,616.0 1790.7,615.5 1791.2,616.5 1791.7,617.1 1792.1,615.4 1792.6,615.3 1793.1,617.6 1793.6,617.0 1794.0,616.4 1794.5,615.8 1795.0,616.4 1795.4,616.5 1795.9,617.8 1796.4,617.3 1796.9,616.5 1797.3,618.8 1797.8,616.8 1798.3,617.6 1798.7,618.5 1799.2,617.4 1799.7,617.6 1800.2,618.7 1800.6,618.3 1801.1,619.0 1801.6,618.5 1802.0,619.4 1802.5,619.8 1803.0,617.6 1803.5,620.0 1803.9,619.9 1804.4,619.5 1804.9,616.5 1805.3,620.1 1805.8,619.1 1806.3,619.4 1806.8,617.9 1807.2,619.5 1807.7,617.5 1808.2,618.8 1808.6,617.4 1809.1,618.5 1809.6,618.9 1810.1,620.1 1810.5,619.4 1811.0,619.0 1811.5,619.2 1811.9,618.3 1812.4,618.9 1812.9,618.1 1813.4,619.1 1813.8,619.2 1814.3,618.0 1814.8,618.6 1815.2,618.1 1815.7,618.5 1816.2,619.5 1816.7,618.7 1817.1,618.5 1817.6,618.8 1818.1,617.5 1818.5,621.0 1819.0,618.7 1819.5,618.8 1819.9,618.0 1820.4,619.5 1820.9,618.7 1821.4,619.7 1821.8,620.5 1822.3,620.0 1822.8,617.7 1823.2,620.4 1823.7,618.6 1824.2,620.4 1824.7,618.2 1825.1,618.4 1825.6,618.9 1826.1,619.5 1826.5,619.0 1827.0,618.7 1827.5,619.4 1828.0,621.1 1828.4,618.3 1828.9,619.0 1829.4,619.1 1829.8,619.5 1830.3,622.5 1830.8,619.2 1831.3,619.4 1831.7,618.5 1832.2,618.8 1832.7,619.8 1833.1,618.5 1833.6,619.2 1834.1,618.8 1834.6,619.2 1835.0,618.4 1835.5,618.4 1836.0,618.5 1836.4,617.4 1836.9,617.9 1837.4,618.5 1837.9,619.4 1838.3,619.3 1838.8,618.9 1839.3,618.9 1839.7,619.8 1840.2,620.1 1840.7,618.5 1841.2,618.9 1841.6,618.9 1842.1,620.7 1842.6,620.7 1843.0,618.7 1843.5,618.0 1844.0,618.0 1844.5,618.5 1844.9,618.2 1845.4,620.5 1845.9,618.1 1846.3,618.5 1846.8,621.3 1847.3,617.7 1847.7,617.8 1848.2,619.4 1848.7,620.2 1849.2,617.6 1849.6,618.9 1850.1,620.2 1850.6,619.7 1851.0,618.4 1851.5,619.5 1852.0,617.3 1852.5,619.7 1852.9,618.2 1853.4,617.8 1853.9,618.8 1854.3,618.4 1854.8,619.6 1855.3,617.7 1855.8,618.9 1856.2,619.6 1856.7,618.9 1857.2,617.8 1857.6,619.1 1858.1,620.5 1858.6,620.0 1859.1,617.7 1859.5,619.1 1860.0,619.9" fill="none" stroke="#000000" stroke-width="2.3" stroke-linejoin="round"/>
<text transform="translate(1965.7,629.6) scale(1.012,1.065)" font-size="26.7" text-anchor="end">−0.95 V</text>
<line x1="1082.5" y1="681.4" x2="1861.4" y2="681.4" stroke="#000" stroke-width="3.2"/>
<rect x="1310.5" y="678.4" width="14" height="6" fill="#fff"/>
<line x1="1304.5" y1="691.4" x2="1318.5" y2="671.4" stroke="#000" stroke-width="3.2"/>
<line x1="1316.5" y1="691.4" x2="1330.5" y2="671.4" stroke="#000" stroke-width="3.2"/>
<rect x="1620.7" y="678.4" width="14" height="6" fill="#fff"/>
<line x1="1614.7" y1="691.4" x2="1628.7" y2="671.4" stroke="#000" stroke-width="3.2"/>
<line x1="1626.7" y1="691.4" x2="1640.7" y2="671.4" stroke="#000" stroke-width="3.2"/>
<line x1="1117.1" y1="681.4" x2="1117.1" y2="670.4" stroke="#000" stroke-width="3.2"/>
<text transform="translate(1117.1,719.6) scale(1.0,1.04)" font-size="33.5" font-weight="bold" text-anchor="middle">400</text>
<line x1="1245.8" y1="681.4" x2="1245.8" y2="670.4" stroke="#000" stroke-width="3.2"/>
<text transform="translate(1245.8,719.6) scale(1.0,1.04)" font-size="33.5" font-weight="bold" text-anchor="middle">800</text>
<line x1="1361.2" y1="681.4" x2="1361.2" y2="670.4" stroke="#000" stroke-width="3.2"/>
<text transform="translate(1361.2,719.6) scale(1.0,1.04)" font-size="33.5" font-weight="bold" text-anchor="middle">1600</text>
<line x1="1509.4" y1="681.4" x2="1509.4" y2="670.4" stroke="#000" stroke-width="3.2"/>
<text transform="translate(1509.4,719.6) scale(1.0,1.04)" font-size="33.5" font-weight="bold" text-anchor="middle">2000</text>
<line x1="1709.5" y1="681.4" x2="1709.5" y2="670.4" stroke="#000" stroke-width="3.2"/>
<text transform="translate(1709.5,719.6) scale(1.0,1.04)" font-size="33.5" font-weight="bold" text-anchor="middle">3200</text>
<line x1="1860.0" y1="681.4" x2="1860.0" y2="670.4" stroke="#000" stroke-width="3.2"/>
<text transform="translate(1860.0,719.6) scale(1.0,1.04)" font-size="33.5" font-weight="bold" text-anchor="middle">4000</text>
<text transform="translate(1502.6,772.8) scale(1.012,1.065)" font-size="35.5" font-weight="bold" text-anchor="middle">Raman Shift / cm<tspan font-size="24" dy="-14">−1</tspan></text>
<text transform="translate(985.6,42.0) scale(1.012,1.065)" font-size="48.5" font-weight="bold">b</text>
<path d="M1151,23.4 H1161 M1156,23.4 V51.6 M1151,51.6 H1161" stroke="#000" stroke-width="3.3" fill="none"/>
<text transform="translate(1180.0,48.0) scale(1.012,1.065)" font-size="26.5" font-weight="bold">1000 counts</text>
<text transform="translate(1112.4,118.4) scale(1.012,1.065)" font-size="26.5" font-weight="bold">Ru-O</text>
<text transform="translate(1198.8,111.0) scale(1.012,1.065)" font-size="26.5" font-weight="bold">*OH</text>
<text transform="translate(1398.8,114.8) scale(1.012,1.065)" font-size="26.5" font-weight="bold">distinct *H</text>
<text transform="translate(1667.0,89.0) scale(1.012,1.065)" font-size="26.3" font-weight="bold">Ʋ<tspan font-size="18.2" dy="8.3">O-H</tspan><tspan dy="-8.3"> of *H</tspan><tspan font-size="18.2" dy="7.5">2</tspan><tspan dy="-7.5">O</tspan></text>
<text transform="translate(1137.0,602.3) scale(1.012,1.065)" font-size="26.5">516</text>
<text transform="translate(1198.3,597.0) scale(1.012,1.065)" font-size="26.5">715</text>
<text transform="translate(1549.3,604.3) scale(1.012,1.065)" font-size="26.5">1960</text>
<text transform="translate(1456.3,652.5) scale(1.012,1.065)" font-size="26.5">1825</text>
<text transform="translate(1719.0,580.5) scale(1.012,1.065)" font-size="26.5">3410</text>
<line x1="1494.1" y1="575.2" x2="1528.6" y2="587.2" stroke="#000" stroke-width="1.4"/><polygon points="1541.8,591.8 1527.2,591.3 1530.0,583.1" fill="#000"/>
<line x1="1442.1" y1="598.5" x2="1449.6" y2="616.4" stroke="#000" stroke-width="1.4"/><polygon points="1454.6,628.4 1445.6,618.1 1453.6,614.7" fill="#000"/>
<polyline points="81.5,1193.9 81.9,1204.5 82.4,1197.6 82.8,1199.9 83.3,1199.6 83.7,1199.1 84.1,1203.2 84.6,1199.1 85.0,1200.6 85.4,1190.9 85.9,1198.1 86.3,1199.4 86.8,1199.2 87.2,1200.1 87.6,1201.0 88.1,1199.5 88.5,1197.5 89.0,1199.1 89.4,1196.4 89.8,1199.0 90.3,1198.5 90.7,1195.0 91.1,1197.3 91.6,1199.7 92.0,1199.0 92.5,1197.3 92.9,1194.1 93.3,1199.2 93.8,1199.1 94.2,1196.3 94.6,1200.6 95.1,1199.2 95.5,1196.5 96.0,1197.2 96.4,1198.4 96.8,1197.0 97.3,1205.1 97.7,1196.2 98.1,1200.7 98.6,1202.4 99.0,1197.9 99.5,1196.9 99.9,1199.5 100.3,1201.0 100.8,1198.4 101.2,1198.6 101.6,1195.2 102.1,1196.7 102.5,1197.9 103.0,1195.8 103.4,1198.8 103.8,1200.4 104.3,1196.9 104.7,1196.8 105.1,1198.6 105.6,1199.8 106.0,1197.4 106.5,1203.6 106.9,1196.2 107.3,1196.5 107.8,1201.3 108.2,1197.3 108.7,1199.5 109.1,1195.4 109.5,1201.7 110.0,1198.9 110.4,1195.0 110.8,1193.8 111.3,1201.2 111.7,1197.1 112.2,1195.0 112.6,1196.9 113.0,1191.6 113.5,1197.7 113.9,1193.9 114.3,1196.8 114.8,1190.8 115.2,1193.8 115.7,1194.3 116.1,1197.1 116.5,1188.9 117.0,1190.7 117.4,1190.4 117.8,1189.2 118.3,1190.7 118.7,1192.6 119.2,1192.7 119.6,1192.4 120.0,1187.1 120.5,1193.4 120.9,1191.1 121.3,1190.3 121.8,1188.8 122.2,1187.8 122.7,1191.8 123.1,1192.8 123.5,1188.7 124.0,1185.8 124.4,1186.8 124.9,1188.1 125.3,1189.3 125.7,1187.9 126.2,1189.2 126.6,1186.9 127.0,1190.7 127.5,1188.7 127.9,1189.5 128.4,1188.2 128.8,1189.1 129.2,1184.0 129.7,1186.7 130.1,1187.0 130.5,1195.4 131.0,1191.8 131.4,1192.7 131.9,1190.4 132.3,1197.2 132.7,1189.6 133.2,1190.2 133.6,1196.0 134.0,1195.5 134.5,1195.5 134.9,1193.8 135.4,1192.8 135.8,1189.8 136.2,1195.3 136.7,1193.3 137.1,1195.0 137.5,1191.6 138.0,1194.2 138.4,1193.0 138.9,1198.8 139.3,1197.0 139.7,1198.6 140.2,1193.4 140.6,1195.5 141.0,1197.9 141.5,1198.4 141.9,1196.3 142.4,1199.2 142.8,1199.8 143.2,1196.7 143.7,1192.2 144.1,1198.5 144.6,1199.3 145.0,1200.8 145.4,1201.2 145.9,1197.0 146.3,1196.3 146.7,1198.2 147.2,1197.5 147.6,1198.0 148.1,1198.0 148.5,1201.9 148.9,1199.4 149.4,1198.1 149.8,1200.2 150.2,1199.5 150.7,1200.3 151.1,1199.2 151.6,1196.4 152.0,1199.3 152.4,1198.7 152.9,1196.5 153.3,1196.9 153.7,1194.5 154.2,1203.2 154.6,1196.4 155.1,1199.4 155.5,1198.0 155.9,1196.4 156.4,1195.8 156.8,1195.8 157.2,1197.8 157.7,1194.4 158.1,1198.7 158.6,1198.3 159.0,1196.1 159.4,1199.1 159.9,1192.7 160.3,1195.1 160.7,1192.1 161.2,1196.6 161.6,1196.6 162.1,1194.1 162.5,1190.9 162.9,1191.6 163.4,1186.5 163.8,1184.4 164.3,1177.9 164.7,1181.4 165.1,1177.3 165.6,1181.9 166.0,1184.1 166.4,1185.4 166.9,1188.6 167.3,1187.7 167.8,1187.6 168.2,1191.3 168.6,1191.7 169.1,1190.6 169.5,1194.7 169.9,1195.6 170.4,1197.2 170.8,1200.7 171.3,1195.5 171.7,1201.5 172.1,1196.1 172.6,1197.8 173.0,1195.2 173.4,1198.1 173.9,1199.9 174.3,1197.2 174.8,1199.4 175.2,1198.5 175.6,1198.1 176.1,1198.5 176.5,1198.6 176.9,1200.1 177.4,1198.7 177.8,1203.2 178.3,1198.7 178.7,1201.1 179.1,1195.7 179.6,1195.4 180.0,1202.8 180.5,1198.0 180.9,1198.7 181.3,1200.8 181.8,1197.2 182.2,1199.5 182.6,1202.5 183.1,1199.0 183.5,1198.8 184.0,1198.2 184.4,1201.3 184.8,1197.0 185.3,1196.8 185.7,1201.1 186.1,1200.0 186.6,1198.6 187.0,1199.8 187.5,1194.5 187.9,1198.0 188.3,1200.8 188.8,1200.3 189.2,1198.6 189.6,1193.2 190.1,1198.9 190.5,1198.2 191.0,1197.3 191.4,1198.6 191.8,1193.3 192.3,1199.7 192.7,1196.8 193.1,1198.1 193.6,1197.1 194.0,1201.2 194.5,1194.4 194.9,1198.8 195.3,1198.4 195.8,1200.7 196.2,1200.2 196.6,1197.2 197.1,1196.2 197.5,1196.8 198.0,1195.7 198.4,1196.9 198.8,1198.5 199.3,1196.6 199.7,1197.2 200.2,1198.8 200.6,1196.9 201.0,1195.6 201.5,1198.0 201.9,1199.3 202.3,1196.9 202.8,1194.2 203.2,1199.0 203.7,1198.7 204.1,1198.8 204.5,1195.7 205.0,1202.8 205.4,1197.7 205.8,1195.8 206.3,1200.4 206.7,1195.1 207.2,1197.3 207.6,1199.8 208.0,1198.1 208.5,1202.1 208.9,1199.8 209.3,1194.3 209.8,1200.6 210.2,1194.3 210.7,1198.7 211.1,1196.3 211.5,1198.4 212.0,1203.7 212.4,1199.9 212.8,1198.1 213.3,1201.2 213.7,1201.6 214.2,1197.7 214.6,1200.0 215.0,1202.4 215.5,1200.1 215.9,1196.6 216.3,1199.6 216.8,1196.4 217.2,1195.0 217.7,1198.5 218.1,1201.1 218.5,1201.5 219.0,1198.6 219.4,1196.5 219.9,1197.9 220.3,1197.3 220.7,1199.6 221.2,1197.9 221.6,1199.6 222.0,1199.3 222.5,1201.5 222.9,1202.2 223.4,1199.7 223.8,1201.1 224.2,1200.7 224.7,1197.0 225.1,1198.8 225.5,1191.8 226.0,1196.4 226.4,1200.0 226.9,1196.8 227.3,1197.7 227.7,1200.1 228.2,1196.0 228.6,1200.3 229.0,1205.6 229.5,1196.7 229.9,1200.0 230.4,1195.1 230.8,1200.0 231.2,1201.3 231.7,1195.0 232.1,1201.0 232.5,1198.1 233.0,1195.2 233.4,1198.3 233.9,1198.7 234.3,1198.3 234.7,1196.6 235.2,1200.4 235.6,1197.1 236.1,1197.2 236.5,1193.2 236.9,1199.3 237.4,1200.6 237.8,1196.8 238.2,1199.5 238.7,1197.9 239.1,1198.2 239.6,1195.9 240.0,1200.0 240.4,1198.8 240.9,1204.4 241.3,1200.6 241.7,1195.0 242.2,1200.1 242.6,1200.2 243.1,1201.3 243.5,1197.2 243.9,1198.1 244.4,1201.3 244.8,1197.0 245.2,1197.9 245.7,1196.8 246.1,1200.0 246.6,1194.5 247.0,1197.6 247.4,1198.8 247.9,1199.7 248.3,1199.1 248.7,1196.6 249.2,1199.2 249.6,1196.1 250.1,1197.2 250.5,1195.4 250.9,1196.7 251.4,1198.7 251.8,1202.9 252.2,1197.8 252.7,1196.7 253.1,1198.2 253.6,1197.3 254.0,1199.6 254.4,1199.4 254.9,1200.7 255.3,1195.4 255.8,1198.2 256.2,1199.7 256.6,1201.6 257.1,1198.9 257.5,1195.2 257.9,1197.5 258.4,1200.2 258.8,1195.2 259.3,1195.2 259.7,1196.3 260.1,1196.7 260.6,1195.9 261.0,1197.3 261.4,1196.7 261.9,1200.3 262.3,1195.1 262.8,1198.0 263.2,1193.9 263.6,1203.2 264.1,1196.9 264.5,1196.3 264.9,1199.3 265.4,1197.5 265.8,1196.8 266.3,1197.2 266.7,1199.8 267.1,1198.8 267.6,1196.2 268.0,1195.6 268.4,1198.3 268.9,1198.3 269.3,1198.1 269.8,1196.1 270.2,1200.9 270.6,1201.6 271.1,1198.2 271.5,1201.1 271.9,1199.9 272.4,1198.3 272.8,1197.4 273.3,1201.0 273.7,1196.7 274.1,1202.6 274.6,1197.3 275.0,1202.1 275.5,1201.4 275.9,1197.0 276.3,1199.4 276.8,1200.3 277.2,1199.5 277.6,1197.4 278.1,1198.6 278.5,1198.6 279.0,1196.1 279.4,1200.1 279.8,1199.6 280.3,1199.7 280.7,1195.8 281.1,1196.2 281.6,1195.5 282.0,1198.6 282.5,1198.9 282.9,1196.5 283.3,1199.4 283.8,1196.6 284.2,1196.8 284.6,1200.1 285.1,1198.7 285.5,1198.8 286.0,1194.5 286.4,1192.5 286.8,1198.7 287.3,1198.5 287.7,1203.7 288.1,1198.0 288.6,1198.5 289.0,1201.0 289.5,1196.7 289.9,1202.1 290.3,1199.0 290.8,1198.2 291.2,1201.4 291.6,1196.5 292.1,1196.0 292.5,1201.7 293.0,1201.7 293.4,1197.1 293.8,1198.5 294.3,1201.3 294.7,1199.1 295.2,1198.7 295.6,1198.8 296.0,1196.6 296.5,1197.6 296.9,1194.4 297.3,1195.3 297.8,1196.9 298.2,1196.0 298.7,1195.4 299.1,1196.8 299.5,1201.3 300.0,1196.5 300.4,1198.3 300.8,1194.7 301.3,1198.2 301.7,1197.2 302.2,1197.7 302.6,1194.6 303.0,1198.0 303.5,1199.1 303.9,1197.7 304.3,1199.4 304.8,1198.1 305.2,1198.5 305.7,1197.8 306.1,1194.0 306.5,1199.4 307.0,1198.3 307.4,1198.9 307.8,1196.9 308.3,1201.1 308.7,1200.0 309.2,1198.5 309.6,1197.2 310.0,1198.5 310.5,1199.6 310.9,1200.4 311.4,1197.2 311.8,1195.1 312.2,1197.7 312.7,1198.0 313.1,1197.4 313.5,1200.6 314.0,1199.1 314.4,1199.0 314.9,1197.7 315.3,1198.5 315.7,1201.2 316.2,1195.8 316.6,1194.5 317.0,1199.0 317.5,1197.5 317.9,1197.8 318.4,1196.6 318.8,1201.8 319.2,1194.7 319.7,1199.4 320.1,1195.5 320.5,1198.2 321.0,1199.2 321.4,1198.7 321.9,1196.3 322.3,1200.3 322.7,1199.2 323.2,1199.4 323.6,1202.3 324.0,1195.3 324.5,1197.0 324.9,1198.4 325.4,1195.6 325.8,1200.5 326.2,1198.4 326.7,1194.3 327.1,1196.0 327.5,1203.3 328.0,1205.8 328.4,1200.5 328.9,1195.7 329.3,1199.1 329.7,1198.5 330.2,1196.5 330.6,1199.8 331.1,1197.2 331.5,1195.7 331.9,1196.3 332.4,1196.3 332.8,1198.4 333.2,1195.6 333.7,1197.5 334.1,1193.2 334.6,1190.0 335.0,1197.3 335.4,1200.2 335.9,1195.7 336.3,1193.5 336.7,1191.5 337.2,1190.9 337.6,1194.7 338.1,1194.3 338.5,1189.1 338.9,1194.0 339.4,1188.6 339.8,1191.2 340.2,1188.5 340.7,1188.3 341.1,1187.8 341.6,1187.5 342.0,1191.5 342.4,1188.4 342.9,1189.0 343.3,1188.4 343.7,1186.4 344.2,1190.0 344.6,1191.2 345.1,1191.5 345.5,1190.9 345.9,1188.8 346.4,1192.8 346.8,1188.7 347.2,1191.2 347.7,1192.8 348.1,1195.8 348.6,1192.6 349.0,1192.1 349.4,1198.1 349.9,1191.7 350.3,1191.1 350.8,1194.4 351.2,1194.4 351.6,1190.3 352.1,1193.3 352.5,1198.4 352.9,1196.6 353.4,1197.1 353.8,1197.2 354.3,1202.4 354.7,1195.4 355.1,1198.6 355.6,1196.9 356.0,1197.6 356.4,1195.3 356.9,1198.0 357.3,1199.2 357.8,1196.1 358.2,1194.1 358.6,1198.1 359.1,1194.2 359.5,1196.7 359.9,1198.5 360.4,1193.7 360.8,1199.1 361.3,1194.8 361.7,1198.3 362.1,1196.0 362.6,1199.9 363.0,1198.9 363.4,1194.5 363.9,1196.4 364.3,1196.7 364.8,1197.8 365.2,1195.6 365.6,1199.8 366.1,1199.1 366.5,1196.8 367.0,1198.3 367.4,1197.9 367.8,1196.3 368.3,1196.4 368.7,1196.5 369.1,1192.0 369.6,1193.4 370.0,1192.8 370.5,1195.5 370.9,1196.4 371.3,1198.4 371.8,1195.7 372.2,1199.5 372.6,1195.8 373.1,1192.5 373.5,1190.2 374.0,1191.4 374.4,1195.3 374.8,1191.8 375.3,1194.3 375.7,1190.1 376.1,1191.8 376.6,1189.0 377.0,1184.4 377.5,1187.6 377.9,1183.6 378.3,1187.7 378.8,1188.0 379.2,1183.3 379.6,1181.3 380.1,1185.5 380.5,1182.9 381.0,1185.1 381.4,1180.9 381.8,1177.0 382.3,1177.8 382.7,1177.4 383.1,1177.8 383.6,1172.2 384.0,1169.7 384.5,1168.6 384.9,1167.9 385.3,1170.1 385.8,1161.9 386.2,1165.1 386.7,1164.5 387.1,1161.9 387.5,1168.3 388.0,1163.5 388.4,1163.9 388.8,1163.1 389.3,1161.4 389.7,1164.2 390.2,1170.3 390.6,1167.8 391.0,1167.6 391.5,1168.9 391.9,1173.3 392.3,1175.4 392.8,1171.5 393.2,1173.2 393.7,1175.3 394.1,1180.4 394.5,1173.5 395.0,1185.4 395.4,1180.6 395.8,1176.0 396.3,1182.2 396.7,1182.3 397.2,1186.4 397.6,1181.4 398.0,1188.3 398.5,1185.5 398.9,1186.4 399.3,1189.8 399.8,1185.9 400.2,1191.8 400.7,1190.6 401.1,1189.5 401.5,1190.8 402.0,1189.1 402.4,1188.4 402.8,1191.4 403.3,1191.7 403.7,1191.8 404.2,1191.7 404.6,1190.1 405.0,1191.6 405.5,1190.6 405.9,1191.0 406.4,1191.7 406.8,1188.8 407.2,1190.7 407.7,1188.2 408.1,1184.6 408.5,1186.4 409.0,1182.5 409.4,1181.8 409.9,1176.9 410.3,1174.4 410.7,1168.8 411.2,1165.1 411.6,1160.8 412.0,1156.6 412.5,1157.9 412.9,1158.4 413.4,1161.6 413.8,1164.9 414.2,1169.2 414.7,1174.3 415.1,1175.2 415.5,1176.3 416.0,1180.9 416.4,1184.9 416.9,1184.0 417.3,1188.8 417.7,1190.6 418.2,1192.6 418.6,1193.2 419.0,1193.0 419.5,1190.5 419.9,1194.1 420.4,1195.7 420.8,1195.4 421.2,1195.2 421.7,1197.5 422.1,1195.1 422.6,1194.5 423.0,1195.2 423.4,1195.0 423.9,1197.8 424.3,1198.5 424.7,1194.4 425.2,1194.8 425.6,1198.6 426.1,1196.2 426.5,1196.6 426.9,1195.9 427.4,1196.5 427.8,1197.5 428.2,1196.6 428.7,1196.7 429.1,1197.1 429.6,1199.6 430.0,1201.3 430.4,1198.2 430.9,1199.5 431.3,1196.9 431.7,1196.3 432.2,1196.9 432.6,1197.9 433.1,1197.3 433.5,1195.8 433.9,1198.5 434.4,1196.2 434.8,1196.5 435.2,1197.2 435.7,1195.5 436.1,1198.6 436.6,1196.3 437.0,1198.9 437.4,1198.7 437.9,1199.2 438.3,1197.1 438.7,1199.0 439.2,1197.7 439.6,1199.3 440.1,1196.3 440.5,1195.2 440.9,1197.5 441.4,1195.5 441.8,1197.0 442.3,1194.8 442.7,1197.7 443.1,1200.1 443.6,1195.8 444.0,1198.1 444.4,1199.4 444.9,1198.8 445.3,1200.2 445.8,1198.2 446.2,1199.5 446.6,1195.9 447.1,1197.1 447.5,1200.3 447.9,1200.1 448.4,1198.8 448.8,1200.7 449.3,1198.2 449.7,1198.1 450.1,1199.1 450.6,1198.8 451.0,1197.4 451.4,1196.1 451.9,1196.0 452.3,1198.0 452.8,1196.9 453.2,1199.1 453.6,1197.5 454.1,1199.5 454.5,1197.1 454.9,1199.9 455.4,1199.5 455.8,1198.2 456.3,1197.4 456.7,1200.2 457.1,1198.9 457.6,1198.0 458.0,1197.9 458.4,1199.4 458.9,1198.1 459.3,1198.6 459.8,1196.2 460.2,1197.4 460.6,1200.1 461.1,1201.3 461.5,1198.1 462.0,1196.6 462.4,1198.0 462.8,1197.0 463.3,1198.9 463.7,1200.2 464.1,1197.2 464.6,1198.1 465.0,1197.3 465.5,1200.2 465.9,1198.0 466.3,1199.2 466.8,1197.1 467.2,1199.1 467.6,1199.1 468.1,1199.1 468.5,1196.5 469.0,1198.3 469.4,1199.4 469.8,1199.7 470.3,1199.8 470.7,1196.3 471.1,1200.9 471.6,1199.5 472.0,1197.4 472.5,1196.7 472.9,1198.5 473.3,1197.2 473.8,1197.3 474.2,1197.0 474.6,1198.3 475.1,1196.0 475.5,1198.0 476.0,1196.2 476.4,1199.9 476.8,1197.0 477.3,1200.1 477.7,1200.4 478.1,1197.6 478.6,1199.5 479.0,1197.7 479.5,1199.8 479.9,1196.1 480.3,1198.3 480.8,1199.9 481.2,1198.1 481.7,1197.1 482.1,1199.4 482.5,1197.6 483.0,1195.5 483.4,1197.1 483.8,1198.3 484.3,1199.1 484.7,1197.5 485.2,1200.4 485.6,1202.6 486.0,1199.3 486.5,1199.8 486.9,1195.9 487.3,1198.1 487.8,1199.7 488.2,1200.0 488.7,1197.6 489.1,1199.5 489.5,1199.1 490.0,1198.5 490.4,1198.2 490.8,1198.2 491.3,1198.2 491.7,1196.5 492.2,1195.9 492.6,1200.6 493.0,1194.7 493.5,1198.1 493.9,1196.6 494.3,1199.4 494.8,1197.9 495.2,1198.0 495.7,1198.2 496.1,1197.1 496.5,1197.4 497.0,1199.7 497.4,1198.5 497.9,1197.3 498.3,1197.4 498.7,1198.8 499.2,1198.7 499.6,1198.6 500.0,1199.9 500.5,1200.1 500.9,1196.1 501.4,1198.9 501.8,1198.2 502.2,1199.4 502.7,1196.5 503.1,1195.9 503.5,1198.7 504.0,1197.6 504.4,1199.4 504.9,1195.9 505.3,1197.1 505.7,1199.5 506.2,1196.6 506.6,1197.9 507.0,1197.8 507.5,1197.9 507.9,1199.3 508.4,1199.1 508.8,1197.5 509.2,1198.4 509.7,1199.7 510.1,1195.5 510.5,1198.7 511.0,1199.2 511.4,1199.4 511.9,1197.4 512.3,1197.0 512.7,1198.0 513.2,1197.2 513.6,1200.5 514.0,1198.9 514.5,1199.0 514.9,1198.4 515.4,1197.7 515.8,1201.2 516.2,1194.0 516.7,1199.6 517.1,1197.9 517.6,1197.2 518.0,1197.2 518.4,1198.1 518.9,1202.5 519.3,1199.9 519.7,1197.4 520.2,1199.7 520.6,1199.9 521.1,1201.7 521.5,1196.7 521.9,1197.7 522.4,1199.7 522.8,1198.6 523.2,1198.6 523.7,1200.0 524.1,1198.8 524.6,1198.1 525.0,1197.7 525.4,1196.7 525.9,1198.4 526.3,1199.1 526.7,1197.9 527.2,1199.4 527.6,1200.2 528.1,1196.9 528.5,1199.0 528.9,1198.3 529.4,1197.6 529.8,1200.0 530.2,1197.6 530.7,1197.8 531.1,1198.6 531.6,1197.9 532.0,1199.5 532.4,1201.6 532.9,1198.9 533.3,1199.8 533.7,1197.3 534.2,1198.1 534.6,1199.2 535.1,1198.4 535.5,1196.6 535.9,1196.9 536.4,1198.0 536.8,1197.9 537.3,1198.9 537.7,1198.7 538.1,1197.7 538.6,1198.7 539.0,1198.1 539.4,1200.1 539.9,1200.8 540.3,1200.9 540.8,1199.1 541.2,1196.6 541.6,1196.8 542.1,1199.9 542.5,1200.7 542.9,1197.4 543.4,1197.9 543.8,1200.4 544.3,1197.0 544.7,1198.3 545.1,1196.6 545.6,1198.0 546.0,1197.3 546.4,1198.1 546.9,1199.8 547.3,1198.8 547.8,1199.5 548.2,1197.3 548.6,1199.9 549.1,1200.7 549.5,1197.6 549.9,1196.9 550.4,1196.5 550.8,1197.0 551.3,1200.6 551.7,1199.5 552.1,1199.3 552.6,1198.5 553.0,1201.5 553.5,1198.5 553.9,1198.1 554.3,1199.8 554.8,1198.4 555.2,1196.8 555.6,1198.5 556.1,1197.0 556.5,1197.1 557.0,1197.9 557.4,1198.0 557.8,1199.0 558.3,1196.8 558.7,1199.2 559.1,1199.5 559.6,1197.5 560.0,1199.5 560.5,1197.9 560.9,1197.0 561.3,1198.4 561.8,1198.4 562.2,1197.2 562.6,1197.5 563.1,1200.7 563.5,1200.4 564.0,1196.7 564.4,1198.0 564.8,1201.4 565.3,1200.4 565.7,1198.5 566.1,1199.9 566.6,1197.9 567.0,1198.4 567.5,1197.8 567.9,1200.2 568.3,1197.6 568.8,1195.8 569.2,1199.6 569.6,1196.7 570.1,1197.1 570.5,1197.6 571.0,1198.6 571.4,1200.1 571.8,1199.7 572.3,1197.4 572.7,1197.1 573.2,1196.8 573.6,1197.2 574.0,1197.2 574.5,1199.1 574.9,1200.2 575.3,1198.2 575.8,1197.8 576.2,1198.4 576.7,1200.6 577.1,1199.2 577.5,1200.6 578.0,1198.3 578.4,1200.0 578.8,1198.7 579.3,1198.1 579.7,1198.3 580.2,1196.6 580.6,1200.1 581.0,1201.6 581.5,1197.2 581.9,1196.6 582.3,1196.5 582.8,1198.1 583.2,1197.8 583.7,1198.3 584.1,1200.3 584.5,1199.3 585.0,1197.8 585.4,1199.3 585.8,1195.8 586.3,1200.7 586.7,1199.1 587.2,1197.0 587.6,1199.4 588.0,1200.1 588.5,1200.4 588.9,1199.5 589.3,1196.4 589.8,1197.9 590.2,1197.8 590.7,1199.2 591.1,1197.3 591.5,1198.4 592.0,1199.8 592.4,1199.1 592.9,1198.2 593.3,1196.9 593.7,1198.6 594.2,1197.8 594.6,1195.7 595.0,1199.6 595.5,1200.2 595.9,1197.1 596.4,1197.9 596.8,1198.6 597.2,1198.1 597.7,1199.0 598.1,1197.8 598.5,1199.0 599.0,1197.4 599.4,1200.1 599.9,1199.6 600.3,1198.3 600.7,1199.2 601.2,1197.5 601.6,1198.6 602.0,1199.3 602.5,1198.2 602.9,1199.2 603.4,1200.7 603.8,1200.1 604.2,1199.6 604.7,1199.1 605.1,1198.3 605.5,1197.2 606.0,1197.7 606.4,1196.0 606.9,1196.7 607.3,1198.7 607.7,1196.2 608.2,1196.8 608.6,1199.1 609.1,1198.0 609.5,1196.9 609.9,1198.1 610.4,1197.0 610.8,1197.9 611.2,1197.4 611.7,1198.9 612.1,1197.9 612.6,1198.9 613.0,1197.5 613.4,1200.8 613.9,1197.9 614.3,1196.6 614.7,1197.6 615.2,1198.4 615.6,1197.6 616.1,1199.5 616.5,1199.5 616.9,1198.8 617.4,1198.5 617.8,1196.9 618.2,1199.5 618.7,1196.8 619.1,1200.4 619.6,1199.3 620.0,1198.2 620.4,1196.5 620.9,1199.0 621.3,1201.1 621.7,1197.5 622.2,1198.1 622.6,1199.5 623.1,1199.5 623.5,1198.9 623.9,1197.8 624.4,1197.0 624.8,1199.9 625.2,1194.6 625.7,1197.8 626.1,1198.2 626.6,1196.7 627.0,1197.5 627.4,1194.3 627.9,1196.0 628.3,1198.0 628.8,1197.9 629.2,1198.0 629.6,1197.7 630.1,1196.2 630.5,1198.0 630.9,1194.7 631.4,1197.0 631.8,1197.0 632.3,1195.4 632.7,1199.4 633.1,1197.9 633.6,1195.6 634.0,1196.3 634.4,1196.2 634.9,1195.5 635.3,1196.8 635.8,1196.1 636.2,1197.6 636.6,1198.2 637.1,1193.7 637.5,1196.6 637.9,1196.1 638.4,1193.0 638.8,1193.3 639.3,1195.4 639.7,1195.2 640.1,1194.4 640.6,1195.4 641.0,1193.1 641.4,1193.5 641.9,1193.3 642.3,1192.2 642.8,1192.1 643.2,1190.3 643.6,1190.5 644.1,1194.8 644.5,1190.9 644.9,1193.5 645.4,1193.6 645.8,1190.4 646.3,1192.1 646.7,1191.3 647.1,1189.1 647.6,1191.2 648.0,1191.3 648.5,1189.3 648.9,1187.7 649.3,1188.4 649.8,1191.0 650.2,1189.5 650.6,1188.4 651.1,1185.2 651.5,1186.3 652.0,1186.1 652.4,1185.3 652.8,1187.1 653.3,1185.6 653.7,1185.3 654.1,1187.0 654.6,1185.3 655.0,1184.1 655.5,1186.1 655.9,1183.1 656.3,1182.8 656.8,1182.1 657.2,1184.3 657.6,1182.7 658.1,1180.5 658.5,1181.0 659.0,1182.9 659.4,1181.1 659.8,1179.1 660.3,1180.9 660.7,1179.9 661.1,1176.5 661.6,1179.8 662.0,1179.5 662.5,1180.4 662.9,1179.6 663.3,1176.3 663.8,1178.2 664.2,1179.4 664.6,1178.7 665.1,1177.0 665.5,1175.6 666.0,1177.4 666.4,1175.1 666.8,1176.4 667.3,1175.0 667.7,1174.4 668.2,1174.0 668.6,1175.1 669.0,1174.5 669.5,1173.2 669.9,1175.5 670.3,1173.1 670.8,1172.4 671.2,1171.3 671.7,1172.6 672.1,1172.5 672.5,1171.8 673.0,1172.7 673.4,1171.7 673.8,1170.6 674.3,1170.5 674.7,1172.1 675.2,1170.8 675.6,1173.1 676.0,1168.7 676.5,1170.3 676.9,1169.0 677.3,1170.6 677.8,1168.9 678.2,1167.9 678.7,1166.9 679.1,1170.0 679.5,1166.6 680.0,1167.8 680.4,1168.4 680.8,1166.3 681.3,1167.2 681.7,1166.9 682.2,1167.2 682.6,1165.6 683.0,1165.6 683.5,1165.6 683.9,1166.4 684.4,1165.5 684.8,1164.0 685.2,1162.5 685.7,1164.0 686.1,1161.7 686.5,1163.4 687.0,1164.6 687.4,1161.9 687.9,1163.8 688.3,1161.6 688.7,1160.4 689.2,1162.0 689.6,1161.4 690.0,1157.5 690.5,1160.3 690.9,1159.9 691.4,1158.9 691.8,1159.8 692.2,1159.5 692.7,1158.5 693.1,1162.1 693.5,1156.4 694.0,1159.6 694.4,1159.3 694.9,1156.7 695.3,1157.1 695.7,1158.6 696.2,1156.2 696.6,1157.8 697.0,1156.9 697.5,1157.7 697.9,1156.5 698.4,1154.5 698.8,1154.6 699.2,1154.1 699.7,1153.0 700.1,1154.1 700.5,1154.7 701.0,1153.9 701.4,1151.0 701.9,1153.1 702.3,1152.5 702.7,1152.9 703.2,1152.2 703.6,1151.8 704.1,1152.2 704.5,1152.3 704.9,1153.1 705.4,1153.1 705.8,1151.2 706.2,1150.7 706.7,1150.4 707.1,1151.6 707.6,1152.8 708.0,1150.7 708.4,1150.8 708.9,1153.8 709.3,1150.6 709.7,1151.0 710.2,1149.5 710.6,1153.5 711.1,1153.9 711.5,1151.1 711.9,1154.9 712.4,1153.6 712.8,1154.3 713.2,1154.4 713.7,1155.9 714.1,1153.8 714.6,1152.4 715.0,1153.5 715.4,1153.8 715.9,1155.2 716.3,1153.0 716.7,1154.7 717.2,1154.3 717.6,1158.4 718.1,1156.1 718.5,1158.7 718.9,1157.0 719.4,1157.7 719.8,1160.0 720.2,1158.7 720.7,1157.8 721.1,1159.2 721.6,1159.6 722.0,1162.2 722.4,1162.5 722.9,1163.7 723.3,1162.5 723.8,1161.6 724.2,1163.2 724.6,1164.4 725.1,1166.6 725.5,1165.0 725.9,1166.6 726.4,1169.5 726.8,1169.9 727.3,1168.6 727.7,1169.9 728.1,1167.0 728.6,1169.9 729.0,1172.0 729.4,1171.9 729.9,1169.6 730.3,1173.8 730.8,1172.0 731.2,1173.1 731.6,1172.3 732.1,1174.2 732.5,1176.1 732.9,1175.4 733.4,1176.7 733.8,1176.0 734.3,1178.1 734.7,1175.8 735.1,1179.3 735.6,1179.1 736.0,1181.2 736.4,1180.7 736.9,1181.3 737.3,1181.7 737.8,1181.2 738.2,1183.7 738.6,1184.7 739.1,1182.4 739.5,1184.9 740.0,1185.9 740.4,1183.8 740.8,1184.8 741.3,1190.1 741.7,1187.3 742.1,1186.2 742.6,1186.5 743.0,1188.8 743.5,1186.3 743.9,1190.0 744.3,1189.6 744.8,1189.5 745.2,1190.0 745.6,1189.2 746.1,1189.3 746.5,1191.1 747.0,1189.4 747.4,1192.6 747.8,1192.2 748.3,1189.8 748.7,1192.4 749.1,1191.3 749.6,1193.7 750.0,1193.7 750.5,1193.7 750.9,1193.5 751.3,1194.5 751.8,1194.2 752.2,1193.5 752.6,1193.0 753.1,1194.7 753.5,1194.1 754.0,1193.9 754.4,1196.9 754.8,1197.7 755.3,1193.4 755.7,1194.0 756.1,1195.9 756.6,1195.6 757.0,1197.6 757.5,1198.3 757.9,1196.0 758.3,1198.7 758.8,1195.4 759.2,1197.8 759.7,1196.5 760.1,1194.3 760.5,1194.5 761.0,1197.6 761.4,1195.8 761.8,1198.8 762.3,1198.2 762.7,1197.0 763.2,1195.6 763.6,1198.4 764.0,1196.9 764.5,1197.6 764.9,1199.5 765.3,1198.0 765.8,1195.8 766.2,1198.0 766.7,1197.3 767.1,1196.8 767.5,1199.1 768.0,1196.3 768.4,1196.0 768.8,1195.9 769.3,1196.3 769.7,1198.8 770.2,1199.0 770.6,1199.3 771.0,1199.5 771.5,1199.4 771.9,1196.9 772.3,1196.3 772.8,1199.2 773.2,1197.2 773.7,1200.1 774.1,1198.8 774.5,1199.8 775.0,1200.7 775.4,1198.3 775.8,1198.3 776.3,1199.0 776.7,1199.2 777.2,1199.8 777.6,1198.7 778.0,1199.3 778.5,1198.2 778.9,1200.2 779.4,1198.2 779.8,1197.8 780.2,1196.8 780.7,1197.1 781.1,1198.3 781.5,1199.5 782.0,1201.1 782.4,1198.5 782.9,1196.6 783.3,1196.2 783.7,1202.1 784.2,1199.6 784.6,1199.0 785.0,1200.0 785.5,1198.3 785.9,1198.5 786.4,1199.3 786.8,1198.6 787.2,1200.8 787.7,1199.9 788.1,1199.8 788.5,1197.3 789.0,1200.8 789.4,1198.9 789.9,1197.5 790.3,1198.6 790.7,1197.4 791.2,1199.5 791.6,1198.0 792.0,1197.3 792.5,1195.5 792.9,1197.6 793.4,1196.6 793.8,1198.6 794.2,1198.4 794.7,1196.4 795.1,1197.8 795.6,1196.6 796.0,1197.6 796.4,1195.6 796.9,1195.2 797.3,1199.7 797.7,1196.0 798.2,1198.0 798.6,1197.9 799.1,1198.7 799.5,1197.6 799.9,1200.1 800.4,1199.6 800.8,1199.6 801.2,1198.2 801.7,1197.3 802.1,1197.5 802.6,1198.0 803.0,1199.4 803.4,1201.0 803.9,1198.0 804.3,1198.3 804.7,1198.0 805.2,1196.6 805.6,1198.8 806.1,1198.8 806.5,1201.8 806.9,1197.8 807.4,1198.6 807.8,1199.6 808.2,1198.0 808.7,1200.0 809.1,1199.3 809.6,1195.8 810.0,1197.5 810.4,1197.3 810.9,1197.5 811.3,1197.7 811.7,1198.3 812.2,1195.4 812.6,1198.7 813.1,1197.5 813.5,1198.9 813.9,1199.0 814.4,1202.0 814.8,1201.2 815.3,1196.4 815.7,1196.5 816.1,1199.2 816.6,1198.6 817.0,1197.7 817.4,1200.0 817.9,1196.1 818.3,1200.0 818.8,1199.6 819.2,1202.4 819.6,1196.4 820.1,1198.5 820.5,1196.3 820.9,1200.0 821.4,1198.1 821.8,1198.5 822.3,1198.3 822.7,1195.7 823.1,1195.4 823.6,1196.6 824.0,1199.1 824.4,1197.3 824.9,1196.7 825.3,1197.8" fill="none" stroke="#000" stroke-width="1.1" stroke-linejoin="round"/>
<polyline points="81.5,1391.5 81.9,1391.7 82.4,1395.2 82.8,1392.3 83.2,1388.9 83.7,1395.4 84.1,1392.8 84.6,1390.9 85.0,1396.4 85.4,1393.3 85.9,1397.2 86.3,1394.5 86.7,1396.5 87.2,1395.2 87.6,1394.2 88.0,1393.7 88.5,1393.5 88.9,1399.0 89.3,1389.0 89.8,1393.7 90.2,1395.7 90.6,1394.5 91.1,1392.2 91.5,1395.5 91.9,1394.0 92.4,1394.2 92.8,1391.6 93.2,1394.9 93.7,1391.8 94.1,1392.1 94.5,1393.4 95.0,1389.9 95.4,1392.9 95.8,1395.9 96.3,1392.2 96.7,1392.7 97.2,1393.1 97.6,1392.4 98.0,1387.1 98.5,1392.4 98.9,1391.8 99.3,1393.6 99.8,1389.7 100.2,1393.1 100.6,1395.0 101.1,1396.0 101.5,1391.7 101.9,1391.1 102.4,1396.9 102.8,1394.8 103.2,1391.4 103.7,1390.4 104.1,1396.3 104.5,1394.0 105.0,1390.9 105.4,1394.3 105.8,1394.1 106.3,1394.3 106.7,1396.2 107.1,1392.8 107.6,1392.2 108.0,1396.4 108.5,1392.7 108.9,1390.1 109.3,1392.4 109.8,1390.5 110.2,1394.2 110.6,1389.4 111.1,1394.7 111.5,1388.0 111.9,1393.8 112.4,1394.4 112.8,1394.7 113.2,1393.4 113.7,1393.5 114.1,1393.9 114.5,1392.9 115.0,1390.2 115.4,1389.5 115.8,1392.4 116.3,1388.2 116.7,1393.6 117.1,1393.4 117.6,1393.4 118.0,1388.7 118.4,1393.8 118.9,1393.1 119.3,1386.0 119.8,1384.5 120.2,1385.0 120.6,1391.7 121.1,1387.5 121.5,1385.0 121.9,1386.4 122.4,1390.3 122.8,1386.7 123.2,1389.7 123.7,1388.1 124.1,1379.3 124.5,1382.6 125.0,1387.6 125.4,1387.4 125.8,1382.3 126.3,1384.8 126.7,1381.7 127.1,1384.6 127.6,1383.5 128.0,1382.4 128.4,1385.6 128.9,1387.9 129.3,1386.3 129.7,1385.2 130.2,1384.2 130.6,1384.2 131.1,1384.5 131.5,1383.4 131.9,1387.3 132.4,1382.0 132.8,1380.9 133.2,1385.4 133.7,1386.3 134.1,1384.1 134.5,1386.0 135.0,1387.6 135.4,1388.9 135.8,1390.7 136.3,1392.1 136.7,1387.9 137.1,1386.9 137.6,1392.9 138.0,1390.7 138.4,1390.2 138.9,1392.1 139.3,1393.2 139.7,1392.4 140.2,1396.6 140.6,1391.9 141.0,1392.7 141.5,1386.8 141.9,1389.8 142.3,1393.1 142.8,1392.3 143.2,1388.1 143.7,1388.4 144.1,1392.0 144.5,1392.8 145.0,1396.1 145.4,1393.3 145.8,1392.9 146.3,1394.3 146.7,1388.1 147.1,1397.1 147.6,1392.7 148.0,1391.3 148.4,1391.2 148.9,1388.0 149.3,1395.6 149.7,1393.9 150.2,1391.7 150.6,1391.4 151.0,1392.6 151.5,1393.3 151.9,1388.4 152.3,1393.3 152.8,1391.6 153.2,1385.6 153.6,1383.4 154.1,1383.3 154.5,1384.3 155.0,1379.7 155.4,1373.9 155.8,1367.4 156.3,1358.3 156.7,1347.8 157.1,1346.8 157.6,1349.5 158.0,1352.5 158.4,1358.4 158.9,1358.3 159.3,1372.3 159.7,1372.1 160.2,1381.2 160.6,1384.1 161.0,1388.2 161.5,1384.3 161.9,1388.5 162.3,1382.5 162.8,1392.7 163.2,1393.3 163.6,1389.5 164.1,1389.9 164.5,1392.2 164.9,1396.7 165.4,1388.2 165.8,1390.5 166.3,1391.0 166.7,1393.6 167.1,1390.6 167.6,1393.7 168.0,1392.2 168.4,1392.9 168.9,1389.3 169.3,1393.7 169.7,1393.4 170.2,1389.8 170.6,1392.0 171.0,1392.7 171.5,1393.3 171.9,1390.3 172.3,1394.4 172.8,1391.6 173.2,1387.7 173.6,1391.8 174.1,1394.8 174.5,1395.8 174.9,1392.5 175.4,1395.9 175.8,1396.9 176.2,1394.8 176.7,1395.6 177.1,1390.7 177.5,1396.6 178.0,1389.0 178.4,1394.8 178.9,1392.7 179.3,1391.3 179.7,1392.4 180.2,1391.2 180.6,1395.5 181.0,1398.7 181.5,1393.5 181.9,1397.2 182.3,1394.5 182.8,1390.7 183.2,1393.5 183.6,1394.5 184.1,1395.9 184.5,1393.8 184.9,1393.5 185.4,1397.0 185.8,1392.3 186.2,1395.8 186.7,1392.5 187.1,1394.2 187.5,1390.6 188.0,1391.0 188.4,1393.1 188.8,1393.4 189.3,1392.0 189.7,1389.6 190.2,1390.4 190.6,1392.7 191.0,1392.3 191.5,1389.1 191.9,1397.1 192.3,1391.7 192.8,1395.3 193.2,1389.7 193.6,1394.3 194.1,1393.3 194.5,1395.7 194.9,1393.0 195.4,1391.0 195.8,1388.8 196.2,1396.2 196.7,1394.1 197.1,1383.2 197.5,1390.6 198.0,1393.0 198.4,1391.7 198.8,1399.6 199.3,1388.9 199.7,1392.6 200.1,1396.5 200.6,1390.0 201.0,1394.5 201.5,1395.5 201.9,1391.6 202.3,1391.9 202.8,1394.1 203.2,1393.1 203.6,1396.3 204.1,1396.6 204.5,1390.7 204.9,1389.6 205.4,1391.9 205.8,1392.0 206.2,1393.9 206.7,1393.3 207.1,1395.3 207.5,1388.5 208.0,1394.4 208.4,1391.9 208.8,1392.9 209.3,1396.4 209.7,1388.1 210.1,1393.9 210.6,1394.9 211.0,1392.7 211.4,1395.2 211.9,1392.9 212.3,1395.3 212.7,1391.5 213.2,1392.8 213.6,1396.4 214.1,1390.4 214.5,1392.5 214.9,1395.7 215.4,1392.0 215.8,1391.9 216.2,1388.3 216.7,1395.1 217.1,1390.8 217.5,1393.2 218.0,1391.4 218.4,1393.6 218.8,1393.1 219.3,1391.7 219.7,1395.9 220.1,1398.2 220.6,1393.0 221.0,1394.0 221.4,1392.7 221.9,1391.3 222.3,1393.5 222.7,1389.9 223.2,1393.0 223.6,1392.6 224.0,1390.8 224.5,1391.4 224.9,1393.1 225.4,1392.6 225.8,1394.8 226.2,1394.4 226.7,1392.6 227.1,1390.8 227.5,1394.0 228.0,1390.8 228.4,1388.0 228.8,1387.5 229.3,1392.8 229.7,1390.2 230.1,1391.3 230.6,1390.9 231.0,1390.7 231.4,1391.5 231.9,1390.8 232.3,1392.3 232.7,1393.5 233.2,1392.2 233.6,1391.6 234.0,1389.7 234.5,1391.9 234.9,1390.9 235.3,1389.2 235.8,1395.1 236.2,1393.5 236.7,1391.4 237.1,1392.7 237.5,1395.3 238.0,1390.3 238.4,1393.0 238.8,1395.3 239.3,1388.0 239.7,1396.0 240.1,1392.8 240.6,1394.4 241.0,1392.4 241.4,1391.3 241.9,1394.7 242.3,1392.9 242.7,1392.9 243.2,1395.1 243.6,1389.6 244.0,1392.0 244.5,1393.1 244.9,1393.9 245.3,1393.0 245.8,1391.7 246.2,1393.1 246.6,1388.6 247.1,1398.0 247.5,1396.8 248.0,1391.8 248.4,1395.6 248.8,1390.8 249.3,1392.0 249.7,1388.6 250.1,1388.7 250.6,1386.1 251.0,1386.7 251.4,1385.5 251.9,1386.9 252.3,1385.1 252.7,1386.1 253.2,1388.4 253.6,1389.6 254.0,1389.1 254.5,1384.4 254.9,1391.2 255.3,1384.4 255.8,1386.3 256.2,1382.3 256.6,1383.3 257.1,1385.4 257.5,1383.2 257.9,1388.8 258.4,1382.2 258.8,1381.6 259.2,1387.4 259.7,1380.6 260.1,1383.1 260.6,1382.5 261.0,1386.6 261.4,1381.8 261.9,1382.1 262.3,1383.8 262.7,1386.6 263.2,1382.6 263.6,1381.7 264.0,1384.2 264.5,1383.1 264.9,1387.5 265.3,1386.1 265.8,1386.0 266.2,1387.0 266.6,1380.7 267.1,1387.1 267.5,1389.9 267.9,1386.8 268.4,1392.0 268.8,1388.7 269.2,1388.0 269.7,1391.4 270.1,1391.2 270.5,1393.0 271.0,1390.6 271.4,1392.8 271.9,1386.9 272.3,1389.8 272.7,1392.1 273.2,1395.2 273.6,1386.6 274.0,1388.6 274.5,1390.7 274.9,1391.4 275.3,1391.5 275.8,1393.2 276.2,1387.3 276.6,1391.5 277.1,1395.6 277.5,1393.6 277.9,1398.4 278.4,1390.3 278.8,1390.0 279.2,1387.4 279.7,1386.6 280.1,1393.7 280.5,1390.6 281.0,1389.1 281.4,1389.5 281.8,1392.6 282.3,1389.2 282.7,1389.7 283.2,1387.3 283.6,1390.4 284.0,1390.4 284.5,1390.5 284.9,1389.4 285.3,1389.4 285.8,1387.1 286.2,1383.5 286.6,1381.9 287.1,1377.9 287.5,1376.4 287.9,1375.6 288.4,1378.1 288.8,1372.3 289.2,1369.8 289.7,1375.7 290.1,1375.8 290.5,1376.6 291.0,1378.5 291.4,1378.6 291.8,1382.2 292.3,1380.8 292.7,1386.6 293.1,1385.4 293.6,1387.6 294.0,1389.9 294.4,1385.7 294.9,1388.8 295.3,1388.0 295.8,1390.5 296.2,1388.1 296.6,1388.3 297.1,1390.2 297.5,1394.1 297.9,1387.3 298.4,1387.1 298.8,1387.7 299.2,1386.5 299.7,1385.5 300.1,1383.6 300.5,1384.4 301.0,1379.6 301.4,1375.9 301.8,1375.5 302.3,1373.8 302.7,1364.7 303.1,1367.0 303.6,1369.5 304.0,1371.1 304.4,1378.4 304.9,1377.6 305.3,1377.1 305.7,1375.7 306.2,1386.3 306.6,1385.0 307.1,1380.2 307.5,1384.8 307.9,1386.6 308.4,1385.6 308.8,1389.7 309.2,1390.4 309.7,1388.6 310.1,1388.6 310.5,1393.7 311.0,1387.4 311.4,1395.7 311.8,1393.2 312.3,1383.9 312.7,1393.0 313.1,1390.2 313.6,1394.4 314.0,1392.7 314.4,1393.8 314.9,1393.1 315.3,1390.5 315.7,1387.8 316.2,1390.0 316.6,1388.3 317.0,1393.5 317.5,1388.6 317.9,1390.9 318.4,1388.9 318.8,1393.4 319.2,1393.0 319.7,1389.0 320.1,1390.9 320.5,1392.2 321.0,1394.2 321.4,1392.7 321.8,1391.3 322.3,1390.7 322.7,1393.9 323.1,1393.4 323.6,1391.5 324.0,1395.4 324.4,1390.3 324.9,1392.7 325.3,1393.0 325.7,1398.7 326.2,1396.7 326.6,1395.3 327.0,1394.2 327.5,1395.5 327.9,1391.8 328.3,1392.5 328.8,1393.5 329.2,1397.9 329.6,1389.3 330.1,1393.5 330.5,1391.3 331.0,1394.5 331.4,1392.8 331.8,1391.1 332.3,1392.3 332.7,1390.4 333.1,1393.3 333.6,1387.9 334.0,1397.6 334.4,1394.3 334.9,1390.4 335.3,1393.5 335.7,1394.0 336.2,1397.3 336.6,1389.9 337.0,1397.6 337.5,1391.6 337.9,1392.4 338.3,1390.7 338.8,1389.3 339.2,1394.7 339.6,1395.0 340.1,1393.7 340.5,1397.2 340.9,1390.9 341.4,1393.9 341.8,1392.6 342.3,1395.8 342.7,1392.9 343.1,1394.5 343.6,1393.2 344.0,1395.7 344.4,1390.4 344.9,1394.6 345.3,1399.4 345.7,1391.4 346.2,1393.8 346.6,1395.2 347.0,1386.8 347.5,1393.2 347.9,1396.4 348.3,1394.6 348.8,1392.1 349.2,1393.6 349.6,1389.9 350.1,1390.4 350.5,1395.0 350.9,1392.9 351.4,1391.4 351.8,1394.1 352.2,1394.2 352.7,1390.8 353.1,1391.9 353.6,1396.6 354.0,1394.4 354.4,1394.1 354.9,1393.3 355.3,1394.8 355.7,1389.7 356.2,1395.5 356.6,1395.8 357.0,1392.5 357.5,1398.7 357.9,1395.6 358.3,1391.5 358.8,1396.4 359.2,1395.2 359.6,1390.3 360.1,1391.9 360.5,1392.9 360.9,1392.4 361.4,1394.7 361.8,1392.3 362.2,1393.5 362.7,1386.8 363.1,1391.7 363.5,1393.9 364.0,1393.2 364.4,1392.9 364.9,1396.5 365.3,1395.1 365.7,1389.2 366.2,1396.5 366.6,1394.5 367.0,1390.5 367.5,1389.2 367.9,1395.6 368.3,1389.4 368.8,1393.9 369.2,1388.9 369.6,1391.8 370.1,1393.7 370.5,1391.2 370.9,1391.6 371.4,1394.9 371.8,1387.6 372.2,1393.9 372.7,1390.1 373.1,1394.2 373.5,1397.6 374.0,1395.8 374.4,1393.3 374.8,1391.3 375.3,1388.6 375.7,1392.8 376.1,1393.7 376.6,1396.1 377.0,1393.1 377.5,1392.3 377.9,1398.5 378.3,1389.7 378.8,1390.2 379.2,1387.3 379.6,1395.3 380.1,1392.9 380.5,1393.0 380.9,1396.3 381.4,1395.1 381.8,1395.5 382.2,1391.7 382.7,1391.9 383.1,1389.6 383.5,1394.0 384.0,1396.5 384.4,1391.9 384.8,1392.1 385.3,1391.4 385.7,1389.9 386.1,1394.5 386.6,1391.0 387.0,1395.5 387.4,1392.6 387.9,1391.3 388.3,1393.3 388.8,1392.5 389.2,1396.5 389.6,1394.7 390.1,1392.7 390.5,1396.0 390.9,1395.2 391.4,1386.9 391.8,1392.4 392.2,1395.1 392.7,1395.6 393.1,1389.6 393.5,1400.1 394.0,1394.0 394.4,1391.6 394.8,1394.6 395.3,1391.9 395.7,1395.9 396.1,1393.3 396.6,1393.2 397.0,1393.2 397.4,1392.9 397.9,1393.2 398.3,1390.5 398.7,1393.9 399.2,1394.8 399.6,1394.0 400.1,1394.1 400.5,1397.1 400.9,1398.1 401.4,1396.7 401.8,1392.6 402.2,1395.0 402.7,1394.3 403.1,1386.1 403.5,1390.5 404.0,1393.8 404.4,1394.9 404.8,1389.9 405.3,1395.3 405.7,1390.2 406.1,1391.8 406.6,1389.9 407.0,1395.1 407.4,1391.1 407.9,1397.9 408.3,1393.8 408.7,1390.6 409.2,1391.6 409.6,1397.9 410.0,1391.6 410.5,1392.2 410.9,1393.5 411.3,1395.1 411.8,1394.0 412.2,1394.8 412.7,1391.0 413.1,1392.2 413.5,1390.7 414.0,1391.6 414.4,1396.5 414.8,1393.0 415.3,1388.0 415.7,1396.1 416.1,1392.6 416.6,1395.3 417.0,1395.6 417.4,1392.8 417.9,1391.0 418.3,1391.4 418.7,1392.2 419.2,1391.0 419.6,1397.4 420.0,1391.3 420.5,1392.3 420.9,1393.8 421.3,1393.4 421.8,1395.5 422.2,1390.4 422.6,1395.2 423.1,1397.0 423.5,1393.3 424.0,1394.4 424.4,1393.4 424.8,1390.4 425.3,1393.5 425.7,1393.0 426.1,1388.9 426.6,1395.9 427.0,1392.6 427.4,1391.0 427.9,1390.4 428.3,1389.0 428.7,1394.5 429.2,1392.1 429.6,1393.4 430.0,1394.1 430.5,1394.6 430.9,1396.0 431.3,1392.6 431.8,1391.8 432.2,1395.3 432.6,1391.8 433.1,1394.3 433.5,1395.2 433.9,1398.2 434.4,1391.1 434.8,1391.9 435.3,1393.8 435.7,1394.0 436.1,1395.7 436.6,1392.2 437.0,1393.4 437.4,1392.2 437.9,1392.9 438.3,1395.9 438.7,1396.2 439.2,1392.4 439.6,1396.5 440.0,1392.7 440.5,1391.5 440.9,1395.7 441.3,1391.9 441.8,1393.1 442.2,1392.2 442.6,1394.4 443.1,1393.2 443.5,1392.3 443.9,1389.7 444.4,1391.7 444.8,1392.2 445.2,1395.6 445.7,1392.5 446.1,1394.4 446.5,1393.2 447.0,1392.6 447.4,1391.2 447.9,1392.0 448.3,1392.7 448.7,1393.2 449.2,1390.5 449.6,1394.8 450.0,1393.0 450.5,1390.4 450.9,1393.4 451.3,1391.5 451.8,1391.4 452.2,1389.3 452.6,1390.9 453.1,1396.2 453.5,1393.1 453.9,1392.5 454.4,1391.5 454.8,1392.3 455.2,1389.5 455.7,1391.0 456.1,1395.3 456.5,1394.3 457.0,1397.0 457.4,1389.8 457.8,1393.3 458.3,1393.4 458.7,1396.1 459.2,1394.0 459.6,1392.3 460.0,1393.9 460.5,1393.9 460.9,1394.3 461.3,1389.3 461.8,1394.2 462.2,1395.9 462.6,1394.1 463.1,1393.8 463.5,1393.3 463.9,1393.6 464.4,1395.3 464.8,1393.5 465.2,1392.4 465.7,1395.8 466.1,1389.3 466.5,1389.8 467.0,1396.5 467.4,1393.7 467.8,1391.1 468.3,1390.4 468.7,1389.5 469.1,1396.5 469.6,1395.0 470.0,1393.8 470.5,1391.7 470.9,1394.8 471.3,1391.8 471.8,1391.7 472.2,1391.1 472.6,1395.0 473.1,1392.0 473.5,1392.2 473.9,1393.0 474.4,1389.6 474.8,1392.6 475.2,1389.1 475.7,1393.0 476.1,1388.4 476.5,1388.4 477.0,1393.1 477.4,1390.7 477.8,1390.6 478.3,1392.9 478.7,1389.4 479.1,1389.6 479.6,1392.2 480.0,1390.2 480.4,1388.4 480.9,1390.3 481.3,1391.1 481.8,1386.3 482.2,1391.2 482.6,1388.3 483.1,1386.6 483.5,1386.9 483.9,1391.7 484.4,1388.5 484.8,1387.8 485.2,1387.6 485.7,1385.6 486.1,1385.4 486.5,1385.8 487.0,1385.1 487.4,1383.2 487.8,1382.3 488.3,1387.9 488.7,1379.6 489.1,1384.4 489.6,1381.3 490.0,1385.4 490.4,1382.7 490.9,1383.5 491.3,1378.4 491.7,1378.1 492.2,1379.2 492.6,1378.8 493.0,1377.0 493.5,1378.9 493.9,1377.5 494.4,1377.0 494.8,1373.1 495.2,1373.8 495.7,1375.5 496.1,1371.5 496.5,1370.3 497.0,1367.7 497.4,1370.5 497.8,1367.6 498.3,1363.4 498.7,1367.0 499.1,1366.0 499.6,1363.3 500.0,1364.1 500.4,1362.0 500.9,1361.9 501.3,1361.2 501.7,1356.8 502.2,1358.1 502.6,1358.0 503.0,1355.4 503.5,1353.9 503.9,1351.7 504.3,1349.2 504.8,1346.3 505.2,1350.7 505.7,1347.5 506.1,1349.2 506.5,1343.9 507.0,1341.9 507.4,1342.8 507.8,1341.9 508.3,1340.7 508.7,1340.3 509.1,1334.8 509.6,1330.9 510.0,1335.4 510.4,1328.7 510.9,1330.6 511.3,1331.7 511.7,1326.6 512.2,1324.8 512.6,1324.2 513.0,1324.1 513.5,1319.1 513.9,1321.6 514.3,1318.5 514.8,1317.2 515.2,1319.0 515.6,1319.6 516.1,1318.2 516.5,1314.5 517.0,1311.9 517.4,1315.0 517.8,1311.9 518.3,1306.5 518.7,1312.0 519.1,1306.7 519.6,1306.0 520.0,1304.3 520.4,1307.9 520.9,1303.7 521.3,1306.3 521.7,1300.4 522.2,1304.0 522.6,1301.0 523.0,1302.8 523.5,1300.6 523.9,1303.4 524.3,1299.5 524.8,1298.6 525.2,1299.6 525.6,1296.3 526.1,1298.6 526.5,1297.7 526.9,1298.2 527.4,1295.6 527.8,1300.6 528.2,1300.0 528.7,1300.1 529.1,1298.7 529.6,1299.7 530.0,1298.9 530.4,1300.3 530.9,1302.3 531.3,1301.9 531.7,1301.4 532.2,1307.2 532.6,1300.7 533.0,1305.1 533.5,1305.4 533.9,1304.9 534.3,1306.7 534.8,1309.8 535.2,1308.3 535.6,1306.0 536.1,1307.6 536.5,1308.1 536.9,1312.6 537.4,1312.9 537.8,1311.5 538.2,1311.7 538.7,1315.6 539.1,1318.6 539.5,1321.6 540.0,1316.3 540.4,1323.2 540.9,1320.6 541.3,1320.9 541.7,1317.5 542.2,1324.7 542.6,1326.5 543.0,1326.7 543.5,1327.8 543.9,1327.5 544.3,1330.0 544.8,1334.1 545.2,1338.1 545.6,1334.7 546.1,1337.9 546.5,1335.1 546.9,1341.7 547.4,1340.0 547.8,1343.1 548.2,1344.7 548.7,1341.0 549.1,1345.2 549.5,1347.1 550.0,1346.6 550.4,1350.8 550.8,1351.2 551.3,1352.9 551.7,1349.0 552.2,1353.4 552.6,1354.0 553.0,1354.2 553.5,1357.9 553.9,1359.0 554.3,1363.0 554.8,1359.9 555.2,1361.4 555.6,1363.7 556.1,1361.6 556.5,1368.5 556.9,1365.1 557.4,1369.6 557.8,1370.1 558.2,1369.2 558.7,1367.0 559.1,1372.9 559.5,1373.4 560.0,1374.6 560.4,1369.1 560.8,1372.8 561.3,1373.8 561.7,1371.3 562.1,1375.6 562.6,1380.9 563.0,1378.4 563.4,1380.5 563.9,1374.8 564.3,1382.2 564.8,1379.4 565.2,1381.6 565.6,1382.0 566.1,1381.6 566.5,1382.4 566.9,1384.0 567.4,1385.6 567.8,1384.9 568.2,1386.1 568.7,1386.3 569.1,1384.7 569.5,1385.6 570.0,1384.8 570.4,1386.6 570.8,1382.6 571.3,1388.2 571.7,1389.1 572.1,1385.4 572.6,1389.1 573.0,1387.7 573.4,1386.3 573.9,1388.7 574.3,1389.5 574.7,1387.1 575.2,1388.6 575.6,1390.5 576.1,1392.0 576.5,1390.6 576.9,1393.3 577.4,1391.9 577.8,1392.5 578.2,1389.9 578.7,1389.2 579.1,1392.1 579.5,1391.8 580.0,1393.3 580.4,1393.9 580.8,1392.2 581.3,1390.3 581.7,1390.6 582.1,1390.5 582.6,1392.3 583.0,1397.2 583.4,1390.1 583.9,1389.4 584.3,1390.2 584.7,1390.3 585.2,1390.0 585.6,1386.9 586.0,1391.6 586.5,1389.2 586.9,1390.8 587.4,1391.1 587.8,1392.7 588.2,1393.2 588.7,1394.7 589.1,1391.4 589.5,1393.2 590.0,1395.0 590.4,1394.1 590.8,1395.0 591.3,1389.5 591.7,1393.2 592.1,1392.5 592.6,1395.1 593.0,1394.8 593.4,1390.7 593.9,1393.3 594.3,1392.4 594.7,1389.2 595.2,1388.7 595.6,1391.5 596.0,1391.9 596.5,1392.4 596.9,1393.5 597.3,1388.9 597.8,1395.3 598.2,1393.1 598.7,1396.7 599.1,1395.4 599.5,1392.1 600.0,1392.0 600.4,1392.3 600.8,1393.6 601.3,1394.3 601.7,1394.0 602.1,1393.7 602.6,1390.8 603.0,1390.1 603.4,1392.1 603.9,1394.0 604.3,1394.8 604.7,1392.4 605.2,1393.4 605.6,1396.6 606.0,1390.3 606.5,1393.0 606.9,1393.6 607.3,1394.7 607.8,1394.7 608.2,1391.2 608.6,1394.9 609.1,1392.8 609.5,1391.7 609.9,1389.3 610.4,1391.8 610.8,1393.1 611.3,1393.9 611.7,1391.3 612.1,1391.0 612.6,1393.8 613.0,1391.8 613.4,1393.3 613.9,1396.2 614.3,1395.0 614.7,1391.4 615.2,1390.1 615.6,1391.7 616.0,1393.4 616.5,1394.4 616.9,1391.9 617.3,1392.3 617.8,1396.2 618.2,1391.7 618.6,1394.4 619.1,1391.7 619.5,1391.9 619.9,1391.6 620.4,1390.9 620.8,1391.6 621.2,1395.1 621.7,1395.0 622.1,1390.9 622.6,1392.1 623.0,1396.1 623.4,1397.0 623.9,1391.2 624.3,1388.6" fill="none" stroke="#f00" stroke-width="1.1" stroke-linejoin="round"/>
<line x1="79.2" y1="1492.4" x2="827.6" y2="1492.4" stroke="#000" stroke-width="3.2"/>
<line x1="121.7" y1="1492.4" x2="121.7" y2="1481.9" stroke="#000" stroke-width="3.2"/>
<text transform="translate(121.7,1530.3) scale(1.012,1.065)" font-size="29.5" font-weight="bold" text-anchor="middle">500</text>
<line x1="172.0" y1="1492.4" x2="172.0" y2="1486.9" stroke="#000" stroke-width="3.2"/>
<line x1="222.2" y1="1492.4" x2="222.2" y2="1481.9" stroke="#000" stroke-width="3.2"/>
<text transform="translate(222.2,1530.3) scale(1.012,1.065)" font-size="29.5" font-weight="bold" text-anchor="middle">1000</text>
<line x1="272.5" y1="1492.4" x2="272.5" y2="1486.9" stroke="#000" stroke-width="3.2"/>
<line x1="322.7" y1="1492.4" x2="322.7" y2="1481.9" stroke="#000" stroke-width="3.2"/>
<text transform="translate(322.7,1530.3) scale(1.012,1.065)" font-size="29.5" font-weight="bold" text-anchor="middle">1500</text>
<line x1="373.0" y1="1492.4" x2="373.0" y2="1486.9" stroke="#000" stroke-width="3.2"/>
<line x1="423.3" y1="1492.4" x2="423.3" y2="1481.9" stroke="#000" stroke-width="3.2"/>
<text transform="translate(423.3,1530.3) scale(1.012,1.065)" font-size="29.5" font-weight="bold" text-anchor="middle">2000</text>
<line x1="473.5" y1="1492.4" x2="473.5" y2="1486.9" stroke="#000" stroke-width="3.2"/>
<line x1="523.8" y1="1492.4" x2="523.8" y2="1481.9" stroke="#000" stroke-width="3.2"/>
<text transform="translate(523.8,1530.3) scale(1.012,1.065)" font-size="29.5" font-weight="bold" text-anchor="middle">2500</text>
<line x1="574.0" y1="1492.4" x2="574.0" y2="1486.9" stroke="#000" stroke-width="3.2"/>
<line x1="624.3" y1="1492.4" x2="624.3" y2="1481.9" stroke="#000" stroke-width="3.2"/>
<text transform="translate(624.3,1530.3) scale(1.012,1.065)" font-size="29.5" font-weight="bold" text-anchor="middle">3000</text>
<line x1="674.5" y1="1492.4" x2="674.5" y2="1486.9" stroke="#000" stroke-width="3.2"/>
<line x1="724.8" y1="1492.4" x2="724.8" y2="1481.9" stroke="#000" stroke-width="3.2"/>
<text transform="translate(724.8,1530.3) scale(1.012,1.065)" font-size="29.5" font-weight="bold" text-anchor="middle">3500</text>
<line x1="775.1" y1="1492.4" x2="775.1" y2="1486.9" stroke="#000" stroke-width="3.2"/>
<line x1="825.3" y1="1492.4" x2="825.3" y2="1481.9" stroke="#000" stroke-width="3.2"/>
<text transform="translate(825.3,1530.3) scale(1.012,1.065)" font-size="29.5" font-weight="bold" text-anchor="middle">4000</text>
<text transform="translate(453.2,1591.4) scale(1.012,1.065)" font-size="33.5" font-weight="bold" text-anchor="middle">Raman Shift / cm<tspan font-size="22.6" dy="-13.3">−1</tspan></text>
<text transform="translate(2.8,885.7) scale(1.012,1.065)" font-size="46" font-weight="bold">c</text>
<path d="M96.6,955.4 H107.2 M101.9,955.4 V992.2 M96.6,992.2 H107.2" stroke="#000" stroke-width="3.5" fill="none"/>
<text transform="translate(126.6,985.8) scale(0.998,1.065)" font-size="31" font-weight="bold">1000 counts</text>
<text transform="translate(661.4,960.3) scale(1.0,1.01)" font-size="31" font-weight="bold">0.1 M NaOH</text>
<text transform="translate(664.6,1000.3) scale(0.995,1.01)" font-size="31" font-weight="bold">E= −0.35 V</text>
<text transform="translate(96.8,1177.5) scale(1.012,1.065)" font-size="27">516</text>
<text transform="translate(155.7,1165.7) scale(1.012,1.065)" font-size="27">715</text>
<text transform="translate(328.3,1119.7) scale(1.012,1.065)" font-size="27">1827</text>
<text transform="translate(444.5,1117.1) scale(1.012,1.065)" font-size="27">1950</text>
<text transform="translate(685.3,1135.1) scale(1.012,1.065)" font-size="27">3420</text>
<text transform="translate(785.5,1183.5) scale(1.012,1.065)" font-size="29" font-weight="bold">H<tspan font-size="20" dy="7">2</tspan><tspan dy="-7">O</tspan></text>
<line x1="386.2" y1="1160.5" x2="375.4" y2="1137.6" stroke="#000" stroke-width="1.5"/><polygon points="369.0,1124.0 379.6,1135.6 371.2,1139.5" fill="#000"/>
<line x1="413.0" y1="1157.2" x2="446.0" y2="1130.2" stroke="#000" stroke-width="1.5"/><polygon points="457.6,1120.7 448.9,1133.8 443.1,1126.6" fill="#000"/>
<text transform="translate(92.1,1364.8) scale(1.012,1.065)" font-size="27">516</text>
<text transform="translate(148.4,1340.0) scale(1.012,1.065)" font-size="27">674</text>
<text transform="translate(238.4,1322.2) scale(1.012,1.065)" font-size="27">1328</text>
<text transform="translate(329.4,1332.5) scale(1.012,1.065)" font-size="27">1402</text>
<text transform="translate(508.5,1289.2) scale(1.012,1.065)" font-size="27">2502</text>
<text transform="translate(644.2,1394.0) scale(1.012,1.065)" font-size="30" font-weight="bold" fill="#f00">D<tspan font-size="21" dy="7">2</tspan><tspan dy="-7">O</tspan></text>
<line x1="289.5" y1="1370.0" x2="275.2" y2="1337.2" stroke="#000" stroke-width="1.5"/><polygon points="269.2,1323.5 279.4,1335.4 271.0,1339.1" fill="#000"/>
<line x1="305.0" y1="1369.5" x2="335.2" y2="1344.1" stroke="#000" stroke-width="1.5"/><polygon points="346.7,1334.4 338.2,1347.6 332.3,1340.5" fill="#000"/>
<polyline points="1179.4,1437.8 1181.3,1437.8 1183.2,1437.8 1185.0,1437.8 1186.9,1437.8 1188.8,1437.8 1190.7,1437.8 1192.6,1437.8 1194.5,1437.8 1196.4,1437.8 1198.3,1437.8 1200.2,1437.8 1202.1,1437.8 1204.0,1437.8 1205.8,1437.8 1207.7,1437.8 1209.6,1437.8 1211.5,1437.8 1213.4,1437.8 1215.3,1437.8 1217.2,1437.8 1219.1,1437.8 1221.0,1437.8 1222.9,1437.8 1224.8,1437.8 1226.7,1437.8 1228.5,1437.8 1230.4,1437.8 1232.3,1437.8 1234.2,1437.8 1236.1,1437.8 1238.0,1437.8 1239.9,1437.8 1241.8,1437.8 1243.7,1437.8 1245.6,1437.8 1247.5,1437.8 1249.3,1437.8 1251.2,1437.8 1253.1,1437.8 1253.1,1437.8 1255.0,1437.8 1256.9,1437.8 1258.8,1437.8 1260.7,1437.8 1262.6,1437.8 1264.5,1437.8 1266.4,1437.8 1268.3,1437.8 1270.1,1437.8 1272.0,1437.8 1273.9,1437.8 1275.8,1437.8 1277.7,1437.8 1279.6,1437.8 1281.5,1437.8 1283.4,1437.8 1285.3,1437.8 1287.2,1437.8 1289.1,1437.8 1290.9,1437.8 1292.8,1437.8 1294.7,1437.8 1296.6,1437.8 1298.5,1437.8 1300.4,1437.8 1302.3,1437.8 1304.2,1437.8 1306.1,1437.8 1308.0,1437.8 1309.9,1437.8 1311.7,1437.8 1313.6,1437.8 1315.5,1437.8 1317.4,1437.8 1319.3,1437.8 1321.2,1437.8 1323.1,1437.8 1325.0,1437.8 1326.9,1437.8 1326.9,1437.8 1328.8,1437.8 1330.7,1437.8 1332.5,1437.8 1334.4,1437.7 1336.3,1437.7 1338.2,1437.7 1340.1,1437.6 1342.0,1437.5 1343.9,1437.5 1345.8,1437.4 1347.7,1437.3 1349.6,1437.3 1351.5,1437.2 1353.3,1437.1 1355.2,1437.0 1357.1,1436.9 1359.0,1436.8 1360.9,1436.7 1362.8,1436.6 1364.7,1436.5 1366.6,1436.4 1368.5,1436.3 1370.4,1436.2 1372.3,1436.1 1374.2,1436.0 1376.0,1436.0 1377.9,1435.9 1379.8,1435.8 1381.7,1435.7 1383.6,1435.6 1385.5,1435.5 1387.4,1435.4 1389.3,1435.3 1391.2,1435.3 1393.1,1435.2 1395.0,1435.1 1396.8,1435.1 1398.7,1435.0 1400.6,1435.0 1400.6,1435.0 1402.5,1435.0 1404.4,1434.9 1406.3,1434.9 1408.2,1434.9 1410.1,1434.9 1412.0,1434.9 1413.9,1434.9 1415.8,1434.9 1417.6,1434.9 1419.5,1434.9 1421.4,1434.9 1423.3,1435.0 1425.2,1435.0 1427.1,1435.0 1429.0,1435.0 1430.9,1435.1 1432.8,1435.1 1434.7,1435.1 1436.6,1435.1 1438.4,1435.2 1440.3,1435.2 1442.2,1435.2 1444.1,1435.2 1446.0,1435.3 1447.9,1435.3 1449.8,1435.3 1451.7,1435.3 1453.6,1435.3 1455.5,1435.3 1457.4,1435.3 1459.2,1435.3 1461.1,1435.3 1463.0,1435.3 1464.9,1435.3 1466.8,1435.2 1468.7,1435.2 1470.6,1435.1 1472.5,1435.1 1474.4,1435.0 1474.4,1435.0 1476.3,1434.9 1478.2,1434.9 1480.0,1434.8 1481.9,1434.7 1483.8,1434.6 1485.7,1434.5 1487.6,1434.5 1489.5,1434.4 1491.4,1434.3 1493.3,1434.2 1495.2,1434.1 1497.1,1434.0 1499.0,1434.0 1500.8,1433.9 1502.7,1433.8 1504.6,1433.7 1506.5,1433.6 1508.4,1433.5 1510.3,1433.4 1512.2,1433.3 1514.1,1433.2 1516.0,1433.2 1517.9,1433.1 1519.8,1433.0 1521.7,1432.9 1523.5,1432.8 1525.4,1432.7 1527.3,1432.6 1529.2,1432.5 1531.1,1432.4 1533.0,1432.4 1534.9,1432.3 1536.8,1432.2 1538.7,1432.1 1540.6,1432.0 1542.5,1431.9 1544.3,1431.9 1546.2,1431.8 1548.1,1431.7 1548.1,1431.7 1550.0,1431.6 1551.9,1431.5 1553.8,1431.5 1555.7,1431.4 1557.6,1431.3 1559.5,1431.2 1561.4,1431.2 1563.3,1431.1 1565.1,1431.0 1567.0,1430.9 1568.9,1430.9 1570.8,1430.8 1572.7,1430.7 1574.6,1430.6 1576.5,1430.5 1578.4,1430.5 1580.3,1430.4 1582.2,1430.3 1584.1,1430.2 1585.9,1430.2 1587.8,1430.1 1589.7,1430.0 1591.6,1430.0 1593.5,1429.9 1595.4,1429.8 1597.3,1429.7 1599.2,1429.7 1601.1,1429.6 1603.0,1429.5 1604.9,1429.5 1606.7,1429.4 1608.6,1429.3 1610.5,1429.3 1612.4,1429.2 1614.3,1429.1 1616.2,1429.1 1618.1,1429.0 1620.0,1429.0 1621.9,1428.9 1621.9,1428.9 1623.8,1428.8 1625.7,1428.8 1627.5,1428.8 1629.4,1428.7 1631.3,1428.7 1633.2,1428.7 1635.1,1428.7 1637.0,1428.7 1638.9,1428.7 1640.8,1428.7 1642.7,1428.7 1644.6,1428.7 1646.5,1428.7 1648.3,1428.7 1650.2,1428.8 1652.1,1428.8 1654.0,1428.8 1655.9,1428.8 1657.8,1428.9 1659.7,1428.9 1661.6,1428.9 1663.5,1429.0 1665.4,1429.0 1667.3,1429.0 1669.2,1429.0 1671.0,1429.1 1672.9,1429.1 1674.8,1429.1 1676.7,1429.1 1678.6,1429.1 1680.5,1429.1 1682.4,1429.1 1684.3,1429.1 1686.2,1429.1 1688.1,1429.1 1690.0,1429.0 1691.8,1429.0 1693.7,1429.0 1695.6,1428.9 1695.6,1428.9 1697.5,1428.8 1699.4,1428.8 1701.3,1428.7 1703.2,1428.7 1705.1,1428.6 1707.0,1428.5 1708.9,1428.5 1710.8,1428.4 1712.6,1428.4 1714.5,1428.3 1716.4,1428.2 1718.3,1428.2 1720.2,1428.1 1722.1,1428.1 1724.0,1428.0 1725.9,1427.9 1727.8,1427.9 1729.7,1427.8 1731.6,1427.7 1733.4,1427.7 1735.3,1427.6 1737.2,1427.6 1739.1,1427.5 1741.0,1427.4 1742.9,1427.4 1744.8,1427.3 1746.7,1427.2 1748.6,1427.2 1750.5,1427.1 1752.4,1427.0 1754.2,1427.0 1756.1,1426.9 1758.0,1426.8 1759.9,1426.8 1761.8,1426.7 1763.7,1426.6 1765.6,1426.5 1767.5,1426.5 1769.4,1426.4 1769.4,1426.4 1771.3,1426.3 1773.2,1426.3 1775.0,1426.2 1776.9,1426.1 1778.8,1426.0 1780.7,1426.0 1782.6,1425.9 1784.5,1425.8 1786.4,1425.8 1788.3,1425.7 1790.2,1425.6 1792.1,1425.6 1794.0,1425.5 1795.8,1425.4 1797.7,1425.3 1799.6,1425.3 1801.5,1425.2 1803.4,1425.1 1805.3,1425.1 1807.2,1425.0 1809.1,1424.9 1811.0,1424.8 1812.9,1424.8 1814.8,1424.7 1816.7,1424.6 1818.5,1424.6 1820.4,1424.5 1822.3,1424.4 1824.2,1424.3 1826.1,1424.3 1828.0,1424.2 1829.9,1424.1 1831.8,1424.0 1833.7,1424.0 1835.6,1423.9 1837.5,1423.8 1839.3,1423.8 1841.2,1423.7 1843.1,1423.6" fill="none" stroke="#f00" stroke-width="2.0" stroke-linejoin="round"/>
<polyline points="1179.4,1073.3 1181.3,1073.3 1183.2,1073.3 1185.0,1073.3 1186.9,1073.3 1188.8,1073.3 1190.7,1073.3 1192.6,1073.3 1194.5,1073.3 1196.4,1073.3 1198.3,1073.3 1200.2,1073.3 1202.1,1073.3 1204.0,1073.3 1205.8,1073.3 1207.7,1073.3 1209.6,1073.3 1211.5,1073.3 1213.4,1073.3 1215.3,1073.3 1217.2,1073.3 1219.1,1073.3 1221.0,1073.3 1222.9,1073.3 1224.8,1073.3 1226.7,1073.3 1228.5,1073.3 1230.4,1073.3 1232.3,1073.3 1234.2,1073.3 1236.1,1073.3 1238.0,1073.3 1239.9,1073.3 1241.8,1073.3 1243.7,1073.3 1245.6,1073.3 1247.5,1073.3 1249.3,1073.3 1251.2,1073.3 1253.1,1073.3 1253.1,1073.3 1255.0,1073.3 1256.9,1073.3 1258.8,1073.3 1260.7,1073.3 1262.6,1073.3 1264.5,1073.3 1266.4,1073.3 1268.3,1073.3 1270.1,1073.3 1272.0,1073.3 1273.9,1073.3 1275.8,1073.3 1277.7,1073.3 1279.6,1073.3 1281.5,1073.3 1283.4,1073.3 1285.3,1073.3 1287.2,1073.3 1289.1,1073.3 1290.9,1073.3 1292.8,1073.3 1294.7,1073.3 1296.6,1073.3 1298.5,1073.3 1300.4,1073.3 1302.3,1073.3 1304.2,1073.3 1306.1,1073.3 1308.0,1073.3 1309.9,1073.3 1311.7,1073.3 1313.6,1073.3 1315.5,1073.3 1317.4,1073.3 1319.3,1073.3 1321.2,1073.3 1323.1,1073.3 1325.0,1073.3 1326.9,1073.3 1326.9,1073.3 1328.8,1073.3 1330.7,1073.3 1332.5,1073.4 1334.4,1073.4 1336.3,1073.5 1338.2,1073.6 1340.1,1073.7 1342.0,1073.8 1343.9,1073.9 1345.8,1074.0 1347.7,1074.2 1349.6,1074.3 1351.5,1074.5 1353.3,1074.6 1355.2,1074.8 1357.1,1075.0 1359.0,1075.2 1360.9,1075.3 1362.8,1075.5 1364.7,1075.7 1366.6,1075.9 1368.5,1076.1 1370.4,1076.3 1372.3,1076.6 1374.2,1076.8 1376.0,1077.0 1377.9,1077.2 1379.8,1077.4 1381.7,1077.6 1383.6,1077.8 1385.5,1078.0 1387.4,1078.2 1389.3,1078.4 1391.2,1078.6 1393.1,1078.7 1395.0,1078.9 1396.8,1079.1 1398.7,1079.2 1400.6,1079.4 1400.6,1079.4 1402.5,1079.5 1404.4,1079.7 1406.3,1079.8 1408.2,1080.0 1410.1,1080.1 1412.0,1080.3 1413.9,1080.4 1415.8,1080.5 1417.6,1080.7 1419.5,1080.8 1421.4,1081.0 1423.3,1081.1 1425.2,1081.2 1427.1,1081.4 1429.0,1081.5 1430.9,1081.7 1432.8,1081.8 1434.7,1081.9 1436.6,1082.1 1438.4,1082.2 1440.3,1082.3 1442.2,1082.5 1444.1,1082.6 1446.0,1082.7 1447.9,1082.9 1449.8,1083.0 1451.7,1083.1 1453.6,1083.3 1455.5,1083.4 1457.4,1083.5 1459.2,1083.7 1461.1,1083.8 1463.0,1083.9 1464.9,1084.1 1466.8,1084.2 1468.7,1084.3 1470.6,1084.4 1472.5,1084.6 1474.4,1084.7 1474.4,1084.7 1476.3,1084.8 1478.2,1084.9 1480.0,1085.0 1481.9,1085.0 1483.8,1085.1 1485.7,1085.1 1487.6,1085.1 1489.5,1085.1 1491.4,1085.1 1493.3,1085.0 1495.2,1085.0 1497.1,1084.9 1499.0,1084.9 1500.8,1084.8 1502.7,1084.7 1504.6,1084.6 1506.5,1084.5 1508.4,1084.4 1510.3,1084.3 1512.2,1084.2 1514.1,1084.1 1516.0,1084.0 1517.9,1083.9 1519.8,1083.8 1521.7,1083.7 1523.5,1083.7 1525.4,1083.6 1527.3,1083.5 1529.2,1083.4 1531.1,1083.4 1533.0,1083.3 1534.9,1083.3 1536.8,1083.3 1538.7,1083.3 1540.6,1083.3 1542.5,1083.3 1544.3,1083.4 1546.2,1083.4 1548.1,1083.5 1548.1,1083.5 1550.0,1083.6 1551.9,1083.7 1553.8,1083.9 1555.7,1084.1 1557.6,1084.2 1559.5,1084.5 1561.4,1084.7 1563.3,1085.0 1565.1,1085.2 1567.0,1085.5 1568.9,1085.8 1570.8,1086.2 1572.7,1086.5 1574.6,1086.9 1576.5,1087.3 1578.4,1087.7 1580.3,1088.1 1582.2,1088.5 1584.1,1089.0 1585.9,1089.5 1587.8,1089.9 1589.7,1090.4 1591.6,1090.9 1593.5,1091.5 1595.4,1092.0 1597.3,1092.5 1599.2,1093.1 1601.1,1093.7 1603.0,1094.3 1604.9,1094.9 1606.7,1095.5 1608.6,1096.1 1610.5,1096.7 1612.4,1097.3 1614.3,1098.0 1616.2,1098.6 1618.1,1099.3 1620.0,1099.9 1621.9,1100.6" fill="none" stroke="#f00" stroke-width="2.0" stroke-linejoin="round"/>
<polyline points="1179.4,1109.2 1181.3,1109.8 1183.2,1110.4 1185.0,1111.0 1186.9,1111.6 1188.8,1112.2 1190.7,1112.8 1192.6,1113.4 1194.5,1114.0 1196.4,1114.6 1198.3,1115.2 1200.2,1115.9 1202.1,1116.5 1204.0,1117.1 1205.8,1117.8 1207.7,1118.4 1209.6,1119.1 1211.5,1119.7 1213.4,1120.4 1215.3,1121.0 1217.2,1121.7 1219.1,1122.4 1221.0,1123.0 1222.9,1123.7 1224.8,1124.3 1226.7,1125.0 1228.5,1125.7 1230.4,1126.3 1232.3,1127.0 1234.2,1127.7 1236.1,1128.4 1238.0,1129.0 1239.9,1129.7 1241.8,1130.4 1243.7,1131.1 1245.6,1131.7 1247.5,1132.4 1249.3,1133.1 1251.2,1133.7 1253.1,1134.4 1253.1,1134.4 1255.0,1135.1 1256.9,1135.8 1258.8,1136.5 1260.7,1137.2 1262.6,1137.9 1264.5,1138.6 1266.4,1139.4 1268.3,1140.1 1270.1,1140.9 1272.0,1141.6 1273.9,1142.4 1275.8,1143.2 1277.7,1144.0 1279.6,1144.8 1281.5,1145.6 1283.4,1146.4 1285.3,1147.2 1287.2,1148.0 1289.1,1148.8 1290.9,1149.7 1292.8,1150.5 1294.7,1151.3 1296.6,1152.1 1298.5,1153.0 1300.4,1153.8 1302.3,1154.6 1304.2,1155.4 1306.1,1156.3 1308.0,1157.1 1309.9,1157.9 1311.7,1158.7 1313.6,1159.5 1315.5,1160.3 1317.4,1161.1 1319.3,1161.9 1321.2,1162.7 1323.1,1163.5 1325.0,1164.2 1326.9,1165.0 1326.9,1165.0 1328.8,1165.7 1330.7,1166.3 1332.5,1166.8 1334.4,1167.2 1336.3,1167.5 1338.2,1167.7 1340.1,1167.8 1342.0,1167.9 1343.9,1167.9 1345.8,1167.8 1347.7,1167.7 1349.6,1167.5 1351.5,1167.3 1353.3,1167.0 1355.2,1166.7 1357.1,1166.4 1359.0,1166.1 1360.9,1165.7 1362.8,1165.4 1364.7,1165.0 1366.6,1164.6 1368.5,1164.3 1370.4,1163.9 1372.3,1163.6 1374.2,1163.3 1376.0,1163.0 1377.9,1162.8 1379.8,1162.6 1381.7,1162.4 1383.6,1162.4 1385.5,1162.3 1387.4,1162.4 1389.3,1162.5 1391.2,1162.7 1393.1,1162.9 1395.0,1163.3 1396.8,1163.8 1398.7,1164.3 1400.6,1165.0 1400.6,1165.0 1402.5,1166.0 1404.4,1167.4 1406.3,1169.2 1408.2,1171.5 1410.1,1174.1 1412.0,1177.1 1413.9,1180.5 1415.8,1184.1 1417.6,1188.0 1419.5,1192.2 1421.4,1196.7 1423.3,1201.3 1425.2,1206.2 1427.1,1211.2 1429.0,1216.3 1430.9,1221.6 1432.8,1227.0 1434.7,1232.4 1436.6,1237.9 1438.4,1243.4 1440.3,1248.9 1442.2,1254.4 1444.1,1259.8 1446.0,1265.2 1447.9,1270.5 1449.8,1275.6 1451.7,1280.6 1453.6,1285.4 1455.5,1290.1 1457.4,1294.5 1459.2,1298.7 1461.1,1302.6 1463.0,1306.2 1464.9,1309.5 1466.8,1312.5 1468.7,1315.1 1470.6,1317.3 1472.5,1319.1 1474.4,1320.5 1474.4,1320.5 1476.3,1321.6 1478.2,1322.6 1480.0,1323.5 1481.9,1324.3 1483.8,1325.0 1485.7,1325.6 1487.6,1326.2 1489.5,1326.6 1491.4,1327.1 1493.3,1327.4 1495.2,1327.7 1497.1,1328.0 1499.0,1328.2 1500.8,1328.3 1502.7,1328.5 1504.6,1328.6 1506.5,1328.7 1508.4,1328.8 1510.3,1328.9 1512.2,1328.9 1514.1,1329.0 1516.0,1329.1 1517.9,1329.2 1519.8,1329.4 1521.7,1329.5 1523.5,1329.7 1525.4,1330.0 1527.3,1330.2 1529.2,1330.6 1531.1,1331.0 1533.0,1331.4 1534.9,1331.9 1536.8,1332.5 1538.7,1333.2 1540.6,1334.0 1542.5,1334.8 1544.3,1335.8 1546.2,1336.8 1548.1,1338.0 1548.1,1338.0 1550.0,1339.2 1551.9,1340.4 1553.8,1341.7 1555.7,1342.9 1557.6,1344.1 1559.5,1345.3 1561.4,1346.6 1563.3,1347.8 1565.1,1349.0 1567.0,1350.3 1568.9,1351.5 1570.8,1352.8 1572.7,1354.0 1574.6,1355.3 1576.5,1356.6 1578.4,1357.9 1580.3,1359.2 1582.2,1360.6 1584.1,1361.9 1585.9,1363.3 1587.8,1364.7 1589.7,1366.1 1591.6,1367.5 1593.5,1369.0 1595.4,1370.5 1597.3,1372.0 1599.2,1373.5 1601.1,1375.1 1603.0,1376.6 1604.9,1378.2 1606.7,1379.9 1608.6,1381.6 1610.5,1383.3 1612.4,1385.0 1614.3,1386.8 1616.2,1388.6 1618.1,1390.4 1620.0,1392.3 1621.9,1394.2" fill="none" stroke="#00f" stroke-width="2.2" stroke-linejoin="round"/>
<polyline points="1179.4,1325.8 1181.3,1326.1 1183.2,1326.3 1185.0,1326.6 1186.9,1326.7 1188.8,1326.9 1190.7,1327.0 1192.6,1327.1 1194.5,1327.2 1196.4,1327.2 1198.3,1327.2 1200.2,1327.1 1202.1,1327.1 1204.0,1327.0 1205.8,1326.8 1207.7,1326.7 1209.6,1326.5 1211.5,1326.3 1213.4,1326.0 1215.3,1325.7 1217.2,1325.4 1219.1,1325.1 1221.0,1324.7 1222.9,1324.3 1224.8,1323.9 1226.7,1323.5 1228.5,1323.0 1230.4,1322.5 1232.3,1321.9 1234.2,1321.4 1236.1,1320.8 1238.0,1320.2 1239.9,1319.6 1241.8,1318.9 1243.7,1318.2 1245.6,1317.5 1247.5,1316.8 1249.3,1316.0 1251.2,1315.2 1253.1,1314.4 1253.1,1314.4 1255.0,1313.5 1256.9,1312.5 1258.8,1311.4 1260.7,1310.1 1262.6,1308.8 1264.5,1307.4 1266.4,1305.9 1268.3,1304.3 1270.1,1302.6 1272.0,1300.9 1273.9,1299.1 1275.8,1297.3 1277.7,1295.4 1279.6,1293.5 1281.5,1291.5 1283.4,1289.6 1285.3,1287.6 1287.2,1285.7 1289.1,1283.7 1290.9,1281.7 1292.8,1279.8 1294.7,1277.9 1296.6,1276.0 1298.5,1274.2 1300.4,1272.4 1302.3,1270.7 1304.2,1269.0 1306.1,1267.4 1308.0,1265.9 1309.9,1264.4 1311.7,1263.1 1313.6,1261.8 1315.5,1260.7 1317.4,1259.7 1319.3,1258.8 1321.2,1258.0 1323.1,1257.4 1325.0,1256.9 1326.9,1256.6 1326.9,1256.6 1328.8,1256.4 1330.7,1256.2 1332.5,1256.0 1334.4,1255.8 1336.3,1255.7 1338.2,1255.6 1340.1,1255.6 1342.0,1255.5 1343.9,1255.5 1345.8,1255.5 1347.7,1255.5 1349.6,1255.5 1351.5,1255.5 1353.3,1255.6 1355.2,1255.6 1357.1,1255.7 1359.0,1255.8 1360.9,1255.9 1362.8,1255.9 1364.7,1256.0 1366.6,1256.1 1368.5,1256.2 1370.4,1256.3 1372.3,1256.4 1374.2,1256.5 1376.0,1256.6 1377.9,1256.7 1379.8,1256.8 1381.7,1256.8 1383.6,1256.9 1385.5,1256.9 1387.4,1256.9 1389.3,1256.9 1391.2,1256.9 1393.1,1256.9 1395.0,1256.9 1396.8,1256.8 1398.7,1256.7 1400.6,1256.6 1400.6,1256.6 1402.5,1256.5 1404.4,1256.4 1406.3,1256.2 1408.2,1256.1 1410.1,1256.0 1412.0,1255.9 1413.9,1255.8 1415.8,1255.7 1417.6,1255.6 1419.5,1255.4 1421.4,1255.3 1423.3,1255.2 1425.2,1255.1 1427.1,1254.9 1429.0,1254.8 1430.9,1254.6 1432.8,1254.5 1434.7,1254.3 1436.6,1254.1 1438.4,1253.9 1440.3,1253.7 1442.2,1253.5 1444.1,1253.3 1446.0,1253.0 1447.9,1252.8 1449.8,1252.5 1451.7,1252.2 1453.6,1251.9 1455.5,1251.6 1457.4,1251.3 1459.2,1250.9 1461.1,1250.5 1463.0,1250.1 1464.9,1249.7 1466.8,1249.2 1468.7,1248.8 1470.6,1248.3 1472.5,1247.7 1474.4,1247.2 1474.4,1247.2 1476.3,1246.6 1478.2,1245.8 1480.0,1244.9 1481.9,1243.9 1483.8,1242.8 1485.7,1241.5 1487.6,1240.2 1489.5,1238.8 1491.4,1237.3 1493.3,1235.7 1495.2,1234.0 1497.1,1232.3 1499.0,1230.5 1500.8,1228.6 1502.7,1226.7 1504.6,1224.8 1506.5,1222.8 1508.4,1220.8 1510.3,1218.8 1512.2,1216.8 1514.1,1214.7 1516.0,1212.7 1517.9,1210.7 1519.8,1208.6 1521.7,1206.6 1523.5,1204.7 1525.4,1202.7 1527.3,1200.8 1529.2,1199.0 1531.1,1197.2 1533.0,1195.4 1534.9,1193.8 1536.8,1192.2 1538.7,1190.7 1540.6,1189.2 1542.5,1187.9 1544.3,1186.6 1546.2,1185.5 1548.1,1184.5 1548.1,1184.5 1550.0,1183.6 1551.9,1182.6 1553.8,1181.7 1555.7,1180.8 1557.6,1179.9 1559.5,1179.0 1561.4,1178.2 1563.3,1177.3 1565.1,1176.5 1567.0,1175.6 1568.9,1174.8 1570.8,1174.0 1572.7,1173.2 1574.6,1172.4 1576.5,1171.6 1578.4,1170.8 1580.3,1170.0 1582.2,1169.2 1584.1,1168.5 1585.9,1167.7 1587.8,1166.9 1589.7,1166.2 1591.6,1165.4 1593.5,1164.6 1595.4,1163.9 1597.3,1163.1 1599.2,1162.3 1601.1,1161.6 1603.0,1160.8 1604.9,1160.0 1606.7,1159.2 1608.6,1158.4 1610.5,1157.6 1612.4,1156.8 1614.3,1156.0 1616.2,1155.2 1618.1,1154.4 1620.0,1153.5 1621.9,1152.7 1621.9,1152.7 1623.8,1151.8 1625.7,1150.9 1627.5,1149.9 1629.4,1149.0 1631.3,1147.9 1633.2,1146.8 1635.1,1145.7 1637.0,1144.6 1638.9,1143.5 1640.8,1142.3 1642.7,1141.1 1644.6,1139.9 1646.5,1138.6 1648.3,1137.4 1650.2,1136.1 1652.1,1134.8 1654.0,1133.6 1655.9,1132.3 1657.8,1131.0 1659.7,1129.7 1661.6,1128.5 1663.5,1127.2 1665.4,1125.9 1667.3,1124.7 1669.2,1123.5 1671.0,1122.3 1672.9,1121.1 1674.8,1119.9 1676.7,1118.7 1678.6,1117.6 1680.5,1116.5 1682.4,1115.5 1684.3,1114.5 1686.2,1113.5 1688.1,1112.5 1690.0,1111.6 1691.8,1110.8 1693.7,1110.0 1695.6,1109.2 1695.6,1109.2 1697.5,1108.8 1699.4,1109.1 1701.3,1110.0 1703.2,1111.5 1705.1,1113.6 1707.0,1116.2 1708.9,1119.4 1710.8,1123.0 1712.6,1127.0 1714.5,1131.5 1716.4,1136.3 1718.3,1141.5 1720.2,1147.1 1722.1,1152.9 1724.0,1158.9 1725.9,1165.2 1727.8,1171.6 1729.7,1178.3 1731.6,1185.0 1733.4,1191.8 1735.3,1198.7 1737.2,1205.7 1739.1,1212.6 1741.0,1219.5 1742.9,1226.3 1744.8,1233.1 1746.7,1239.7 1748.6,1246.1 1750.5,1252.4 1752.4,1258.4 1754.2,1264.2 1756.1,1269.6 1758.0,1274.8 1759.9,1279.6 1761.8,1284.1 1763.7,1288.1 1765.6,1291.6 1767.5,1294.7 1769.4,1297.3 1769.4,1297.3 1771.3,1299.6 1773.2,1301.8 1775.0,1303.9 1776.9,1305.9 1778.8,1307.9 1780.7,1309.7 1782.6,1311.5 1784.5,1313.2 1786.4,1314.8 1788.3,1316.3 1790.2,1317.8 1792.1,1319.1 1794.0,1320.3 1795.8,1321.5 1797.7,1322.5 1799.6,1323.5 1801.5,1324.3 1803.4,1325.1 1805.3,1325.8 1807.2,1326.3 1809.1,1326.8 1811.0,1327.1 1812.9,1327.3 1814.8,1327.5 1816.7,1327.5 1818.5,1327.4 1820.4,1327.2 1822.3,1326.9 1824.2,1326.5 1826.1,1325.9 1828.0,1325.3 1829.9,1324.5 1831.8,1323.6 1833.7,1322.6 1835.6,1321.4 1837.5,1320.1 1839.3,1318.8 1841.2,1317.2 1843.1,1315.6" fill="none" stroke="#00f" stroke-width="2.2" stroke-linejoin="round"/>
<circle cx="1179.4" cy="1437.8" r="11.6" fill="#fff" stroke="#f00" stroke-width="4.3"/>
<circle cx="1253.1" cy="1437.8" r="11.6" fill="#fff" stroke="#f00" stroke-width="4.3"/>
<circle cx="1326.9" cy="1437.8" r="11.6" fill="#fff" stroke="#f00" stroke-width="4.3"/>
<circle cx="1400.6" cy="1435.0" r="11.6" fill="#fff" stroke="#f00" stroke-width="4.3"/>
<circle cx="1474.4" cy="1435.0" r="11.6" fill="#fff" stroke="#f00" stroke-width="4.3"/>
<circle cx="1548.1" cy="1431.7" r="11.6" fill="#fff" stroke="#f00" stroke-width="4.3"/>
<circle cx="1621.9" cy="1428.9" r="11.6" fill="#fff" stroke="#f00" stroke-width="4.3"/>
<circle cx="1695.6" cy="1428.9" r="11.6" fill="#fff" stroke="#f00" stroke-width="4.3"/>
<circle cx="1769.4" cy="1426.4" r="11.6" fill="#fff" stroke="#f00" stroke-width="4.3"/>
<circle cx="1843.1" cy="1423.6" r="11.6" fill="#fff" stroke="#f00" stroke-width="4.3"/>
<polygon points="1179.4,1058.7 1194.0,1073.3 1179.4,1087.9 1164.8,1073.3" fill="#fff" stroke="#f00" stroke-width="4" stroke-linejoin="miter"/>
<polygon points="1253.1,1058.7 1267.7,1073.3 1253.1,1087.9 1238.5,1073.3" fill="#fff" stroke="#f00" stroke-width="4" stroke-linejoin="miter"/>
<polygon points="1326.9,1058.7 1341.5,1073.3 1326.9,1087.9 1312.3,1073.3" fill="#fff" stroke="#f00" stroke-width="4" stroke-linejoin="miter"/>
<polygon points="1400.6,1064.8 1415.2,1079.4 1400.6,1094.0 1386.0,1079.4" fill="#fff" stroke="#f00" stroke-width="4" stroke-linejoin="miter"/>
<polygon points="1474.4,1070.1 1489.0,1084.7 1474.4,1099.3 1459.8,1084.7" fill="#fff" stroke="#f00" stroke-width="4" stroke-linejoin="miter"/>
<polygon points="1548.1,1068.9 1562.7,1083.5 1548.1,1098.1 1533.5,1083.5" fill="#fff" stroke="#f00" stroke-width="4" stroke-linejoin="miter"/>
<polygon points="1621.9,1086.0 1636.5,1100.6 1621.9,1115.2 1607.3,1100.6" fill="#fff" stroke="#f00" stroke-width="4" stroke-linejoin="miter"/>
<polygon points="1179.4,1094.6 1194.0,1109.2 1179.4,1123.8 1164.8,1109.2" fill="#fff" stroke="#00f" stroke-width="4" stroke-linejoin="miter"/>
<polygon points="1253.1,1119.8 1267.7,1134.4 1253.1,1149.0 1238.5,1134.4" fill="#fff" stroke="#00f" stroke-width="4" stroke-linejoin="miter"/>
<polygon points="1326.9,1150.4 1341.5,1165.0 1326.9,1179.6 1312.3,1165.0" fill="#fff" stroke="#00f" stroke-width="4" stroke-linejoin="miter"/>
<polygon points="1400.6,1150.4 1415.2,1165.0 1400.6,1179.6 1386.0,1165.0" fill="#fff" stroke="#00f" stroke-width="4" stroke-linejoin="miter"/>
<polygon points="1474.4,1305.9 1489.0,1320.5 1474.4,1335.1 1459.8,1320.5" fill="#fff" stroke="#00f" stroke-width="4" stroke-linejoin="miter"/>
<polygon points="1548.1,1323.4 1562.7,1338.0 1548.1,1352.6 1533.5,1338.0" fill="#fff" stroke="#00f" stroke-width="4" stroke-linejoin="miter"/>
<polygon points="1621.9,1379.6 1636.5,1394.2 1621.9,1408.8 1607.3,1394.2" fill="#fff" stroke="#00f" stroke-width="4" stroke-linejoin="miter"/>
<circle cx="1179.4" cy="1325.8" r="11.6" fill="#fff" stroke="#00f" stroke-width="4.3"/>
<circle cx="1253.1" cy="1314.4" r="11.6" fill="#fff" stroke="#00f" stroke-width="4.3"/>
<circle cx="1326.9" cy="1256.6" r="11.6" fill="#fff" stroke="#00f" stroke-width="4.3"/>
<circle cx="1400.6" cy="1256.6" r="11.6" fill="#fff" stroke="#00f" stroke-width="4.3"/>
<circle cx="1474.4" cy="1247.2" r="11.6" fill="#fff" stroke="#00f" stroke-width="4.3"/>
<circle cx="1548.1" cy="1184.5" r="11.6" fill="#fff" stroke="#00f" stroke-width="4.3"/>
<circle cx="1621.9" cy="1152.7" r="11.6" fill="#fff" stroke="#00f" stroke-width="4.3"/>
<circle cx="1695.6" cy="1109.2" r="11.6" fill="#fff" stroke="#00f" stroke-width="4.3"/>
<circle cx="1769.4" cy="1297.3" r="11.6" fill="#fff" stroke="#00f" stroke-width="4.3"/>
<circle cx="1843.1" cy="1315.6" r="11.6" fill="#fff" stroke="#00f" stroke-width="4.3"/>
<line x1="1274.8" y1="956.5" x2="1343.9" y2="956.5" stroke="#f00" stroke-width="2"/>
<line x1="1362.6" y1="956.8" x2="1432" y2="956.8" stroke="#00f" stroke-width="2.2"/>
<line x1="1274.8" y1="994.2" x2="1343.9" y2="994.2" stroke="#f00" stroke-width="2"/>
<line x1="1362.6" y1="995.4" x2="1432" y2="995.4" stroke="#00f" stroke-width="2.2"/>
<circle cx="1309.5" cy="956.5" r="12.8" fill="#fff" stroke="#f00" stroke-width="3.4"/>
<circle cx="1397.4" cy="956.8" r="12.8" fill="#fff" stroke="#00f" stroke-width="3.4"/>
<polygon points="1309.5,978.2 1325.5,994.2 1309.5,1010.2 1293.5,994.2" fill="#fff" stroke="#f00" stroke-width="3.4"/>
<polygon points="1397.4,979.4 1413.4,995.4 1397.4,1011.4 1381.4,995.4" fill="#fff" stroke="#00f" stroke-width="3.4"/>
<text transform="translate(1442.0,967.8) scale(1.012,1.065)" font-size="30.5" font-weight="bold">Ru(0)-H</text>
<text transform="translate(1442.0,1006.6) scale(1.012,1.065)" font-size="30.5" font-weight="bold">Ru(between 2+ ~ 4+)-H</text>
<line x1="1140.5" y1="911.6" x2="1882.0" y2="911.6" stroke="#000" stroke-width="4.2"/>
<line x1="1140.5" y1="1505.3" x2="1882.0" y2="1505.3" stroke="#000" stroke-width="4.2"/>
<line x1="1142.5" y1="1505.3" x2="1142.5" y2="1516.8" stroke="#000" stroke-width="3.4"/>
<text transform="translate(1142.5,1554.8) scale(1.012,1.065)" font-size="35" font-weight="bold" text-anchor="middle">−1.0</text>
<line x1="1216.2" y1="1505.3" x2="1216.2" y2="1511.3" stroke="#000" stroke-width="3.4"/>
<line x1="1290.0" y1="1505.3" x2="1290.0" y2="1516.8" stroke="#000" stroke-width="3.4"/>
<text transform="translate(1290.0,1554.8) scale(1.012,1.065)" font-size="35" font-weight="bold" text-anchor="middle">−0.8</text>
<line x1="1363.8" y1="1505.3" x2="1363.8" y2="1511.3" stroke="#000" stroke-width="3.4"/>
<line x1="1437.5" y1="1505.3" x2="1437.5" y2="1516.8" stroke="#000" stroke-width="3.4"/>
<text transform="translate(1437.5,1554.8) scale(1.012,1.065)" font-size="35" font-weight="bold" text-anchor="middle">−0.6</text>
<line x1="1511.2" y1="1505.3" x2="1511.2" y2="1511.3" stroke="#000" stroke-width="3.4"/>
<line x1="1585.0" y1="1505.3" x2="1585.0" y2="1516.8" stroke="#000" stroke-width="3.4"/>
<text transform="translate(1585.0,1554.8) scale(1.012,1.065)" font-size="35" font-weight="bold" text-anchor="middle">−0.4</text>
<line x1="1658.8" y1="1505.3" x2="1658.8" y2="1511.3" stroke="#000" stroke-width="3.4"/>
<line x1="1732.5" y1="1505.3" x2="1732.5" y2="1516.8" stroke="#000" stroke-width="3.4"/>
<text transform="translate(1732.5,1554.8) scale(1.012,1.065)" font-size="35" font-weight="bold" text-anchor="middle">−0.2</text>
<line x1="1806.2" y1="1505.3" x2="1806.2" y2="1511.3" stroke="#000" stroke-width="3.4"/>
<line x1="1880.0" y1="1505.3" x2="1880.0" y2="1516.8" stroke="#000" stroke-width="3.4"/>
<text transform="translate(1880.0,1554.8) scale(1.012,1.065)" font-size="35" font-weight="bold" text-anchor="middle">0.0</text>
<line x1="1142.5" y1="909.6" x2="1142.5" y2="1507.3" stroke="#f00" stroke-width="4.2"/>
<line x1="1142.5" y1="1505.3" x2="1154.5" y2="1505.3" stroke="#f00" stroke-width="3.4"/>
<text transform="translate(1128.6,1517.9) scale(1.012,1.065)" font-size="35" font-weight="bold" text-anchor="end">1800</text>
<line x1="1142.5" y1="1370.4" x2="1154.5" y2="1370.4" stroke="#f00" stroke-width="3.4"/>
<text transform="translate(1128.6,1383.0) scale(1.012,1.065)" font-size="35" font-weight="bold" text-anchor="end">1850</text>
<line x1="1142.5" y1="1235.5" x2="1154.5" y2="1235.5" stroke="#f00" stroke-width="3.4"/>
<text transform="translate(1128.6,1248.1) scale(1.012,1.065)" font-size="35" font-weight="bold" text-anchor="end">1900</text>
<line x1="1142.5" y1="1100.6" x2="1154.5" y2="1100.6" stroke="#f00" stroke-width="3.4"/>
<text transform="translate(1128.6,1113.2) scale(1.012,1.065)" font-size="35" font-weight="bold" text-anchor="end">1950</text>
<line x1="1142.5" y1="965.8" x2="1154.5" y2="965.8" stroke="#f00" stroke-width="3.4"/>
<text transform="translate(1128.6,978.4) scale(1.012,1.065)" font-size="35" font-weight="bold" text-anchor="end">2000</text>
<line x1="1880.0" y1="909.6" x2="1880.0" y2="1507.3" stroke="#00f" stroke-width="4.2"/>
<line x1="1880.0" y1="1505.3" x2="1868.0" y2="1505.3" stroke="#00f" stroke-width="3.4"/>
<text transform="translate(1894.5,1516.5) scale(1.012,1.065)" font-size="35" font-weight="bold">0.4</text>
<line x1="1880.0" y1="1373.4" x2="1868.0" y2="1373.4" stroke="#00f" stroke-width="3.4"/>
<text transform="translate(1894.5,1384.6) scale(1.012,1.065)" font-size="35" font-weight="bold">0.6</text>
<line x1="1880.0" y1="1241.4" x2="1868.0" y2="1241.4" stroke="#00f" stroke-width="3.4"/>
<text transform="translate(1894.5,1252.6) scale(1.012,1.065)" font-size="35" font-weight="bold">0.8</text>
<line x1="1880.0" y1="1109.5" x2="1868.0" y2="1109.5" stroke="#00f" stroke-width="3.4"/>
<text transform="translate(1894.5,1120.7) scale(1.012,1.065)" font-size="35" font-weight="bold">1.0</text>
<line x1="1880.0" y1="977.6" x2="1868.0" y2="977.6" stroke="#00f" stroke-width="3.4"/>
<text transform="translate(1894.5,988.8) scale(1.012,1.065)" font-size="35" font-weight="bold">1.2</text>
<line x1="1142.5" y1="1505.3" x2="1142.5" y2="1516.8" stroke="#000" stroke-width="3.4"/>
<text transform="translate(1516.4,1606.7) scale(1.012,1.065)" font-size="35.9" font-weight="bold" text-anchor="middle">Potential / V vs.RHE</text>
<text transform="translate(1020.2,1385.4) rotate(-90) scale(1.012,1.065)" font-size="35.8" font-weight="bold">Raman shift / cm<tspan font-size="24" dy="-14">−1</tspan></text>
<text transform="translate(1986,1451.2) rotate(-90) scale(1.012,1.065)" font-size="35.9" font-weight="bold">Normalized Raman intensity</text>
<text transform="translate(986.2,886.6) scale(1.012,1.065)" font-size="48" font-weight="bold">e</text>
</svg>
</body></html>
